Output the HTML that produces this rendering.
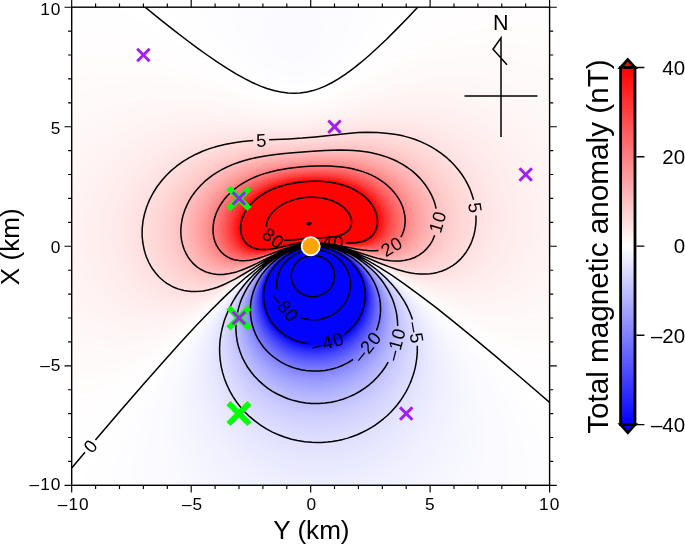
<!DOCTYPE html>
<html><head><meta charset="utf-8"><title>Total magnetic anomaly</title>
<style>html,body{margin:0;padding:0;background:#fff}svg{display:block}text{font-family:'Liberation Sans', sans-serif;fill:#000}</style></head><body>
<svg width="685" height="545" viewBox="0 0 685 545">
<rect width="685" height="545" fill="#fff"/>
<defs><clipPath id="mc"><rect x="71.7" y="7.2" width="477.9" height="478.1"/></clipPath>
<linearGradient id="cb" x1="0" y1="0" x2="0" y2="1"><stop offset="0" stop-color="#f00"/><stop offset="0.5" stop-color="#fff"/><stop offset="1" stop-color="#00f"/></linearGradient></defs>
<g clip-path="url(#mc)">
<rect x="71.7" y="7.2" width="477.9" height="478.1" fill="#fff"/>
<g shape-rendering="geometricPrecision">
<path fill="#fffefe" d="M71.7 447.1L71.7 447.6L89.6 432L102.8 419.9L117.1 406.2L143.4 379.8L190.2 331.1L208.9 312L227.2 294.1L243.1 279.7L251.7 272.5L261.1 265.4L270 259.4L278.1 254.6L285.4 251L293.9 247.8L301.1 245.8L308.3 244.6L315.4 244.2L323.8 244.7L332.2 246.1L340.5 248.4L348.9 251.4L358.8 255.8L368 260.6L378.3 266.6L395.1 277.3L415.5 291.7L438 308.4L483.9 343.6L507.8 361.6L529.3 377.3L549.6 391.4L549.6 7.2L432.9 7.2L390.6 43.1L374.7 56.2L359.3 68.2L345.4 77.7L337.5 82.5L331 86L325.6 88.5L319 91L311.8 93.2L306.1 94.5L299.9 95.2L293.9 95.5L287.9 95.3L282 94.6L276 93.5L270 92L262.7 89.7L256.4 87.3L248.1 83.7L240.6 80.1L229.3 74.1L214.6 65.8L149.4 25.9L132.6 16.1L116.8 7.2L71.7 7.2Z"/>
<path fill="#fefeff" d="M79.3 485.3L549.6 485.3L549.6 416L534.5 399.2L517.2 381.3L498.9 363.4L479.5 345.5L459.1 327.5L439.1 310.8L417.8 294.1L399.8 280.9L383.9 270.2L370 261.8L358.7 255.8L346.5 250.5L335.7 247L329.8 245.6L325 244.9L320.2 244.4L315.4 244.2L310.7 244.4L305.9 245L301.1 245.8L295.1 247.4L290.3 249L284.4 251.5L273.9 257L268.2 260.6L261.2 265.4L248.9 274.9L235.3 286.9L220.3 301.2L205.2 316.8L186.7 337.1L168.1 358.6L149.5 381.3L133 402.8L117.4 424.3L103.7 444.7L90.2 466.2ZM291.3 90.9L297.5 90.8L303.5 90.2L310.7 88.7L316.6 86.8L323.8 83.8L329.8 80.7L336.7 76.5L343.5 71.7L351 65.8L357.9 59.8L365.5 52.6L373.6 44.3L381.2 35.9L389.3 26.3L397 16.8L404.2 7.2L166.1 7.2L173.8 15.6L181.9 23.9L190.5 32.3L199.5 40.7L209.2 49L218 56.2L225.9 62.2L234.4 68.2L241.8 72.9L250 77.7L256.9 81.3L265.1 84.9L271.8 87.3L278.4 89.1L284.4 90.2Z"/>
<path fill="#fffdfd" d="M71.7 418.4L71.7 419L83.6 413.1L93.2 407.9L102.8 402.1L111.1 396.6L119.5 390.8L127.9 384.5L137.4 377L152.9 363.8L168.5 349.8L184 335.1L216.6 303.6L232 289.3L245.7 277.3L259.4 266.6L266.2 261.8L271.8 258.2L278.1 254.6L285.4 251L291.3 248.6L297.5 246.7L303.5 245.3L309.5 244.5L315.4 244.2L322.6 244.6L328.6 245.4L335.7 247L342.9 249.2L350.9 252.2L358.9 255.8L365.9 259.4L380.5 267.8L397.3 278.5L413.1 289.3L463.6 324.9L479.1 335.3L492.3 343.6L507.8 352.8L522.1 360.5L536.5 367.4L549.6 373L549.6 7.2L476.1 7.2L463.6 12.6L452.8 17.7L442.1 23.3L428.9 30.6L406.2 44.5L361 74.1L349.2 81.3L340.5 86.1L333.2 89.7L327.7 92.1L317.6 95.6L313 96.9L307.1 98.1L302.3 98.8L297 99.2L287.9 99.1L278.4 98L267.5 95.6L255.7 92L246.2 88.5L234.8 83.7L191.2 63.8L172.1 55.4L151.7 47.4L133.8 41.3L118.3 36.8L102.8 33.1L87.2 30.3L71.7 28.3Z"/>
<path fill="#fdfdff" d="M108.9 485.3L549.6 485.3L549.6 460.9L546.6 453L542.6 443.5L538.2 433.9L533.9 425.5L529.2 417.2L524.2 408.8L518 399.2L512.2 390.9L506 382.5L498.5 372.9L484.1 356.2L476.3 347.8L466.9 338.3L449.3 321.6L439.9 313.2L428.7 303.6L409.1 288.1L399.3 280.9L389 273.7L377.9 266.6L369.8 261.8L361 257L353.4 253.4L345.3 250.1L338.1 247.7L331 245.9L325 244.9L317.8 244.3L311.8 244.4L305.9 245L299.3 246.2L292.7 248.2L286.8 250.5L280.5 253.4L274 257L268.2 260.6L259.7 266.6L250.6 273.7L243.5 279.7L235.6 286.9L226.9 295.3L209.6 313.2L199.9 323.9L191.7 333.5L176.3 352.6L169.1 362.2L161.5 372.9L148.9 392.1L143.1 401.6L137.8 411.2L128.7 429.1L124.4 438.7L120.4 448.2L116.9 457.8L114.1 466.2L111.3 475.7ZM289.9 84.9L296.3 85L302.3 84.5L308.3 83.2L314.2 81.3L320.2 78.6L326.2 75.2L333 70.5L338.8 65.8L345.1 59.8L350.6 53.8L356.5 46.6L361.8 39.5L366.4 32.3L371.2 23.9L375.4 15.6L379.1 7.2L200 7.2L203.6 14.4L207.6 21.5L212.2 28.7L217.3 35.9L223 43.1L228.3 49L234.2 55L240.7 61L246.6 65.8L253.2 70.5L258.8 74.1L265.5 77.7L271.2 80.3L277.5 82.5L283.2 83.9Z"/>
<path fill="#fffcfc" d="M71.7 396.9L71.7 397.9L81.3 395.6L90.8 392.7L100.4 389.1L108.7 385.5L118.3 380.7L126.7 376L135 370.9L143.4 365.3L151.7 359.3L161.3 352L170.9 344.2L188.8 328.6L223.7 296.5L235.7 285.7L249.9 273.7L261 265.4L268 260.6L273.8 257L280.3 253.4L286.8 250.4L292.7 248.1L298.7 246.4L304.7 245.1L310.7 244.4L315.4 244.2L321.4 244.4L327.4 245.2L333.4 246.4L339.3 248L344.9 249.8L351 252.2L359 255.8L372.6 263L386.6 271.4L403.3 282.1L450.4 313.7L467.2 324L482.7 332.9L492.3 337.8L500.6 341.8L509 345.4L517.3 348.7L525.7 351.6L534.1 354.1L541.2 355.9L549.6 357.6L549.6 23.8L538.8 22.9L528.1 22.5L517.3 22.6L505.4 23.5L494.6 24.8L482.7 26.9L470.7 29.7L458.8 33.1L448 36.7L436.1 41.3L425.3 45.9L414.6 50.9L394.3 61.3L353.9 83.7L344.6 88.5L334.2 93.3L325 96.8L316.6 99.4L307.1 101.4L298.7 102.4L290.3 102.5L280.8 101.8L272.4 100.4L261.7 97.9L253.9 95.6L243.1 92.1L203.1 77.2L182.8 70.3L164.9 64.9L155.3 62.5L145.8 60.4L136.2 58.6L126.7 57.2L117.1 56.2L107.5 55.5L98 55.2L89.6 55.3L80.1 55.8L71.7 56.6Z"/>
<path fill="#fcfcff" d="M129.9 485.3L528.7 485.3L528.3 476.9L527.4 467.4L525.9 457.8L524 448.2L521.6 438.7L519 430.3L515.6 420.8L512.2 412.4L508.4 404L503.5 394.5L498.8 386.1L492.8 376.5L487.1 368.2L480.9 359.8L473.3 350.2L466.2 341.9L457.4 332.3L446.8 321.6L436.7 312L425.9 302.4L414.4 292.9L403.7 284.5L392.2 276.1L381.5 269L371.7 263L363.1 258.2L353.4 253.4L345.3 250.1L337.2 247.4L329.8 245.7L322.6 244.6L315.4 244.3L309.5 244.6L302.3 245.6L295.1 247.4L288.4 249.8L280.5 253.4L274 257L266.5 261.8L259.8 266.6L250.7 273.7L242.4 280.9L233.4 289.3L224.9 297.6L215.9 307.2L207.3 316.8L199.2 326.3L190.6 337.1L183.4 346.7L177.5 355L171.2 364.6L165.3 374.1L159.8 383.7L154.8 393.3L150.2 402.8L146.6 411.2L142.9 420.8L139.6 430.3L136.8 439.9L134.7 448.2L132.8 457.8L131.4 467.4L130.5 475.7ZM289.2 76.5L295.1 76.9L300.1 76.5L305.9 75.3L311.8 73.2L316.9 70.5L322.3 67L326.6 63.4L331.4 58.6L335.4 53.8L339.6 47.8L343.1 41.9L346.6 34.7L348.9 28.7L350.9 21.5L352.4 14.4L353.1 7.2L231.2 7.2L231.9 13.2L233.2 19.2L234.9 25.1L237.2 31.1L240 37.1L242.7 41.9L246.7 47.8L250.4 52.6L254.7 57.4L259.7 62.2L264.2 65.8L269.6 69.4L273.9 71.7L279.5 74.1L284.4 75.6Z"/>
<path fill="#fffbfb" d="M71.7 380.1L71.7 380.6L76.5 380.4L87.2 379.4L96.8 377.8L106.3 375.4L115.9 372.3L124.3 369L133.8 364.5L143.4 359.4L151.7 354.3L160.1 348.8L169.7 342L179.2 334.6L197.1 319.6L229.9 290.5L241 280.9L252.8 271.4L264.3 263L275.8 255.8L282.7 252.2L288.1 249.8L293.9 247.7L299.9 246L305.9 244.9L310.7 244.4L315.4 244.2L321.4 244.4L327.4 245.2L333.4 246.4L339.3 248L345 249.8L351.1 252.2L359.1 255.8L370.6 261.8L385 270.2L398.3 278.5L432.5 300.7L451.6 312.4L469.6 322.2L479.1 326.8L487.5 330.5L495.8 333.8L504.2 336.7L512.6 339.1L519.7 340.8L528.1 342.4L535.3 343.4L542.4 343.9L549.6 344.1L549.6 49.9L538.8 47.1L526.9 44.8L515 43.4L503 42.7L491.1 42.8L479.1 43.6L467.2 45.2L454 47.7L443.3 50.3L432.5 53.5L421.8 57.2L409.8 61.8L399.1 66.4L388.3 71.3L347.9 90.9L339.8 94.5L330.8 98L322.6 100.8L314.2 103L307.1 104.3L298.7 105.2L291.5 105.4L283.2 105L274.8 103.9L265.2 102.1L249.4 98L209.1 85.6L191.2 80.5L181.6 78.2L170.9 75.9L160.1 74L150.6 72.7L141 71.8L130.2 71.3L119.5 71.2L109.9 71.7L100.4 72.6L90.8 74L81.3 75.9L71.7 78.3Z"/>
<path fill="#fbfbff" d="M146.7 485.3L507.5 485.3L508.5 475.7L509 465L508.7 454.2L507.9 444.7L506.8 436.3L505.2 427.9L503.2 419.6L500.7 411.2L497.8 402.8L495 395.7L491.3 387.3L487 378.9L482.4 370.6L477.2 362.2L471.5 353.8L466.2 346.7L460.5 339.5L453.4 331.1L439.9 316.8L431.3 308.4L422 300L413.6 292.9L403.1 284.5L393.5 277.3L383.1 270.2L373.6 264.2L365.3 259.4L355.9 254.6L348.9 251.5L341 248.6L334.5 246.8L327.4 245.3L321.4 244.5L314.2 244.3L308.3 244.7L302.3 245.6L295.1 247.4L288.4 249.8L280.6 253.4L274.1 257L266.6 261.8L258.3 267.8L250.9 273.7L242.6 280.9L233.7 289.3L224.3 298.8L215.5 308.4L207.3 318L200.5 326.3L193.3 335.9L185.7 346.7L180.3 355L175.3 363.4L170 372.9L165.8 381.3L162 389.7L158.1 399.2L155.1 407.6L152.6 416L150.4 424.3L148.6 432.7L147.2 441.1L146.2 450.6L145.6 460.2L145.5 468.6L145.9 476.9ZM295 62.2L297.5 62L301.1 61.3L304.7 60L307.4 58.6L310.7 56.3L313.3 53.8L315.4 51.3L317.8 47.8L319.6 44.3L321 40.7L322 37.1L322.8 32.3L322.9 27.5L322.5 23.9L321.8 20.3L320.6 16.8L317.8 11.3L314.7 7.2L273.2 7.2L270.4 10.8L268.3 14.4L266.9 18L265.7 22.7L265.3 27.5L265.5 32.3L266.4 37.1L268 41.9L270.4 46.6L272.8 50.2L276 53.8L279.6 56.9L283.2 59.1L286.8 60.7L290.3 61.7Z"/>
<path fill="#fffafa" d="M74 365.8L82.5 366.7L92 366.8L101.6 366.2L111.1 364.7L120.7 362.5L130.2 359.4L139.8 355.6L149.4 351L157.7 346.4L166.1 341.3L175.6 334.8L185.2 327.8L203.1 313.3L233.7 286.9L245.1 277.3L255.8 269L266 261.8L271.6 258.2L277.9 254.6L282.6 252.2L289.1 249.4L294.7 247.4L299.9 246L305.9 244.9L310.7 244.4L315.4 244.2L321.4 244.4L326.8 245.1L332.2 246.1L337.6 247.4L344.1 249.5L350.1 251.8L356.6 254.6L368.6 260.6L381.3 267.8L395 276.1L426.5 295.9L444.5 306.5L454 311.6L463.6 316.3L473.1 320.6L481.5 323.9L491.1 327.1L499.4 329.4L507.8 331.1L516.1 332.4L524.5 333.1L532.9 333.3L541.2 332.8L549.6 331.7L549.6 71.1L538.8 66.7L526.9 62.8L515 59.9L503 57.9L491.1 56.7L477.9 56.4L466 56.9L452.8 58.3L440.9 60.4L430.1 62.8L418.2 66.1L406.2 70L396.7 73.6L384.7 78.4L344.9 95.6L335.7 99.2L328.6 101.7L320.8 104L313 105.8L304.7 107.2L297.5 107.8L290.3 107.9L283.6 107.6L276 106.8L268.8 105.7L253.3 102.4L212.7 91.7L194.8 87.6L184 85.5L174.4 84.1L163.7 82.9L154.1 82.2L143.4 82L132.6 82.3L121.9 83.2L111.1 84.8L100.4 87L90.8 89.5L81.3 92.7L71.7 96.5L71.7 365.4Z"/>
<path fill="#fafaff" d="M160.9 485.3L490.3 485.3L492.5 475.7L494 467.4L495 457.8L495.5 448.2L495.3 438.7L494.7 430.3L493.5 420.8L491.6 411.2L489.9 404L487.7 396.9L484.8 388.5L481.9 381.3L478.6 374.1L475 367L470.2 358.6L465.7 351.4L460.9 344.3L455.5 337.1L449.8 329.9L443.6 322.7L437 315.6L429.9 308.4L415.6 295.3L407.1 288.1L399.5 282.1L391.4 276.1L382.8 270.2L373.4 264.2L365.1 259.4L358.2 255.8L350.4 252.2L344.4 249.8L337 247.4L331 245.9L325 244.9L319 244.4L313 244.3L307.1 244.8L301.1 245.9L295.1 247.5L288.4 249.8L280.6 253.4L274.1 257L266.7 261.8L258.4 267.8L251 273.7L242.8 280.9L234 289.3L225.9 297.6L218.2 306L210.1 315.6L203.5 323.9L196.5 333.5L189.3 344.3L184.2 352.6L179.5 361L175.3 369.4L171.4 377.7L168.1 386.1L165.1 394.5L162.6 402.8L160.5 411.2L158.8 419.6L157.5 427.9L156.7 436.3L156.3 444.7L156.4 453L156.9 461.4L157.8 469.8L159.3 478.1Z"/>
<path fill="#fff9f9" d="M92.9 356.2L100.4 356.7L108.7 356.6L117.1 355.8L125.5 354.3L133.8 352.2L142.2 349.5L150.6 346.1L158.9 342.1L167.3 337.5L174.4 333.1L184 326.7L192.4 320.6L209.1 307.4L246.4 276.1L257.3 267.8L267.7 260.6L273.6 257L280.1 253.4L285.2 251L290.3 248.9L296.3 247L301.1 245.8L305.9 244.9L310.7 244.4L315.4 244.2L320.2 244.3L325 244.8L331 245.8L335.7 246.9L341.6 248.6L348.3 251L354.1 253.4L364.2 258.2L377.4 265.4L391.6 273.7L421.8 292.2L440.9 303L450.4 307.8L460 312.2L469.6 316.1L477.9 318.9L487.5 321.6L497 323.6L506.6 324.8L515 325.2L524.5 325L532.9 324L541.2 322.3L549.6 319.9L549.6 89.6L538.8 83.6L528.1 78.6L517.3 74.6L505.4 71.2L493.4 68.8L481.5 67.3L469.6 66.6L457.6 66.7L446.9 67.5L434.9 69.1L423 71.4L409.8 74.8L397.9 78.4L384.7 83L346.5 98L333.2 102.8L325.4 105.2L317.8 107.2L310.7 108.6L304.7 109.4L297.5 110L289.1 110.2L282 109.8L273.6 108.9L258.1 106.3L218.7 97.3L198.3 93.4L187.6 91.8L176.8 90.7L166.1 90.1L156.5 90L144.6 90.5L133.8 91.6L123.1 93.3L112.3 95.8L101.6 99L92 102.6L82.5 106.9L72.2 112.4L71.7 112.7L71.7 351.6L76.5 353.1L82.5 354.6Z"/>
<path fill="#f9f9ff" d="M173 484.1L173.4 485.3L475.5 485.3L479.5 473.3L482.5 461.4L484.4 449.4L485.4 436.3L485.2 424.3L484 412.4L481.9 400.4L478.3 387.3L475.9 380.1L473.1 372.9L469.8 365.8L466.2 358.6L462.9 352.6L458.5 345.5L453.7 338.3L448.4 331.1L442.7 323.9L437.5 318L432 312L425 304.8L417.4 297.6L410.7 291.7L395.9 279.7L387.8 273.7L380.8 269L373.2 264.2L365 259.4L358.1 255.8L351.3 252.6L345.3 250.2L339.3 248.1L333.4 246.5L327.4 245.3L321.4 244.5L316.6 244.3L310.7 244.5L304.7 245.2L299.5 246.2L293.9 247.8L287.9 250.1L280.7 253.4L274.2 257L266.7 261.8L258.5 267.8L251.1 273.7L243 280.9L235.5 288.1L228.5 295.3L220.9 303.6L212.9 313.2L206.4 321.6L200.4 329.9L194.1 339.5L189.1 347.8L184.5 356.2L181 363.4L177.3 371.8L174.1 380.1L171.4 388.5L169.1 396.9L167.5 404L166 412.4L165 420.8L164.5 429.1L164.4 437.5L164.7 444.7L165.5 453L166.8 461.4L168.4 468.6L170.6 476.9Z"/>
<path fill="#fff8f8" d="M100.7 347.8L108.7 348.7L115.9 348.8L124.3 348.2L132.6 347L141 345.1L148.2 342.9L156.5 339.7L164.9 335.9L172.1 332.1L180.4 327.2L187.6 322.5L196 316.6L211.5 304.6L249.3 273.7L258.9 266.6L269.6 259.4L280.1 253.4L285.1 251L290.3 248.9L295.1 247.3L299.9 246L304.7 245.1L309.5 244.5L314.2 244.2L319 244.2L323.8 244.6L329.8 245.5L334.5 246.6L340.5 248.3L346.5 250.3L352.5 252.7L364.3 258.2L375.5 264.2L419.4 290L437.3 299.8L448 305L457.6 309L467.2 312.4L475.5 314.9L486.3 317.2L495.8 318.5L505.4 319L515 318.5L524.5 317.2L532.9 315.1L541.2 312.2L549.6 308.3L549.6 106.4L544.8 102.8L538.8 98.7L528.1 92.3L516.1 86.6L504.2 82.2L498.2 80.4L491.1 78.5L477.9 76.1L464.8 74.8L451.6 74.5L440.9 75.1L430.1 76.2L418.2 78.2L406.2 80.8L394.3 84.1L382.3 87.8L344 101.6L332.2 105.5L325 107.6L317.8 109.3L310.7 110.7L304.7 111.5L297.5 112.1L290.3 112.2L283.2 112L274.8 111.3L258.3 108.8L223.4 101.9L204.3 98.7L194.8 97.5L185.2 96.7L175.6 96.3L167.3 96.2L156.5 96.7L147 97.6L136.2 99.3L126.7 101.4L117.1 104.2L108.7 107.1L99.2 111.1L90.8 115.3L81.3 120.9L71.7 127.6L71.7 338.5L78.9 341.8L86 344.5L93.2 346.4Z"/>
<path fill="#f8f8ff" d="M184.9 485.3L462.3 485.3L465.7 478.1L468.6 471L471.1 463.8L473.1 456.6L474.8 449.4L476.2 441.1L477.1 432.7L477.4 425.5L477.4 417.2L476.9 410L476.1 402.8L474.7 394.5L473 387.3L471 380.1L468.6 372.9L465.3 364.6L462 357.4L458.9 351.4L454.9 344.3L451.1 338.3L446.2 331.1L441.7 325.1L436.9 319.2L430.7 312L419.1 300L405.9 288.1L392.4 277.3L384.1 271.4L376.9 266.6L369.1 261.8L362.7 258.2L351.3 252.7L345.3 250.2L339.3 248.2L333.4 246.5L328.6 245.5L322.6 244.7L317.8 244.3L311.8 244.4L307.1 244.9L302.3 245.6L297.5 246.8L291.6 248.6L286.8 250.6L280.7 253.4L274.3 257L266.8 261.8L258.6 267.8L251.3 273.7L243.2 280.9L235.8 288.1L228.9 295.3L221.5 303.6L214.6 312L208.2 320.4L202.4 328.7L197.8 335.9L192.9 344.3L188.5 352.6L184.6 361L181.2 369.4L178.6 376.5L176.1 384.9L174.1 393.3L172.7 400.4L171.6 408.8L171 416L170.8 424.3L171 432.7L171.6 439.9L172.8 448.2L174.3 455.4L176.5 463.8L178.8 471L181.6 478.1Z"/>
<path fill="#fff7f7" d="M113.7 341.9L120.7 342.3L127.9 342.2L135 341.5L142.2 340.3L149.4 338.6L156.5 336.3L164.9 333L172.1 329.7L179.2 325.9L185.2 322.4L192.4 317.8L200.7 312L215.1 301.1L249.1 273.7L258.8 266.6L269.5 259.4L280.1 253.4L285.1 251L290.3 248.9L295.1 247.3L299.9 246L304.7 245.1L309.5 244.4L314.2 244.2L319 244.2L323.8 244.6L329.8 245.5L334.5 246.6L340.5 248.2L351.4 252.2L362 257L373.6 263L414.6 286.7L432.5 296.2L442.1 300.7L450.4 304.2L458.8 307.3L467.2 309.8L476.7 312L486.3 313.3L495.8 313.9L504.2 313.6L512.6 312.5L520.9 310.7L529.3 307.9L536.5 304.7L542.8 301.2L549.6 296.6L549.6 122.3L544.1 117.2L538.8 112.7L533.8 108.8L528.1 104.9L522.1 101.1L516.1 97.8L510.2 94.9L503 91.8L495.8 89.1L489.9 87.2L482.7 85.3L475.5 83.8L468.4 82.6L461.2 81.7L454 81.2L446.9 81L436.1 81.3L425.3 82.2L413.4 83.9L401.5 86.3L390.7 89L378.8 92.5L344.1 104L329.8 108.4L317.8 111.3L311.8 112.4L304.7 113.4L297.5 114L290.3 114.1L283.2 113.9L276 113.4L259.3 111.2L227 105.6L210.3 103.2L200.7 102.2L192.4 101.6L184 101.3L175.6 101.3L166.1 101.8L156.5 102.7L147 104.2L138.6 106L130.2 108.3L121.4 111.2L113.5 114.3L105.2 118.3L95.6 123.6L87.2 129.1L79.3 135.1L71.7 141.8L71.7 325.7L76.5 328.9L81.3 331.8L86 334.2L92 336.7L96.8 338.4L102.8 340L108.7 341.2Z"/>
<path fill="#f7f7ff" d="M194.8 484.1L195.5 485.3L450.2 485.3L455 476.9L459.2 468.6L462.6 460.2L465.4 451.8L467.6 443.5L469.2 435.1L470.3 426.7L470.9 417.2L470.8 408.8L470.1 399.2L468.9 390.9L466.9 381.3L464.6 372.9L461.7 364.6L458.2 356.2L453.5 346.7L446.5 334.7L441.7 327.5L437.2 321.6L427.3 309.6L415.7 297.6L403.9 286.9L390.4 276.1L376.7 266.6L368.9 261.8L362.6 258.2L355.5 254.6L350.2 252.2L339.3 248.2L333.4 246.5L328.6 245.5L323.8 244.8L319 244.4L314.2 244.3L309.5 244.6L304.7 245.2L299.6 246.2L293.9 247.9L289.1 249.6L279.6 254L274.3 257L266.9 261.8L258.7 267.8L251.4 273.7L244.7 279.7L237.3 286.9L230.4 294.1L223 302.4L217.1 309.6L210.8 318L205.9 325.1L201.3 332.3L196.5 340.7L192.7 347.8L188.9 356.2L185.5 364.6L183 371.8L180.6 380.1L178.7 388.5L177.5 395.7L176.5 404L176.1 411.2L176.1 419.6L176.5 426.7L177.4 435.1L178.6 442.3L180.3 449.4L182.4 456.6L184.9 463.8L187.9 471L191.2 477.7Z"/>
<path fill="#fff6f6" d="M117.1 335.9L124.3 336.7L131.4 336.9L138.6 336.5L145.8 335.6L152.9 334L160.1 332L167.3 329.4L175.6 325.7L182.8 322L188.8 318.6L196 314.1L203.1 309.3L216.3 299.6L244.3 277.3L253.7 270.2L262.1 264.2L271.4 258.2L277.7 254.6L282.4 252.2L291 248.6L299.9 246L304.7 245L309.5 244.4L314.2 244.2L319 244.2L323.8 244.6L329.8 245.5L334.5 246.6L340.5 248.2L351.5 252.2L362.1 257L371.5 261.8L411 284.1L426.5 292.3L436.1 296.8L444.5 300.3L452.8 303.3L460 305.5L468.4 307.5L476.7 308.8L485.1 309.5L493.4 309.5L501.8 308.7L509.7 307.2L517.3 305L524.5 302.1L530.9 298.8L537.7 294.6L543.6 290L549.6 284.4L549.6 138.1L544.8 132.4L539.5 126.7L534.4 121.9L528.8 117.2L523.3 113L517.2 108.8L510.2 104.6L504.2 101.4L498.2 98.7L491.1 95.7L483.9 93.3L476.7 91.2L468.4 89.3L461.2 88.1L452.8 87.1L445.7 86.6L434.9 86.5L423 87.1L411 88.5L399.1 90.6L388.3 93L376.4 96.2L343.5 106.4L329.8 110.4L316.6 113.4L304.7 115.1L297.5 115.7L291.5 115.9L284.4 115.8L277.2 115.4L261.7 113.6L231.8 109.1L215.1 107L199.5 105.7L184 105.5L175.6 105.9L167.3 106.7L158.9 107.8L150.6 109.4L142.2 111.5L135 113.6L127.9 116.2L119.9 119.6L113.5 122.6L106.3 126.6L100.4 130.4L93.7 135.1L87.8 139.9L82.4 144.7L76.5 150.6L71.7 156L71.7 312.8L76.5 317.1L82.2 321.6L87.7 325.1L93.2 328.2L99.2 330.9L105.2 333.1L111.1 334.7Z"/>
<path fill="#f6f6ff" d="M204.7 484.1L205.5 485.3L438.9 485.3L444.7 476.9L449.7 468.6L454.4 459L458.2 449.4L461.1 439.9L463.5 429.1L464.9 418.4L465.4 408.8L465.2 399.2L464.1 388.5L462.1 377.7L459.6 368.2L456.3 358.6L452.2 349L447.2 339.5L441.5 329.9L433 318L424 307.2L418.5 301.2L412.5 295.3L400.6 284.5L394.7 279.7L386.9 273.7L374.6 265.4L362.4 258.2L355.4 254.6L348.9 251.7L338.1 247.8L328.6 245.5L323.8 244.8L319 244.4L314.2 244.3L309.5 244.6L304.7 245.2L299.9 246.2L295.1 247.5L290.3 249.2L280.8 253.4L270.5 259.4L263.6 264.2L257.3 269L250.2 274.9L242.4 282.1L235.2 289.3L228.6 296.5L222.5 303.6L216.9 310.8L210.8 319.2L206.1 326.3L201.8 333.5L197.9 340.7L194.4 347.8L190.8 356.2L188.2 363.4L185.9 370.6L183.8 378.9L182.4 386.1L181.4 393.3L180.7 400.4L180.4 408.8L180.6 416L181.2 423.1L182.2 430.3L183.7 437.5L185.5 444.7L187.8 451.8L190.6 459L193.6 465.5L197.1 472.2L200.7 478.3Z"/>
<path fill="#fff5f5" d="M122.8 331.1L129 332L136.2 332.3L143.4 332L150.6 331.2L157.7 329.7L164.9 327.7L172.1 325.1L179.2 322L186.4 318.5L192.4 315.1L199.5 310.7L206.7 305.9L219.8 296.3L253.6 270.2L262 264.2L271.3 258.2L277.6 254.6L282.4 252.2L291.5 248.4L296.3 246.9L301.1 245.7L305.9 244.8L310.7 244.3L315.4 244.1L320.2 244.3L329.8 245.5L339.3 247.8L350.1 251.6L359.7 255.8L369.4 260.6L380.5 266.6L407.4 281.7L423 289.7L431.3 293.6L439.7 297.1L446.9 299.7L454 301.9L462.4 303.9L469.6 305.1L477.9 305.8L485.1 305.9L492.3 305.4L499.4 304.3L506.6 302.5L513.8 300L519 297.6L524.5 294.6L529 291.7L533.8 288.1L537.9 284.5L542.6 279.7L546.6 274.9L549.6 270.9L549.6 154.7L545.5 148.2L541.1 142.3L536.2 136.3L530.6 130.3L524.5 124.6L518.5 119.7L511.8 114.8L505.4 110.7L498.2 106.7L491.1 103.3L483.9 100.3L476.7 97.9L469.6 95.8L461.2 93.9L452.8 92.5L444.5 91.6L433.7 91.1L421.8 91.3L409.8 92.4L397.9 94.2L387.1 96.4L374 99.6L342.2 108.8L328.6 112.5L315.4 115.3L303.5 116.9L290.3 117.5L277.2 117.1L264.1 115.8L234.2 111.9L219.8 110.3L205.5 109.3L191.2 109.1L182.8 109.5L175.6 110.1L168.5 111L160.1 112.5L152.9 114.1L145.8 116.1L139 118.4L132.6 120.8L123.1 125.2L114.7 129.8L106.4 135.1L98.5 141.1L90.3 148.2L83.6 155.2L77.5 162.6L71.7 170.7L71.7 299.1L76.5 304.9L82.2 310.8L88.4 316L94.7 320.4L101.6 324.2L108.7 327.3L115.9 329.6Z"/>
<path fill="#f5f5ff" d="M214.2 484.1L215.3 485.3L428.2 485.3L435.9 475.7L442.1 466.5L447.5 456.6L452.3 445.9L455.9 435.1L457.4 429.1L458.7 423.1L460.3 411.2L460.7 400.4L460.2 389.7L458.6 377.7L455.7 365.8L452.2 355L447.6 344.3L441.9 333.5L435 322.7L427 312L417.6 301.2L406.8 290.5L394.3 279.7L381.6 270.2L368.6 261.8L357.7 255.8L351.3 252.8L345.3 250.3L339.3 248.2L334.5 246.9L325 245L320.2 244.5L315.4 244.3L310.7 244.5L305.9 245.1L301.1 245.9L296.3 247.2L291.5 248.7L285.8 251L276.5 255.8L267 261.8L257.4 269L251.7 273.7L245.1 279.7L239 285.7L232.2 292.9L225.9 300L220.2 307.2L215.7 313.2L210.8 320.4L206.4 327.5L202.3 334.7L198.7 341.9L195.5 349L193.1 355L190.7 362.2L188.6 369.4L186.9 376.5L185.7 383.7L184.8 390.9L184.3 398L184.3 405.2L184.6 412.4L185.4 419.6L186.6 426.7L188.2 433.9L190.2 441.1L192.4 447.1L195.3 454.2L198.2 460.2L201.5 466.2L205.5 472.5L209.5 478.1Z"/>
<path fill="#fff4f4" d="M131.3 327.5L137.4 328.1L143.4 328.3L149.4 328L156.5 327L162.5 325.8L169.7 323.8L176.8 321.2L182.8 318.7L190 315.1L196 311.8L209.1 303.4L221 294.9L255.1 269L263.7 263L273.3 257L282.3 252.2L287.8 249.8L292.7 248L297.5 246.6L302.3 245.4L310.7 244.3L319 244.2L323.8 244.6L328.6 245.3L338 247.4L348.7 251L358.4 255.2L369.6 260.6L406.2 280.6L420.6 287.8L427.7 291.1L436.1 294.5L443.3 297L449.2 298.8L456.4 300.6L463.6 301.8L470.7 302.6L477.9 302.8L485 302.4L491.1 301.6L498.2 300L504.2 298.1L511.4 295.1L518.5 291.1L525.7 286L531.5 280.9L537 274.9L541.5 269L546 261.8L549.6 254.4L549.6 173.8L546.2 166.2L542.5 159L538 151.8L532.8 144.7L527.8 138.7L522.1 132.7L515.6 126.7L509 121.4L501.8 116.5L494.6 112.2L487.5 108.5L479.1 104.9L470.7 101.9L462.4 99.5L454 97.7L445.7 96.4L433.7 95.3L421.8 95.2L409.8 95.8L396.7 97.5L384.7 99.6L374 102.1L335.7 112.4L325.8 114.8L313.3 117.2L302.3 118.5L290.3 119L277.2 118.7L264.1 117.5L236.6 114.3L224.6 113.2L210.3 112.3L198.3 112.2L184 113L176.8 113.9L169.7 115L156.5 118L144.6 121.8L138.6 124.1L132.6 126.8L121.6 132.7L111.1 139.6L101.6 147.3L96.8 151.8L92.2 156.6L88 161.4L84.3 166.2L80.9 170.9L77.1 176.9L71.7 187.2L71.7 283.5L76.5 291.7L79.8 296.5L82.7 300L89.5 307.2L96.6 313.2L100.4 315.8L105.2 318.7L113.5 322.7L121.9 325.6L126.7 326.7Z"/>
<path fill="#f4f4ff" d="M223.6 484.1L224.8 485.3L417.7 485.3L423 480L427.7 474.5L431.3 470L434.9 465L438.8 459L442.2 453L445.1 447.1L447.7 441.1L450 435.1L451.8 429.1L453.4 423.1L454.6 417.2L455.7 410L456.3 404L456.6 396.9L456.5 390.9L456 383.7L454.2 371.8L452.6 364.6L450.9 358.6L448.8 352.6L446 345.5L443.2 339.5L440.1 333.5L436.7 327.5L432.8 321.6L424.9 310.8L420 304.8L414.6 298.8L403.7 288.1L392.5 278.5L379.6 269L372.4 264.2L366.5 260.6L355.2 254.6L344 249.8L338.1 247.9L333.4 246.6L323.8 244.8L319 244.4L314.2 244.4L309.5 244.6L304.7 245.3L299.9 246.2L295.4 247.4L290.3 249.2L285.9 251L276.5 255.8L267.1 261.8L256.1 270.2L245.3 279.7L234.7 290.5L224.4 302.4L215.6 314.4L210.9 321.6L207.3 327.5L201.1 339.5L198 346.7L195.7 352.6L191.9 364.6L190.5 370.6L189.2 377.7L188.2 384.9L187.8 390.9L187.6 398L187.8 404L189 416L190.3 423.1L191.7 429.1L193.5 435.1L195.6 441.1L198.1 447.1L201 453L204.3 459L207.2 463.8L211.3 469.8L215 474.5L219.1 479.3Z"/>
<path fill="#fff3f3" d="M136.1 323.9L142.2 324.6L148.2 324.7L154.1 324.4L161.3 323.5L167.3 322.2L173.3 320.6L179.2 318.5L186.4 315.5L192.4 312.6L198.3 309.3L211.5 301.1L224.6 291.8L255 269L263.6 263L273.2 257L283.2 251.8L292.7 248L297.5 246.6L302.3 245.4L310.7 244.3L319 244.2L323.8 244.6L328.6 245.3L338.1 247.4L348.8 251L357.4 254.6L367.4 259.4L403.8 278.9L417 285.5L431.3 291.6L438.5 294.2L444.5 296L451.6 297.8L458.8 299.1L466 299.8L473.1 300L480.3 299.6L486.3 298.7L492.3 297.4L498.2 295.5L505.4 292.5L512.6 288.5L518.5 284.2L525 278.5L530.4 272.5L535.6 265.4L539.8 258.2L543.5 249.8L546.7 240.3L547.8 235.5L548.8 229.5L549.6 222.4L549.6 208.1L548.8 200.8L547.6 193.7L545.8 186.5L543.5 179.3L540.7 172.1L537.3 165L533.2 157.8L528.4 150.6L522.8 143.5L517.4 137.5L511.4 131.7L505.4 126.7L498.2 121.4L491.1 116.9L483.9 113L475.5 109.2L467.2 106.1L458.8 103.5L450.4 101.6L442.1 100.2L431.3 99L419.4 98.7L407.4 99.2L394.3 100.6L383.5 102.4L372.8 104.6L337.5 113.6L325 116.5L314.2 118.5L302.3 119.9L290.3 120.5L278.4 120.2L266.4 119.4L227 115.6L213.9 115L201.9 115L188.8 115.9L175.6 117.7L163.7 120.3L151.7 124L144.6 126.8L137.4 130L130.2 133.8L124.1 137.5L117.2 142.3L111.1 147L105.7 151.8L100.4 157.2L95.6 162.6L90.9 168.6L86.8 174.5L82.5 181.7L79.5 187.7L76.3 194.9L73.8 202L71.7 209.2L71.7 262.3L73.3 267.8L75.5 273.7L78.2 279.7L80.7 284.5L85.2 291.7L90.8 298.8L96.8 305L104 310.8L111.4 315.6L119.5 319.4L127.9 322.2Z"/>
<path fill="#f3f3ff" d="M232.9 484.1L234.4 485.3L407.4 485.3L414.6 478.9L421.8 471.5L428.1 463.8L434 455.4L437.5 449.4L440.7 443.5L443.4 437.5L445.8 431.5L447.8 425.5L449.4 419.6L451 412.4L451.9 406.4L452.5 400.4L452.9 393.3L452.9 387.3L452.4 380.1L451.5 372.9L450.4 367L448.7 359.8L447 353.8L444.9 347.8L442.4 341.9L439.7 335.9L436.5 329.9L433 323.9L429.1 318L424.8 312L420.1 306L414.9 300L409.3 294.1L403.2 288.1L397.8 283.3L392.2 278.5L384.4 272.5L372.2 264.2L359.9 257L349.9 252.2L339.3 248.3L329.8 245.8L325 245L320.2 244.5L315.4 244.4L310.7 244.5L302.3 245.7L297.5 246.8L292.7 248.3L283.4 252.2L278.7 254.6L272.6 258.2L262.2 265.4L256.2 270.2L250.6 274.9L239.4 285.7L229.7 296.5L220.4 308.4L213.2 319.2L206.4 331.1L201.3 341.9L197.2 352.6L194.2 363.4L191.8 375.3L190.8 386.1L190.6 396.9L191.5 407.6L193.3 418.4L196.2 429.1L200.2 439.9L204.9 449.4L210.7 459L217.5 468.2L224.6 476.3Z"/>
<path fill="#fff2f2" d="M148.9 321.6L154.1 321.6L158.9 321.2L163.7 320.6L169.7 319.5L174.4 318.3L180.4 316.4L186.4 314L192.4 311.4L203.1 305.6L215.1 298.1L227 289.6L256.5 267.8L265.4 261.8L273.2 257L282.3 252.2L291.5 248.4L296.3 246.9L301.1 245.7L309.5 244.4L317.8 244.1L322.6 244.4L327.5 245.1L336.9 247.1L347.7 250.6L357.5 254.6L367.5 259.4L400.3 276.7L414.6 283.8L428.9 289.8L436.1 292.3L442.1 294L449.2 295.7L456.4 296.9L463.6 297.5L469.6 297.5L475.5 297.1L481.5 296.3L487.5 294.9L493.4 293L500.6 289.9L507.8 285.8L513.8 281.4L519.5 276.1L524.8 270.2L529.8 263L533.8 255.8L536.9 248.6L539.7 240.3L541.5 231.9L542.6 223.5L542.9 215.2L542.5 206.8L541.2 197.2L539.3 188.9L536.3 179.3L533.3 172.1L529.7 165L525.5 157.8L521.4 151.8L515.6 144.7L510.2 138.8L504.2 133.2L498.2 128.3L491.1 123.2L483.9 118.8L476.7 115.1L469.6 111.9L462.4 109.2L454 106.7L445.7 104.7L437.3 103.3L426.5 102.2L415.8 101.8L403.8 102.3L391.9 103.5L382.3 104.9L370.4 107.2L334 116L322.8 118.4L311.8 120.2L302.3 121.2L291.5 121.8L279.6 121.7L266.4 120.9L229.4 117.8L217.5 117.4L205.5 117.5L192.4 118.5L179.2 120.4L167.3 123.1L155.3 127L147 130.4L138.6 134.5L130.2 139.4L123.1 144.3L116.6 149.4L110 155.4L104.3 161.4L98.4 168.6L93.4 175.7L89.1 182.9L85.5 190.1L82 198.4L79.3 206.8L77.3 215.2L76 223.5L75.3 231.9L75.4 240.3L76.1 248.6L77.5 257L79.7 265.4L82.8 273.7L86.2 280.9L90.5 288.1L94.9 294.1L100.3 300L106.3 305.5L112.3 309.9L119.5 314.1L126.7 317.2L133.8 319.4L141 320.8Z"/>
<path fill="#f2f2ff" d="M242.4 484.1L244.1 485.3L397 485.3L402.6 481.1L408.6 476.1L414.6 470.5L419.7 465L424.7 459L429 453L432.9 447.1L436.8 439.9L439.7 433.9L442.1 427.9L444.2 422L446.2 414.8L447.6 408.8L448.5 402.8L449.3 395.7L449.6 389.7L449.6 383.7L449.2 376.5L448.5 370.6L447.5 364.6L446.1 358.6L444.1 351.4L442 345.5L439.6 339.5L436.9 333.5L433.8 327.5L430.3 321.6L426.4 315.6L422 309.6L417.3 303.6L407.5 292.9L401.4 286.9L396.1 282.1L384.2 272.5L377.5 267.8L370.2 263L364.1 259.4L357.5 255.8L346.9 251L336.5 247.4L327.4 245.4L322.6 244.7L317.8 244.4L313 244.4L308.3 244.8L299.9 246.2L291.5 248.8L286.8 250.7L282 252.9L276.6 255.8L270.8 259.4L260.8 266.6L254.9 271.4L249.4 276.1L239.7 285.7L230.1 296.5L221.8 307.2L214.6 318L211.1 323.9L207.3 331.1L202.5 341.9L199.1 351.4L196.2 362.2L194.3 372.9L193.3 383.7L193.3 394.5L194.4 405.2L196.1 414.8L199.2 425.5L202.8 435.1L207.6 444.7L212.7 453.1L218.7 461.4L225.8 469.5L234.2 477.5Z"/>
<path fill="#fff1f1" d="M144.8 318L150.6 318.6L156.5 318.8L162.5 318.4L168.5 317.7L174.4 316.4L180.4 314.7L186.4 312.6L192.4 310.2L198.3 307.3L204.3 304.1L216.3 296.7L228.2 288.4L256.4 267.8L267.1 260.6L275.2 255.8L284.8 251L293.9 247.6L302.3 245.4L310.7 244.3L319 244.2L323.8 244.5L328.6 245.2L338.3 247.4L347.7 250.6L356.1 253.9L365.3 258.2L399.1 275.7L413.4 282.7L426.5 288.1L438.5 291.9L445.7 293.5L451.6 294.5L457.6 295.1L463.6 295.3L469.6 295.1L475.5 294.4L481.5 293.1L487.5 291.4L494.6 288.4L500.6 285.2L506.8 280.9L512.6 275.9L517.9 270.2L522.4 264.2L526.7 257L530.1 249.8L532.7 242.7L534.8 234.3L536.1 225.9L536.6 217.6L536.4 209.2L535.5 200.8L533.5 191.3L531 182.9L528.3 175.7L524.9 168.6L520.8 161.4L516.9 155.4L511.4 148.3L505.9 142.3L499.7 136.3L494 131.5L487.5 126.7L480.3 122.2L473.1 118.4L466 115.1L457.6 111.9L450.4 109.7L442.1 107.7L433.7 106.3L423 105.1L412.2 104.7L401.5 105L389.5 106.1L379.9 107.5L368 109.7L335 117.2L323.5 119.6L313 121.3L302.3 122.5L291.5 123.1L280.8 123L268.8 122.4L231.8 119.8L219.8 119.5L209.1 119.7L197.1 120.6L185.2 122.3L173.3 124.9L162.5 128.2L155.3 131L147 134.8L139.7 138.7L132.1 143.5L125.5 148.3L118.5 154.2L112.4 160.2L107.1 166.2L101.6 173.3L97 180.5L93.1 187.7L89.8 194.9L86.7 203.2L84.6 210.4L83.1 217.6L82 225.9L81.5 234.3L81.8 242.7L82.8 251L84.2 258.2L86.6 266.6L89.4 273.7L93 280.9L96.8 286.9L101.2 292.9L106.8 298.8L112.2 303.6L118.3 308L124.3 311.4L131.1 314.4L137.4 316.4Z"/>
<path fill="#f1f1ff" d="M252.3 484.1L254.3 485.3L386.2 485.3L395.5 479.3L403.3 473.3L411 466.4L418 459L424.2 451.3L429.4 443.5L434.1 435.1L438.5 425.5L440.7 419.6L442.5 413.6L444 407.6L445.2 401.6L446 395.7L446.5 389.7L446.7 383.7L446.5 376.5L446 370.6L445.1 364.6L444 358.6L442.5 352.6L440.6 346.7L438.5 340.7L435.9 334.7L433 328.7L429.8 322.7L426.1 316.8L422 310.8L417.5 304.8L408.1 294.1L402.2 288.1L397 283.3L385.5 273.7L379 269L371.9 264.2L366.1 260.6L359.7 257L352.4 253.4L346.9 251L336.4 247.4L327.4 245.4L322.6 244.7L317.8 244.4L309.5 244.7L301.1 246L296.3 247.2L291.5 248.8L286.8 250.7L282 253L272.7 258.2L262.4 265.4L252.2 273.7L242.2 283.3L232.4 294.1L224 304.8L216.8 315.6L210.6 326.3L205.1 338.3L201.2 349L198.7 358.6L196.7 369.4L195.8 378.9L195.7 389.7L196.5 399.2L198.1 408.8L201 419.6L204.5 429.1L209.1 438.8L214.8 448.2L220.9 456.6L228.2 464.8L235.4 471.7L243.7 478.4Z"/>
<path fill="#fff0f0" d="M149.8 315.6L155.3 316.1L161.3 316.2L166.1 315.9L172.1 315.1L178 313.8L182.8 312.5L188.8 310.4L194.8 308L205.5 302.6L217.5 295.4L229.4 287.2L259.7 265.4L267.1 260.6L275.2 255.8L284.8 251L293.9 247.6L302.3 245.4L310.7 244.3L319 244.2L327.6 245.1L336.9 247.1L346.5 250.1L354.9 253.4L365.4 258.2L397.9 274.8L411 281.1L424.2 286.4L436.1 290.1L443.3 291.7L449.2 292.7L455.2 293.2L461.2 293.3L467.2 292.9L473.1 292.1L477.9 291.1L483.7 289.3L491.1 286.1L497 282.8L503 278.5L508.3 273.7L513.7 267.8L518 261.8L522.1 254.6L525.3 247.4L527.7 240.3L529.6 231.9L530.6 224.7L531 216.4L530.6 208L529.5 199.6L527.7 191.3L525.1 182.9L522.3 175.7L518.8 168.6L514.5 161.4L510.4 155.4L505.7 149.4L500.2 143.5L494.6 138.2L488.7 133.2L482.7 128.9L475.5 124.4L468.4 120.6L461.2 117.4L452.8 114.2L445.7 112.1L438.5 110.4L430.1 108.9L420.6 107.8L409.8 107.3L399.1 107.5L387.1 108.5L377.6 109.8L366.8 111.7L332.2 119.1L321.4 121.2L308.3 123.1L297.5 124L287.9 124.3L277.2 124.2L242.5 122.1L229.4 121.6L217.5 121.6L205.5 122.2L194.8 123.4L185.2 125.1L175.6 127.4L166.1 130.4L157.7 133.7L150.6 137.1L143.3 141.1L136.2 145.6L129.4 150.6L123.8 155.4L117.7 161.4L112.4 167.4L107.7 173.3L103 180.5L98.9 187.7L95.6 194.9L92.8 202L90.3 210.4L88.8 217.6L87.6 225.9L87.2 234.3L87.5 242.7L88.5 251L90 258.2L92.1 265.4L94.9 272.5L98.6 279.7L102.3 285.7L106.9 291.7L112.3 297.4L118.2 302.4L123.4 306L129.9 309.6L136.2 312.3L143.3 314.4Z"/>
<path fill="#f0f0ff" d="M262.9 484.1L265.4 485.3L374.5 485.3L384.7 479.9L390.7 476.2L395.5 472.9L400.3 469.3L405 465.2L409.8 460.7L413.7 456.6L417.9 451.8L421.8 446.8L425.3 441.7L428.7 436.3L431.9 430.3L434.2 425.5L438.4 414.8L440.2 408.8L441.6 402.8L442.7 396.9L443.5 390.9L443.9 384.9L444 378.9L443.8 372.9L443.2 367L442.3 361L441.1 355L439.6 349L437.7 343.1L435.5 337.1L432.9 331.1L427.2 320.4L420.2 309.6L415.7 303.6L410.8 297.6L405.3 291.7L400.5 286.9L389.7 277.3L383.7 272.5L377.1 267.8L369.9 263L363.9 259.4L352.3 253.4L346.8 251L340.3 248.6L331 246.1L326.2 245.2L321.4 244.6L316.6 244.4L311.8 244.5L303.5 245.5L295.1 247.6L286.1 251L276.7 255.8L267.4 261.8L256.5 270.2L246 279.7L236.9 289.3L228 300L220.4 310.8L216.7 316.8L213.3 322.7L208.1 333.5L204 344.3L201.3 353.8L199.1 364.6L198 375.3L197.8 384.9L198.7 395.7L200.3 405.2L202.8 414.8L206.3 424.3L210.8 433.9L215.7 442.3L221.7 450.6L228.9 459L236.6 466.4L244.9 473.2L253.3 478.8Z"/>
<path fill="#ffefef" d="M152.8 313.2L157.7 313.7L163.7 313.8L168.5 313.6L174.4 312.8L180.4 311.6L185.2 310.3L191.2 308.3L197.1 305.9L207.9 300.5L219.8 293.4L230.6 286.1L259.6 265.4L267 260.6L275.1 255.8L284.7 251L292.7 247.9L301.1 245.6L305.9 244.8L310.7 244.3L319 244.1L327.4 245L335.7 246.7L345.9 249.8L355 253.4L363 257L396.7 273.9L409.8 280.1L421.8 284.8L433.7 288.5L439.7 289.8L445.7 290.8L451.6 291.3L457.6 291.5L463.6 291.1L468.4 290.5L474.1 289.3L479.1 287.8L486.3 284.8L492.3 281.5L498.2 277.3L503.6 272.5L509 266.6L513.3 260.6L516.8 254.6L520 247.4L522.5 240.3L524.4 231.9L525.4 224.7L525.8 216.4L525.4 208L524.3 199.6L522.7 192.5L520.2 184.1L517.8 178.1L514.4 170.9L510.3 163.8L506.3 157.8L501.6 151.8L496.2 145.8L491.1 140.9L485.1 135.8L479.1 131.4L471.9 126.9L464.8 123L457.6 119.8L449.2 116.6L442.1 114.4L434.9 112.7L426.5 111.2L417 110.1L406.2 109.7L395.5 109.9L384.7 110.7L375.2 112L364.4 113.8L330.4 120.7L320.2 122.6L308.3 124.2L297.5 125.1L287.9 125.5L277.2 125.4L243.7 123.7L231.8 123.3L221 123.4L210.3 123.9L199.5 125.1L190 126.7L180.4 128.9L170.9 131.9L162.6 135.1L155.3 138.4L148.2 142.3L141 146.8L134.2 151.8L128.5 156.6L122.4 162.6L117.1 168.6L112.4 174.5L107.7 181.7L103.7 188.9L100.4 196L97.6 203.2L95.5 210.4L94 217.6L92.8 225.9L92.4 234.3L92.6 241.5L93.6 249.8L95 257L97.1 264.2L99.9 271.4L103.5 278.5L107.3 284.5L112 290.5L116.5 295.3L121.9 299.9L127.1 303.6L133.5 307.2L139.8 309.9L145.8 311.8Z"/>
<path fill="#efefff" d="M275.1 484.1L278.4 485.3L361 485.3L369.2 482.2L376.4 478.9L381.1 476.4L387.1 472.8L393.1 468.8L397.9 465.2L402.6 461.2L407.4 456.7L412.1 451.8L416.2 447.1L420.6 441.4L424 436.3L426.9 431.5L430.1 425.5L432.5 420.3L434.7 414.8L436.7 408.8L438.4 402.8L440.5 392.1L441.1 386.1L441.5 380.1L441.5 374.1L441.2 368.2L440.5 362.2L439.5 356.2L438.2 350.2L436.5 344.3L432.6 333.5L427.5 322.7L421 312L417.7 307.2L413.1 301.2L408 295.3L403.6 290.5L393.6 280.9L388 276.1L381.9 271.4L369.7 263L363.8 259.4L357.2 255.8L351.3 253L345.3 250.5L339.3 248.4L333.4 246.7L328.6 245.6L323.8 244.9L315.4 244.4L307.1 245L302.3 245.7L297.5 246.9L288.9 249.8L283.5 252.2L278.9 254.6L269.2 260.6L259.5 267.8L249.9 276.1L239.3 286.9L231.1 296.5L223.3 307.2L216.6 318L211.1 328.7L208.6 334.7L206.3 340.7L203.2 351.4L201.2 361L200 371.8L199.9 382.5L200.6 392.1L202.2 401.6L204.7 411.2L208.2 420.8L212.8 430.3L218.6 439.9L224.6 448.1L231.8 456.1L239 462.8L247.3 469.3L255.7 474.8L265.2 479.9Z"/>
<path fill="#ffeeee" d="M154.5 310.8L160.1 311.5L164.9 311.7L169.7 311.6L175.6 311L180.4 310.1L186.4 308.7L192.4 306.7L198.3 304.4L209.1 299.2L221 292.1L231.8 284.9L261.3 264.2L270.9 258.2L277.3 254.6L285.6 250.7L294.2 247.4L302.3 245.4L310.7 244.2L319 244.1L327.4 245L336.9 247L346 249.8L355.1 253.4L363.2 257L395.5 273.1L406.2 278.1L418.2 282.9L430.1 286.6L436.1 288L442.1 289L448 289.6L454 289.8L460 289.5L464.8 288.9L470.7 287.6L475.5 286.2L482.5 283.3L488.7 279.9L494 276.1L499.4 271.4L503.8 266.6L508.3 260.6L511.8 254.6L515.2 247.4L517.7 240.3L519.4 233.1L520.5 225.9L521 217.6L520.7 209.2L519.7 200.8L517.8 192.5L515.6 185.3L512.8 178.1L509.9 172.1L505.8 165L501.7 159L497 153L492.3 147.7L486.6 142.3L480.9 137.5L474.3 132.7L468.4 129L461.2 125.1L454.3 121.9L446.9 119.1L439.7 116.9L432.5 115.1L424.2 113.5L414.6 112.4L403.8 111.8L393.1 112L382.3 112.8L372.8 114L363.2 115.5L330.3 121.9L320.2 123.7L308.3 125.3L297.5 126.2L287.9 126.6L278.4 126.5L246.1 125.2L234.2 124.9L223.4 125L213.9 125.6L203.1 126.7L193.6 128.3L184 130.6L174.4 133.5L166.1 136.8L158.9 140.1L151.7 144L145 148.2L138.5 153L132.8 157.8L126.7 163.7L121.9 169L116.7 175.7L112.7 181.7L109.2 187.7L105.7 194.9L102.9 202L100.6 209.2L98.7 217.6L97.7 224.7L97.2 233.1L97.3 240.3L98 247.4L99.3 254.6L101.3 261.8L103.4 267.8L106.7 274.9L110.2 280.9L114.6 286.9L118.7 291.7L123.8 296.5L129 300.4L135 304.1L141 306.9L148.2 309.4Z"/>
<path fill="#eeeeff" d="M290.7 484.1L296.3 485.3L342.6 485.3L348.9 484L354.9 482.4L365.6 478.6L376.4 473.8L385.9 468.3L395.7 461.4L400.3 457.6L405.3 453L409.8 448.4L413.4 444.3L417.8 438.7L421.1 433.9L424.2 429L427.4 423.1L429.7 418.4L432.2 412.4L435.6 401.6L437.1 395.7L438.1 389.7L439.1 378.9L439.2 372.9L439 367L437.7 356.2L435.3 345.5L431.8 334.7L427 323.9L420.9 313.2L417.8 308.4L413.4 302.4L409.5 297.6L404.2 291.7L394.6 282.1L389.1 277.3L383.2 272.5L371.4 264.2L365.7 260.6L359.4 257L353.7 254.1L347.7 251.5L341.7 249.2L336.2 247.4L331 246.1L326.2 245.2L321.4 244.7L316.6 244.4L311.8 244.5L307.1 245L302.3 245.8L297.5 246.9L288.9 249.8L283.6 252.2L278.9 254.6L271 259.4L261.1 266.6L251.3 274.9L241.7 284.5L233.4 294.1L225.3 304.8L218.6 315.6L213 326.3L208.6 337.1L206.6 343.1L205 349L202.9 359.8L201.8 370.6L201.7 380.1L202.7 390.9L204.5 400.4L207.2 410L210.9 419.6L215.8 429.1L221.1 437.5L227 445.2L234.2 453L242.5 460.5L250.9 466.7L260.5 472.5L270 477.2L280.8 481.3Z"/>
<path fill="#ffeded" d="M164.2 309.6L168.5 309.7L173.3 309.5L178 309L182.8 308.2L192.4 305.6L201.9 302L211.5 297.3L222.2 291L233 283.8L261.2 264.2L270.8 258.2L277.2 254.6L285.6 250.6L294.2 247.4L302.3 245.4L310.7 244.2L319 244.1L327.4 245L336.9 247L346 249.8L355.2 253.4L363.3 257L394.3 272.2L406.2 277.7L418.2 282.3L428.9 285.5L434.9 286.8L440.9 287.7L446.9 288.2L451.6 288.2L457.6 287.9L462.4 287.2L468.4 285.9L473.1 284.4L480.3 281.2L486.3 277.7L491.6 273.7L496.8 269L500.9 264.2L505.1 258.2L508.5 252.2L511.6 245.1L513.9 237.9L515.5 230.7L516.4 223.5L516.6 216.4L516.3 209.2L515.2 200.8L513.3 192.5L511 185.3L508.1 178.1L505.1 172.1L501.7 166.2L497.6 160.2L492.9 154.2L487.5 148.3L482.3 143.5L476.6 138.7L470.7 134.5L464 130.3L457.6 126.9L450.4 123.6L443.3 120.9L436.1 118.7L427.7 116.7L420.6 115.4L411 114.3L401.5 113.9L391.9 113.9L381.1 114.7L371.6 115.7L360.8 117.4L330 123.1L319 125L308.3 126.4L297.5 127.2L287.9 127.6L278.4 127.6L236.6 126.4L225.8 126.6L216.3 127.2L205.5 128.4L196 130.1L186.4 132.4L176.8 135.4L169.7 138.2L161.3 142.1L154.1 146.1L147.1 150.6L140.8 155.4L135 160.4L129.3 166.2L124.1 172.1L119.7 178.1L115.1 185.3L111.3 192.5L108.2 199.6L105.7 206.8L103.9 214L102.5 221.1L101.8 228.3L101.6 236.7L102 243.9L103 251L104.7 258.2L107.1 265.4L110.2 272.5L113.6 278.5L117.7 284.5L122.9 290.5L127.9 295.1L132.8 298.8L138.6 302.4L144.6 305.2L150.6 307.2L157.7 308.9Z"/>
<path fill="#ededff" d="M312.9 482.9L319 483.1L325 482.9L336.9 481.8L347.7 479.8L353.7 478.2L359.6 476.3L370.4 472L376.4 469L381.1 466.4L390.7 460.1L399.6 453L403.8 449.1L408.1 444.7L412.2 440L415.8 435.4L419.3 430.3L422.3 425.5L427.3 416L429.4 411.2L431.6 405.2L434.6 394.5L436.4 383.7L437.1 372.9L436.7 362.2L435.2 351.4L432.5 340.7L428.6 329.9L423.5 319.2L417.8 309.6L410.9 300L402.6 290.5L392.9 280.9L383 272.5L371.3 264.2L359.3 257L353.7 254.2L347.7 251.5L341.7 249.2L336.9 247.7L331.5 246.2L326.2 245.3L321.4 244.7L316.6 244.4L311.8 244.5L307.1 245L302.3 245.8L297.5 246.9L292.7 248.4L287.9 250.3L279 254.6L269.3 260.6L259.7 267.8L254.1 272.5L248.9 277.3L239.7 286.9L230.9 297.6L224.2 307.2L217.9 318L213.2 327.5L209.1 338.3L206.1 349L204.9 355L204.1 361L203.4 371.8L203.8 382.5L205 392.1L207.6 402.8L210.9 412.4L215.2 422L220.9 431.5L227 439.9L234.2 448L242.5 455.7L250.9 462.1L260.5 468L270 472.7L280.8 476.9L291.5 479.9L302.3 481.9Z"/>
<path fill="#ffecec" d="M161.6 307.2L166.1 307.7L170.9 307.9L175.6 307.7L181.6 307L186.4 306.1L192.4 304.6L197.1 303L203.1 300.6L212.7 296L223.4 289.8L234.2 282.8L261.1 264.2L270.7 258.2L277.2 254.6L285.6 250.6L294.1 247.4L302.3 245.4L310.7 244.2L319 244.1L327.4 245L335.7 246.7L345.3 249.6L353.7 252.7L363.5 257L391.9 270.8L403.8 276.3L415.8 280.9L426.5 284.1L432.5 285.4L438.5 286.3L444.5 286.7L449.2 286.8L455.2 286.4L460 285.7L464.8 284.7L469.2 283.3L475.5 280.7L481.7 277.3L486.7 273.7L492.1 269L496.5 264.2L500.8 258.2L504.3 252.2L507 246.2L509.5 239.1L511.2 231.9L512.2 224.7L512.5 217.6L512.2 209.2L511.3 202L509.8 194.9L507.6 187.7L504.8 180.5L502 174.5L498.6 168.6L494.7 162.6L490.1 156.6L485.1 151L479.8 145.8L474.3 141.2L468.4 136.8L462.4 132.9L456.4 129.6L449.2 126.2L442.1 123.4L434.9 121L427.7 119.2L419.4 117.5L409.8 116.3L400.3 115.8L389.5 115.8L378.8 116.5L369.2 117.5L359.6 118.9L319 126L308.3 127.3L297.5 128.2L279.6 128.6L239 127.8L229.4 128L221 128.4L210.3 129.6L200.7 131.1L191.2 133.3L181.6 136.2L174.4 138.9L166.8 142.3L160 145.8L152.9 150.2L147.3 154.2L141.4 159L136.2 163.8L130.6 169.8L125.8 175.7L121.6 181.7L118 187.7L114.4 194.9L111.5 202L109.1 209.2L107.4 216.4L106.3 223.5L105.7 230.7L105.7 237.9L106.3 245.1L107.4 252.2L109.3 259.4L111.9 266.6L114.6 272.5L118.1 278.5L122.5 284.5L126.7 289.3L131.4 293.6L136.8 297.6L142.2 300.9L148.2 303.6L155.3 305.9Z"/>
<path fill="#ececff" d="M304.6 478.1L310.7 478.7L316.6 479L328.6 478.6L339.3 477.3L345.3 476.2L351.3 474.7L362 471.2L372.8 466.5L378.8 463.3L383.5 460.4L393.1 453.7L397.9 449.7L402 445.9L409.8 437.5L416.3 429.1L422.2 419.6L426.8 410L428.9 404.6L430.7 399.2L433.4 388.5L434.3 382.5L434.9 376.5L435.1 365.8L434.2 355L432.1 344.3L428.9 333.5L424.9 323.9L422.6 319.2L419.2 313.2L412.9 303.6L405.4 294.1L396.4 284.5L391.3 279.7L385.7 274.9L374.7 266.6L363.4 259.4L352 253.4L346.5 251L340.5 248.8L334.5 247L329.8 245.9L325 245.1L320.2 244.6L315.4 244.4L310.7 244.6L302.3 245.8L297.5 246.9L292.7 248.4L283.7 252.2L279 254.6L273 258.2L264.4 264.2L254.2 272.5L244.3 282.1L235.9 291.7L228.6 301.2L221.7 312L216.7 321.6L212.1 332.3L208.7 343.1L206.4 353.8L205.2 364.6L205.1 375.3L205.9 384.9L207.9 395.5L210.8 405.2L214.7 414.8L219.1 423.1L224.6 431.8L231.1 439.9L237.9 447.1L246.1 454.1L254.5 460.1L264.1 465.7L273.6 470.1L284.4 473.9L293.9 476.4Z"/>
<path fill="#ffebeb" d="M168.8 306L173.3 306.2L178 306L186.4 304.9L196 302.4L205.5 298.8L215.1 294.2L224.6 288.7L235.4 281.7L261 264.2L270.6 258.2L277.1 254.6L285.6 250.6L294.1 247.4L302.3 245.3L310.7 244.2L317.8 244.1L326.2 244.8L334.5 246.4L344.1 249.1L352.5 252.2L361 255.8L391.9 270.6L402.6 275.4L414.6 279.9L425.3 283L431.3 284.2L436.1 284.9L442.1 285.4L446.9 285.5L452.8 285.1L457.6 284.3L462.4 283.2L467.2 281.7L473.1 279.2L478.6 276.1L483.9 272.4L489 267.8L493.3 263L497.6 257L501 251L503.6 245.1L505.6 239.1L507.4 231.9L508.4 224.7L508.8 217.6L508.5 210.4L507.4 202L505.9 194.9L503.7 187.7L500.8 180.5L497.9 174.5L494.4 168.6L490.4 162.6L485.7 156.6L481.3 151.8L476.3 147L470.7 142.3L464.8 138L458.8 134.2L452.8 130.9L445.7 127.5L438.5 124.8L431.3 122.5L423 120.4L415.8 119.1L407.4 118.1L397.9 117.5L388.3 117.5L377.6 118.1L369.2 118.9L359.6 120.2L317.8 127.1L308.3 128.3L297.5 129.2L279.6 129.6L241.4 129.1L231.8 129.3L223.4 129.8L212.7 130.9L201.9 132.8L192.4 135.1L182.8 138.1L175.2 141.1L167.6 144.7L161.1 148.2L154.1 152.7L147.4 157.8L141.9 162.6L137 167.4L131.8 173.3L127.3 179.3L123.4 185.3L120.1 191.3L116.7 198.4L114.1 205.6L112 212.8L110.6 220L109.7 227.1L109.4 234.3L109.7 241.5L110.6 248.6L112.2 255.8L114.4 263L116.9 269L120.1 274.9L124.1 280.9L129 286.9L133.8 291.5L138.6 295.3L144.4 298.8L150.6 301.8L156.5 303.9L162.5 305.2Z"/>
<path fill="#ebebff" d="M306.4 474.5L317.8 475.2L323.8 475.1L329.8 474.7L335.7 474L341.7 473L352.5 470.4L363.2 466.7L374 461.8L383.5 456.2L388.3 452.9L393.1 449.3L401.5 441.8L408.7 433.9L412.5 429.1L415.8 424.4L421.5 414.8L425.9 405.2L428.1 399.2L429.6 394.5L432 383.7L433.2 372.9L433.2 362.2L432.1 351.4L429.9 340.7L426.9 331.1L422.3 320.4L417 310.8L410.6 301.2L402.8 291.7L393.6 282.1L384 273.7L372.8 265.4L361.2 258.2L350.1 252.6L339.9 248.6L334.5 247L329.8 245.9L323.8 245L319 244.5L314.2 244.5L309.5 244.7L301.1 246L296.3 247.3L291.5 248.9L286.3 251L282 253.1L273 258.2L262.9 265.4L253 273.7L244.5 282.1L236.2 291.7L229 301.2L222.9 310.8L217.3 321.6L213.3 331.1L210 341.9L207.7 352.6L206.6 363.4L206.6 372.9L207.6 383.7L209.4 393.3L212.3 402.8L216.3 412.4L221 421.3L227 430.2L233 437.5L240.2 444.8L248.5 451.8L256.9 457.6L266.4 463L276 467.2L285.6 470.4L296.3 473Z"/>
<path fill="#ffeaea" d="M164.8 303.6L169.7 304.3L174.4 304.6L179.2 304.5L184 304L188.8 303.3L194.8 301.8L199.5 300.4L205.5 298.1L215.1 293.7L225.8 287.6L235.4 281.5L260.9 264.2L270.6 258.2L277.1 254.6L285.6 250.6L294 247.4L302.3 245.3L310.7 244.2L317.8 244L326.2 244.8L334.5 246.3L344.1 249.1L352.6 252.2L361.1 255.8L389.5 269.3L401.5 274.6L413.4 279L423 281.7L428.9 283L433.7 283.7L439.7 284.2L444.5 284.2L449.2 283.9L454 283.3L458.8 282.3L463.6 280.9L469.6 278.4L475.5 275.1L480.9 271.4L485.1 267.6L489.4 263L493.8 257L497.3 251L500 245.1L502.1 239.1L503.8 231.9L504.8 224.7L505.2 217.6L504.9 210.4L504 203.2L502.5 196L500.4 188.9L498.1 182.9L495.3 176.9L492 170.9L488.1 165L483.5 159L479.3 154.2L474.3 149.3L468.4 144.2L462.6 139.9L456.4 135.9L450.4 132.6L443.3 129.2L436.1 126.4L428.9 124.1L421.8 122.3L414.6 120.9L406.2 119.8L397.9 119.2L389.5 119L381.1 119.3L371.6 120L362 121.1L319 127.9L309.5 129.1L301.1 129.8L284.4 130.5L246.1 130.2L236.6 130.4L227 131L216.3 132L206.7 133.6L197.1 135.7L187.3 138.7L180.4 141.2L173.3 144.4L166.1 148.1L160 151.8L154.1 155.9L148.2 160.7L142.2 166.2L137.7 170.9L132.8 176.9L128.6 182.9L125 188.9L122 194.9L118.9 202L116.9 208L115 215.2L113.8 222.3L113.1 229.5L113 236.7L113.5 243.9L114.7 251L116.5 258.2L118.6 264.2L121.3 270.2L124.8 276.1L128.1 280.9L132.6 286.1L137.2 290.5L142.2 294.3L147.7 297.6L152.9 300.1L158.9 302.2Z"/>
<path fill="#eaeaff" d="M306 471L311.8 471.5L317.8 471.7L328.6 471.3L334.5 470.6L340.5 469.6L351.3 467.1L362 463.5L372.8 458.6L382.3 453L387.1 449.7L391.9 446.1L400.3 438.6L407.4 430.8L414.1 422L419.8 412.4L424.2 402.8L426 398L427.9 392.1L430.3 381.3L431.5 370.6L431.5 359.8L430.3 349L428.3 339.5L424.9 328.7L422.5 322.7L420.2 318L414.8 308.4L408.2 298.8L401.3 290.5L392 280.9L382.3 272.5L376 267.8L370.9 264.2L361.1 258.2L350.1 252.6L339.9 248.6L334.5 247.1L329.8 245.9L323.8 245L319 244.6L314.2 244.5L309.5 244.7L301.1 246.1L292.2 248.6L283.7 252.2L275 257L269.5 260.6L264.5 264.2L254.4 272.5L245.8 280.9L237.4 290.5L230.2 300L224.1 309.6L219 319.2L214.5 329.9L211.2 340.7L209.2 350.2L208 361L208 371.8L208.9 381.3L210.8 390.9L213.7 400.4L217.7 410L222.2 418.5L227.7 426.7L234.2 434.7L241.4 441.9L249.7 448.9L258.1 454.6L266.4 459.3L276 463.6L285.6 466.9L295.1 469.3Z"/>
<path fill="#ffe9e9" d="M168.9 302.4L173.3 302.9L178 303.1L182.8 302.9L187.6 302.3L192.4 301.4L197.1 300.2L206.7 296.9L216.3 292.5L225.8 287.2L236.6 280.5L264.6 261.8L272.6 257L279.4 253.4L287.3 249.8L295.1 247.1L302.3 245.3L310.7 244.2L317.8 244L326.2 244.7L334.5 246.3L344.1 249.1L352.7 252.2L361.2 255.8L388.3 268.5L399.1 273.2L411 277.7L420.6 280.5L426.5 281.8L431.3 282.5L437.3 283L442.1 283L446.9 282.8L451.6 282.1L456.4 281.1L461.2 279.7L467 277.3L471.9 274.7L476.8 271.4L482.4 266.6L486.7 261.8L490.3 257L493.8 251L496.6 245.1L498.7 239.1L500.5 231.9L501.4 225.9L501.8 218.8L501.7 211.6L500.9 204.4L499.4 197.2L497.3 190.1L495.1 184.1L492.3 178.1L489 172.1L485.2 166.2L480.6 160.2L476.4 155.4L471.6 150.6L466 145.8L460 141.3L454 137.5L447.6 133.9L440.9 130.7L434.9 128.4L427.7 126L420.6 124.1L412.2 122.4L403.8 121.3L395.5 120.7L387.1 120.6L378.8 120.8L369.2 121.5L359.6 122.6L320.2 128.6L302.3 130.6L285.6 131.4L247.3 131.4L229.4 132.1L218.7 133.2L209.1 134.8L199.5 136.9L190 139.8L182.8 142.4L175.6 145.6L168.5 149.4L162.5 153L156.5 157.2L150.6 162L144.9 167.4L140.4 172.1L136.5 176.9L132.2 182.9L128.5 188.9L124.8 196L122.3 202L119.9 209.2L118.1 216.4L116.9 223.5L116.4 230.7L116.4 237.9L116.9 243.9L118.1 251L120 258.2L122.1 264.2L124.9 270.2L128.5 276.1L132 280.9L136.2 285.7L141.5 290.5L146.5 294.1L151.7 297L157.7 299.6L163.7 301.4Z"/>
<path fill="#e9e9ff" d="M303.8 467.4L315.4 468.3L326.2 468.1L332.2 467.5L338.1 466.7L348.9 464.3L359.6 460.9L369.2 456.8L378.8 451.6L388.3 445L393.1 441.2L397.2 437.5L405 429.3L411.7 420.8L414.8 416L417.6 411.2L422.2 401.6L424.5 395.7L426 390.9L428.3 381.3L429.7 370.6L429.9 359.8L429 349L427.2 339.5L425.9 334.7L423.9 328.7L420 319.2L417.6 314.4L414.1 308.4L407.7 298.8L400.9 290.5L391.7 280.9L382.1 272.5L372.5 265.4L361 258.2L350.1 252.7L339.8 248.6L334.5 247.1L329.8 245.9L325 245.1L320.2 244.6L315.4 244.5L310.7 244.7L302.3 245.8L293.9 248.1L289.2 249.8L284.4 252L275.1 257L266.2 263L257.2 270.2L248.3 278.5L239.6 288.1L232.2 297.6L225.9 307.2L220.7 316.8L216.5 326.3L213 337.1L210.8 346.7L209.5 357.4L209.2 367L209.9 376.5L211.5 386.1L214.1 395.7L217.8 405.2L222.2 413.9L227.3 422L233.8 430.3L240.6 437.5L248.5 444.3L256.9 450.3L265.2 455.2L274.8 459.7L284.4 463.1L293.9 465.7Z"/>
<path fill="#ffe8e8" d="M172.5 301.2L176.8 301.6L181.6 301.6L190 300.8L194.8 299.9L199.5 298.7L209.1 295.3L218.7 290.8L228.2 285.5L237.8 279.5L264.5 261.8L272.5 257L279.3 253.4L287.3 249.8L295.1 247.1L302.3 245.3L310.7 244.2L317.8 244L326.2 244.7L334.5 246.3L344.1 249L352.8 252.2L361.3 255.8L388.3 268.3L399.1 272.9L409.8 276.9L419.4 279.6L425.3 280.8L430.1 281.5L434.9 281.9L439.7 281.9L444.5 281.7L449.2 281.1L454 280.1L458.8 278.7L464.8 276.2L469.6 273.6L474.6 270.2L480 265.4L484.3 260.6L487.8 255.8L491.2 249.8L493.9 243.9L495.9 237.9L497.6 230.7L498.4 224.7L498.7 217.6L498.4 210.4L497.5 203.2L496.2 197.2L494.1 190.1L491.8 184.1L489 178.1L485.6 172.1L481.6 166.2L476.9 160.2L472.6 155.4L467.6 150.6L462.4 146.2L456.4 141.9L450.4 138.1L444.5 134.9L438.5 132.1L431.3 129.3L424.2 127L417 125.2L409.8 123.8L402.6 122.9L394.3 122.2L385.9 122L376.4 122.2L368 122.8L358.4 123.9L320.2 129.5L301.7 131.5L285.6 132.3L249.7 132.4L231.8 133.2L221 134.3L210.3 136.1L200.7 138.3L191.2 141.2L184 144L177.3 147L170.9 150.5L164.7 154.2L158.9 158.3L152.9 163.2L147.2 168.6L142.8 173.3L138 179.3L133.9 185.3L130.4 191.3L127.5 197.2L125 203.2L122.7 210.4L121.3 216.4L120.1 223.5L119.5 230.7L119.5 237.9L120.2 245.1L121.3 251L123.2 258.2L125.5 264.2L128.3 270.2L132 276.1L135.6 280.9L140.1 285.7L144.6 289.6L149.4 293L154.1 295.7L160.1 298.3L166.1 300.1Z"/>
<path fill="#e8e8ff" d="M311.6 465L322.6 465.1L333.4 464.2L344.1 462.3L354.9 459.3L365.6 455.1L375.2 450.2L384.7 444.1L393.1 437.5L400.5 430.3L407.6 422L413.4 413.6L418.7 404L422.7 394.5L424.6 388.5L425.9 383.7L427.6 374.1L428.5 363.4L428.2 353.8L426.8 343.1L424.5 333.5L422.5 327.5L420.7 322.7L416.2 313.2L410.5 303.6L403.5 294.1L396.1 285.7L387.5 277.3L377.3 269L366.9 261.8L356.5 255.8L346.2 251L335.9 247.4L331 246.2L326.2 245.3L321.4 244.7L316.6 244.5L308.3 244.9L303.5 245.6L298.7 246.7L290.3 249.4L281.5 253.4L273.2 258.2L263.1 265.4L253.4 273.7L244 283.3L236.9 291.7L230 301.2L224.3 310.8L219.1 321.6L215.5 331.1L212.9 340.7L211.1 351.4L210.5 361L210.7 370.6L212 380.1L214.2 389.7L217.4 399.2L221.9 408.8L226.8 417.2L233 425.5L239 432.2L246.1 438.9L254.5 445.4L262.9 450.6L271.2 454.9L280.8 458.8L291.5 462L301.1 463.9Z"/>
<path fill="#ffe7e7" d="M175.7 300L184 300.3L192.4 299.4L200.7 297.5L210.3 294.2L218.7 290.4L228.2 285.2L237.8 279.3L264.4 261.8L272.5 257L279.2 253.4L287.2 249.8L295.1 247.1L302.3 245.3L310.7 244.2L317.8 244L326.2 244.7L334.3 246.2L342.9 248.6L349.8 251L358.7 254.6L387.1 267.6L397.9 272.2L408.6 276.1L418.2 278.7L424.2 279.9L428.9 280.5L433.7 280.9L438.5 280.9L443.3 280.6L448 279.9L452.8 278.8L456.4 277.7L462.4 275.3L467.4 272.5L472.5 269L476.7 265.3L481.1 260.6L484.6 255.8L488.2 249.8L490.9 243.9L492.9 237.9L494.6 230.7L495.4 224.7L495.8 217.6L495.4 210.4L494.5 203.2L492.9 196L491 190.1L488.6 184.1L485.8 178.1L482.3 172.1L478.2 166.2L474.3 161.2L469.6 156L464.8 151.4L459.5 147L454 143.1L448 139.3L442.1 136.1L436.1 133.3L428.9 130.5L421.8 128.3L414.6 126.5L407.4 125.1L399.1 124.1L391.9 123.5L383.5 123.3L374 123.6L357.2 125.1L320.2 130.4L301.1 132.4L284.4 133.1L248.5 133.5L233 134.3L222.2 135.5L212.7 137.1L203.1 139.3L193.6 142.2L186.4 144.9L179.2 148.2L173.3 151.4L166.8 155.4L161.3 159.3L155.3 164.2L149.4 169.8L145.1 174.5L140.3 180.5L136.3 186.5L132.9 192.5L130 198.4L127.2 205.6L125.4 211.6L123.8 218.8L122.9 224.7L122.4 231.9L122.6 239.1L123.4 246.2L124.6 252.2L126.3 258.2L128.6 264.2L131.6 270.2L135.4 276.1L139.1 280.9L143.4 285.3L148.1 289.3L152.9 292.5L158.1 295.3L163.7 297.5L169.7 299.1Z"/>
<path fill="#e7e7ff" d="M304.7 461.4L315.4 462.2L326.2 462L336.9 460.7L347.7 458.4L358.4 454.9L368 450.8L377.6 445.5L382.3 442.4L387.1 438.9L395.5 431.7L402.6 424.2L409 416L412.2 411.2L415 406.4L419.5 396.9L421.4 392.1L423.3 386.1L424.5 381.3L425.7 375.3L426.8 365.8L427 356.2L426 345.5L424.1 335.9L421.2 326.3L417.2 316.8L412.1 307.2L405.8 297.6L399 289.3L391.1 280.9L381.7 272.5L372.2 265.4L360.8 258.2L350.1 252.7L339.7 248.6L334.5 247.1L329.8 246L325 245.2L320.2 244.7L315.4 244.5L310.7 244.7L302.3 245.8L293.9 248.1L285.6 251.4L277.2 255.8L268 261.8L258.8 269L249.8 277.3L242 285.7L234.5 295.3L228.9 303.6L222.9 314.4L218.7 323.9L215.5 333.5L213.3 343.1L211.9 353.8L211.6 363.4L212.3 372.9L214 382.5L216.7 392.1L219.9 400.4L224.1 408.8L229.4 417.1L235.4 424.8L242.5 432.4L249.7 438.6L258.1 444.6L266.4 449.5L276 453.9L285.6 457.3L295.1 459.8Z"/>
<path fill="#ffe6e6" d="M178.1 298.8L186.4 299L194.8 298.1L203.1 296.1L212.7 292.6L221 288.7L230.6 283.4L240.2 277.5L264.3 261.8L272.4 257L279.2 253.4L287.2 249.8L295.1 247.1L302.3 245.3L310.7 244.2L317.8 244L326.2 244.7L334.4 246.2L343 248.6L349.9 251L358.8 254.6L385.9 266.9L396.7 271.4L407.4 275.3L417 277.9L426.5 279.5L431.3 279.9L436.1 279.9L440.9 279.7L445.7 279L450.4 278L454 276.9L460 274.5L464.8 271.9L469.6 268.6L474.6 264.2L479 259.4L482.4 254.6L485.3 249.8L488 243.9L490.1 237.9L491.6 231.9L492.5 225.9L493 218.8L492.7 211.6L491.8 204.4L490.3 197.2L488.5 191.3L486.2 185.3L483.4 179.3L480 173.3L475.9 167.4L472.2 162.6L467.9 157.8L463 153L457.6 148.5L451.6 144.1L445.7 140.4L439.7 137.2L433.7 134.4L427.7 132.1L420.6 129.8L413.4 127.9L406.2 126.5L397.9 125.4L390.7 124.8L382.3 124.6L372.8 124.8L356.1 126.2L317.8 131.5L302.3 133L286.8 133.9L252.1 134.4L236.6 135.1L225.8 136.2L215.1 138L205.5 140.2L196 143.1L188.8 145.8L181.6 149L175.6 152.2L169.7 155.9L163.6 160.2L157.7 165L152.6 169.8L148.2 174.6L143.4 180.5L139.3 186.5L135.8 192.5L132.9 198.4L130.4 204.4L128.2 211.6L126.8 217.6L125.7 224.7L125.2 231.9L125.3 237.9L126 245.1L127.2 251L129.2 258.2L131.6 264.2L134.6 270.2L137.7 274.9L141.4 279.7L146 284.5L150.6 288.3L155.7 291.7L161.3 294.5L166.4 296.5L172.1 297.9Z"/>
<path fill="#e6e6ff" d="M308.6 459L319 459.4L329.8 458.8L340.5 457.2L351.3 454.5L360.8 451.1L370.4 446.6L379.9 440.9L388.3 434.7L396.7 427.1L403.4 419.6L409.8 410.8L415.1 401.6L419.3 392.1L422.4 382.5L424.5 372.9L425.1 368.2L425.6 362.2L425.5 352.6L425 346.7L424.3 341.9L422.2 332.3L419 322.7L414.8 313.2L409.3 303.6L403.5 295.3L396.5 286.9L388.3 278.5L378.5 270.2L368.5 263L358.6 257L348.9 252.2L343 249.8L338.1 248.2L328.6 245.8L323.8 245L319 244.6L314.2 244.5L309.5 244.8L301.1 246.1L292.4 248.6L283.9 252.2L275.2 257L266.4 263L257.6 270.2L248.8 278.5L241.2 286.9L233.9 296.5L227.8 306L222.8 315.6L218.9 325.1L215.9 334.7L213.8 345.5L212.9 355L212.9 364.6L213.9 374.1L215.8 383.7L218.7 392.6L222.5 401.6L227.1 410L232.9 418.4L239 425.5L246.1 432.5L253.3 438.3L261.7 443.9L270 448.4L279.6 452.5L289.1 455.6L298.7 457.7Z"/>
<path fill="#ffe5e5" d="M179.8 297.6L187.6 297.8L196 297L204.3 295L212.7 292.1L221 288.3L230.6 283.2L241.4 276.6L264.2 261.8L272.4 257L279.1 253.4L287.1 249.8L295.1 247L302.3 245.3L310.7 244.2L317.8 244L326.2 244.7L334.5 246.2L343.1 248.6L350 251L359 254.6L384.7 266.2L395.5 270.7L406.2 274.5L415.8 277L425.3 278.6L430.1 279L434.9 279L439.7 278.7L444.5 278L449.2 276.9L452.8 275.7L458.8 273.2L463.6 270.5L468.4 267L472.8 263L477 258.2L480.4 253.4L483.1 248.6L485.8 242.7L487.8 236.7L489.1 230.7L490 224.7L490.3 217.6L490.1 211.6L489.2 204.4L487.9 198.4L485.7 191.3L483.4 185.3L480.5 179.3L477 173.3L473.8 168.6L469.1 162.6L464.8 157.9L460 153.4L455.2 149.4L449.2 145.1L443.3 141.3L437.3 138.1L431.3 135.4L425.3 133.1L418.2 130.8L411 129L403.8 127.6L395.5 126.6L388.3 126L379.9 125.8L370.4 126.1L353.7 127.5L317.8 132.2L301.1 133.9L284.4 134.7L252.1 135.3L239 136L228.2 137.1L217.5 138.8L207.9 141L198.3 143.9L191.2 146.6L184.7 149.4L178 152.9L172.1 156.6L166.1 160.8L160.9 165L155.7 169.8L151.1 174.5L147.2 179.3L142.8 185.3L139.2 191.3L136.1 197.2L133.6 203.2L131.2 210.4L129.7 216.4L128.5 223.5L127.9 230.7L127.9 236.7L128.5 243.9L129.6 249.8L131.2 255.8L133.3 261.8L136.2 267.8L139.8 273.7L143.5 278.5L148.1 283.3L152.3 286.9L157.6 290.5L162.5 293L168.5 295.3L174.4 296.9Z"/>
<path fill="#e5e5ff" d="M312.5 456.6L322.6 456.7L333.4 455.7L344.1 453.7L354.9 450.5L364.4 446.7L374 441.7L382.3 436.2L390.7 429.5L398.4 422L405 413.9L410.8 405.2L415.3 396.9L419.2 387.3L421.9 377.7L423.6 368.2L424.3 358.6L424.1 349L422.8 339.5L420.6 329.9L417.3 320.4L412.9 310.8L408 302.4L401.2 292.9L394 284.5L385.4 276.1L376.8 269L366.5 261.8L356.3 255.8L346 251L340.5 249L335.7 247.4L326.2 245.4L321.4 244.8L316.6 244.5L308.3 244.9L303.5 245.6L298.7 246.7L290.3 249.4L281.6 253.4L277.3 255.8L271.6 259.4L263.4 265.4L255 272.5L246.7 280.9L239.5 289.3L232.6 298.8L227.5 307.2L222.8 316.8L219.1 326.3L216.4 335.9L214.5 346.7L213.8 356.2L214.1 365.8L215.4 375.3L217.7 384.9L220.6 393.3L224.6 401.9L229.4 410.1L235.4 418.2L241.4 424.9L248.5 431.6L256.9 438L265.2 443.2L273.6 447.3L283.2 451.1L292.7 453.8L302.3 455.6Z"/>
<path fill="#ffe4e4" d="M180.8 296.5L188.8 296.7L197.1 295.9L205.5 294L213.9 291.1L222.2 287.3L231.8 282.2L241.4 276.4L266.1 260.6L272.3 257L279.1 253.4L287.1 249.8L295.1 247L302.3 245.3L310.7 244.1L317.8 244L325 244.5L333.4 246L341.7 248.2L348.9 250.6L356.2 253.4L384.7 266L395.5 270.4L405 273.7L414.6 276.3L424.2 277.8L428.9 278.1L433.7 278.1L442.1 277.2L446.9 276.2L450.4 275L455.2 273.1L460.8 270.2L465.9 266.6L469.9 263L474.3 258.2L477.7 253.4L480.5 248.6L483.2 242.7L485.2 236.7L486.6 230.7L487.5 224.7L487.8 218.8L487.6 212.8L486.8 205.6L485.6 199.6L483.5 192.5L481.2 186.5L478.4 180.5L475 174.5L471.8 169.8L468.1 165L463.6 159.9L458.8 155.2L453.4 150.6L448 146.7L442.1 142.9L436.1 139.6L430.1 136.8L424.2 134.5L417 132.1L409.8 130.3L402.6 128.9L394.3 127.8L387.1 127.2L378.8 127L369.2 127.2L352.5 128.6L320.2 132.7L302.3 134.5L287.9 135.3L255.7 136.1L240.2 136.9L229.4 138.1L218.7 139.8L209.1 142L199.5 145L192.4 147.7L186 150.6L179.2 154.2L173.5 157.8L167.3 162.2L162.5 166.2L157.3 170.9L152.9 175.7L149 180.5L144.7 186.5L141.2 192.5L138.2 198.4L135.7 204.4L133.7 210.4L132.2 216.4L131 223.5L130.4 230.7L130.5 236.7L131.1 243.9L132.2 249.8L133.8 255.8L136 261.8L138.9 267.8L141.9 272.5L145.5 277.3L149.9 282.1L154.1 285.7L158.9 289L163.8 291.7L169.7 294L175.6 295.6Z"/>
<path fill="#e4e4ff" d="M316.4 454.2L326.2 453.9L336.9 452.6L347.7 450.2L357.2 447L366.8 442.8L375.2 438.2L383.5 432.5L391.9 425.4L399.1 418L405 410.5L410.7 401.6L414.9 393.3L418.6 383.7L421.1 374.1L422.6 364.6L423.1 355L422.6 345.5L421.2 335.9L418.7 326.3L415.1 316.8L410.3 307.2L405.2 298.8L398.9 290.5L391.4 282.1L382.4 273.7L373.4 266.6L362.6 259.4L353.8 254.6L344.1 250.3L334.5 247.2L329.8 246L325 245.2L320.2 244.7L315.4 244.5L307.1 245.1L298.7 246.7L293.9 248.1L289.4 249.8L280.8 253.9L271.6 259.4L263.5 265.4L253.8 273.7L245.7 282.1L238.8 290.5L232.1 300L226.6 309.6L222.8 318L219.3 327.5L216.8 337.1L215.3 346.7L214.8 357.4L215.4 367L217 376.5L219.6 386.1L222.9 394.5L227.1 402.8L232.4 411.2L238.1 418.4L244.9 425.6L252.1 431.7L260.5 437.7L268.8 442.4L277.2 446.3L286.8 449.6L296.3 452L305.9 453.6Z"/>
<path fill="#ffe3e3" d="M181.4 295.3L188.8 295.7L197.1 295.1L205.5 293.3L215.1 290.1L223.4 286.4L233 281.3L242.5 275.5L266 260.6L279 253.4L287 249.8L295.1 247L302.3 245.3L310.7 244.1L317.8 244L325 244.5L333.4 246L341.7 248.2L348.9 250.6L356.3 253.4L383.5 265.3L393.1 269.2L402.6 272.6L412.2 275.2L421.8 276.9L426.5 277.2L431.3 277.3L439.7 276.5L444.5 275.5L448 274.4L454 272L458.8 269.4L463 266.6L467.2 263L471.7 258.2L475.2 253.4L478 248.6L480.8 242.7L482.8 236.7L484.2 230.7L485.1 224.7L485.4 218.8L485.2 212.8L484.4 205.6L483.1 199.6L481 192.5L478.7 186.5L475.8 180.5L472.3 174.5L469 169.8L465.3 165L461 160.2L456.4 155.8L451.6 151.7L446.9 148.2L440.9 144.3L434.9 141L428.9 138.1L423 135.7L415.8 133.4L408.6 131.5L401.5 130.1L393.1 128.9L384.7 128.3L376.4 128.1L366.8 128.3L351.3 129.6L316.6 133.9L302.3 135.2L287.9 136.1L256.9 136.9L242.5 137.7L230.6 139L221 140.5L211.5 142.7L201.9 145.6L196 147.8L188.8 151L182.5 154.2L176.6 157.8L170.9 161.7L165.3 166.2L160.1 170.9L155.6 175.7L151.6 180.5L147.3 186.5L144.3 191.3L141.2 197.2L138.6 203.2L136.5 209.2L134.6 216.4L133.6 222.3L132.9 228.3L132.8 235.5L133.4 242.7L134.4 248.6L135.9 254.6L138 260.6L140.9 266.6L143.7 271.4L147.3 276.1L151.7 280.9L155.8 284.5L160.1 287.6L165.3 290.5L170.9 292.8L175.6 294.2Z"/>
<path fill="#e3e3ff" d="M302 450.6L311.8 451.7L322.6 451.7L333.4 450.7L344.1 448.7L354.9 445.4L364.4 441.4L374 436.2L382.3 430.6L389.9 424.3L397.1 417.2L403.8 408.8L409.2 400.4L414.1 390.9L417.7 381.3L420.1 371.8L421.5 362.2L421.9 352.6L421.4 343.1L419.8 333.5L417.1 323.9L413.9 315.6L409.1 306L403 296.5L396.5 288.1L388.7 279.7L379.4 271.4L369.9 264.2L360.4 258.2L350.1 252.9L340.5 249L331 246.3L326.2 245.4L321.4 244.8L313 244.6L304.7 245.4L296.3 247.4L287.9 250.4L279.5 254.6L271.7 259.4L262.1 266.6L254 273.7L245.9 282.1L239 290.5L232.4 300L227.7 308.4L223.2 318L219.9 327.5L217.5 337.1L216.2 346.7L215.8 356.2L216.3 364.6L217.8 374.1L219.9 382.5L223 390.9L227 399.3L231.8 407.2L237.5 414.8L243.7 421.7L250.9 428.1L258.1 433.5L266.4 438.7L274.8 442.8L283.2 446.1L292.7 448.8Z"/>
<path fill="#ffe2e2" d="M181.7 294.1L185.2 294.5L190 294.7L198.3 294.1L206.7 292.3L215.1 289.6L223.4 286L231.8 281.7L242.5 275.3L265.9 260.6L274.3 255.8L281.5 252.2L289.1 249L296.3 246.7L303.5 245L310.7 244.1L317.8 244L325 244.5L333.4 245.9L341.7 248.1L348.9 250.5L356.4 253.4L382.3 264.7L391.9 268.6L401.5 271.9L411 274.5L420.6 276.1L425.3 276.5L430.1 276.5L438.5 275.7L446.1 273.7L451.6 271.6L456.5 269L461.7 265.4L465.8 261.8L469.1 258.2L472.8 253.4L475.6 248.6L478.4 242.7L480.5 236.7L481.9 230.7L482.8 224.7L483.1 218.8L482.9 212.8L482 205.6L480.8 199.6L479 193.7L476.8 187.7L473.9 181.7L470.5 175.7L467.3 170.9L463.6 166.2L459.3 161.4L454.4 156.6L449.2 152.2L443.8 148.2L438.5 144.9L432.5 141.6L426.5 138.9L420.6 136.5L413.4 134.2L406.2 132.3L400.3 131.2L391.9 130L383.5 129.3L375.2 129.1L365.6 129.3L350.1 130.5L316.6 134.6L301.1 136L287.9 136.7L259.3 137.6L246.1 138.3L234.2 139.5L223.4 141.2L213.9 143.3L204.3 146.2L197.1 148.8L191.2 151.5L185.2 154.5L179.2 158L173.3 162.1L168 166.2L162.7 170.9L158.1 175.7L154.1 180.5L149.7 186.5L146.7 191.3L143.6 197.2L140.9 203.2L138.8 209.2L137.2 215.2L136 221.1L135.3 227.1L135.1 234.3L135.4 240.3L136.2 246.2L137.6 252.2L139.5 258.2L142.1 264.2L144.8 269L148 273.7L152.1 278.5L155.9 282.1L160.5 285.7L166.1 289L170.9 291.2L176 292.9Z"/>
<path fill="#e2e2ff" d="M313.5 449.4L323.8 449.4L333.4 448.4L344.1 446.3L353.7 443.4L363.2 439.5L372.8 434.4L381.1 428.9L388.3 423L395.5 416L401.5 408.8L407.2 400.4L411.7 392.1L415.7 382.5L418.4 372.9L420.1 363.4L420.8 353.8L420.5 344.3L419.1 334.7L416.7 325.1L413.7 316.8L409.2 307.2L404.2 298.8L398.1 290.5L390.8 282.1L382 273.7L373.1 266.6L364.3 260.6L353.7 254.6L344.1 250.3L334.5 247.2L329.8 246.1L325 245.2L316.6 244.6L308.3 245L303.5 245.7L298.7 246.7L290.3 249.5L281.7 253.4L277.4 255.8L271.7 259.4L263.6 265.4L255.3 272.5L248.2 279.7L241.1 288.1L235 296.5L229.9 304.8L225.2 314.4L221.6 323.9L219 333.5L217.4 343.1L216.7 352.6L217.1 362.2L218.3 370.6L220.6 380.1L223.5 388.5L227.5 396.9L232.5 405.2L237.8 412.4L244.3 419.6L250.9 425.6L259.3 431.9L267.6 436.9L276 441L284.4 444.1L293.9 446.8L303.5 448.6Z"/>
<path fill="#ffe1e1" d="M181.9 292.9L186.4 293.5L190 293.7L198.3 293.3L206.7 291.7L216.3 288.7L224.6 285.1L234.2 280.1L243.7 274.4L265.9 260.6L274.3 255.8L281.4 252.2L289.1 249L296.3 246.6L303.5 245L310.7 244.1L317.8 243.9L325 244.5L333.4 245.9L341.7 248.1L348.9 250.5L356.5 253.4L382.3 264.5L391.9 268.3L401.5 271.6L409.8 273.8L419.4 275.4L427.7 275.8L436.1 275L440.9 274.1L444.5 273L449.2 271.2L454 268.7L459.1 265.4L463.3 261.8L466.7 258.2L470.4 253.4L473.4 248.6L476.2 242.7L478.3 236.7L479.5 231.9L480.5 225.9L480.9 220L480.8 214L480 206.8L478.8 200.8L477.2 194.9L475 188.9L472.2 182.9L468.8 176.9L465.7 172.1L462 167.4L457.8 162.6L453 157.8L448 153.6L442.4 149.4L437.3 146.1L431.3 142.8L425.3 140L419.4 137.6L412.2 135.3L405 133.4L399.1 132.2L389.5 130.9L378.8 130.2L368 130.2L357.2 130.7L345.3 131.9L318 135.1L303.5 136.5L287.9 137.4L255.7 138.6L240.2 139.8L231.8 140.8L222.2 142.5L215.1 144.2L206.7 146.7L200.7 148.8L193.6 151.9L187.6 154.9L181.6 158.3L175.6 162.3L170.7 166.2L166.1 170.2L161.3 174.9L156.5 180.4L152.9 185.3L149.7 190.1L146.4 196L143.6 202L141.4 208L139.7 214L138.4 220L137.6 225.9L137.3 233.1L137.5 239.1L138.2 245.1L139.5 251L141.4 257L143.9 263L146.5 267.8L149.6 272.5L153.6 277.3L157.3 280.9L161.8 284.5L166.1 287.2L170.9 289.6L176.7 291.7Z"/>
<path fill="#e1e1ff" d="M310.1 447.1L320.2 447.3L331 446.5L340.5 444.9L351.3 442L360.8 438.3L369.2 434.1L377.6 428.9L385.9 422.5L393.1 415.8L400.1 407.6L405.9 399.2L410.5 390.9L414.1 382.5L417 372.9L418.9 363.4L419.7 353.8L419.5 344.3L418.3 334.7L416.3 326.3L413.1 316.8L409.3 308.4L404.5 300L398.7 291.7L391.6 283.3L383.2 274.9L374.5 267.8L366.1 261.8L355.9 255.8L345.8 251L336.9 247.9L327.4 245.6L322.6 244.9L317.8 244.6L309.5 244.8L301.1 246.2L292.6 248.6L284.1 252.2L275.5 257L266.8 263L258.1 270.2L250.6 277.3L243.2 285.7L236.9 294.1L230.9 303.6L226.7 312L222.9 321.6L220.4 329.9L218.5 339.5L217.7 349L217.8 358.6L218.8 367L220.5 375.3L223.4 384.5L227 392.7L231.3 400.4L236.6 408.1L242.5 415.2L249.7 422.1L256.9 427.8L264.1 432.6L272.4 437.1L280.8 440.6L290.3 443.7L299.9 445.8Z"/>
<path fill="#ffe0e0" d="M181.9 291.7L186.4 292.4L190 292.7L193.6 292.8L198.3 292.5L206.7 291.1L211.5 289.8L216.3 288.2L224.6 284.7L234.2 279.8L243.7 274.2L267.8 259.4L274.2 255.8L281.4 252.2L289.1 249L296.3 246.6L303.5 245L310.7 244.1L317.8 243.9L325 244.5L332.2 245.6L340.5 247.7L347.1 249.8L356.6 253.4L381.1 263.9L391.9 268.1L401.5 271.3L409.8 273.4L419.4 274.8L427.7 275L432.5 274.6L436.1 274.1L443.3 272.2L448.4 270.2L452.9 267.8L458.1 264.2L462.1 260.6L465.4 257L469 252.2L471.8 247.4L474.1 242.7L475.8 237.9L477.4 231.9L478.4 225.9L478.8 220L478.7 214L478.1 208L477 202L475 194.9L472.8 188.9L470.6 184.1L467.3 178.1L464.2 173.3L460.6 168.6L456.4 163.8L451.6 159L446.1 154.2L440.9 150.4L435.7 147L430.1 143.9L424.1 141.1L418.2 138.7L412.2 136.7L405 134.7L397.9 133.2L388.3 131.9L377.6 131.2L366.8 131.1L354.9 131.8L341.7 133L314.2 136.2L302.3 137.2L287.9 138.1L256.9 139.3L241.4 140.5L231.8 141.8L223.4 143.3L215.1 145.4L207.9 147.5L200.7 150.2L194.8 152.8L188.8 155.8L183.3 159L177.9 162.6L172.1 167.1L167.7 170.9L162.9 175.7L158.8 180.5L155.1 185.3L151.9 190.1L148.6 196L145.8 202L143.5 208L141.8 214L140.5 220L139.6 227.1L139.4 233.1L139.6 239.1L140.4 245.1L141.7 251L143.1 255.8L145.5 261.8L148 266.6L151.2 271.4L155 276.1L158.6 279.7L162.5 282.9L167.3 286.1L172.1 288.5L176.8 290.3Z"/>
<path fill="#e0e0ff" d="M306.8 444.7L316.6 445.2L326.2 444.9L335.7 443.7L346.5 441.2L356.1 438L365.6 433.7L374 428.9L382.3 423L389.5 416.7L396.7 409.1L402.4 401.6L407.5 393.3L411.5 384.9L415 375.3L417.3 365.8L418.5 356.2L418.6 346.7L417.8 337.1L415.9 327.5L412.9 318L409.4 309.6L404.1 300L398.3 291.7L392.4 284.5L384.3 276.1L375.9 269L367.7 263L358 257L348.5 252.2L342.6 249.8L338.1 248.3L328.6 245.8L320.2 244.7L311.8 244.7L303.5 245.7L295.1 247.8L286.7 251L277.5 255.8L270.1 260.6L260.9 267.8L253.1 274.9L246.4 282.1L239.7 290.5L233.3 300L228.8 308.4L225.1 316.8L221.9 326.3L219.8 335.9L218.7 345.5L218.5 353.8L219.3 363.4L220.8 371.8L223.2 380.1L226.5 388.5L230.6 396.4L235.5 404L241.4 411.4L247.3 417.6L254.5 423.8L262.9 429.6L271.2 434.3L279.6 438L287.9 440.9L297.5 443.3Z"/>
<path fill="#ffdfdf" d="M189.4 291.7L197.1 291.8L204.3 290.9L211.5 289.3L219.8 286.4L227 283.3L235.4 279L243.7 274.1L267.7 259.4L274.2 255.8L281.3 252.2L289.1 249L296.3 246.6L303.5 245L310.7 244.1L317.8 243.9L325 244.5L332.2 245.6L340.5 247.7L347.2 249.8L356.8 253.4L381.1 263.7L390.7 267.4L400.3 270.6L408.6 272.7L418.2 274.1L426.5 274.3L431.3 273.9L434.9 273.3L442.1 271.4L446.9 269.5L451.6 266.9L455.6 264.2L460 260.4L463.2 257L466.9 252.2L469.8 247.4L472.5 241.5L474.2 236.7L475.6 230.7L476.5 224.7L476.8 218.8L476.6 212.8L475.9 206.8L474.6 200.8L472.5 193.7L470.1 187.7L467.8 182.9L464.3 176.9L461 172.1L457.2 167.4L452.8 162.6L448 158L443.4 154.2L438.4 150.6L432.7 147L427.7 144.4L421.8 141.6L415.8 139.2L408.6 136.9L402.6 135.4L395.5 134L387.1 132.8L378.8 132.2L370.4 132L360.8 132.2L346.5 133.3L317.8 136.4L302.3 137.8L289.1 138.7L264.1 139.7L250.9 140.5L239 141.7L228.2 143.4L218.7 145.5L207.9 148.8L200.7 151.5L194.8 154.2L188.8 157.4L182.8 161L177.2 165L172.1 169.1L167.5 173.3L163 178.1L159 182.9L154.8 188.9L151.9 193.7L148.9 199.6L146.4 205.6L144.4 211.6L143 217.6L142 223.5L141.4 230.7L141.5 236.7L142 242.7L143.1 248.6L144.8 254.6L146.6 259.4L149.6 265.4L152.6 270.2L156.4 274.9L159.8 278.5L164.1 282.1L168.5 285L173.3 287.5L178 289.4L184 290.9Z"/>
<path fill="#dfdfff" d="M303.6 442.3L313 443.1L323.8 443L334.5 441.9L344.1 439.8L353.7 436.8L363.2 432.8L371.6 428.2L379.9 422.5L387.1 416.5L394.3 409.3L400.4 401.6L405.8 393.3L410 384.9L413.6 375.3L416 365.8L417.4 356.2L417.7 346.7L416.9 337.1L415.2 327.5L412.7 319.2L409.4 310.8L404.4 301.2L399.7 294.1L393.2 285.7L385.3 277.3L377.2 270.2L367.6 263L357.9 257L348.4 252.2L339.2 248.6L329.8 246.1L321.4 244.8L313 244.6L304.7 245.5L297.5 247.1L289.1 250L280.8 254L271.9 259.4L263.8 265.4L255.7 272.5L248.7 279.7L241.7 288.1L235.8 296.5L230.9 304.8L226.5 314.4L223.1 323.9L220.8 333.5L219.7 341.9L219.3 351.4L219.8 359.8L221.1 368.2L223.3 376.5L226.3 384.9L230.4 393.3L234.8 400.4L240.2 407.6L246.1 414.1L253.3 420.6L260.5 425.9L268.8 431L277.2 435L285.6 438.1L293.9 440.5Z"/>
<path fill="#ffdede" d="M187.8 290.5L194.8 291L198.3 290.9L203.1 290.5L211.5 288.8L219.8 286L228.2 282.4L236.6 278.1L244.9 273.2L267.7 259.4L274.1 255.8L281.3 252.2L289.1 248.9L296.3 246.6L303.5 245L310.7 244.1L317.8 243.9L325 244.4L332.2 245.6L340.5 247.7L347.3 249.8L354.9 252.6L381.1 263.6L389.5 266.8L399.1 270L407.4 272L415.8 273.3L424.2 273.7L428.9 273.4L432.5 272.9L439.7 271.1L445.1 269L449.6 266.6L454.8 263L458.8 259.4L462.1 255.8L465.6 251L468.4 246.2L470.6 241.5L472.2 236.7L473.7 230.7L474.6 224.7L474.9 218.8L474.6 212.8L473.9 206.8L472.7 200.8L470.9 194.9L469.1 190.1L466.3 184.1L462.9 178.1L459.7 173.3L456 168.6L451.7 163.8L446.9 159.2L442.4 155.4L437.3 151.7L431.8 148.2L426.5 145.4L420.6 142.6L414.6 140.2L407.4 137.9L400.3 136L394.3 134.9L385.9 133.7L377.6 133.1L369.2 132.9L359.6 133.1L344.1 134.2L314.2 137.4L301.1 138.6L253.3 141.1L241.4 142.2L230.6 143.9L219.8 146.2L210.3 149.1L204.3 151.3L198.3 153.9L192.4 156.9L186.4 160.3L181.2 163.8L175.6 168.1L171 172.1L166.2 176.9L162.1 181.7L158.5 186.5L154.6 192.5L152 197.2L149.3 203.2L147.1 209.2L145.4 215.2L144.2 221.1L143.5 227.1L143.3 233.1L143.6 239.1L144.4 245.1L145.4 249.8L147.2 255.8L149.8 261.8L152.4 266.6L155.6 271.4L158.9 275.2L162.5 278.7L167.3 282.5L172.1 285.4L176.8 287.6L182 289.3Z"/>
<path fill="#dedeff" d="M311 441.1L321.4 441.2L331 440.4L340.5 438.7L350.1 436.1L359.6 432.4L368 428.2L376.4 422.9L383.8 417.2L390.7 410.7L397.5 402.8L402.6 395.5L407.4 387L411.4 377.7L414 369.4L415.9 359.8L416.7 350.2L416.5 340.7L415.4 332.3L413.2 322.7L410.3 314.4L405.9 304.8L401 296.5L394.9 288.1L388.6 280.9L381.2 273.7L372.5 266.6L363.9 260.6L353.4 254.6L344.1 250.5L335.2 247.4L326.2 245.5L317.8 244.6L309.5 244.9L301.1 246.2L292.7 248.6L284.3 252.2L275.6 257L267 263L259.7 269L252.2 276.1L244.7 284.5L238.4 292.9L233.2 301.2L228.9 309.6L225.1 319.2L222.7 327.5L220.9 337.1L220.1 345.5L220.3 355L221.2 363.4L223 371.8L225.7 380.1L229.4 388.5L233.4 395.7L239 403.7L244.9 410.6L252.1 417.5L259.3 423L266.4 427.6L274.8 432L283.2 435.4L292.7 438.3L302.3 440.2Z"/>
<path fill="#ffdddd" d="M186.8 289.3L191.2 289.9L194.8 290.2L198.3 290.2L203.1 289.8L211.5 288.2L219.8 285.6L227 282.7L236.6 277.9L244.9 273.1L267.6 259.4L274 255.8L281.2 252.2L289.1 248.9L296.3 246.6L303.5 245L310.7 244.1L317.8 243.9L325 244.4L332.2 245.6L339.7 247.4L347.3 249.8L353.9 252.2L378.8 262.5L388.3 266.2L397.9 269.3L406.2 271.4L414.6 272.7L423 273L427.7 272.7L431.3 272.2L438.5 270.4L443.3 268.6L448 266.1L452.6 263L456.7 259.4L460.1 255.8L463.7 251L466.5 246.2L468.7 241.5L470.4 236.7L471.8 230.7L472.6 225.9L473 220L472.9 214L472.2 208L471.1 202L469.4 196L467.6 191.3L464.9 185.3L461.6 179.3L458.5 174.5L454.8 169.8L450.6 165L445.7 160.2L441.4 156.6L436.6 153L431 149.4L425.3 146.3L419.4 143.5L413.4 141.1L407.4 139.1L400.3 137.2L394.3 135.9L384.7 134.6L374 133.8L363.2 133.8L350.1 134.4L303.5 139L289.5 139.9L260.5 141.3L246.1 142.5L236.6 143.7L228.2 145.3L219.8 147.3L212.7 149.4L206.7 151.6L200.4 154.2L194.8 157L188.8 160.4L183.6 163.8L178 167.9L173.1 172.1L168.5 176.8L164.1 181.7L160.5 186.5L157.3 191.3L154.6 196L152.2 200.8L149.8 206.8L147.9 212.8L146.5 218.8L145.6 224.7L145.2 230.7L145.3 236.7L145.8 242.7L146.7 247.4L148.3 253.4L150.6 259.4L153 264.2L156 269L159.8 273.7L163.3 277.3L167.6 280.9L172.1 283.8L176.8 286.2L181.6 288Z"/>
<path fill="#ddddff" d="M305.2 438.7L315.4 439.4L325 439.2L335.7 437.8L345.3 435.6L354.9 432.4L363.2 428.7L371.6 424L379.9 418.1L387.1 411.9L394.3 404.3L400 396.9L405 388.6L409.1 380.1L412.4 370.6L414.4 362.2L415.6 352.6L415.8 343.1L415 334.7L413.2 325.1L410.7 316.8L406.7 307.2L402.1 298.8L396.4 290.5L390.5 283.3L382.3 274.9L373.9 267.8L363.8 260.6L355.6 255.8L345.5 251L336.9 248L328.6 245.9L320.2 244.8L311.8 244.7L303.5 245.7L295.1 247.8L287.9 250.5L279.7 254.6L272 259.4L264 265.4L255.9 272.5L249 279.7L242.1 288.1L236.3 296.5L231.6 304.8L227.8 313.2L224.5 322.7L222.5 331.1L221.1 340.7L220.8 349L221.5 358.6L222.9 367L225.2 375.3L228.2 383.1L232.1 390.9L236.6 398.1L242.5 405.8L248.5 412.1L255.7 418.3L262.9 423.5L270 427.7L278.4 431.6L286.8 434.7L296.3 437.2Z"/>
<path fill="#ffdcdc" d="M194.2 289.3L200.7 289.3L207.9 288.5L215.1 286.8L222.2 284.3L229.4 281.3L237.8 277L246.1 272.2L267.5 259.4L274 255.8L281.2 252.2L289.1 248.9L296.3 246.6L303.5 245L310.7 244.1L317.8 243.9L325 244.4L332.2 245.6L339.8 247.4L346.5 249.5L354 252.2L378.8 262.3L388.3 266L396.7 268.7L405 270.8L413.4 272.1L421.8 272.4L426.5 272.1L430.1 271.6L437.3 269.8L442.3 267.8L446.8 265.4L450.4 262.9L454.7 259.4L458.1 255.8L461.8 251L464.6 246.2L466.8 241.5L468.6 236.7L470.1 230.7L470.9 224.7L471.2 220L471.1 214L470.4 208L469.2 202L467.5 196L465.3 190.1L463 185.3L459.7 179.3L456.4 174.5L452.7 169.8L448.4 165L444.5 161.2L439.7 157.1L434.1 153L428.9 149.8L424 147L418.2 144.3L412.2 141.9L406.2 139.9L400.3 138.3L393.1 136.8L382.3 135.3L371.6 134.6L360.8 134.6L347.7 135.3L302.3 139.6L262.9 141.8L247.3 143.1L237.8 144.4L228.2 146.2L221 147.9L212.7 150.5L205.5 153.2L199.5 155.9L193.6 159L187.6 162.6L182.5 166.2L176.8 170.7L172.7 174.5L168.1 179.3L164.2 184.1L160.7 188.9L157.1 194.9L154.6 199.6L152 205.6L150 211.6L148.5 217.6L147.5 223.5L147 229.5L147 235.5L147.5 241.5L148.5 247.4L150.2 253.4L152.5 259.4L155 264.2L158 269L161.9 273.7L165.5 277.3L169.7 280.6L173.9 283.3L178.8 285.7L184 287.5L188.8 288.6Z"/>
<path fill="#dcdcff" d="M311.9 437.5L321.4 437.6L331 436.7L340.5 435L350.1 432.3L359.6 428.5L368 424.2L376.4 418.8L383.5 413.1L390.4 406.4L396.5 399.2L401.5 392L406.1 383.7L409.6 375.3L412.5 365.8L414.1 357.4L414.9 347.8L414.7 339.5L413.5 329.9L411.6 321.6L408.3 312L404.4 303.6L399.4 295.3L394.2 288.1L388.1 280.9L380.8 273.7L372.2 266.6L363.6 260.6L353.2 254.6L344.1 250.5L335.1 247.4L326.2 245.5L317.8 244.7L309.5 244.9L301.1 246.2L292.8 248.6L284.3 252.2L275.7 257L267.1 263L259.8 269L252.4 276.1L246 283.3L239.7 291.7L234.5 300L230.2 308.4L226.4 318L224 326.3L222.4 334.7L221.6 344.3L221.7 352.6L222.7 361L224.5 369.4L227.2 377.7L230.6 385.5L235 393.3L240.2 400.7L246.1 407.6L253.3 414.4L260.5 419.9L267.6 424.5L276 428.8L284.4 432.1L293.9 434.9L303.5 436.7Z"/>
<path fill="#ffdbdb" d="M191.3 288.1L198.3 288.6L201.9 288.5L206.7 288.1L213.9 286.6L222.2 284L229.4 281L237.8 276.8L246.1 272.1L269.5 258.2L281.1 252.2L289.1 248.9L296.3 246.6L303.5 244.9L310.7 244L317.8 243.9L325 244.4L332.2 245.6L339.9 247.4L346.5 249.5L354.1 252.2L378.8 262.2L388.3 265.8L396.7 268.4L405 270.4L413.4 271.6L421.8 271.8L428.9 271L436.1 269.2L440.9 267.3L445.7 264.7L449.9 261.8L454 258.2L457.2 254.6L459.9 251L462.8 246.2L465.1 241.5L466.8 236.7L468.3 230.7L469.1 225.9L469.5 220L469.4 214L468.7 208L467.5 202L465.8 196L464 191.3L461.2 185.3L458.5 180.5L455.4 175.7L451.7 170.9L447.5 166.2L443.3 162.1L438.3 157.8L433.4 154.2L427.8 150.6L423 147.9L417 145.1L411 142.7L405 140.7L399.1 139.1L391.9 137.6L382.3 136.2L371.6 135.4L359.6 135.4L347.7 136L304.7 140L262.9 142.5L248.5 143.7L239 145L230.6 146.5L222.2 148.5L215.1 150.7L207.9 153.3L201.9 156L197.1 158.3L191.2 161.8L185.2 165.8L180.4 169.4L175.9 173.3L171.1 178.1L167 182.9L163.4 187.7L160.3 192.5L156.9 198.4L154.7 203.2L152.5 209.2L151.1 214L149.8 220L149 225.9L148.6 231.9L148.8 237.9L149.6 243.9L150.9 249.8L152.4 254.6L154.9 260.6L157.5 265.4L160.9 270.2L164 273.7L167.7 277.3L172.1 280.6L176.5 283.3L181.6 285.6L186.4 287.1Z"/>
<path fill="#dbdbff" d="M304.5 435.1L314.2 435.9L323.8 435.7L333.4 434.7L342.9 432.6L352.5 429.6L360.8 426.1L369.2 421.6L377.6 415.9L384.7 409.9L391.9 402.6L397.9 395L402.7 387.3L406.9 378.9L410.4 369.4L412.5 361L413.8 351.4L414 341.9L413.4 333.5L411.6 323.9L409.1 315.6L405.7 307.2L401.3 298.8L395.7 290.5L390 283.3L383.2 276.1L375.1 269L367.1 263L357.6 257L348.1 252.2L338.9 248.6L329.8 246.2L321.4 244.9L313 244.7L305.9 245.3L297.5 247.1L289.7 249.8L282 253.4L273.9 258.2L265.6 264.2L257.3 271.4L250.3 278.5L244.3 285.7L238.3 294.1L233.4 302.4L229 312L226.1 320.4L224 328.7L222.6 338.3L222.3 346.7L222.7 355L224.1 363.4L226.2 371.8L229.4 380.1L232.9 387.3L237.2 394.5L242.6 401.6L248.5 408.1L255.7 414.5L262.9 419.7L270 424L278.4 428L286.8 431.1L295.1 433.4Z"/>
<path fill="#ffdada" d="M189.8 286.9L197.1 287.8L200.7 287.9L205.5 287.6L213.9 286.2L222.2 283.6L229.4 280.7L237.8 276.6L246.1 272L269.4 258.2L282 251.8L289.8 248.6L296.3 246.6L303.5 244.9L310.7 244L317.8 243.9L325 244.4L332.2 245.6L339.9 247.4L346.5 249.5L354.2 252.2L377.6 261.6L387.1 265.2L395.5 267.8L403.8 269.8L412.2 271L420.6 271.2L427.7 270.4L434.9 268.6L440 266.6L444.4 264.2L448 261.6L452.1 258.2L455.4 254.6L458.2 251L461.1 246.2L463.4 241.5L465.2 236.7L466.7 230.7L467.4 225.9L467.9 220L467.7 214L467 208L465.8 202L464.4 197.2L462.2 191.3L460 186.5L456.7 180.5L453.5 175.7L449.8 170.9L445.7 166.4L441.8 162.6L437.3 158.8L432.5 155.2L427.3 151.8L421.8 148.7L415.8 145.8L409.8 143.4L403.8 141.5L396.7 139.5L390.7 138.3L379.9 136.8L369.2 136.1L358.4 136.1L345.3 136.8L303.5 140.7L265.2 142.9L250.9 144.1L241.4 145.4L233 146.9L224.6 148.8L217.5 150.9L210.3 153.5L204.3 156L199.5 158.3L193.6 161.7L188.4 165L183.5 168.6L179.2 172.1L174.1 176.9L169.8 181.7L166 186.5L162.7 191.3L159.9 196L157.5 200.8L155 206.8L153.1 212.8L151.6 218.8L150.7 224.7L150.3 230.7L150.4 236.7L150.9 241.5L152 247.4L153.3 252.2L155.6 258.2L158 263L161 267.8L163.8 271.4L167.2 274.9L171.4 278.5L175.6 281.4L180.4 283.9L185.2 285.7Z"/>
<path fill="#dadaff" d="M308.9 433.9L317.8 434.3L327.4 433.8L336.9 432.3L346.5 429.9L356.1 426.5L364.4 422.5L372.8 417.4L379.9 412.1L387.1 405.6L393.1 399L398.2 392.1L403.2 383.7L407.1 375.3L410.3 365.8L412.1 357.4L413.1 347.8L413.1 338.3L412.2 329.9L410.4 321.6L407.7 313.2L404.1 304.8L399.4 296.5L393.6 288.1L387.6 280.9L380.5 273.7L371.9 266.6L363.4 260.6L355.3 255.8L346.5 251.5L336.9 248L332.2 246.7L327.4 245.7L319 244.7L310.7 244.8L303.5 245.8L295.1 247.9L287 251L277.8 255.8L270.5 260.6L262.8 266.6L255 273.7L248.3 280.9L241.8 289.3L237.1 296.5L232.5 304.8L228.9 313.2L225.9 322.7L224.1 331.1L223.1 340.7L223.1 349L223.9 357.4L225.5 365.8L228.1 374.1L231.6 382.5L235.6 389.7L240.5 396.9L246.1 403.7L252.1 409.6L259.3 415.4L266.4 420.2L274.8 424.7L283.2 428.2L291.5 430.9L299.9 432.7Z"/>
<path fill="#ffd9d9" d="M195.4 286.9L201.9 287.2L209.1 286.6L216.3 285.1L223.4 282.8L230.6 279.9L239 275.8L247.3 271.1L269.4 258.2L282 251.8L289.7 248.6L296.3 246.5L303.5 244.9L310.7 244L317.8 243.9L325 244.4L332.2 245.5L339.3 247.3L346.5 249.4L354.4 252.2L376.4 261L385.9 264.6L394.3 267.2L402.6 269.3L411 270.5L419.4 270.7L426.5 269.9L433.7 268.1L438.5 266.2L442.2 264.2L445.9 261.8L450.2 258.2L453.7 254.6L456.5 251L459.5 246.2L461.8 241.5L463.5 236.7L465.1 230.7L465.8 225.9L466.3 220L466.1 214L465.4 208L464.2 202L462.8 197.2L460.5 191.3L458.3 186.5L455.6 181.7L452.5 176.9L448.9 172.1L444.7 167.4L440.9 163.6L436.1 159.5L430.6 155.4L425.3 152.1L419.4 148.8L414.6 146.5L408.6 144.2L402.6 142.2L396.7 140.5L390.7 139.2L379.9 137.7L369.2 136.9L357.2 136.9L344.1 137.5L305.1 141.1L265.2 143.5L250.9 144.8L241.4 146.1L233 147.7L224.6 149.7L217.5 151.9L210.3 154.5L204.3 157.1L199.5 159.5L193.6 163L187.6 167L182.8 170.7L178.4 174.5L173.7 179.3L169.6 184.1L166 188.9L162.9 193.7L159.7 199.6L157.1 205.6L155.4 210.4L153.7 216.4L152.8 221.1L152.1 227.1L151.9 233.1L152.2 239.1L153.1 245.1L154.6 251L156.2 255.8L158.4 260.6L161.2 265.4L164.7 270.2L167.9 273.7L172 277.3L175.6 280L180.4 282.6L185.2 284.6L190 286Z"/>
<path fill="#d9d9ff" d="M302.2 431.5L311.8 432.5L321.4 432.6L331 431.7L340.5 429.9L350.1 427.1L358.4 423.7L366.8 419.4L375.2 413.9L382.3 408.2L389.5 401.1L395.5 393.7L400.5 386.1L404.8 377.7L408.1 369.4L410.4 361L412 351.4L412.4 343.1L412 333.5L410.6 325.1L408.4 316.8L405.3 308.4L401.2 300L396 291.7L390.5 284.5L384 277.3L376.2 270.2L368.6 264.2L359.5 258.2L350.6 253.4L340.5 249.2L331 246.4L322.6 245L314.2 244.7L305.9 245.4L298.7 246.8L290.3 249.6L282.1 253.4L274 258.2L265.8 264.2L258.8 270.2L251.7 277.3L245.6 284.5L239.6 292.9L234.6 301.2L230.7 309.6L227.6 318L225.5 326.3L224.1 334.7L223.6 343.1L223.9 351.4L225.1 359.8L227.1 368.2L230.1 376.5L233.5 383.7L237.7 390.9L242.5 397.5L248.5 404.3L254.5 409.9L261.7 415.4L268.8 419.9L277.2 424.2L285.6 427.4L293.9 429.9Z"/>
<path fill="#ffd8d8" d="M193 285.7L197.1 286.3L200.7 286.5L207.9 286.2L215.1 285L223.4 282.5L230.6 279.6L239 275.6L247.3 271L269.3 258.2L276 254.6L283.7 251L290.3 248.4L297.5 246.2L304.7 244.7L310.7 244L317.8 243.8L325 244.4L332.2 245.5L339.3 247.2L346.5 249.4L354.5 252.2L384.7 264L393.1 266.7L401.5 268.7L409.8 269.9L418.2 270.2L425.3 269.4L432 267.8L436.1 266.2L440.9 263.8L445.6 260.6L449.2 257.4L453 253.4L455.7 249.8L458.5 245.1L460.7 240.3L462.4 235.5L463.5 230.7L464.3 225.9L464.7 220L464.6 214L464 209.2L462.9 203.2L461.2 197.2L459.4 192.5L456.6 186.5L453.9 181.7L450.8 176.9L447.1 172.1L442.8 167.4L438.5 163.2L433.7 159.2L428.4 155.4L423 152L417 148.9L412.2 146.7L406.2 144.4L400.3 142.5L394.3 140.9L388.3 139.7L377.6 138.2L366.8 137.6L354.9 137.6L341.7 138.3L304.7 141.6L266.4 144.1L252.1 145.4L242.5 146.7L234.2 148.2L225.8 150.2L218.7 152.4L212.7 154.6L206.7 157.1L200.7 160L196 162.8L190.7 166.2L185.8 169.8L181.5 173.3L176.5 178.1L172.2 182.9L168.5 187.7L165.3 192.5L162.5 197.2L159.6 203.2L157.8 208L156.2 212.8L154.8 218.8L153.9 224.7L153.5 230.7L153.6 236.7L154.1 241.5L155.2 247.4L156.5 252.2L158.4 257L160.7 261.8L163.7 266.6L166.5 270.2L169.8 273.7L174.4 277.6L178 280L182.8 282.5L187.6 284.4Z"/>
<path fill="#d8d8ff" d="M304.8 430.3L314.2 431.1L323.8 430.9L333.4 429.8L342.9 427.7L352.5 424.6L360.8 420.9L369.2 416.2L376.4 411.3L383.5 405.2L389.5 399.1L395.5 391.6L400.5 383.7L404.7 375.3L407.8 367L410.2 357.4L411.4 349L411.6 339.5L411 331.1L409.5 322.7L407.1 314.4L403.8 306L399.4 297.6L393.9 289.3L388.2 282.1L381.4 274.9L373.2 267.8L365 261.8L356.1 256.3L347.9 252.2L338.8 248.6L329.8 246.2L321.4 244.9L313 244.7L305.9 245.4L297.5 247.2L289.8 249.8L282.2 253.4L274.1 258.2L265.8 264.2L258.9 270.2L251.8 277.3L245.7 284.5L239.8 292.9L234.9 301.2L231 309.6L227.7 319.2L225.7 327.5L224.6 335.9L224.3 344.3L224.8 352.6L226.2 361L228.4 369.4L231.7 377.7L235.3 384.9L239.9 392.1L244.9 398.5L250.9 404.9L256.9 410.1L264.1 415.4L271.2 419.6L279.6 423.6L286.8 426.3L295.1 428.6Z"/>
<path fill="#ffd7d7" d="M199 285.7L205.5 285.8L211.5 285.2L218.7 283.6L225.8 281.3L233 278.3L240.2 274.8L247.3 270.9L269.2 258.2L277.2 254L283.6 251L290.3 248.4L297.5 246.2L304.7 244.7L310.7 244L317.8 243.8L325 244.4L332.2 245.5L339.3 247.2L352.5 251.5L384.7 263.8L393.1 266.4L401.5 268.4L409.8 269.5L417 269.7L424.2 268.9L431.3 267.1L435.7 265.4L440.2 263L444.5 260.1L448 257L451.3 253.4L454.1 249.8L457 245.1L459.2 240.3L460.9 235.5L462 230.7L462.8 225.9L463.2 220L463.1 214L462.5 209.2L461.4 203.2L459.6 197.2L457.3 191.3L455 186.5L452.3 181.7L449.1 176.9L445.7 172.5L442.1 168.5L437.3 163.8L433 160.2L428.1 156.6L423 153.3L418.1 150.6L412.2 147.8L406.2 145.5L400.3 143.5L394.3 141.9L387.1 140.4L378.8 139.2L370.4 138.5L362 138.2L352.5 138.3L338.1 139.2L302.3 142.3L265.2 144.7L250.9 146.1L240.2 147.8L229.4 150.1L218.7 153.3L212.7 155.5L206.7 158.1L200.7 161.2L194.8 164.7L189.2 168.6L184.7 172.1L180.4 176L176 180.5L171.9 185.3L168.4 190.1L165.4 194.9L162.3 200.8L159.7 206.8L158.1 211.6L156.8 216.4L155.7 222.3L155 228.3L155 234.3L155.4 240.3L156.2 245.1L157.3 249.8L159.4 255.8L161.7 260.6L164.5 265.4L168.2 270.2L171.7 273.7L175.6 277L179.7 279.7L184 281.9L188.8 283.7L193.6 285Z"/>
<path fill="#d7d7ff" d="M307.4 429.1L316.6 429.6L326.2 429.2L335.7 427.8L344.1 425.8L353.7 422.5L362 418.7L370.4 413.8L377.6 408.6L384.7 402.2L390.7 395.7L396.2 388.5L400.5 381.3L404.5 372.9L407.5 364.6L409.5 356.2L410.7 346.7L410.8 337.1L410 328.7L408.4 320.4L405.8 312L402.2 303.6L398.4 296.5L392.8 288.1L386.9 280.9L379.9 273.7L373 267.8L364.9 261.8L355.1 255.8L345.1 251L336.9 248.1L328.6 246L320.2 244.8L311.8 244.8L304.7 245.6L296.7 247.4L289.1 250.1L282.2 253.4L274.1 258.2L265.9 264.2L257.7 271.4L250.8 278.5L244.1 286.9L238.5 295.3L234.6 302.4L230.9 310.8L227.8 320.4L226 328.7L225 337.1L224.9 345.5L225.7 353.8L227.3 362.2L229.8 370.6L233.3 378.9L237.3 386.1L242.2 393.3L247.1 399.2L253.3 405.4L259.3 410.3L266.4 415.3L274.8 419.9L282 423L290.3 425.9L298.7 427.9Z"/>
<path fill="#ffd6d6" d="M195.5 284.5L201.9 285.2L209.1 285L216.3 283.8L224.6 281.4L231.8 278.6L240.2 274.6L248.5 270.1L269.1 258.2L275.9 254.6L283.6 251L290.3 248.4L297.5 246.2L304.7 244.7L310.7 244L316.6 243.8L323.8 244.2L331 245.3L338.1 246.9L344.3 248.6L351.4 251L376.4 260.7L384.7 263.7L393.1 266.2L400.3 267.9L408.6 269L415.8 269.2L423 268.5L430.1 266.7L434.9 264.8L438.5 262.9L442.1 260.5L446.3 257L449.8 253.4L452.5 249.8L455.5 245.1L457.7 240.3L459.4 235.5L460.6 230.7L461.4 225.9L461.8 220L461.7 215.2L461.1 209.2L460.2 204.4L458.5 198.4L456.8 193.7L454.1 187.7L451.4 182.9L448.3 178.1L444.7 173.3L440.9 169.1L436.7 165L432.5 161.4L427.8 157.8L423 154.6L418 151.8L412.2 149L406.2 146.5L400.3 144.4L394.3 142.8L387.1 141.2L376.4 139.7L365.6 138.9L353.7 138.9L339.3 139.7L305.9 142.5L268.8 145L254.5 146.3L244.9 147.7L236.6 149.2L228.2 151.2L221 153.4L213.9 156L207.9 158.6L202.4 161.4L197.1 164.4L192.4 167.6L187.6 171.2L182.8 175.3L178.7 179.3L175.5 182.9L171.7 187.7L168.4 192.5L165.6 197.2L163.2 202L160.7 208L159.2 212.8L157.7 218.8L156.8 224.7L156.4 230.7L156.4 235.5L157 241.5L158.2 247.4L159.6 252.2L161.5 257L163.9 261.8L167 266.6L169.9 270.2L173.5 273.7L178 277.3L181.9 279.7L186.4 281.9L191.2 283.5Z"/>
<path fill="#d6d6ff" d="M310.4 427.9L319 428.1L328.6 427.5L338.1 425.9L346.5 423.6L354.9 420.5L363.2 416.5L371.6 411.4L378.8 405.9L384.7 400.4L391.1 393.3L396.7 385.6L401.2 377.7L404.8 369.4L407.5 361L409.2 352.6L410.1 343.1L410 334.7L409.1 326.3L407.2 318L404.4 309.6L400.7 301.2L395.8 292.9L390.7 285.7L384.5 278.5L377.1 271.4L369.8 265.4L361.2 259.4L352.7 254.6L344.1 250.7L334.7 247.4L326.2 245.6L317.8 244.7L310.7 244.9L302.3 246L295.1 247.9L286.8 251.2L278 255.8L270.7 260.6L263.1 266.6L255.4 273.7L248.9 280.9L243.4 288.1L238 296.5L233.7 304.8L230.3 313.2L227.9 321.6L226.3 329.9L225.5 338.3L225.6 346.7L226.6 355L228.4 363.4L230.7 370.6L234.2 378.5L238.5 386.1L243.6 393.3L248.5 399L254.5 404.8L261.7 410.5L268.8 415.2L276 419L284.4 422.5L292.7 425.1L301.1 426.8Z"/>
<path fill="#ffd5d5" d="M201.7 284.5L207.9 284.5L213.9 283.8L219.8 282.5L227 280.3L234.2 277.3L241.4 273.8L271.3 257L283.5 251L290.3 248.4L297.5 246.2L304.7 244.7L310.7 244L316.6 243.8L323.8 244.2L331 245.2L338.1 246.9L344.4 248.6L351.5 251L383.5 263.1L391.9 265.7L399.1 267.3L407.4 268.5L414.6 268.7L421.8 268L428.9 266.3L434.1 264.2L438.4 261.8L441.9 259.4L445.7 256.1L449.2 252.2L451.8 248.6L454 245.1L456.3 240.3L458 235.5L459.2 230.7L460 225.9L460.4 220L460.2 214L459.5 208L458.1 202L456.7 197.2L454.3 191.3L451.9 186.5L449.1 181.7L445.8 176.9L442.1 172.2L438.7 168.6L434.9 164.9L430.1 160.9L425.3 157.5L420.6 154.5L414.6 151.2L409.8 149L403.8 146.6L399.1 145L391.9 143.1L385.9 141.8L375.2 140.3L363.2 139.5L351.3 139.6L336.9 140.4L301.1 143.4L268.8 145.6L255.7 146.8L246.1 148.1L236.6 149.9L228.2 152L221 154.2L215.1 156.4L209.1 159L203.1 162.1L198.1 165L192.8 168.6L188.1 172.1L184 175.7L179.2 180.5L175 185.3L171.5 190.1L167.7 196L165.2 200.8L163.1 205.6L160.9 211.6L159.6 216.4L158.5 222.3L157.9 228.3L157.8 234.3L158.3 240.3L159.1 245.1L160.6 251L162.4 255.8L164.8 260.6L167.8 265.4L170.9 269.3L174.4 273L178.3 276.1L182.8 279L187.6 281.3L192.4 282.9L197.1 284Z"/>
<path fill="#d5d5ff" d="M315.2 426.7L323.8 426.5L333.4 425.4L341.7 423.5L351.3 420.5L359.6 416.8L366.8 412.9L374 408.1L381.1 402.1L387.6 395.7L393.3 388.5L398 381.3L402.3 372.9L405.5 364.6L407.7 356.2L409 347.8L409.5 339.5L409.1 331.1L407.8 322.7L405.6 314.4L402.5 306L398.4 297.6L393.9 290.5L388.5 283.3L382 276.1L374.2 269L366.4 263L359.1 258.2L350.3 253.4L341.9 249.8L336.9 248.1L332.2 246.8L323.8 245.2L315.4 244.7L307.1 245.2L299.9 246.6L292.7 248.8L284.6 252.2L276.1 257L269.1 261.8L260.5 269L253.2 276.1L247.1 283.3L241.9 290.5L236.9 298.8L233.5 306L229.9 315.6L227.8 323.9L226.5 332.3L226.1 340.7L226.5 349L227.8 357.4L230 365.8L232.7 372.9L236.1 380.1L240.5 387.3L246.1 394.7L252.1 401L258.1 406.3L265.2 411.5L272.4 415.7L280.8 419.6L289.1 422.6L297.5 424.8L305.9 426.1Z"/>
<path fill="#ffd4d4" d="M197.6 283.3L204.3 284L211.5 283.7L218.7 282.4L227 280L234.2 277.1L242.5 273.1L271.2 257L283.5 251L290.3 248.3L297.5 246.2L304.7 244.7L310.7 244L316.6 243.8L323.8 244.2L331 245.2L338.1 246.8L344.5 248.6L351.6 251L375.2 260L383.5 262.9L391.9 265.4L399.1 267L407.4 268.1L414.6 268.2L421.8 267.4L427.7 265.9L432.1 264.2L436.7 261.8L440.9 258.9L444.4 255.8L447.7 252.2L450.4 248.6L452.6 245.1L454.9 240.3L456.6 235.5L457.8 230.7L458.6 225.9L459 220L458.9 215.2L458.3 209.2L457.1 203.2L455.7 198.4L453.9 193.7L451.7 188.9L449.1 184.1L446 179.3L442.4 174.5L438.5 170.1L434.5 166.2L430.1 162.4L425.6 159L420.6 155.7L415.8 152.9L409.8 150L403.8 147.6L397.9 145.6L391.9 143.9L385.9 142.6L375.2 141L363.2 140.2L351.3 140.2L336.9 140.9L304.7 143.6L268.8 146.1L255.7 147.4L247.3 148.6L239 150.1L230.6 152.1L223.4 154.2L217.5 156.4L211.5 158.9L205.5 161.8L200.7 164.5L196 167.6L191.2 171L186.4 175L181.9 179.3L177.5 184.1L173.8 188.9L170.5 193.7L167.8 198.4L165.5 203.2L163.5 208L161.9 212.8L160.5 218.8L159.5 224.7L159.2 229.5L159.2 235.5L159.6 240.3L160.7 246.2L162.1 251L163.9 255.8L166.2 260.6L169.3 265.4L172.1 269L175.7 272.5L179.2 275.5L182.8 277.9L187.6 280.3L192.4 282.1Z"/>
<path fill="#d4d4ff" d="M302.9 424.3L311.8 425.3L321.4 425.3L329.8 424.5L339.3 422.7L348.9 419.9L357.2 416.5L365.6 412.1L372.8 407.4L379.9 401.6L386 395.7L391.9 388.6L396.8 381.3L401.2 372.9L404.5 364.6L406.9 356.2L408.3 347.8L408.8 338.3L408.4 329.9L407 321.6L404.8 313.2L401.6 304.8L397.4 296.5L392.8 289.3L387.3 282.1L380.6 274.9L372.6 267.8L364.6 261.8L357 257L347.7 252.2L339.3 248.9L331 246.5L322.6 245.1L314.2 244.7L307.1 245.2L298.7 246.9L291.5 249.2L284.7 252.2L276.1 257L269.2 261.8L261.9 267.8L254.5 274.9L248.2 282.1L242.9 289.3L237.8 297.6L233.8 306L231 313.2L228.7 321.6L227.1 331.1L226.6 339.5L227 347.8L228 355L230.1 363.4L232.6 370.6L235.9 377.7L240.2 385L245.4 392.1L250.9 398.3L256.9 403.8L264.1 409.2L271.2 413.6L279.6 417.7L286.8 420.5L295.1 422.9Z"/>
<path fill="#ffd3d3" d="M203.3 283.3L209.1 283.4L215.1 282.7L221 281.5L228.2 279.3L235.4 276.4L242.5 272.9L271.1 257L283.4 251L290.3 248.3L297.5 246.1L304.7 244.6L310.7 244L316.6 243.8L323.8 244.2L331 245.2L338.1 246.8L344.5 248.6L351.7 251L382.3 262.4L390.7 264.9L397.9 266.5L406.2 267.7L413.4 267.8L420.6 267L426.9 265.4L431.3 263.6L434.9 261.8L438.6 259.4L442.9 255.8L446.3 252.2L449 248.6L451.2 245.1L453.6 240.3L455.3 235.5L456.5 230.7L457.3 225.9L457.7 220L457.5 214L456.9 209.2L455.7 203.2L454.3 198.4L452.5 193.7L450.3 188.9L447.7 184.1L444.5 179.3L440.9 174.5L437.3 170.5L432.9 166.2L428.7 162.6L424.2 159.2L419.4 156.1L414.6 153.4L408.6 150.5L402.6 148.1L396.7 146.1L390.7 144.5L384.7 143.2L374 141.6L362 140.8L350.1 140.8L334.5 141.6L302.3 144.3L271.2 146.4L256.9 147.8L247.3 149.2L239 150.8L231.8 152.5L223.4 155L217.5 157.2L211.5 159.8L205.5 162.8L199.8 166.2L194.5 169.8L189.9 173.3L185.2 177.5L181.1 181.7L177 186.5L173.5 191.3L170.5 196L167.9 200.8L165.8 205.6L163.6 211.6L162 217.6L161.2 222.3L160.5 228.3L160.5 234.3L161 240.3L161.8 245.1L163.4 251L165.3 255.8L167.7 260.6L169.9 264.2L172.7 267.8L176 271.4L180.3 274.9L184 277.4L188.8 279.8L193.6 281.6L198.3 282.7Z"/>
<path fill="#d3d3ff" d="M303.7 423.1L313 424L322.6 423.9L332.2 422.8L340.5 421.1L348.9 418.5L357.2 415.1L365.6 410.6L372.8 405.9L379.9 400L385.9 394L391.9 386.7L396.7 379.5L400.7 371.8L404 363.4L406.3 355L407.6 346.7L408.1 338.3L407.8 329.9L406.5 321.6L404.3 313.2L401.2 304.8L397 296.5L392.5 289.3L387 282.1L380.4 274.9L372.5 267.8L364.5 261.8L356.9 257L347.6 252.2L339.3 248.9L331 246.5L322.6 245.1L314.2 244.7L307.1 245.3L298.7 246.9L291.5 249.2L284.7 252.2L276.2 257L269.3 261.8L262 267.8L254.6 274.9L248.4 282.1L243.1 289.3L238.1 297.6L234 306L231 314.4L228.8 322.7L227.6 331.1L227.2 339.5L227.6 347.8L229 356.2L230.9 363.4L233.5 370.6L236.9 377.7L241.3 384.9L246.1 391.4L252.1 397.9L258.1 403.3L265.2 408.6L272.4 412.9L279.6 416.4L287.9 419.5L295.1 421.5Z"/>
<path fill="#ffd2d2" d="M199 282.1L205.5 282.8L212.7 282.6L219.8 281.4L228.2 279L235.4 276.1L242.5 272.7L271.1 257L283.4 251L290.3 248.3L297.5 246.1L304.7 244.6L310.7 244L316.6 243.8L323.8 244.2L331 245.2L338.1 246.8L344.6 248.6L351.8 251L374 259.3L382.3 262.3L389.5 264.4L396.7 266L405 267.2L412.2 267.4L419.4 266.6L425.3 265.2L430.1 263.3L433.7 261.5L437.3 259.2L441.4 255.8L444.9 252.2L447.6 248.6L449.9 245.1L452.2 240.3L454 235.5L455.2 230.7L456 225.9L456.4 221.1L456.4 216.4L455.8 210.4L454.7 204.4L453.4 199.6L451.7 194.9L449.5 190.1L447 185.3L443.9 180.5L440.4 175.7L437.3 172.1L432.6 167.4L428.4 163.8L424.2 160.5L419.4 157.3L414.1 154.2L408.6 151.5L402.6 149L396.7 147L390.7 145.3L384.7 143.9L374 142.3L362 141.4L350.1 141.3L335.7 142L273.6 146.7L259.3 148.1L250.9 149.2L241.4 150.9L234.2 152.6L225.8 155L219.8 157.1L213.9 159.6L207.9 162.5L203.1 165.2L198.3 168.2L193.6 171.6L188.8 175.6L184.8 179.3L181.4 182.9L177.5 187.7L174.1 192.5L171.1 197.2L168.7 202L166.1 208L164.5 212.8L163.1 218.8L162.1 224.7L161.8 229.5L161.8 235.5L162.3 240.3L163.4 246.2L164.8 251L166.6 255.8L169.1 260.6L172.2 265.4L175.2 269L179 272.5L182 274.9L185.8 277.3L190 279.4L194.8 281.1Z"/>
<path fill="#d2d2ff" d="M304.4 422L313 422.7L322.6 422.6L332.2 421.5L340.5 419.8L348.9 417.2L357.2 413.7L365.6 409.2L372.8 404.4L379.9 398.4L385.9 392.4L391.9 384.9L396.5 377.7L400.3 370.4L403.5 362.2L405.7 353.8L407.2 344.3L407.5 335.9L406.9 327.5L405.5 319.2L403.1 310.8L399.8 302.4L396 295.3L391.4 288.1L385.8 280.9L379 273.7L370.9 266.6L362.6 260.6L354.7 255.8L346.5 251.8L338.4 248.6L329.8 246.3L321.4 245L313 244.8L305.9 245.4L298.7 246.9L290.3 249.7L282.4 253.4L274.4 258.2L267.8 263L260.7 269L253.6 276.1L247.6 283.3L242.5 290.5L238.3 297.6L234.3 306L231.3 314.4L229.3 322.7L228.1 331.1L227.7 339.5L228.1 346.7L229.2 353.8L231.3 362.2L234.2 370.1L237.8 377.4L242.4 384.9L247 390.9L252.1 396.4L258.1 401.9L265.2 407.2L272.4 411.6L279.6 415.1L287.9 418.2L296.3 420.5Z"/>
<path fill="#ffd1d1" d="M203.9 282.1L210.3 282.3L216.3 281.7L222.2 280.5L229.4 278.3L236.6 275.4L243.7 272L271 257L283.3 251L290.3 248.3L297.5 246.1L304.7 244.6L310.7 243.9L316.6 243.7L323.8 244.1L331 245.2L338.1 246.8L344.7 248.6L351.9 251L381.1 261.7L389.5 264.2L396.7 265.8L405 266.8L412.2 266.9L419.4 266L425.3 264.4L430.1 262.5L433.7 260.5L437.3 258.1L441.3 254.6L444.5 251L447.1 247.4L449.3 243.9L451.5 239.1L453.1 234.3L454.2 229.5L454.9 224.7L455.2 220L455 214L454.4 209.2L453.4 204.4L451.7 198.4L449.9 193.7L447.6 188.9L444.9 184.1L441.7 179.3L437.9 174.5L434.7 170.9L431 167.4L426.5 163.6L422 160.2L417 156.9L412.1 154.2L406.2 151.4L400.3 149L395.5 147.4L388.3 145.5L382.3 144.2L371.6 142.7L359.6 141.9L346.5 142L331 142.9L272.4 147.3L258.1 148.8L249.7 150L241.4 151.5L233 153.6L225.8 155.7L218.7 158.4L212.7 161L207.2 163.8L201.9 166.9L197.1 170.1L192.4 173.8L187.6 178L183.9 181.7L179.8 186.5L176.2 191.3L173.1 196L170.5 200.8L168.3 205.6L166.6 210.4L165.1 215.2L163.9 221.1L163.1 227.1L163 233.1L163.4 239.1L164.1 243.9L165.3 248.6L166.9 253.4L169.1 258.2L171.9 263L174.6 266.6L177.9 270.2L181.6 273.4L185.6 276.1L190 278.5L194.8 280.3L199.5 281.5Z"/>
<path fill="#d1d1ff" d="M304.8 420.8L313 421.5L322.6 421.4L332.2 420.3L340.5 418.5L348.9 415.9L357.2 412.4L365.6 407.8L372.8 402.9L379.9 396.9L385.9 390.8L391.5 383.7L396.1 376.5L399.7 369.4L403 361L405.2 352.6L406.5 344.3L406.9 335.9L406.4 327.5L405.3 320.4L403.1 312L399.9 303.6L396.4 296.5L391.1 288.1L385.6 280.9L378.9 273.7L370.7 266.6L362.5 260.6L354.6 255.8L346.5 251.8L338.3 248.6L329.8 246.3L321.4 245L313 244.8L305.9 245.4L298.7 246.9L290.3 249.7L282.5 253.4L274.4 258.2L267.8 263L260.8 269L253.7 276.1L247.7 283.3L242.7 290.5L238.5 297.6L234.6 306L232 313.2L229.9 321.6L228.6 329.9L228.2 338.3L228.7 346.7L230.1 355L232.1 362.2L234.8 369.4L238.3 376.5L242.5 383.5L247.3 389.7L253.3 396.2L259.3 401.5L265.2 405.9L272.4 410.3L279.6 413.8L287.9 417L296.3 419.3Z"/>
<path fill="#ffd0d0" d="M200.1 280.9L206.7 281.7L213.9 281.5L221 280.4L228.2 278.4L235.4 275.7L243.7 271.8L270.9 257L278 253.4L284.4 250.6L291.5 247.9L297.5 246.1L304.7 244.6L310.7 243.9L316.6 243.7L323.8 244.1L331 245.2L338.1 246.8L344.8 248.6L352 251L381.1 261.6L389.5 264L396.7 265.5L403.8 266.4L411 266.5L418.2 265.7L424 264.2L428.9 262.2L432.5 260.3L436.1 257.9L439.9 254.6L443.2 251L445.9 247.4L448 243.9L450.2 239.1L451.9 234.3L453 229.5L453.7 224.7L454 220L453.9 215.2L453.4 210.4L452.2 204.4L450.8 199.6L449.1 194.9L446.9 190.1L444.3 185.3L441.2 180.5L437.5 175.7L434.4 172.1L430.8 168.6L426.5 164.8L422 161.4L417 158L412.2 155.3L406.2 152.3L401.5 150.4L395.5 148.2L389.5 146.5L383.5 145.2L372.8 143.5L360.8 142.5L347.7 142.5L333.4 143.2L276 147.5L260.5 149L252.1 150.2L243.7 151.7L235.4 153.6L228.2 155.7L222.2 157.8L216.3 160.2L210.3 163.1L205.5 165.7L200.7 168.7L195.9 172.1L191.5 175.7L187.6 179.3L184 183.1L180.1 187.7L176.7 192.5L173.7 197.2L171.2 202L169.1 206.8L167 212.8L165.8 217.6L164.7 223.5L164.3 228.3L164.2 234.3L164.6 239.1L165.3 243.9L166.5 248.6L168.2 253.4L170.4 258.2L173.3 263L176 266.6L179.4 270.2L182.8 273.1L187.4 276.1L191.2 278.1L195.5 279.7Z"/>
<path fill="#d0d0ff" d="M304.9 419.6L314.2 420.3L322.6 420.1L332.2 419L340.5 417.3L348.9 414.6L357.2 411.1L365.6 406.5L372.8 401.5L379.9 395.4L385.9 389.2L391.2 382.5L395.7 375.3L399.3 368.2L402.5 359.8L404.7 351.4L405.9 343.1L406.2 334.7L405.7 326.3L404.3 318L401.9 309.6L398.5 301.2L394.7 294.1L390 286.9L384.3 279.7L377.5 272.5L370.6 266.6L362.4 260.6L354.5 255.8L346.5 251.8L338.3 248.6L329.8 246.3L321.4 245L313 244.8L305.9 245.5L298.7 247L290.3 249.8L282.5 253.4L274.5 258.2L267.9 263L260.9 269L253.8 276.1L247.9 283.3L242.9 290.5L238.7 297.6L234.9 306L232.4 313.2L230.3 321.6L229.1 329.9L228.8 338.3L229.2 345.5L230.3 352.6L232.4 361L235.1 368.2L238.6 375.3L242.5 381.9L247.5 388.5L253.3 394.8L259.3 400.1L266.4 405.4L273.6 409.6L280.8 413.1L289.1 416.1L296.3 418Z"/>
<path fill="#ffcfcf" d="M204.1 280.9L210.3 281.3L216.3 280.9L223.4 279.5L230.6 277.3L236.6 275L243.7 271.7L273.1 255.8L284.4 250.6L291.5 247.9L297.5 246.1L304.7 244.6L310.7 243.9L316.6 243.7L323.8 244.1L331 245.2L338.1 246.7L344.9 248.6L352.1 251L379.9 261.1L388.3 263.5L395.5 265.1L402.6 266L409.8 266.1L417 265.4L423 263.9L427.7 262L431.3 260.1L434.9 257.7L438.5 254.6L441.9 251L444.6 247.4L446.8 243.9L449 239.1L450.7 234.3L451.9 229.5L452.6 224.7L452.8 220L452.7 215.2L452.2 210.4L451 204.4L449.6 199.6L447.9 194.9L445.7 190.1L443 185.3L439.9 180.5L436.1 175.7L432.9 172.1L429.3 168.6L425.2 165L420.6 161.5L415.8 158.4L410.6 155.4L405 152.7L399.1 150.3L394.3 148.7L388.3 147L382.3 145.6L370.4 143.8L358.4 143L345.3 143.1L329.8 143.9L277.2 147.9L260.5 149.5L250.9 150.9L243.7 152.3L236.6 153.9L228.2 156.4L222.2 158.5L216.3 161L210.6 163.8L205.5 166.7L200.7 169.8L195.8 173.3L191.2 177.3L186.6 181.7L183.4 185.3L179.6 190.1L176.4 194.9L173.6 199.6L171.3 204.4L169.4 209.2L167.8 214L166.4 220L165.6 225.9L165.3 230.7L165.5 236.7L166.1 241.5L167.4 247.4L169 252.2L171.1 257L173.1 260.6L176.4 265.4L179.2 268.6L182.8 271.8L186.4 274.5L190 276.6L194.8 278.7L199.5 280.1Z"/>
<path fill="#cfcfff" d="M304.8 418.4L313 419.1L322.6 419L332.2 417.9L340.5 416L348.9 413.4L357.2 409.8L364.4 405.9L372.4 400.4L378.8 395.1L385.2 388.5L390.7 381.5L395.3 374.1L399.1 366.6L402 358.6L404.2 350.2L405.4 341.9L405.6 333.5L405 325.1L403.5 316.8L401.1 308.4L397.6 300L393.7 292.9L388.9 285.7L384.1 279.7L377.3 272.5L370.5 266.6L362.3 260.6L354.5 255.8L346.5 251.9L338.2 248.6L329.8 246.3L321.4 245L313 244.8L305.9 245.5L298.7 247L291.5 249.3L284.9 252.2L276.4 257L269.5 261.8L262.3 267.8L255 274.9L248.9 282.1L243.8 289.3L239.6 296.5L235.6 304.8L232.7 313.2L230.9 320.4L229.6 328.7L229.3 337.1L229.6 344.3L230.9 352.6L232.8 359.8L235.4 367L239 374.4L243.2 381.3L248.5 388.2L254.5 394.6L260.5 399.8L266.4 404.1L273.6 408.4L280.8 411.8L289.1 414.9L296.3 416.9Z"/>
<path fill="#ffcece" d="M200.9 279.7L207.9 280.7L215.1 280.6L222.2 279.5L229.4 277.5L236.6 274.8L243.7 271.6L273.1 255.8L284.4 250.5L291.5 247.8L297.5 246.1L304.7 244.6L310.7 243.9L316.6 243.7L323.8 244.1L329.8 244.9L336.9 246.4L350.1 250.3L379.9 260.9L387.1 263L394.3 264.6L401.5 265.6L408.6 265.8L415.8 265.1L421.8 263.6L426.4 261.8L430.1 259.9L433.7 257.5L437.2 254.6L439.7 252.1L442.5 248.6L444.9 245.1L447.4 240.3L449.2 235.5L450.5 230.7L451.3 225.9L451.6 221.1L451.6 216.4L451.2 211.6L450.1 205.6L448.8 200.8L447.1 196L445 191.3L442.5 186.5L439.4 181.7L436.1 177.3L432.7 173.3L428.9 169.6L424.2 165.4L419.4 161.8L415.1 159L409.8 156L405 153.6L399.1 151.1L394.3 149.5L388.3 147.7L382.3 146.3L371.6 144.6L359.6 143.6L346.5 143.5L332.2 144.2L279.6 148.2L262.9 149.7L253.3 151.1L246.1 152.3L239 153.9L230.6 156.3L224.6 158.3L218.7 160.7L209.1 165.5L204 168.6L198.8 172.1L194.3 175.7L190.3 179.3L186.4 183.3L182.6 187.7L179.1 192.5L176.1 197.2L173.6 202L171.4 206.8L169.7 211.6L168.4 216.4L167.4 221.1L166.6 227.1L166.5 233.1L166.8 237.9L167.5 242.7L168.6 247.4L170.2 252.2L172.3 257L175.1 261.8L177.7 265.4L181 269L184 271.6L187.6 274.2L192.4 276.8L196.6 278.5Z"/>
<path fill="#ceceff" d="M304.4 417.2L313 417.9L321.4 417.9L331 416.9L339.3 415.2L347.7 412.6L356.1 409.2L363.2 405.4L370.7 400.4L377.6 394.8L383.5 388.9L388.8 382.5L393.6 375.3L397.4 368.2L400.8 359.8L403.2 351.4L404.6 343.1L405.1 334.7L404.7 326.3L403.3 318L401.5 310.8L398.3 302.4L394.8 295.3L390.4 288.1L385 280.9L378.4 273.7L371.8 267.8L364 261.8L356.5 257L347.3 252.2L339.3 249L331 246.6L322.6 245.2L314.2 244.8L307.1 245.3L299.9 246.7L292.7 248.9L284.9 252.2L276.4 257L269.6 261.8L262.3 267.8L256.2 273.7L250 280.9L244.8 288.1L239.8 296.5L235.9 304.8L233.3 312L231.2 320.4L230.2 327.5L229.7 335.9L230.1 343.1L231.3 351.4L233.1 358.6L235.7 365.8L239.1 372.9L243.4 380.1L248.5 386.8L254.5 393.3L260.5 398.5L266.4 402.9L273.6 407.2L280.8 410.7L287.9 413.4L296.3 415.7Z"/>
<path fill="#ffcccc" d="M209.4 279.7L215.1 279.7L221 279L227 277.7L233 275.8L239 273.4L244.9 270.7L272.9 255.8L284.4 250.5L291.5 247.8L297.5 246.1L304.7 244.6L310.7 243.9L316.6 243.7L323.8 244.1L329.8 244.9L336.9 246.4L350.1 250.2L378.8 260.3L387.1 262.6L394.3 264.1L401.5 265L408.6 265L414.6 264.3L420.6 262.7L425.3 260.8L428.9 258.9L432.5 256.4L436 253.4L439.2 249.8L441.9 246.2L444 242.7L445.6 239.1L447.3 234.3L448.5 229.5L449.2 224.7L449.5 220L449.3 215.2L448.6 209.2L447.6 204.4L446.2 199.6L444.3 194.9L442.1 190.1L439.3 185.3L436.9 181.7L433.2 176.9L430 173.3L426.4 169.8L421.8 165.8L417 162.3L412.2 159.2L407.4 156.6L401.5 153.7L395.5 151.4L390.7 149.8L384.7 148.2L378.8 146.9L366.8 145.2L354.9 144.5L340.5 144.7L323.8 145.6L279.6 149L261.7 150.9L253.3 152.1L244.9 153.7L236.6 155.8L229.4 158L223.4 160.2L217.5 162.8L211.5 165.8L206.9 168.6L201.9 171.9L197.1 175.5L192.8 179.3L189.2 182.9L186 186.5L182.3 191.3L179.1 196L176.4 200.8L174.2 205.6L172.3 210.4L170.6 216.4L169.6 221.1L168.9 225.9L168.7 231.9L169 237.9L169.7 242.7L170.8 247.4L172.5 252.2L174.7 257L177.6 261.8L180.3 265.4L183.8 269L187.6 272.1L191.2 274.4L194.8 276.2L199.5 278L204.3 279.1Z"/>
<path fill="#ccccff" d="M303.1 414.8L311.8 415.7L320.2 415.7L328.6 415L338.1 413.2L346.5 410.7L354.9 407.4L362 403.6L369.2 399L376.4 393.2L382.3 387.4L387.4 381.3L392.3 374.1L396.2 367L399.6 358.6L402 350.2L403.5 341.9L403.9 333.5L403.7 326.3L402.5 318L400.7 310.8L397.7 302.4L394.2 295.3L389.9 288.1L384.5 280.9L378 273.7L371.5 267.8L363.8 261.8L356.3 257L347.1 252.2L339.3 249.1L331 246.6L322.6 245.2L314.2 244.8L307.1 245.3L299.9 246.7L292.7 248.9L285 252.2L278.5 255.8L271.3 260.6L263.8 266.6L257.6 272.5L251.2 279.7L245.9 286.9L241.5 294.1L237.4 302.4L234.7 309.6L232.4 318L231.2 325.1L230.7 332.3L230.9 340.7L232 349L233.8 356.2L236.2 363.4L239.6 370.6L243.7 377.6L248.2 383.7L253.3 389.5L259.3 395.1L265.2 399.7L272.4 404.2L279.6 407.9L286.8 410.7L295.1 413.2Z"/>
<path fill="#ffcaca" d="M207.7 278.5L213.9 278.9L219.8 278.5L225.8 277.4L233 275.3L239 273.1L246.1 269.8L272.8 255.8L280.2 252.2L285.9 249.8L292.6 247.4L298.7 245.7L304.7 244.5L310.7 243.9L316.6 243.7L323.8 244.1L329.8 244.9L336.6 246.2L349.1 249.8L378.8 260L385.9 262L393.1 263.5L400.3 264.3L407.4 264.3L413.4 263.5L419.4 261.9L423 260.5L427.3 258.2L430.7 255.8L433.7 253.3L437 249.8L439.6 246.2L441.8 242.7L444 237.9L445.2 234.3L446.4 229.5L447.1 224.7L447.4 220L447.2 215.2L446.7 210.4L445.7 205.6L444.4 200.8L442.6 196L440.4 191.3L437.8 186.5L435.4 182.9L431.8 178.1L428.6 174.5L425.1 170.9L420.6 167L415.8 163.5L411 160.4L406.2 157.7L401.5 155.4L396.7 153.3L390.7 151.2L384.7 149.5L378.8 148.2L366.8 146.3L353.7 145.5L340.5 145.6L322.6 146.6L280.8 149.8L264.1 151.5L255.7 152.7L246.1 154.5L239 156.3L231.8 158.4L225.8 160.6L219.8 163.2L215.1 165.5L209.7 168.6L204.3 172.1L199.5 175.7L195.3 179.3L191.6 182.9L188.3 186.5L184.6 191.3L181.3 196L178.6 200.8L176.3 205.6L174.4 210.4L173 215.2L171.9 220L171.1 224.7L170.8 230.7L171 236.7L171.6 241.5L172.6 246.2L174.2 251L176.3 255.8L178.3 259.4L180.8 263L183.9 266.6L187.6 270L191.2 272.5L195.5 274.9L199.5 276.6L203.1 277.7Z"/>
<path fill="#cacaff" d="M312.4 413.6L321.4 413.6L329.8 412.7L338.1 411.1L346.5 408.6L354.9 405.1L362 401.3L369.2 396.6L375.2 391.8L381.1 386L386.1 380.1L391.1 372.9L395.1 365.8L398.1 358.6L400.7 350.2L402.2 341.9L402.9 333.5L402.6 325.1L401.6 318L399.6 309.6L397 302.4L393.6 295.3L388.6 286.9L383.2 279.7L377.7 273.7L371.3 267.8L363.6 261.8L356.2 257L347.7 252.5L339.3 249.1L332.2 247L323.8 245.4L316.6 244.8L309.5 245.1L302.3 246.2L295.1 248.1L287.6 251L280.6 254.6L273.1 259.4L265.4 265.4L258.9 271.4L253.4 277.3L247.8 284.5L243.2 291.7L239.4 298.8L236 307.2L233.9 314.4L232.3 322.7L231.6 331.1L231.7 338.3L232.7 346.7L234.7 355L237.2 362.2L240.6 369.4L244.9 376.5L249.3 382.5L254.5 388.3L260.5 393.7L266.4 398.3L273.6 402.7L280.8 406.2L287.9 409L296.3 411.4L304.7 412.9Z"/>
<path fill="#ffc8c8" d="M207 277.3L212.7 278L219.8 277.8L225.8 276.8L233 274.9L239 272.7L246.1 269.6L272.7 255.8L280.1 252.2L285.8 249.8L292.5 247.4L298.7 245.7L304.7 244.5L310.7 243.8L316.6 243.6L323.8 244L329.8 244.8L336.7 246.2L349.3 249.8L377.6 259.4L384.7 261.4L391.9 262.8L399.1 263.6L405 263.7L411 263L417 261.6L420.6 260.2L424.6 258.2L428.3 255.8L431.2 253.4L433.7 251L436.7 247.4L439 243.9L441.5 239.1L442.9 235.5L444.2 230.7L445 225.9L445.4 221.1L445.3 216.4L444.9 211.6L443.7 205.6L442.3 200.8L440.5 196L438.3 191.3L435.6 186.5L433.2 182.9L429.5 178.1L426.2 174.5L422.5 170.9L418.3 167.4L413.5 163.8L408.6 160.7L403.8 158.1L399.1 155.8L389.5 152.2L383.5 150.5L377.6 149.1L366.8 147.4L353.7 146.5L339.3 146.5L321.4 147.4L284.4 150.3L265.2 152.2L256.9 153.5L248.5 155L241.4 156.8L234.2 158.9L223.4 162.9L217.5 165.8L212.7 168.4L207.9 171.3L203.4 174.5L199 178.1L195.1 181.7L191.2 185.8L187.6 190.1L185 193.7L182 198.4L179.4 203.2L177.3 208L175.7 212.8L174.4 217.6L173.4 222.3L172.8 228.3L172.8 233.1L173.1 237.9L173.8 242.7L175 247.4L176.8 252.2L179.1 257L181.3 260.6L184.1 264.2L187.6 267.8L191.2 270.7L194.8 272.9L198.9 274.9L203.1 276.4Z"/>
<path fill="#c8c8ff" d="M307.1 411.2L315.4 411.7L323.8 411.4L332.2 410.3L340.5 408.4L348.9 405.6L356.1 402.4L363.2 398.4L370.4 393.4L376.4 388.3L382.3 382.1L387.6 375.3L392.1 368.2L395.6 361L398.7 352.6L400.7 344.3L401.6 337.1L401.9 329.9L401.3 321.6L399.8 313.2L397.7 306L394.8 298.8L391.1 291.7L386.5 284.5L380.8 277.3L373.7 270.2L366.6 264.2L359.9 259.4L351.7 254.6L344.1 251L335.7 248L327.4 245.9L320.2 245L311.8 244.9L304.7 245.7L297.5 247.4L290.5 249.8L282.8 253.4L276.7 257L269.9 261.8L262.8 267.8L256.8 273.7L250.8 280.9L245.7 288.1L241.6 295.3L238.3 302.4L235.4 310.8L233.7 318L232.6 326.3L232.4 334.7L233 341.9L234.3 349L236.3 356.2L239.1 363.4L242.8 370.6L247.3 377.4L252.1 383.4L258.1 389.4L264.1 394.4L270 398.5L277.2 402.5L284.4 405.7L291.5 408.1L299.9 410.1Z"/>
<path fill="#ffc6c6" d="M206.5 276.1L212.7 277.1L218.7 277.1L225.8 276.2L233 274.4L240.2 271.9L247.3 268.8L274.9 254.6L285.7 249.8L292.4 247.4L298.7 245.7L304.7 244.5L310.7 243.8L316.6 243.6L322.6 243.9L328.6 244.6L335.7 246L341.5 247.4L349.5 249.8L376.4 258.8L383.5 260.8L390.7 262.2L397.9 263L403.8 263L409.8 262.4L415.8 260.9L419.6 259.4L424.1 257L427.6 254.6L430.4 252.2L432.7 249.8L435.5 246.2L437.8 242.7L440 237.9L441.3 234.3L442.5 229.5L443.3 224.7L443.5 220L443.3 215.2L442.8 210.4L441.8 205.6L440.8 202L439 197.2L436.9 192.5L434.2 187.7L431.9 184.1L428.2 179.3L425.1 175.7L421.5 172.1L417.3 168.6L413.4 165.6L408.6 162.4L403.8 159.7L399.1 157.3L393.1 154.8L388.3 153.1L377.6 150.3L366.8 148.5L353.7 147.4L340.5 147.3L323.8 148.1L285.6 150.9L267.6 152.8L259.3 154L250.9 155.5L243.7 157.2L236.6 159.2L225.8 163.2L219.8 165.9L215 168.6L210.3 171.4L205.8 174.5L201.2 178.1L197.3 181.7L190.6 188.9L187.9 192.5L184.7 197.2L182 202L179.8 206.8L178 211.6L176.5 216.4L175.3 222.3L174.8 227.1L174.6 231.9L174.9 236.7L175.5 241.5L176.6 246.2L178.3 251L179.9 254.6L182.6 259.4L185.2 262.8L187.6 265.5L191.2 268.7L194.8 271.3L198.3 273.3L202.4 274.9Z"/>
<path fill="#c6c6ff" d="M303.4 408.8L311.8 409.7L320.2 409.7L328.6 408.9L336.9 407.3L345.3 404.9L352.5 402L359.6 398.4L366.8 393.8L374 388.2L379.8 382.5L384.8 376.5L389.5 369.7L393.6 362.2L396.5 355L398.7 347.8L400.2 339.5L400.8 332.3L400.7 323.9L399.5 315.6L397.8 308.4L394.8 300L391.3 292.9L386.9 285.7L382.4 279.7L377.1 273.7L370.8 267.8L363.2 261.8L355.9 257L347.7 252.7L339.3 249.2L331 246.7L323.8 245.4L316.6 244.9L309.5 245.1L302.3 246.2L295.1 248.2L287.8 251L280.8 254.6L273.3 259.4L267 264.2L260.5 270.2L254.9 276.1L249.2 283.3L244.6 290.5L240.8 297.6L237.5 306L235.1 314.4L233.8 321.6L233.3 328.7L233.5 337.1L234.4 344.3L236 351.4L238.4 358.6L241.7 365.8L245.2 371.8L249.7 378.2L254.5 383.7L260.5 389.4L266.4 394L273.6 398.6L280.8 402.2L287.9 405L295.1 407.2Z"/>
<path fill="#ffc4c4" d="M212.5 276.1L217.5 276.4L223.4 276L229.4 274.9L235.4 273.3L241.4 271.1L248.5 268L274.8 254.6L285.6 249.8L292.3 247.4L298.7 245.7L304.7 244.5L310.7 243.8L316.6 243.6L322.6 243.9L328.6 244.6L335.7 246L347.7 249.2L376.4 258.6L383.5 260.5L389.5 261.6L396.7 262.4L402.6 262.4L408.6 261.7L414.6 260.2L418.2 258.8L421.7 257L425.4 254.6L428.3 252.2L431.3 249.1L433.7 246L435.9 242.7L438.2 237.9L439.5 234.3L440.7 229.5L441.3 225.9L441.7 221.1L441.6 216.4L441.1 211.6L440.2 206.8L438.9 202L437.1 197.2L434.9 192.5L432.2 187.7L429.8 184.1L426.5 179.8L423 175.8L419.4 172.3L415.8 169.3L411.7 166.2L407.4 163.3L402.6 160.6L397.9 158.2L393.1 156.2L387.1 154L381.1 152.3L375.2 150.9L363.2 149L350.1 148.2L335.7 148.2L317.8 149.2L286.8 151.6L266.4 153.7L258.1 155L250.9 156.4L243.7 158.2L236.6 160.3L225.8 164.4L221 166.7L215.4 169.8L210.3 173L206.4 175.7L202 179.3L198.1 182.9L194.7 186.5L190.7 191.3L188.1 194.9L185.2 199.6L182.7 204.4L180.6 209.2L179 214L177.8 218.8L177 223.5L176.5 229.5L176.5 234.3L177 239.1L177.9 243.9L179.3 248.6L181.2 253.4L183.1 257L185.5 260.6L188.5 264.2L192.3 267.8L195.6 270.2L199.5 272.4L203.1 273.9L207.9 275.4Z"/>
<path fill="#c4c4ff" d="M308.6 407.6L316.6 408L325 407.5L333.4 406.3L341.7 404.2L350.1 401.1L357.2 397.7L364.4 393.4L370.4 389L376.4 383.7L382.3 377.2L387.2 370.6L391.4 363.4L394.7 356.2L397.1 349L398.8 341.9L399.8 333.5L399.9 325.1L399.2 318L397.4 309.6L395.1 302.4L392 295.3L388 288.1L383 280.9L377.9 274.9L371.9 269L364.6 263L357.7 258.2L349.1 253.4L340.9 249.8L333.6 247.4L326.2 245.8L319 245L311.8 245L304.7 245.8L297.5 247.4L290.6 249.8L283 253.4L276.9 257L270.1 261.8L263.1 267.8L257.2 273.7L251.2 280.9L247.1 286.9L243 294.1L239.7 301.2L236.8 309.6L235 318L234.2 325.1L234 332.3L234.8 340.7L236.2 347.8L238.3 355L241.3 362.2L244.5 368.2L248.5 374.3L253.3 380.2L259.3 386.2L265.2 391.2L271.2 395.2L278.4 399.2L285.6 402.3L292.7 404.7L301.1 406.6Z"/>
<path fill="#ffc2c2" d="M210.7 274.9L216.3 275.6L222.2 275.5L228.2 274.7L235.4 272.9L241.4 270.8L248.5 267.7L274.7 254.6L286.8 249.3L292.7 247.3L298.7 245.6L304.7 244.5L310.7 243.8L316.6 243.6L322.6 243.9L328.6 244.6L335.7 245.9L347.7 249.1L375.2 258.1L382.3 259.9L388.3 261.1L395.5 261.8L401.5 261.8L407.4 261.1L413.4 259.6L417 258.2L421.4 255.8L424.8 253.4L427.5 251L429.8 248.6L432.5 245.1L434.7 241.5L436.4 237.9L437.7 234.3L439 229.5L439.6 225.9L439.9 221.1L439.9 216.4L439.4 211.6L438.4 206.8L437.1 202L435.3 197.2L433 192.5L430.3 187.7L427.9 184.1L425.1 180.5L421.8 176.8L418.3 173.3L414.1 169.8L409.8 166.5L405 163.4L400.3 160.8L395.5 158.5L389.5 156.1L384.7 154.4L374 151.7L362 149.8L350.1 149L335.7 149L317.8 149.9L286.8 152.3L267.6 154.4L259.3 155.7L252.1 157.1L246.1 158.5L239 160.6L228.2 164.6L223.4 166.8L217.5 169.9L212.7 172.9L208.6 175.7L204.1 179.3L200.1 182.9L196.6 186.5L192.6 191.3L189.2 196L187 199.6L184.5 204.4L182.9 208L181.1 212.8L179.8 217.6L178.9 222.3L178.3 227.1L178.2 231.9L178.4 236.7L179.1 241.5L180.3 246.2L182 251L183.7 254.6L185.8 258.2L188.5 261.8L191.8 265.4L194.8 267.9L198.1 270.2L201.9 272.2L206 273.7Z"/>
<path fill="#c2c2ff" d="M303.3 405.2L310.7 406L319 406.2L327.4 405.5L335.7 404L342.9 402L351.3 398.8L358.4 395.2L365.6 390.6L371.6 386L377.8 380.1L382.9 374.1L387.9 367L391.8 359.8L394.7 352.6L396.9 345.5L398.5 337.1L399 329.9L398.8 321.6L397.6 313.2L395.8 306L393.1 298.8L389.7 291.7L385.3 284.5L380.7 278.5L375.4 272.5L368.9 266.6L362.8 261.8L355.6 257L347.7 252.8L339.3 249.3L331 246.8L323.8 245.5L316.6 244.9L309.5 245.2L302.3 246.3L295.1 248.2L287.9 251L280.9 254.6L273.5 259.4L267.3 264.2L260.8 270.2L255.3 276.1L250.6 282.1L245.9 289.3L242.2 296.5L239.2 303.6L237 310.8L235.4 319.2L234.8 326.3L235 334.7L235.9 341.9L237.5 349L239.9 356.2L243.2 363.4L246.7 369.4L250.9 375.2L255.7 380.7L261.7 386.4L267.6 391L273.6 394.8L280.8 398.5L287.9 401.4L295.1 403.6Z"/>
<path fill="#ffc0c0" d="M209.7 273.7L216.3 274.8L222.2 274.8L228.2 274.1L235.4 272.5L241.4 270.5L248.5 267.5L274.5 254.6L286.8 249.3L292.7 247.2L298.7 245.6L304.7 244.4L310.7 243.8L316.6 243.6L322.6 243.8L328.6 244.5L335.7 245.9L347.7 249.1L374 257.5L381.1 259.3L387.1 260.5L394.3 261.3L400.3 261.3L406.2 260.6L411.1 259.4L415.8 257.6L419.2 255.8L422.8 253.4L425.6 251L427.9 248.6L430.8 245.1L433 241.5L434.7 237.9L436.4 233.1L437.3 229.5L437.9 225.9L438.3 221.1L438.3 217.6L437.9 212.8L437 208L435.7 203.2L434 198.4L431.9 193.7L429.2 188.9L426.8 185.3L421 178.1L417.5 174.5L413.4 170.9L409.8 168.2L405 165L400.3 162.2L395.5 159.8L389.5 157.3L384.7 155.6L374 152.7L363.2 150.9L350.1 149.8L336.9 149.7L320.2 150.4L291.5 152.5L271.2 154.7L255.7 157.2L248.5 158.8L241.4 160.8L230.6 164.7L221 169.2L216.3 172L211.5 175.2L207.5 178.1L203.3 181.7L199.6 185.3L196.4 188.9L193.5 192.5L190.2 197.2L188 200.8L185.6 205.6L183.6 210.4L182.1 215.2L181 220L180.2 224.7L179.9 229.5L179.9 234.3L180.4 239.1L181.4 243.9L182.4 247.4L184.3 252.2L186.2 255.8L188.5 259.4L191.5 263L194.8 266.1L198.3 268.8L201.9 270.9L205.5 272.4Z"/>
<path fill="#c0c0ff" d="M306.9 404L314.2 404.5L322.6 404.3L331 403.2L339.3 401.3L347.7 398.5L354.9 395.3L362 391.1L368 386.9L374 381.8L379.1 376.5L383.8 370.6L388.5 363.4L392 356.2L394.7 349L396.9 340.7L397.9 333.5L398.2 326.3L397.6 318L396.4 310.8L394.4 303.6L391.6 296.5L387.9 289.3L383.2 282.1L378.4 276.1L372.7 270.2L365.8 264.2L359.2 259.4L351.2 254.6L343.7 251L335.7 248.1L328.6 246.3L321.4 245.2L314.2 244.9L307.1 245.5L299.9 246.8L292.7 249.1L285.5 252.2L279 255.8L271.9 260.6L264.7 266.6L258.6 272.5L252.6 279.7L247.7 286.9L244.3 292.9L241 300L238.5 307.2L236.8 314.4L235.8 321.6L235.5 328.7L235.9 335.9L237 343.1L239 350.4L241.6 357.4L244.9 364.1L249 370.6L253.7 376.5L258.2 381.3L264.1 386.5L270 390.8L277.2 395L284.4 398.4L291.5 400.9L298.7 402.7Z"/>
<path fill="#ffbebe" d="M214.3 273.7L219.8 274.2L225.8 273.9L231.8 273L237.8 271.4L243.7 269.3L249.7 266.8L274.4 254.6L286.8 249.3L292.7 247.2L298.7 245.6L304.7 244.4L310.7 243.7L316.6 243.5L322.6 243.8L328.6 244.5L334.5 245.6L346.4 248.6L374 257.3L379.9 258.8L385.9 260L393.1 260.7L399.1 260.8L405 260.1L409.8 258.9L413.4 257.6L417.1 255.8L420.8 253.4L423.8 251L426.2 248.6L429.1 245.1L431.3 241.5L433.1 237.9L434.4 234.3L435.7 229.5L436.3 225.9L436.7 221.1L436.7 217.6L436.2 212.8L435.4 208L434.1 203.2L432.8 199.6L430.7 194.9L428.2 190.1L425.9 186.5L423 182.6L419.4 178.4L415.8 174.8L412.2 171.7L408.1 168.6L403.8 165.7L399.1 162.9L394.3 160.5L389.5 158.4L383.5 156.3L372.8 153.4L360.8 151.5L348.9 150.6L334.5 150.5L316.6 151.3L289.1 153.4L270 155.6L261.7 156.9L254.5 158.3L248.5 159.7L241.4 161.8L230.6 165.8L225.8 168L220.2 170.9L215.1 174.1L211.1 176.9L206.7 180.4L203.1 183.6L199.2 187.7L196.2 191.3L193.5 194.9L190.4 199.6L188.4 203.2L186.2 208L184.4 212.8L183.1 217.6L182.1 222.3L181.6 227.1L181.4 231.9L181.7 236.7L182.4 241.5L183.7 246.2L185.5 251L187.2 254.6L189.5 258.2L192.3 261.8L196 265.4L199.1 267.8L203.1 270.2L206.7 271.8L210.3 272.9Z"/>
<path fill="#bebeff" d="M312.3 402.8L320.2 402.8L328.6 402L336.9 400.3L344.1 398.2L351.3 395.3L358.4 391.6L364.4 387.7L371.1 382.5L377.2 376.5L382.2 370.6L386.3 364.6L390.2 357.4L393.2 350.2L395.3 343.1L396.7 335.9L397.3 328.7L397.1 320.4L396.2 313.2L394.5 306L392.1 298.8L388.8 291.7L385.3 285.7L380.1 278.5L374.8 272.5L368.5 266.6L362.5 261.8L355.3 257L347.7 252.9L340.6 249.8L332.2 247.1L325 245.7L317.8 245L310.7 245.1L303.5 246.1L296.3 247.9L289.1 250.6L282 254.1L275.4 258.2L269 263L262.3 269L256.7 274.9L251.1 282.1L246.5 289.3L243.4 295.3L240.5 302.4L238.3 309.6L236.9 316.8L236.2 325.1L236.3 332.3L237.2 339.5L238.8 346.7L241.2 353.8L244.5 361L248 367L252.4 372.9L257.7 378.9L264.1 384.7L270 389.1L276 392.7L283.2 396.2L290.3 398.9L297.5 400.8L304.7 402.1Z"/>
<path fill="#ffbcbc" d="M212.6 272.5L218.7 273.4L224.6 273.5L230.6 272.7L237.8 271L243.7 269L250.9 266L274.3 254.6L286.8 249.2L292.7 247.2L298.7 245.6L304.7 244.4L310.7 243.7L316.6 243.5L322.6 243.8L328.6 244.5L334.5 245.5L346.6 248.6L372.8 256.8L379.9 258.5L385.9 259.6L391.9 260.2L397.9 260.3L403.8 259.6L408.6 258.4L412.5 257L415.8 255.4L418.9 253.4L422 251L424.5 248.6L427.4 245.1L429.7 241.5L431.5 237.9L432.9 234.3L433.9 230.7L434.6 227.1L435.1 222.3L435.1 217.6L434.7 212.8L434.1 209.2L432.9 204.4L431.7 200.8L429.7 196L427.2 191.3L424.9 187.7L421.8 183.3L418.3 179.3L414.8 175.7L411 172.4L407.4 169.6L402.6 166.3L397.9 163.6L393.6 161.4L388.3 159.1L383.5 157.4L372.8 154.4L360.8 152.3L348.9 151.3L334.5 151.2L317.8 151.9L292.7 153.8L272.4 155.9L256.9 158.6L250.9 159.9L243.7 161.9L233 165.8L223.4 170.3L218.7 173.1L213.9 176.3L209.9 179.3L205.7 182.9L202 186.5L198.8 190.1L195.1 194.9L192.7 198.4L190.6 202L188.3 206.8L186.8 210.4L185.2 215.2L184.1 220L183.3 224.7L183 229.5L183.1 234.3L183.6 239.1L184.6 243.9L186.1 248.6L187.7 252.2L189.6 255.8L192.1 259.4L195.3 263L197.9 265.4L201.2 267.8L204.3 269.5L208.5 271.4Z"/>
<path fill="#bcbcff" d="M303.6 400.4L311.8 401.3L320.2 401.3L327.4 400.6L335.7 399L344.1 396.5L351.3 393.6L358.4 389.8L364.4 386L370.4 381.2L376.4 375.5L381.1 369.8L385.6 363.4L389.5 356.2L392.4 349L394.6 341.9L395.9 334.7L396.5 327.5L396.3 319.2L395.3 312L393.6 304.8L391.1 297.6L387.7 290.5L384.1 284.5L379.8 278.5L374.5 272.5L368.3 266.6L362.3 261.8L355.1 257L347.7 253L339.3 249.4L331 246.9L323.8 245.5L316.6 245L309.5 245.2L302.7 246.2L296.3 247.9L289.1 250.6L282 254.2L275.5 258.2L269.1 263L262.4 269L256.9 274.9L251.3 282.1L247.5 288.1L243.8 295.3L240.9 302.4L238.8 309.6L237.5 316.8L236.9 323.9L237 331.1L237.8 338.3L239.4 345.5L241.8 352.6L244.9 359.5L248.6 365.8L252.9 371.8L258.1 377.5L262.9 382L268.8 386.6L274.8 390.4L280.8 393.5L287.9 396.5L295.1 398.7Z"/>
<path fill="#ffbaba" d="M217.2 272.5L222.2 272.9L227 272.7L233 271.8L239 270.3L244.9 268.3L250.9 265.8L276.7 253.4L286.8 249.2L292.7 247.2L298.7 245.5L304.7 244.4L310.7 243.7L316.6 243.5L322.6 243.8L328.6 244.4L334.5 245.5L346.8 248.6L371.6 256.3L378.8 258L384.7 259.1L390.7 259.7L396.7 259.8L402.6 259.1L407.4 258L411 256.7L414.6 254.9L418.2 252.6L420.6 250.7L423 248.5L425.8 245.1L428.2 241.5L430 237.9L431.4 234.3L432.7 229.5L433.3 225.9L433.7 221.1L433.6 217.6L433.2 212.8L432.3 208L431 203.2L429.7 199.6L427.5 194.9L424.8 190.1L422.5 186.5L419.7 182.9L416.6 179.3L413 175.7L408.8 172.1L405 169.3L400.3 166.2L391.9 161.8L387.1 159.7L381.1 157.6L370.4 154.8L358.4 152.9L345.3 151.9L331 151.9L313 152.8L287.9 154.8L270 157L255.7 159.6L249.7 161.1L242.5 163.2L236.6 165.3L230.6 167.9L221 172.9L212.7 178.5L208.8 181.7L204.9 185.3L201.5 188.9L198.5 192.5L195.9 196L192.9 200.8L190.4 205.6L188.3 210.4L187.1 214L185.8 218.8L185 223.5L184.5 228.3L184.5 233.1L184.9 237.9L185.8 242.7L186.8 246.2L188.7 251L190.5 254.6L192.9 258.2L195.9 261.8L198.4 264.2L201.9 266.8L205.5 268.9L209.1 270.5L212.7 271.7Z"/>
<path fill="#babaff" d="M305.7 399.2L313 399.8L321.4 399.7L329.8 398.7L336.9 397.2L344.1 395L352.5 391.5L359.6 387.5L365.6 383.4L371.6 378.4L376.9 372.9L381.7 367L385.9 360.5L389.4 353.8L392.2 346.7L394.1 339.5L395.3 332.3L395.8 323.9L395.4 316.8L394.2 309.6L392.3 302.4L390.1 296.5L386.6 289.3L382.1 282.1L377.5 276.1L371.9 270.2L366.6 265.4L360.4 260.6L352.9 255.8L346 252.2L338.1 249L329.8 246.6L322.6 245.4L315.4 245L308.3 245.4L301.1 246.6L294.2 248.6L288.2 251L281.3 254.6L273.9 259.4L267.8 264.2L261.4 270.2L256.1 276.1L251.6 282.1L247.1 289.3L243.6 296.5L240.9 303.6L239 310.8L237.9 318L237.5 325.1L237.8 332.3L238.9 339.5L240.7 346.7L243.4 353.8L246.3 359.8L249.9 365.8L254.5 371.8L259.3 377L265.2 382.3L271.2 386.6L277.2 390.2L284.4 393.6L291.5 396.2L298.7 398.1Z"/>
<path fill="#ffb8b8" d="M214.9 271.4L219.8 272.1L225.8 272.3L231.8 271.6L239 270L244.9 268L252.1 265.1L276.6 253.4L286.8 249.2L292.7 247.1L298.7 245.5L304.7 244.3L310.7 243.7L316.6 243.5L322.6 243.7L328.6 244.4L334.5 245.5L345.3 248.1L371.6 256.1L377.6 257.5L383.5 258.6L389.5 259.3L395.5 259.3L401.5 258.7L406.2 257.6L409.8 256.3L413.4 254.5L417 252.2L419.9 249.8L422.3 247.4L425.2 243.9L426.7 241.5L428.5 237.9L430 234.3L431 230.7L431.7 227.1L432.2 222.3L432.3 218.8L431.9 214L431.1 209.2L429.9 204.4L428.2 199.6L426.6 196L424.7 192.5L421.7 187.7L419 184.1L415.8 180.3L412.4 176.9L408.4 173.3L403.8 169.9L400 167.4L395.5 164.7L390.7 162.4L381.1 158.6L370.4 155.7L358.4 153.7L346.5 152.7L332.2 152.6L314.2 153.3L291.5 155.1L272.4 157.3L258.1 159.8L250.9 161.5L244.9 163.3L234.2 167.3L224.6 171.9L216.3 177.2L211.9 180.5L207.8 184.1L204.2 187.7L201 191.3L198.2 194.9L195.1 199.6L193 203.2L190.7 208L189.3 211.6L187.8 216.4L186.8 221.1L186.1 225.9L185.9 230.7L186.1 235.5L186.7 240.3L187.6 243.9L189.2 248.6L190.8 252.2L192.9 255.8L195.5 259.4L197.7 261.8L200.7 264.5L204.3 267.1L207.9 269L211.5 270.4Z"/>
<path fill="#b8b8ff" d="M307.8 398L315.4 398.5L323.8 398.1L331 397.1L339.3 395.1L346.5 392.6L353.7 389.3L360.8 385.1L366.8 380.8L372.8 375.5L377.6 370.3L382.3 364.1L386.4 357.4L389.8 350.2L392.3 343.1L393.9 335.9L394.9 328.7L395 321.6L394.4 314.4L393.1 307.2L391 300L388 292.9L384.1 285.7L380 279.7L375.1 273.7L369.2 267.8L363.5 263L356.7 258.2L348.4 253.4L341.7 250.4L334.5 247.9L327.4 246.2L320.2 245.2L313 245L305.9 245.7L299.9 246.9L292.7 249.2L285.8 252.2L279.3 255.8L272.4 260.6L266.5 265.4L260.4 271.4L255.3 277.3L250.2 284.5L246.8 290.5L243.5 297.6L241 304.8L239.3 312L238.3 319.2L238.1 326.3L238.6 333.5L239.7 339.5L241.6 346.7L244.4 353.8L247.4 359.8L251.2 365.8L256 371.8L260.5 376.5L266.4 381.6L272.4 385.9L279.6 389.9L285.6 392.6L292.7 395.1L299.9 396.9Z"/>
<path fill="#ffb6b6" d="M219.2 271.4L224.6 271.7L229.4 271.5L235.4 270.5L241.4 268.9L246.1 267.3L252.1 264.9L276.4 253.4L288.1 248.6L293.9 246.7L299.9 245.2L304.7 244.3L310.7 243.6L316.6 243.4L322.6 243.7L328.6 244.4L334.5 245.4L345.3 248.1L370.4 255.6L377.6 257.3L383.5 258.3L389.5 258.9L395.5 258.8L400.7 258.2L405.5 257L408.8 255.8L412.2 254.2L415.3 252.2L418.3 249.8L420.8 247.4L423.7 243.9L425.9 240.3L427.6 236.7L428.9 233.1L429.9 229.5L430.5 225.9L430.9 221.1L430.8 217.6L430.4 212.8L429.5 208L428.5 204.4L427.2 200.8L425.1 196L422.5 191.3L420.1 187.7L417.4 184.1L414.3 180.5L410.7 176.9L406.6 173.3L399.1 168L394.3 165.3L389.5 162.9L379.9 159.2L369.2 156.2L358.4 154.4L345.3 153.3L331 153.2L313 154L289.1 155.9L271.2 158.1L256.9 160.8L244.9 164.1L234.2 168.2L224.6 173L216.3 178.5L212.1 181.7L208.1 185.3L204.6 188.9L201.6 192.5L198.9 196L195.8 200.8L193.8 204.4L191.6 209.2L190.3 212.8L188.9 217.6L187.9 222.3L187.4 227.1L187.3 231.9L187.6 236.7L188.4 241.5L189.3 245.1L191.1 249.8L192.9 253.4L195.2 257L198.2 260.6L200.6 263L203.7 265.4L207.7 267.8L211.5 269.4L215.1 270.6Z"/>
<path fill="#b6b6ff" d="M310 396.9L317.8 397L325 396.6L333.4 395.2L340.5 393.3L347.7 390.6L353.7 387.8L360.8 383.6L366.8 379.2L372.8 373.8L377.6 368.5L382.3 362.2L385.9 356.1L389.2 349L391.7 341.9L393.3 334.7L394.2 327.5L394.3 320.4L393.7 313.2L392.3 306L390.1 298.8L387.6 292.9L383.8 285.7L379.7 279.7L374.9 273.7L369 267.8L361.7 261.8L354.7 257L348.2 253.4L340.1 249.8L333.4 247.6L326.2 246L319 245.1L311.8 245.1L304.7 245.9L298.1 247.4L291.2 249.8L283.6 253.4L277.5 257L270.9 261.8L265.4 266.6L259.5 272.5L254.6 278.5L250.5 284.5L246.5 291.7L243.3 298.8L241.1 306L239.6 313.2L238.8 320.4L238.8 327.5L239.5 334.7L241 341.9L242.9 347.8L246 355L249.3 361L253.3 366.8L258.1 372.4L262.9 377.1L268.8 381.9L274.8 385.9L280.8 389.1L287.9 392.1L295.1 394.4L302.3 395.9Z"/>
<path fill="#ffb4b4" d="M216.7 270.2L222.2 271L228.2 271.1L234.2 270.3L240.2 269L246.1 267.1L252.1 264.7L276.3 253.4L288 248.6L293.9 246.7L299.9 245.2L304.7 244.3L310.7 243.6L316.6 243.4L322.6 243.7L328.6 244.4L334.5 245.4L345.3 248L370.4 255.4L376.4 256.8L382.3 257.9L388.3 258.4L394.3 258.4L399.1 257.9L403.8 256.8L407.4 255.5L411 253.8L413.6 252.2L417 249.7L419.4 247.4L422.3 243.9L424.5 240.3L426.3 236.7L427.6 233.1L428.6 229.5L429.2 225.9L429.6 221.1L429.5 217.6L429 212.8L428.4 209.2L427.1 204.4L425.8 200.8L423.7 196L421 191.3L418.6 187.7L415.9 184.1L412.7 180.5L406.2 174.5L402.6 171.7L397.9 168.6L389.5 164L379.9 160.1L369.2 157.1L357.2 155L345.3 154L331 153.8L314.2 154.5L292.7 156.2L274.8 158.2L260.5 160.7L254.5 162.1L247.3 164.1L236.6 168.1L227 172.7L218.4 178.1L211 184.1L207.3 187.7L204 191.3L198.7 198.4L196.5 202L194 206.8L192.1 211.6L190.9 215.2L189.7 220L189.1 223.5L188.6 228.3L188.6 233.1L189.1 237.9L189.7 241.5L191.1 246.2L192.5 249.8L194.4 253.4L196.7 257L199.5 260.3L202.3 263L205.5 265.4L209.1 267.4L212.7 269Z"/>
<path fill="#b4b4ff" d="M312.4 395.7L320.2 395.6L327.4 394.9L334.5 393.5L342.9 391.1L350.1 388.1L357.2 384.3L363.2 380.4L369.2 375.5L374.2 370.6L379.2 364.6L383.3 358.6L386.5 352.6L389.5 345.5L391.7 338.3L393 331.1L393.6 323.9L393.4 316.8L392.5 309.6L391.1 303.6L388.7 296.5L385.4 289.3L381.9 283.3L377.6 277.3L372.4 271.4L366.1 265.4L359.9 260.6L352.5 255.8L345.7 252.2L338.1 249.1L331 247L323.8 245.6L316.6 245.1L309.5 245.3L302.3 246.4L295.1 248.4L289.1 250.7L281.5 254.6L275.9 258.2L269.5 263L264.2 267.8L258.6 273.7L253.9 279.7L249.3 286.9L246.2 292.9L243.3 300L241.2 307.2L239.9 314.4L239.3 321.6L239.5 328.7L240.4 335.9L242.2 343.1L244.3 349L247.3 355.6L250.9 361.7L254.8 367L260.1 372.9L265.2 377.7L271.2 382.2L277.2 385.8L284.4 389.3L291.5 392L298.7 393.9L305.9 395.1Z"/>
<path fill="#ffb2b2" d="M220.6 270.2L225.8 270.6L230.6 270.4L236.6 269.5L242.5 268L247.3 266.4L253.3 264L276.2 253.4L287.9 248.6L293.9 246.7L299.9 245.2L304.7 244.3L310.7 243.6L315.4 243.4L321.4 243.6L327.4 244.2L333.4 245.1L344.1 247.7L370.4 255.2L376.4 256.6L382.3 257.6L388.3 258.1L394.3 257.9L399.1 257.3L403.8 256.1L407.6 254.6L411 252.8L413.7 251L416.6 248.6L419 246.2L421.7 242.7L423.2 240.3L425 236.7L426.3 233.1L427.3 229.5L427.9 225.9L428.3 221.1L428.2 217.6L427.7 212.8L427.1 209.2L425.8 204.4L424.5 200.8L422.3 196L418 188.9L415.4 185.3L412.2 181.6L408.7 178.1L404.6 174.5L400.3 171.3L396.7 168.9L388.3 164.4L378.8 160.6L368 157.6L357.2 155.7L344.1 154.6L331 154.4L314.2 155.1L291.5 156.8L274.8 158.8L267.6 160L259.3 161.7L247.3 164.9L236.6 168.9L227 173.7L218.7 179.1L211.2 185.3L207.6 188.9L204.4 192.5L201.7 196L198.5 200.8L196.5 204.4L194.3 209.2L192.9 212.8L191.5 217.6L190.5 222.3L190 227.1L189.9 231.9L190.1 235.5L190.8 240.3L191.7 243.9L193.4 248.6L195.1 252.2L197.3 255.8L199.5 258.6L202.6 261.8L205.6 264.2L209.1 266.4L212.7 268L216.3 269.2Z"/>
<path fill="#b2b2ff" d="M302.1 393.3L309.5 394.2L317.8 394.4L326.2 393.8L333.4 392.5L340.5 390.5L347.7 387.8L354.9 384.3L360.8 380.6L366.8 376.1L371.6 371.7L376.9 365.8L381.3 359.8L384.8 353.8L388.1 346.7L390.5 339.5L392.1 332.3L392.9 325.1L392.9 318L392.1 310.8L390.6 303.6L388.7 297.6L385.6 290.5L381.6 283.3L377.3 277.3L372.2 271.4L367.2 266.6L361.4 261.8L354.4 257L348 253.4L339.9 249.8L332.6 247.4L325 245.8L317.8 245.1L310.7 245.2L304.7 246L297.5 247.7L290.3 250.2L283.7 253.4L277.7 257L271.1 261.8L265.6 266.6L259.8 272.5L255 278.5L250.2 285.7L247 291.7L244 298.8L241.9 306L240.7 312L239.9 319.2L240 326.3L240.7 333.5L242 339.5L244.2 346.7L246.8 352.6L250.1 358.6L254.2 364.6L259.3 370.6L264.1 375.2L268.8 379.1L274.8 383.1L280.8 386.3L287.9 389.4L295.1 391.7Z"/>
<path fill="#ffb0b0" d="M218.1 269L223.4 269.9L229.4 270L235.4 269.3L241.4 268L247.3 266.1L253.3 263.8L278.8 252.2L287.8 248.6L293.9 246.7L299.9 245.1L304.7 244.3L310.7 243.6L315.4 243.4L321.4 243.5L327.4 244.1L333.4 245.1L343.5 247.4L369.2 254.8L375.2 256.1L381.1 257.1L387.1 257.6L393.1 257.6L397.9 257L402.5 255.8L406.2 254.4L409.8 252.6L412.2 251L415.2 248.6L417.6 246.2L420.4 242.7L421.9 240.3L423.7 236.7L425.1 233.1L426 229.5L427 222.3L427 218.8L426.7 214L426.1 210.4L424.9 205.6L423.6 202L421.6 197.2L417.4 190.1L414.9 186.5L411.9 182.9L408.4 179.3L404.4 175.7L400.3 172.5L396.7 170.1L388.3 165.4L378.8 161.5L374 160L368 158.4L362 157.2L356.1 156.3L344.1 155.2L331 155L315.4 155.6L293.9 157.2L276 159.2L261.7 161.8L249.7 164.9L240.2 168.3L230.6 172.7L225.8 175.4L221.7 178.1L213.9 184.2L210.2 187.7L206.8 191.3L201.3 198.4L199.1 202L196.6 206.8L195.1 210.4L193.4 215.2L192.2 220L191.6 223.5L191.1 228.3L191.1 233.1L191.6 237.9L192.3 241.5L193.7 246.2L195.2 249.8L197.1 253.4L199.5 256.9L201.7 259.4L204.3 261.9L207.3 264.2L210.3 266L213.9 267.6Z"/>
<path fill="#b0b0ff" d="M302.5 392.1L309.5 392.9L317.8 393.2L326.2 392.5L333.4 391.2L340.5 389.2L347.7 386.5L354.9 382.9L360.8 379.2L366.8 374.6L372.3 369.4L376.5 364.6L381.1 358.2L384.7 352L387.6 345.5L390 338.3L391.5 331.1L392.2 323.9L392.2 316.8L391.4 309.6L390.1 303.6L387.8 296.5L385.3 290.5L382 284.5L377 277.3L371.9 271.4L367 266.6L361.2 261.8L354.2 257L347.9 253.4L339.8 249.8L332.5 247.4L325 245.9L317.8 245.1L310.7 245.3L304.7 246L297.5 247.7L290.3 250.3L283.8 253.4L277.8 257L271.2 261.8L265.7 266.6L260 272.5L255.2 278.5L251.2 284.5L247.9 290.5L244.8 297.6L242.6 304.8L241.1 312L240.5 319.2L240.6 326.3L241.2 332.3L242.7 339.5L244.6 345.5L247.3 351.8L250.4 357.4L254.5 363.4L259.3 369.1L264.1 373.8L268.8 377.7L274.8 381.7L280.8 385L287.9 388.2L295.1 390.5Z"/>
<path fill="#ffaeae" d="M221.4 269L227 269.5L231.8 269.4L236.6 268.8L242.5 267.4L248.5 265.5L254.5 263.2L278.6 252.2L287.7 248.6L292.7 247L298.7 245.4L304.7 244.2L310.7 243.6L315.4 243.4L321.4 243.5L327.4 244.1L333.3 245.1L343.7 247.4L368 254.3L374 255.7L379.9 256.7L385.9 257.2L391.9 257.2L396.7 256.6L401.5 255.5L405 254.1L408.6 252.3L411 250.8L413.8 248.6L416.2 246.2L419.1 242.7L420.6 240.3L422.5 236.7L423.8 233.1L424.8 229.5L425.5 225.9L425.8 222.3L425.8 218.8L425.4 214L424.8 210.4L423.6 205.6L422.4 202L420.3 197.2L418.4 193.7L415.8 189.6L412.5 185.3L409.8 182.2L406.2 178.7L402.8 175.7L395.5 170.4L390.7 167.7L385.9 165.3L376.4 161.5L366.8 158.9L356.1 157L344.1 155.9L331 155.6L314.2 156.2L293.9 157.7L276 159.8L262.9 162.2L255.7 163.9L249.7 165.6L240.2 169.1L230.6 173.6L225.8 176.4L221.5 179.3L214 185.3L210.4 188.9L207.1 192.5L201.8 199.6L199.1 204.4L197.3 208L195.4 212.8L194.3 216.4L193.2 221.1L192.5 225.9L192.3 230.7L192.4 234.3L193 239.1L193.8 242.7L195.4 247.4L197.1 251L199.3 254.6L201.9 258.1L204.4 260.6L207.3 263L210.3 265L213.9 266.7L217.5 268Z"/>
<path fill="#aeaeff" d="M302.6 390.9L310.7 391.8L317.8 392L325 391.4L332.2 390.3L339.3 388.4L346.5 385.7L353.7 382.3L359.6 378.6L365.6 374.1L371.6 368.6L376.4 363.2L380.5 357.4L384 351.4L387.2 344.3L389.5 337.1L390.9 329.9L391.6 322.7L391.5 315.6L390.7 308.4L389 301.2L386.5 294.1L383.7 288.1L380.2 282.1L375.8 276.1L370.5 270.2L365.5 265.4L359.4 260.6L352.1 255.8L345.3 252.2L338.1 249.3L331 247.1L325 245.9L317.8 245.2L311.8 245.2L304.7 246L298.5 247.4L292.7 249.3L286.2 252.2L279.8 255.8L272.9 260.6L267.1 265.4L261.2 271.4L256.2 277.3L252.2 283.3L248.8 289.3L245.6 296.5L243.3 303.6L241.8 310.8L241 318L241.1 325.1L241.9 332.3L243.1 338.3L245 344.3L247.5 350.2L250.7 356.2L254.7 362.2L259.3 367.6L264.1 372.4L270 377.2L276 381.2L282 384.4L289.1 387.4L295.1 389.3Z"/>
<path fill="#ffacac" d="M226.6 269L230.6 269L235.4 268.6L240.2 267.7L244.9 266.4L255.7 262.5L278.5 252.2L287.6 248.6L292.7 246.9L298.7 245.4L304.7 244.2L310.7 243.5L315.4 243.3L321.4 243.5L327.4 244.1L333.4 245L343.9 247.4L368 254.1L374 255.5L379.9 256.4L385.9 256.9L391.9 256.8L396.7 256.1L401.5 254.8L404.9 253.4L407.4 252.1L410.9 249.8L413.7 247.4L416 245.1L418.7 241.5L420.1 239.1L421.8 235.5L423 231.9L423.9 228.3L424.4 224.7L424.7 220L424.5 216.4L423.9 211.6L422 204.4L420.2 199.6L418.4 196L413.9 188.9L411.1 185.3L407.9 181.7L401.3 175.7L397.9 173.1L393.1 170L384.7 165.6L375.2 161.9L365.6 159.3L353.7 157.3L341.7 156.3L327.4 156.2L310.7 156.9L291.5 158.5L274.8 160.6L260.5 163.3L248.5 166.7L237.8 170.9L228.5 175.7L223.4 179L219.8 181.6L212.9 187.7L209.5 191.3L206.5 194.9L203.9 198.4L200.9 203.2L199.1 206.8L197 211.6L195.5 216.4L194.6 220L193.8 224.7L193.5 229.5L193.6 234.3L194 237.9L195 242.7L196.2 246.2L197.7 249.8L199.8 253.4L202.4 257L204.6 259.4L207.9 262.3L211.5 264.6L215.1 266.4L218.7 267.6L222.2 268.5Z"/>
<path fill="#acacff" d="M302.4 389.7L309.5 390.6L317.8 390.8L325 390.3L332.2 389.1L339.3 387.2L346.5 384.5L353.7 381L359.6 377.3L365.6 372.7L370.6 368.2L375.9 362.2L379.9 356.5L383.5 350.3L386.3 344.3L388.7 337.1L390.2 329.9L391 322.7L390.9 315.6L390.1 308.4L388.9 302.4L386.6 295.3L383.9 289.3L380.6 283.3L375.6 276.1L370.3 270.2L365.3 265.4L359.3 260.6L352 255.8L345.2 252.2L338.1 249.3L331 247.1L325 245.9L317.8 245.2L311.8 245.2L304.7 246L298.5 247.4L292.7 249.4L286.2 252.2L279.8 255.8L273 260.6L267.3 265.4L261.3 271.4L256.4 277.3L252.4 283.3L249 289.3L245.9 296.5L243.6 303.6L242.2 310.8L241.6 316.8L241.5 323.9L242.1 329.9L243.5 337.1L245.8 344.3L248.4 350.2L251.7 356.2L255.7 361.9L260.5 367.5L265.2 372.1L270 376L276 379.9L282 383.2L289.1 386.2L295.1 388.1Z"/>
<path fill="#ffaaaa" d="M221.9 267.8L227 268.5L231.8 268.5L237.8 267.8L243.7 266.5L249.7 264.6L255.7 262.3L278.4 252.2L289.1 248.1L295.1 246.2L299.9 245.1L304.7 244.2L310.7 243.5L315.4 243.3L321.4 243.5L332.2 244.8L342.9 247.1L368 254L378.8 256L384.7 256.5L390.7 256.4L395.5 255.8L400.1 254.6L403.3 253.4L406.2 252L409.5 249.8L412.2 247.7L414.8 245.1L416.7 242.7L418.2 240.3L420.1 236.7L421.5 233.1L422.5 229.5L423.2 225.9L423.5 222.3L423.5 218.8L423.1 214L422.5 210.4L421.2 205.6L420 202L417.8 197.2L413.5 190.1L410.8 186.5L407.7 182.9L401.3 176.9L397.9 174.3L393.1 171.1L384.7 166.5L375.2 162.7L365.6 160.1L354.9 158.1L342.9 157L328.6 156.7L313 157.3L293.9 158.7L277.2 160.8L262.9 163.4L250.9 166.6L241.4 170.2L231.8 174.8L223.4 180L219.6 182.9L215.4 186.5L211.8 190.1L208.7 193.7L203.5 200.8L199.7 208L197.7 212.8L196.6 216.4L195.5 221.1L194.8 225.9L194.6 230.7L194.7 234.3L195.4 239.1L196.2 242.7L197.4 246.2L199 249.8L201 253.4L203.1 256.3L206 259.4L208.8 261.8L211.5 263.7L215.1 265.5L218.7 266.9Z"/>
<path fill="#aaaaff" d="M302.1 388.5L309.5 389.4L316.6 389.7L325 389.1L332.2 387.9L339.3 386L346.5 383.3L353.7 379.7L359.6 376L365.6 371.4L370.4 366.9L375.6 361L379.8 355L383.2 349L386.3 341.9L388.2 335.9L389.7 328.7L390.4 321.6L390.3 314.4L389.6 308.4L388.1 301.2L385.7 294.1L383 288.1L379.6 282.1L375.3 276.1L370.1 270.2L365.1 265.4L359.1 260.6L351.9 255.8L345.1 252.2L338.1 249.3L331 247.1L325 245.9L317.8 245.2L311.8 245.2L304.7 246.1L298.6 247.4L292.7 249.4L286.3 252.2L279.9 255.8L273.1 260.6L267.4 265.4L261.5 271.4L256.6 277.3L252.6 283.3L249.3 289.3L246.7 295.3L244.3 302.4L242.8 309.6L242.1 315.6L242 322.7L242.7 329.9L243.9 335.9L245.7 341.9L248.5 348.7L251.9 355L255.7 360.5L260.5 366.2L265.2 370.8L270 374.7L276 378.7L282 382L287.9 384.6L295.1 386.9Z"/>
<path fill="#ffa8a8" d="M225.5 267.8L229.4 268.1L234.2 267.9L239 267.3L244.9 265.9L249.7 264.4L255.7 262.2L278.3 252.2L289.1 248L295 246.2L299.9 245L304.7 244.2L310.7 243.5L315.4 243.3L321.4 243.4L332.2 244.8L342.9 247.1L366.8 253.5L372.8 254.8L378.8 255.8L384.7 256.2L389.5 256.1L394.3 255.5L399.1 254.3L401.6 253.4L405 251.8L408.2 249.8L411.2 247.4L413.5 245.1L416.3 241.5L417.8 239.1L419.5 235.5L420.8 231.9L421.7 228.3L422.2 224.7L422.4 221.1L422 214L421.1 209.2L420.1 205.6L418.8 202L416.6 197.2L412.3 190.1L409.5 186.5L406.3 182.9L399.8 176.9L395.5 173.7L391.9 171.3L383.5 166.9L374 163.1L364.4 160.5L353.7 158.6L341.7 157.5L328.6 157.2L313 157.8L293.9 159.2L278.4 161.1L265.2 163.5L258.1 165.2L252.1 166.9L242.5 170.4L233 175L228.2 177.8L224.1 180.5L216.7 186.5L213.1 190.1L209.9 193.7L204.7 200.8L202.6 204.4L200.3 209.2L198.8 212.8L197.4 217.6L196.4 222.3L195.8 227.1L195.7 231.9L195.9 235.5L196.7 240.3L197.7 243.9L199 247.4L200.8 251L203.1 254.6L205.5 257.6L208.7 260.6L211.5 262.7L215.1 264.7L218.7 266.2L222.2 267.2Z"/>
<path fill="#a8a8ff" d="M312.1 388.5L319 388.5L326.2 387.8L333.4 386.5L340.5 384.4L347.7 381.6L353.7 378.5L359.6 374.7L365.6 370.1L370.4 365.5L375.4 359.8L379.5 353.8L382.9 347.8L385.5 341.9L387.8 334.7L389.2 327.5L389.8 320.4L389.8 314.4L389 307.2L387.7 301.2L385.3 294.1L382.6 288.1L379.3 282.1L375.1 276.1L369.9 270.2L364.9 265.4L359 260.6L351.7 255.8L345 252.2L338.1 249.4L331 247.2L323.8 245.8L317.8 245.2L310.7 245.3L304.7 246.1L297.5 247.8L291.5 249.9L284.1 253.4L278.2 257L271.6 261.8L266.2 266.6L260.6 272.5L255.9 278.5L252.1 284.5L249 290.5L246.5 296.5L244.4 303.6L243.2 309.6L242.5 316.8L242.6 323.9L243.3 329.9L244.6 335.9L246.9 343.1L249.5 349L252.9 355L256.9 360.6L261.7 366.1L266.4 370.6L272.4 375.2L278.4 378.9L284.4 382L290.3 384.3L297.5 386.4L304.7 387.8Z"/>
<path fill="#ffa6a6" d="M222.3 266.6L227 267.4L233 267.6L239 267L244.9 265.7L249.7 264.2L255.7 262L278.2 252.2L289.1 248L294.9 246.2L299.9 245L304.7 244.1L310.7 243.5L315.4 243.3L321.4 243.4L332.2 244.7L342.9 247L366.8 253.4L377.6 255.4L383.5 255.9L388.3 255.8L393.1 255.2L397.9 254.1L403.8 251.6L406.9 249.8L409.9 247.4L412.4 245.1L414.3 242.7L416 240.3L417.9 236.7L419.3 233.1L420.4 229.5L421 225.9L421.3 222.3L421.1 215.2L420.3 210.4L419.4 206.8L417.7 202L416.1 198.4L411.9 191.3L409.3 187.7L406.2 184.1L399.9 178.1L393.1 173.1L384.7 168.3L379.9 166.1L375.2 164.3L365.6 161.4L354.9 159.3L342.9 158.1L329.8 157.7L315.4 158.1L297.5 159.4L280.8 161.3L267.6 163.5L260.5 165.2L254.5 166.8L244.9 170.1L235.3 174.5L227 179.5L219.3 185.3L215.5 188.9L212.1 192.5L206.6 199.6L202.4 206.8L200.4 211.6L199.1 215.2L197.9 220L197.2 223.5L196.8 228.3L196.8 231.9L197.2 236.7L197.8 240.3L198.8 243.9L200.2 247.4L202 251L204.3 254.6L206.3 257L209.1 259.8L211.7 261.8L215.1 263.8L218.7 265.4Z"/>
<path fill="#a6a6ff" d="M310 387.3L317.8 387.5L325 386.9L332.2 385.7L339.3 383.7L346.5 381L352.5 378L358.4 374.3L364.4 369.8L369.2 365.4L374.2 359.8L378.5 353.8L382 347.8L384.7 341.7L387 334.7L388.5 327.5L389.2 321.6L389.2 314.4L388.7 308.4L387.5 302.4L385.4 295.3L382.9 289.3L379.7 283.3L375.7 277.3L370.8 271.4L366.1 266.6L360.4 261.8L353.6 257L347.3 253.4L340.5 250.3L333.4 247.9L326.2 246.2L319 245.3L311.8 245.3L305.9 245.9L298.8 247.4L292.7 249.5L286.5 252.2L280.1 255.8L274.8 259.4L268.9 264.2L264 269L258.8 274.9L253.7 282.1L250.4 288.1L247.7 294.1L245.3 301.2L244 307.2L243.1 314.4L243 321.6L243.5 327.5L244.6 333.5L246.7 340.7L249.2 346.7L252.3 352.6L256.4 358.6L260.5 363.6L265.2 368.3L271.2 373.2L277.2 377.1L283.2 380.3L289.1 382.8L296.3 385L303.5 386.5Z"/>
<path fill="#ffa4a4" d="M225.1 266.6L230.6 267.2L235.4 267L240.2 266.4L246.1 265.1L250.9 263.6L256.9 261.4L278 252.2L289.1 248L294.8 246.2L299.9 245L304.7 244.1L310.7 243.4L315.4 243.2L321.4 243.4L332.2 244.7L342.9 247L365.6 253L376.4 255L382.3 255.5L387.1 255.5L391.9 255L396.7 253.9L400.3 252.6L403.6 251L406.2 249.4L408.7 247.4L411.2 245.1L413.2 242.7L414.9 240.3L416.8 236.7L418.3 233.1L419.3 229.5L420 225.9L420.3 222.3L420.1 215.2L419.2 210.4L418.3 206.8L416.6 202L415 198.4L413 194.9L410.7 191.3L408.1 187.7L405 184.2L399.1 178.6L391.9 173.3L383.5 168.6L378.8 166.4L374 164.6L364.4 161.8L353.7 159.8L341.7 158.6L328.6 158.2L314.2 158.7L296.3 160L279.6 162L266.4 164.3L254.5 167.4L244.9 170.8L235.4 175.3L226.8 180.5L219.2 186.5L215.5 190.1L212.2 193.7L206.9 200.8L202.9 208L201.4 211.6L199.8 216.4L198.9 220L198.1 224.7L197.8 229.5L197.9 233.1L198.4 237.9L199.2 241.5L200.3 245.1L201.8 248.6L203.8 252.2L206.5 255.8L208.7 258.2L211.5 260.6L213.9 262.3L217.5 264.2L221 265.6Z"/>
<path fill="#a4a4ff" d="M308.1 386.1L315.4 386.5L322.6 386.1L329.8 385.1L336.9 383.4L344.1 380.9L350.1 378.2L356.1 374.7L362 370.5L367.5 365.8L372.1 361L376.7 355L380.4 349L383.5 342.6L386 335.9L387.5 329.9L388.5 322.7L388.7 315.6L388.2 308.4L386.8 301.2L385 295.3L382.5 289.3L379.4 283.3L375.5 277.3L370.6 271.4L365.9 266.6L360.3 261.8L353.4 257L347.2 253.4L340.5 250.4L333.4 247.9L326.4 246.2L320.2 245.4L313 245.3L307.1 245.8L299.9 247.2L293.9 249L286.5 252.2L280.2 255.8L274.9 259.4L269 264.2L264.1 269L258.9 274.9L254.7 280.9L251.2 286.9L248 294.1L246 300L244.3 307.2L243.6 313.2L243.4 319.2L243.9 326.3L245.2 333.5L247 339.5L249.4 345.5L252.5 351.4L256.5 357.4L260.4 362.2L265.2 367.1L270 371.2L276 375.3L282 378.6L287.9 381.3L293.9 383.3L301.1 385.1Z"/>
<path fill="#ffa2a2" d="M228.9 266.6L233 266.8L237.8 266.5L242.5 265.7L247.3 264.5L256.9 261.3L277.9 252.2L289.1 247.9L294.6 246.2L299.9 245L304.7 244.1L310.7 243.4L315.4 243.2L321.4 243.4L332.2 244.7L342.9 246.9L365.6 252.8L376.4 254.8L382.3 255.2L387.1 255.1L391.9 254.5L396.7 253.4L399.7 252.2L402.6 250.8L406 248.6L408.6 246.5L411.2 243.9L413 241.5L414.5 239.1L416.3 235.5L417.7 231.9L418.6 228.3L419.1 224.7L419.3 221.1L418.9 214L417.9 209.2L416.9 205.6L413.9 198.4L411.9 194.9L409.6 191.3L406.9 187.7L403.7 184.1L397.2 178.1L393.1 175L389.5 172.7L381.1 168.2L371.6 164.5L362 161.9L351.3 160L339.3 159L326.2 158.7L310.7 159.3L292.7 160.8L277.2 162.8L264.1 165.4L253.3 168.4L243.7 172L234.2 176.7L225.8 182.1L218.7 188.1L215.5 191.3L212.3 194.9L207.2 202L205.2 205.6L202.9 210.4L201.6 214L200.2 218.8L199.3 223.5L198.9 227.1L198.8 231.9L199.1 235.5L199.9 240.3L200.9 243.9L202.3 247.4L204.2 251L206.7 254.6L208.7 257L211.3 259.4L214.6 261.8L217.5 263.4L221 264.9L224.6 265.9Z"/>
<path fill="#a2a2ff" d="M306.5 384.9L313 385.4L320.2 385.3L327.4 384.5L334.5 383L341.7 380.7L347.7 378.2L354.9 374.4L360.8 370.3L366.8 365.2L371.6 360.2L375.7 355L379.5 349L382.5 343.1L384.8 337.1L386.5 331.1L387.8 323.9L388.2 316.8L387.9 309.6L386.7 302.4L385 296.5L382.8 290.5L379.1 283.3L376.1 278.5L371.4 272.5L366.9 267.8L361.6 263L355.1 258.2L349.3 254.6L342 251L335.7 248.6L328.6 246.7L321.4 245.6L314.2 245.2L308.3 245.6L301.1 246.9L295.1 248.6L289.1 251L282.2 254.6L276.7 258.2L270.5 263L265.4 267.8L261 272.5L256.5 278.5L252.7 284.5L249.2 291.7L247 297.6L245.4 303.6L244.2 310.8L243.9 318L244.2 323.9L245.3 331.1L246.8 337.1L249.1 343.1L252 349L255.7 355L259.3 359.7L264.1 364.8L268.8 369.1L274.8 373.5L280.8 377L286.8 379.8L292.7 381.9L299.9 383.8Z"/>
<path fill="#ffa0a0" d="M224.9 265.4L229.4 266.1L235.4 266.3L240.2 265.8L246.1 264.6L250.9 263.2L256.9 261.1L279.6 251.5L289.1 247.9L294.5 246.2L299.9 244.9L304.7 244.1L310.7 243.4L315.4 243.2L321.4 243.3L332.2 244.6L342.9 246.9L365.6 252.7L376.4 254.5L382.3 254.9L387.1 254.8L391.9 254.1L395.5 253.2L399.1 251.9L402.6 250L405 248.5L407.7 246.2L410.1 243.9L412 241.5L413.5 239.1L415.3 235.5L416.7 231.9L417.6 228.3L418.1 224.7L418.4 221.1L417.9 214L416.3 206.8L413.4 199.6L411.6 196L409.3 192.5L406.7 188.9L403.6 185.3L397.4 179.3L390.7 174.4L382.3 169.6L377.6 167.4L372.8 165.6L363.2 162.8L352.5 160.7L341.7 159.6L328.6 159.2L314.2 159.6L296.3 160.9L280.8 162.8L267.6 165.1L255.7 168.3L246.1 171.7L236.6 176.2L228.2 181.3L221.6 186.5L215.5 192.5L212.4 196L209.8 199.6L205.6 206.8L203.9 210.4L202.2 215.2L201.2 218.8L200.2 223.5L199.8 228.3L199.8 231.9L200.2 236.7L200.9 240.3L201.9 243.9L203.4 247.4L205.3 251L207.8 254.6L209.9 257L212.6 259.4L215.1 261.2L218.2 263L221 264.2Z"/>
<path fill="#a0a0ff" d="M304.9 383.7L311.8 384.4L319 384.4L326.2 383.7L333.4 382.3L339.3 380.6L346.5 377.7L352.5 374.7L358.4 370.9L364.4 366.2L369.2 361.6L373.8 356.2L377.6 350.8L381.1 344.3L383.7 338.3L385.6 332.3L387 325.1L387.6 319.2L387.6 312L386.7 304.8L385.4 298.8L383.4 292.9L380.8 286.9L377.4 280.9L373.2 274.9L367.9 269L362.9 264.2L356.7 259.4L351.2 255.8L344.5 252.2L338.1 249.5L331 247.3L323.8 245.9L316.6 245.3L310.7 245.4L303.5 246.4L297.5 247.9L291.5 250L285.6 252.8L280.3 255.8L273.5 260.6L268 265.4L263.3 270.2L258.4 276.1L254.4 282.1L250.5 289.3L248.1 295.3L246.3 301.2L244.9 308.4L244.4 314.4L244.4 321.6L245.3 328.7L246.7 334.7L248.8 340.7L251.5 346.7L254.5 351.9L258.4 357.4L262.9 362.5L267.6 367L272.4 370.8L278.4 374.6L285.6 378.2L291.5 380.5L297.5 382.3Z"/>
<path fill="#ff9e9e" d="M227.5 265.4L231.8 265.9L236.6 265.9L241.4 265.3L247.3 264.1L252.1 262.6L258.1 260.5L280.6 251L289.1 247.9L294.4 246.2L299.9 244.9L304.7 244.1L310.7 243.4L315.4 243.2L321.4 243.3L332.2 244.6L341.7 246.6L364.4 252.3L375.2 254.2L381.1 254.6L385.9 254.5L390.7 253.9L395.5 252.7L399.1 251.2L401.7 249.8L406.6 246.2L409 243.9L410.9 241.5L412.5 239.1L414.4 235.5L415.7 231.9L416.6 228.3L417.2 224.7L417.4 221.1L417.3 217.6L416.9 214L415.3 206.8L412.4 199.6L410.5 196L408.3 192.5L405.6 188.9L402.5 185.3L396.1 179.3L391.9 176.1L388.3 173.7L379.9 169.2L371.6 165.9L362 163.1L351.3 161.1L340.5 160.1L327.4 159.7L313 160.1L297.5 161.2L280.8 163.2L267.6 165.7L255.7 168.9L246.1 172.3L236.6 176.9L228.2 182.2L221.4 187.7L215.5 193.7L212.5 197.2L210 200.8L206 208L203.9 212.8L202.8 216.4L201.6 221.1L201 224.7L200.7 229.5L200.8 233.1L201.4 237.9L202.2 241.5L203.4 245.1L205 248.6L207.1 252.2L208.9 254.6L211.1 257L213.9 259.4L216.3 261.1L219.8 263L223.4 264.4Z"/>
<path fill="#9e9eff" d="M303.3 382.5L309.5 383.3L316.6 383.5L323.8 383L331 381.9L338.1 380L345.3 377.2L351.3 374.3L357.2 370.6L363.2 366.1L368 361.6L372.8 356.2L377 350.2L380.3 344.3L383 338.3L385.2 331.1L386.4 325.1L387.1 319.2L387.1 312L386.5 306L385 298.8L383.1 292.9L380.5 286.9L377.1 280.9L372.9 274.9L367.7 269L362.7 264.2L356.6 259.4L351.1 255.8L344.4 252.2L338.1 249.6L331.4 247.4L325 246.1L317.8 245.3L311.8 245.4L305.9 246L299.9 247.2L292.7 249.6L286.8 252.2L280.4 255.8L275.2 259.4L269.4 264.2L264.5 269L259.4 274.9L255.3 280.9L251.9 286.9L249.3 292.9L246.9 300L245.6 306L244.8 313.2L244.8 319.2L245.5 326.3L246.7 332.3L248.5 338.3L251 344.3L254.3 350.2L258.1 355.7L262.9 361.3L267.6 365.9L272.4 369.7L278.4 373.6L284.4 376.7L290.3 379.2L296.3 381Z"/>
<path fill="#ff9c9c" d="M231.1 265.4L235.4 265.5L239 265.3L243.7 264.6L248.5 263.5L253.3 262.1L259.3 259.9L280.4 251L289.1 247.8L294.3 246.2L299.9 244.9L304.7 244L310.7 243.4L315.4 243.2L321.4 243.3L332.2 244.6L341.7 246.5L364.4 252.2L375.2 254L381.1 254.3L385.9 254.1L390.7 253.5L394.3 252.5L397.9 251.2L400.5 249.8L402.6 248.5L405.6 246.2L408 243.9L409.9 241.5L411.5 239.1L413.4 235.5L414.8 231.9L415.7 228.3L416.2 224.7L416.5 221.1L416.4 217.6L416 214L414.3 206.8L411.4 199.6L409.5 196L407.2 192.5L404.5 188.9L401.4 185.3L394.9 179.3L390.7 176.2L387.1 173.8L379.5 169.8L370.4 166.1L360.8 163.4L350.1 161.5L338.1 160.4L325 160.1L310.7 160.6L293.9 162L279.6 163.9L266.4 166.4L255.7 169.4L246.1 173L236.6 177.7L228.4 182.9L221.2 188.9L215.5 194.9L212.7 198.4L210.2 202L206.4 209.2L204.9 212.8L203.4 217.6L202.5 221.1L201.8 225.9L201.7 230.7L201.8 234.3L202.6 239.1L203.5 242.7L204.8 246.2L206.6 249.8L209 253.4L211.1 255.8L213.6 258.2L216.8 260.6L219.8 262.3L223.4 263.8L227 264.8Z"/>
<path fill="#9c9cff" d="M312.7 382.5L319 382.5L326.2 381.8L333.4 380.3L340.5 378.2L347.7 375.1L353.7 371.9L359.6 367.8L364.4 363.9L369.2 359.1L373.6 353.8L377.6 347.9L380.7 341.9L383.1 335.9L384.9 329.9L386.2 322.7L386.7 316.8L386.5 309.6L385.7 303.6L383.9 296.5L381.8 290.5L379.6 285.7L376.1 279.7L371.7 273.7L367.5 269L362.5 264.2L356.5 259.4L351 255.8L344.3 252.2L338.1 249.6L331 247.4L323.8 245.9L316.6 245.3L309.5 245.6L303.5 246.4L296.3 248.3L290.3 250.6L284.6 253.4L278.7 257L272.2 261.8L267 266.6L262.5 271.4L257.8 277.3L254 283.3L251 289.3L248.6 295.3L246.9 301.2L245.6 308.4L245.2 314.4L245.4 321.6L246.2 327.5L247.6 333.5L249.6 339.5L252.4 345.5L255.7 351.1L259.4 356.2L264.1 361.5L268.8 365.9L274.8 370.4L280.8 373.9L286.8 376.8L293.9 379.4L299.9 380.9L305.9 382Z"/>
<path fill="#ff9a9a" d="M226.9 264.2L231.8 265L236.6 265.1L241.4 264.7L247.3 263.6L252.1 262.3L258.1 260.2L280.3 251L290.2 247.4L296.3 245.7L301.1 244.6L310.7 243.3L320.2 243.2L331 244.3L341.7 246.5L363.2 251.8L374 253.6L379.9 254L384.7 253.9L388.7 253.4L393.1 252.4L396.7 251.1L399.3 249.8L401.5 248.5L404.5 246.2L407 243.9L409 241.5L410.6 239.1L412.5 235.5L414.5 229.5L415.2 225.9L415.5 222.3L415.5 218.8L415.2 215.2L413.7 208L411 200.8L409.2 197.2L407 193.7L404.4 190.1L401.4 186.5L395.2 180.5L388.3 175.4L379.9 170.7L371.6 167.2L362 164.3L351.3 162.2L340.5 161L328.6 160.6L314.2 160.9L297.5 162.1L282 164L268.8 166.4L258.1 169.2L248.5 172.6L239 177.1L230.6 182.2L223.5 187.7L217.5 193.7L214.5 197.2L212 200.8L207.9 208L205 215.2L203.7 220L203 223.5L202.6 228.3L202.6 231.9L202.9 235.5L203.5 239.1L204.4 242.7L205.8 246.2L207.6 249.8L210.1 253.4L212.2 255.8L214.8 258.2L217.5 260.2L220.3 261.8L223.4 263.1Z"/>
<path fill="#9a9aff" d="M308.4 381.3L315.4 381.6L322.6 381.3L328.6 380.5L335.7 378.8L342.9 376.3L348.9 373.6L354.9 370.1L360.8 365.8L365.6 361.7L370.4 356.6L374.4 351.4L378.1 345.5L381 339.5L383.3 333.5L385.1 326.3L385.9 320.4L386.2 314.4L385.8 307.2L384.5 300L382.8 294.1L380.4 288.1L377.3 282.1L373.4 276.1L369.5 271.4L365 266.6L359.5 261.8L352.8 257L346.6 253.4L340.5 250.6L333.4 248.1L327.4 246.6L320.2 245.5L313 245.4L307.1 245.9L301.1 247L295.1 248.8L289.4 251L282.5 254.6L277 258.2L270.9 263L265.9 267.8L260.7 273.7L256.4 279.7L253 285.7L250.2 291.7L248.2 297.6L246.7 303.6L245.7 310.8L245.6 318L246.1 323.9L247.2 329.9L248.9 335.9L251.3 341.9L254.4 347.8L258.1 353.4L261.7 357.8L266.4 362.7L271.2 366.8L276 370.2L282 373.6L287.9 376.3L295.1 378.8L302.3 380.5Z"/>
<path fill="#ff9898" d="M229.2 264.2L233 264.7L237.8 264.7L242.5 264.3L248.5 263.1L253.3 261.7L259.3 259.6L280.2 251L290.1 247.4L296.3 245.7L301.1 244.6L310.7 243.3L320.2 243.2L331 244.3L341 246.2L363.2 251.7L374 253.4L378.8 253.7L383.5 253.7L388.3 253.1L392 252.2L395.5 251L398.1 249.8L400.3 248.6L403.4 246.2L406 243.9L408 241.5L409.6 239.1L411.6 235.5L413.6 229.5L414.3 225.9L414.6 222.3L414.6 218.8L414.3 215.2L412.8 208L410.1 200.8L408.2 197.2L406 193.7L403.4 190.1L400.3 186.5L394.3 180.7L387.5 175.7L379.9 171.4L371.6 167.8L362 164.9L352.5 162.9L341.7 161.6L329.8 161L315.4 161.3L299.9 162.3L283.2 164.2L270 166.6L259.3 169.4L249.7 172.7L240.2 177.1L231.8 182.1L224.6 187.7L218.5 193.7L215.5 197.2L212.9 200.8L208.8 208L205.9 215.2L204.8 218.8L203.9 223.5L203.5 228.3L203.5 231.9L203.9 236.7L204.7 240.3L205.8 243.9L207.3 247.4L209.4 251L211.1 253.4L213.2 255.8L216.3 258.5L219.4 260.6L222.2 262L225.8 263.3Z"/>
<path fill="#9898ff" d="M305.7 380.1L311.8 380.7L319 380.7L326.2 379.9L333.4 378.5L340.5 376.3L346.5 373.8L352.5 370.6L358.4 366.6L363.9 362.2L368.7 357.4L372.8 352.4L376.6 346.7L379.8 340.7L382.2 334.7L384 328.7L385.3 321.6L385.7 315.6L385.5 308.4L384.4 301.2L382.9 295.3L380.6 289.3L377.7 283.3L374.8 278.5L370.3 272.5L366 267.8L360.8 263L354.5 258.2L348.7 254.6L341.7 251.2L335.7 248.8L328.6 246.8L322.6 245.8L315.4 245.3L309.5 245.6L303.5 246.5L297.5 248L291.5 250.1L284.7 253.4L278.8 257L273.9 260.6L268.4 265.4L263.8 270.2L259 276.1L255.1 282.1L252 288.1L249.6 294.1L247.8 300L246.5 307.2L246 314.4L246.2 320.4L247 326.3L248.4 332.3L250.4 338.3L253.2 344.3L256.7 350.2L260.5 355.3L265.2 360.5L270 364.8L274.8 368.4L280.8 372L286.8 374.9L292.7 377.2L298.7 378.8Z"/>
<path fill="#ff9696" d="M232.3 264.2L236.6 264.4L240.2 264.3L244.9 263.6L249.7 262.6L259.3 259.5L280.1 251L290 247.4L295.1 246L301.1 244.6L310.7 243.3L320.2 243.2L331 244.3L341.2 246.2L363.2 251.5L372.8 253.1L378.8 253.5L383.5 253.3L388.3 252.7L391.9 251.8L395.5 250.5L397.9 249.3L402.6 246.1L405 243.9L407.1 241.5L408.7 239.1L410.7 235.5L412.8 229.5L413.4 225.9L413.8 222.3L413.8 218.8L413.5 215.2L412.9 211.6L411.6 206.8L410.2 203.2L408.6 199.6L406.6 196L404.2 192.5L399.3 186.5L392.9 180.5L385.9 175.5L377.6 171L369.2 167.6L359.6 164.9L350.1 163L338.1 161.8L326.2 161.5L311.8 161.8L296.3 163L282 164.9L270 167.1L258.1 170.3L248.5 173.8L239.5 178.1L231.8 182.9L228.2 185.6L224.3 188.9L218.4 194.9L215.5 198.4L213 202L210.9 205.6L208.6 210.4L206 217.6L205 222.3L204.5 225.9L204.3 230.7L204.5 234.3L205 237.9L205.9 241.5L207.1 245.1L208.9 248.6L211.2 252.2L213.2 254.6L215.6 257L218.8 259.4L221 260.8L224.6 262.4L228.2 263.5Z"/>
<path fill="#9696ff" d="M303.5 378.9L310.7 379.7L317.8 379.8L323.8 379.4L331 378.2L338.1 376.2L344.1 373.9L350.1 371L356.1 367.4L362 362.8L366.8 358.3L371.6 352.8L375.1 347.8L378.5 341.9L381.1 335.9L383.1 329.9L384.4 323.9L385.2 316.8L385.2 310.8L384.5 303.6L383.2 297.6L381.3 291.7L378.7 285.7L375.3 279.7L372 274.9L367 269L362 264.2L356 259.4L350.6 255.8L344 252.2L338.4 249.8L332.2 247.8L325 246.2L317.8 245.4L311.8 245.5L305.9 246.1L299.9 247.3L293.9 249.2L287.1 252.2L280.7 255.8L275.5 259.4L269.8 264.2L265 269L261 273.7L256.8 279.7L253.4 285.7L250.7 291.7L248.7 297.6L247.1 304.8L246.5 310.8L246.4 318L247.1 323.9L248.3 329.9L250.1 335.9L252.6 341.9L255.7 347.4L259.3 352.7L263.2 357.4L267.6 361.8L272.4 365.7L278.4 369.8L284.4 373L290.3 375.5L296.3 377.4Z"/>
<path fill="#ff9494" d="M228.3 263L233 263.8L237.8 264.1L242.5 263.7L248.5 262.6L253.3 261.4L259.3 259.4L279.9 251L290.3 247.3L296.3 245.6L301.1 244.6L310.7 243.3L320.2 243.1L331 244.2L341.4 246.2L362 251.2L372.8 252.9L377.6 253.2L382.3 253.1L387.1 252.5L390.7 251.7L394.3 250.4L396.7 249.3L399.8 247.4L402.6 245.2L405.2 242.7L407 240.3L409.8 235.5L411.9 229.5L412.6 225.9L412.9 222.3L412.9 218.8L412.6 215.2L411.1 208L408.3 200.8L406.4 197.2L404.1 193.7L399.4 187.7L393.2 181.7L385.9 176.3L378.8 172.3L370.4 168.7L360.8 165.7L350.1 163.5L339.3 162.3L327.4 161.9L314.2 162.1L299.9 163.1L285.6 164.7L272.4 167L260.5 170.1L250.9 173.4L242.5 177.2L234.2 182L227 187.4L220.4 193.7L215.6 199.6L211.1 206.8L208 214L206 221.1L205.3 225.9L205.1 229.5L205.4 234.3L205.9 237.9L206.8 241.5L208 245.1L209.8 248.6L211.3 251L213.9 254.3L216.3 256.6L218.7 258.5L222.1 260.6L224.7 261.8Z"/>
<path fill="#9494ff" d="M311.2 378.9L317.8 379L325 378.4L332.2 377L338.1 375.3L344.1 373L350.1 370.1L356.1 366.4L362 361.8L366.8 357.2L371.6 351.6L375.2 346.4L378.3 340.7L380.9 334.7L382.8 328.7L384 322.7L384.8 315.6L384.6 308.4L383.9 302.4L382.5 296.5L380.5 290.5L377.8 284.5L374.3 278.5L370.9 273.7L366.8 269L361.9 264.2L355.9 259.4L350.5 255.8L343.9 252.2L336.9 249.3L330.8 247.4L323.8 246L317.8 245.4L310.7 245.6L304.7 246.3L298.7 247.7L292.7 249.7L287.1 252.2L280.8 255.8L275.6 259.4L269.9 264.2L265.1 269L261.1 273.7L256.9 279.7L253.6 285.7L251 291.7L249 297.6L247.7 303.6L246.8 310.8L246.9 318L247.5 323.9L248.8 329.9L250.7 335.9L253.3 341.9L255.9 346.7L260.1 352.6L264.1 357.3L268.8 361.9L273.6 365.7L279.6 369.6L285.6 372.6L291.5 375L298.7 377.1L304.7 378.3Z"/>
<path fill="#ff9292" d="M230.4 263L234.2 263.5L239 263.7L243.7 263.3L249.7 262.2L254.5 260.8L260.5 258.8L280.8 250.7L290.3 247.3L296.3 245.6L301.1 244.5L310.7 243.2L320.2 243.1L331 244.2L340.5 246L362 251L372.8 252.7L377.6 253L382.3 252.8L386.8 252.2L390.7 251.3L394.3 249.9L396.8 248.6L399.1 247.2L401.9 245.1L404.3 242.7L406.2 240.3L409 235.5L411.1 229.5L411.8 225.9L412.1 222.3L412.1 218.8L411.8 215.2L410.2 208L409 204.4L407.4 200.8L405.5 197.2L403.2 193.7L398.4 187.7L392.1 181.7L388.3 178.8L384.7 176.3L377.6 172.4L369.2 168.8L359.6 165.9L350.1 164L339.3 162.8L327.4 162.3L313 162.6L298.7 163.6L283.2 165.5L271.2 167.7L260.5 170.6L250.9 173.9L242.5 177.8L234.2 182.8L227 188.2L221 194L215.6 200.8L211.4 208L208.4 215.2L207.4 218.8L206.4 223.5L206 228.3L206 231.9L206.3 235.5L207 239.1L208 242.7L209.4 246.2L211.4 249.8L213.1 252.2L215.2 254.6L217.8 257L221 259.3L223.4 260.6L227 262.1Z"/>
<path fill="#9292ff" d="M306.9 377.7L313 378.2L320.2 378L327.4 377.2L334.5 375.6L340.5 373.6L346.5 371L352.5 367.8L358.4 363.7L363.2 359.7L368 354.8L371.7 350.2L375.7 344.3L378.8 338.3L381.1 332.3L382.8 326.3L384 319.2L384.4 312L384 306L383.1 300L381.5 294.1L379.2 288.1L376.3 282.1L372.5 276.1L368.7 271.4L364.3 266.6L358.9 261.8L352.3 257L346.1 253.4L339.3 250.3L333.4 248.2L327.4 246.7L321.4 245.7L314.2 245.4L308.3 245.8L302.3 246.8L296.3 248.5L290.3 250.8L284.9 253.4L279.1 257L272.7 261.8L267.5 266.6L263.2 271.4L258.6 277.3L255 283.3L252.1 289.3L250 295.3L248.4 301.2L247.5 307.2L247.1 314.4L247.5 320.4L248.4 326.3L250 332.3L252.1 338L254.6 343.1L258.1 348.8L261.9 353.8L266.4 358.7L271.2 363L276 366.5L282 370L287.9 372.8L293.9 375L301.1 376.8Z"/>
<path fill="#ff9090" d="M232.9 263L236.6 263.3L241.4 263.3L246.1 262.7L250.9 261.7L260.5 258.7L280.8 250.6L290.3 247.2L296.3 245.6L301.1 244.5L310.7 243.2L320.2 243.1L331 244.2L340.5 246L362 250.9L371.6 252.4L376.4 252.7L381.1 252.6L385.9 252L390 251L393.1 249.9L395.7 248.6L397.9 247.4L400.9 245.1L403.4 242.7L405.3 240.3L408.1 235.5L409.1 233.1L410.3 229.5L411 225.9L411.3 222.3L411.3 218.8L411 215.2L410.3 211.6L409.4 208L408.1 204.4L406.5 200.8L404.6 197.2L402.3 193.7L397.4 187.7L391.1 181.7L384.5 176.9L376.4 172.4L368 169L359.6 166.5L348.9 164.3L338.1 163.1L326.2 162.7L313 163L297.5 164.1L284.4 165.7L272.4 167.9L260.5 171.1L250.9 174.5L242.5 178.4L234.2 183.5L227.2 188.9L221.2 194.9L218.2 198.4L215.7 202L211.6 209.2L208.9 216.4L207.7 221.1L207.1 224.7L206.8 229.5L206.9 233.1L207.3 236.7L208.1 240.3L209.3 243.9L210.9 247.4L213.1 251L215 253.4L217.4 255.8L219.8 257.8L222.4 259.4L225.8 261.1L229.4 262.3Z"/>
<path fill="#9090ff" d="M304.1 376.5L310.7 377.3L317.8 377.4L323.8 376.9L331 375.6L338.1 373.6L344.1 371.3L350.1 368.3L356.1 364.5L360.8 360.8L365.8 356.2L370.4 350.9L374.2 345.5L377.5 339.5L380.1 333.5L382 327.5L383.2 321.6L383.9 314.4L383.8 308.4L383.1 302.4L381.9 296.5L379.9 290.5L377.3 284.5L373.9 278.5L369.5 272.5L365.3 267.8L360.2 263L354 258.2L348.2 254.6L341.7 251.3L335.7 249L329.8 247.2L323.8 246.1L316.6 245.4L310.7 245.6L304.7 246.4L298.7 247.7L292.7 249.8L287.3 252.2L281 255.8L275.8 259.4L270.1 264.2L265.4 269L261.4 273.7L257.3 279.7L254 285.7L251.4 291.7L249.2 298.8L248.1 304.8L247.5 310.8L247.6 316.8L248.2 322.7L249.5 328.7L251.4 334.7L254 340.7L256.9 345.9L260.8 351.4L264.9 356.2L268.8 360L273.6 363.9L279.6 367.8L285.6 370.9L291.5 373.4L297.5 375.2Z"/>
<path fill="#ff8e8e" d="M236.8 263L243.7 262.8L247.3 262.2L252.1 261.2L261.7 258.1L280.8 250.6L290.3 247.2L296.3 245.5L301.1 244.5L310.7 243.2L320.2 243.1L331 244.1L340.5 245.9L360.8 250.6L371.6 252.2L376.4 252.5L381.1 252.3L385.9 251.7L389.5 250.8L392.1 249.8L395.5 248.2L400.3 244.8L402.5 242.7L404.4 240.3L406 237.9L407.9 234.3L409.8 228.3L410.3 224.7L410.6 221.1L410.2 215.2L409.5 211.6L408.6 208L407.3 204.4L405.7 200.8L402.2 194.9L399.6 191.3L396.7 187.9L390.7 182.3L383.5 177.1L376.4 173.1L368 169.6L358.4 166.7L347.7 164.6L336.9 163.5L325 163.1L311.8 163.4L297.5 164.5L283.2 166.3L271.2 168.6L260.5 171.5L250.9 175L242 179.3L234.2 184.2L226.8 190.1L221 196L218.2 199.6L215.7 203.2L211.9 210.4L210 215.2L209 218.8L208.2 222.3L207.7 227.1L207.6 231.9L207.9 235.5L208.6 239.1L209.7 242.7L211.2 246.2L213.2 249.8L214.9 252.2L217.5 255L219.9 257L223.4 259.3L226.1 260.6L229.5 261.8L233 262.6Z"/>
<path fill="#8e8eff" d="M311.8 376.5L317.8 376.6L325 375.9L332.2 374.6L338.1 372.8L344.1 370.4L350.1 367.4L356.1 363.6L360.8 359.9L365.6 355.4L370.1 350.2L373.5 345.5L376.9 339.5L379.5 333.5L381.4 327.5L382.9 320.4L383.4 314.4L383.3 307.2L382.6 301.2L381.2 295.3L379.2 289.3L377 284.5L373.6 278.5L369.3 272.5L365.1 267.8L360.1 263L355.5 259.4L350.1 255.8L343.5 252.2L336.9 249.4L331 247.6L323.8 246.1L317.8 245.5L310.7 245.6L304.7 246.4L298.7 247.8L292.7 249.8L287.4 252.2L281 255.8L275.9 259.4L270.2 264.2L265.5 269L260.6 274.9L257.4 279.7L254.2 285.7L251.6 291.7L249.8 297.6L248.6 303.6L247.9 309.6L248 316.8L248.7 322.7L250 328.7L251.9 334.7L254.5 340.5L257.3 345.5L260.6 350.2L265.2 355.6L270 360.2L274.8 363.9L280.8 367.7L286.8 370.7L292.7 373L298.7 374.7L304.7 375.8Z"/>
<path fill="#ff8c8c" d="M231.3 261.8L235.4 262.5L240.2 262.7L244.9 262.4L250.9 261.3L260.5 258.4L282.6 249.8L291.5 246.8L301.1 244.5L310.7 243.2L320.2 243L331 244.1L340.5 245.9L360.8 250.4L370.4 251.9L375.2 252.2L379.9 252.1L384.7 251.5L388.3 250.7L390.9 249.8L394.3 248.3L399.1 245.1L401.6 242.7L403.6 240.3L406.5 235.5L408 231.9L408.7 229.5L409.7 223.5L409.8 220L409.5 216.4L409 212.8L408.1 209.2L406.9 205.6L405.4 202L403.6 198.4L401.3 194.9L396.6 188.9L390.7 183.1L384 178.1L376.4 173.7L368 170.1L359.6 167.5L350.1 165.4L339.3 164.1L327.4 163.5L315.4 163.6L299.9 164.6L285.6 166.4L273.6 168.5L262.9 171.3L253.3 174.6L244.9 178.4L236.6 183.2L229.4 188.6L222.9 194.9L218.1 200.8L215.8 204.4L213.8 208L210.8 215.2L209.8 218.8L208.8 223.5L208.3 230.7L208.6 234.3L209.1 237.9L210.1 241.5L211.4 245.1L213.3 248.6L214.9 251L216.9 253.4L219.4 255.8L222.2 257.9L224.8 259.4L228.2 260.9Z"/>
<path fill="#8c8cff" d="M306.7 375.3L313 375.8L320.2 375.7L327.4 374.8L333.4 373.5L340.5 371.1L346.5 368.5L352.5 365.1L357.2 361.8L362 357.9L366.8 353.1L371 347.8L374.2 343.1L377.4 337.1L379.8 331.1L381.5 325.1L382.6 319.2L383.1 313.2L382.9 306L382 300L380.5 294.1L378.4 288.1L375.5 282.1L371.8 276.1L368.2 271.4L363.8 266.6L358.5 261.8L353.7 258.2L348 254.6L341.7 251.4L335.7 249.1L328.6 247L322.6 246L315.4 245.5L309.5 245.7L303.5 246.6L297.5 248.1L291.5 250.3L285.2 253.4L279.3 257L274.5 260.6L269.1 265.4L264.6 270.2L260.8 274.9L256.9 280.9L253.8 286.9L251.5 292.9L249.8 298.8L248.7 304.8L248.2 310.8L248.4 316.8L249.1 322.7L250.4 328.7L252.4 334.7L255.2 340.7L258.8 346.7L262.3 351.4L266.4 356L271.2 360.3L276 363.9L282 367.5L287.9 370.4L293.9 372.6L299.9 374.2Z"/>
<path fill="#ff8a8a" d="M233.3 261.8L237.8 262.3L242.5 262.3L247.3 261.8L252.1 260.8L261.7 257.9L282.5 249.8L291.5 246.8L301.1 244.4L310.7 243.2L320.2 243L331 244.1L340.5 245.8L360.8 250.3L370.4 251.7L375.2 252L379.9 251.9L384.7 251.2L388.3 250.3L391.9 248.9L394.7 247.4L399.6 243.9L401.8 241.5L403.7 239.1L406.3 234.3L408.2 228.3L408.8 224.7L409 221.1L408.9 217.6L408.5 214L407 208L405.7 204.4L404 200.8L400.5 194.9L395.7 188.9L389.5 182.9L382.9 178.1L375.2 173.7L366.8 170.2L358.4 167.7L348.9 165.7L338.1 164.4L326.2 163.9L313 164.1L298.7 165.1L285.6 166.7L273.6 168.9L262.9 171.7L253.3 175.1L244.9 178.9L236.6 183.9L230 188.9L223.8 194.9L219 200.8L216.6 204.4L214.6 208L211.6 215.2L210.5 218.8L209.6 223.5L209.1 230.7L209.3 234.3L209.9 237.9L210.8 241.5L212.2 245.1L214.1 248.6L215.8 251L217.8 253.4L220.4 255.8L223.4 258L226 259.4L229.4 260.8Z"/>
<path fill="#8a8aff" d="M303.7 374.1L310.7 374.9L316.6 375.1L322.6 374.7L329.8 373.5L336.9 371.6L342.9 369.3L348.9 366.4L354.9 362.7L359.6 359.1L364.4 354.7L369.2 349.2L372.8 344.2L376.2 338.3L378.8 332.4L380.7 326.3L381.9 320.4L382.6 314.4L382.6 308.4L382.1 302.4L380.9 296.5L379.1 290.5L376.5 284.5L373.2 278.5L369.9 273.7L365.9 269L361.1 264.2L355.3 259.4L349.9 255.8L343.3 252.2L337.8 249.8L331 247.6L325 246.3L319 245.6L313 245.5L307.1 246L301.1 247.2L295.1 249L289.1 251.4L283.1 254.6L277.7 258.2L271.7 263L266.8 267.8L262.7 272.5L258.5 278.5L255.1 284.5L252.5 290.5L250.6 296.5L249.3 302.4L248.7 308.4L248.6 314.4L249.1 320.4L250.3 326.3L252.1 332.3L254.6 338.3L257.9 344.3L261.2 349L265.2 353.8L270 358.4L274.8 362.2L279.6 365.4L285.6 368.5L291.5 371L297.5 372.8Z"/>
<path fill="#ff8888" d="M235.8 261.8L240.2 262.1L243.7 262L248.5 261.4L253.3 260.3L262.9 257.3L282.3 249.8L291.5 246.8L301.1 244.4L310.7 243.1L320.2 243L329.8 243.9L339.3 245.5L360.8 250.2L370.4 251.6L375.2 251.8L379.9 251.6L383.9 251L388.3 249.9L393.8 247.4L396.7 245.5L398.7 243.9L401 241.5L402.9 239.1L405.5 234.3L406.5 231.9L407.5 228.3L408.1 224.7L408.3 221.1L407.9 215.2L407.2 211.6L406.2 208L404.9 204.4L403.2 200.8L399.6 194.9L394.8 188.9L391.9 185.9L388.5 182.9L381.9 178.1L374 173.8L365.6 170.3L357.2 167.9L347.7 165.9L336.9 164.7L325 164.2L311.8 164.5L297.5 165.6L284.4 167.3L272.4 169.6L261.7 172.6L252.1 176.1L243.7 180.1L236.6 184.5L229.4 190.2L223.6 196L220.6 199.6L218.1 203.2L214.2 210.4L211.6 217.6L210.7 221.1L210 225.9L209.8 229.5L210 233.1L210.4 236.7L211.2 240.3L212.5 243.9L214.2 247.4L217.6 252.2L219.9 254.6L222.9 257L225.8 258.7L229.4 260.3L233 261.3Z"/>
<path fill="#8888ff" d="M309.8 374.1L316.6 374.3L322.6 373.9L329.8 372.8L335.7 371.2L341.7 369.1L347.7 366.3L353.7 362.7L359.1 358.6L364.3 353.8L368.5 349L372 344.3L375.5 338.3L378.2 332.3L380.2 326.3L381.5 320.4L382.2 314.4L382.2 308.4L381.7 302.4L380.6 296.5L378.8 290.5L376.8 285.7L373.7 279.7L369.7 273.7L365.7 269L361 264.2L355.1 259.4L349.8 255.8L344.1 252.7L337.7 249.8L332.2 248L326.2 246.6L319 245.6L311.8 245.6L305.9 246.2L299.9 247.5L293.9 249.4L287.6 252.2L282 255.4L276.2 259.4L271.8 263L266.9 267.8L262.9 272.5L258.7 278.5L255.9 283.3L253.2 289.3L251.2 295.3L249.8 301.2L249.1 307.2L248.9 313.2L249.4 319.2L250.4 325.1L252.1 331.1L254.6 337.1L257.8 343.1L261 347.8L265 352.6L270 357.6L274.8 361.4L279.6 364.6L285.6 367.8L291.5 370.2L297.5 372.1L303.5 373.4Z"/>
<path fill="#ff8686" d="M231.9 260.6L236.6 261.5L241.4 261.8L246.1 261.5L252.1 260.4L261.7 257.6L282.2 249.8L291.5 246.7L301.1 244.4L310.7 243.1L320.2 243L329.8 243.9L339.3 245.5L359.6 249.9L369.2 251.3L374 251.6L378.8 251.4L383.5 250.8L387.1 249.9L390.4 248.6L392.8 247.4L395.5 245.8L397.9 243.9L400.2 241.5L402.1 239.1L404.8 234.3L405.7 231.9L406.8 228.3L407.5 222.3L407.5 218.8L407.2 215.2L405.9 209.2L404.6 205.6L403.1 202L399.6 196L395.1 190.1L389 184.1L382.3 179.1L375.2 175L366.8 171.3L358.4 168.7L348.9 166.6L339.3 165.3L327.4 164.7L315.4 164.7L301.1 165.6L287.9 167.1L276 169.2L265.2 171.9L255.7 175.1L247.3 178.8L240 182.9L233 187.9L226.6 193.7L221.4 199.6L218.9 203.2L216.7 206.8L213.5 214L212 218.8L211.2 222.3L210.7 225.9L210.5 229.5L210.7 233.1L211.2 236.7L212 240.3L213.3 243.9L215 247.4L216.6 249.8L218.5 252.2L220.8 254.6L223.4 256.6L226 258.2L228.4 259.4Z"/>
<path fill="#8686ff" d="M305.4 372.9L311.8 373.5L317.8 373.6L325 372.9L331 371.8L336.9 370.1L342.9 367.8L348.9 364.8L354.9 361L359.6 357.3L364.4 352.8L368.7 347.8L372.1 343.1L375.5 337.1L378.1 331.1L380 325.1L381.2 319.2L381.8 313.2L381.7 306L381 300L379.6 294.1L378.1 289.3L375.4 283.3L372 277.3L368.6 272.5L364.5 267.8L359.5 263L355 259.4L348.9 255.3L343.1 252.2L336.9 249.6L330 247.4L323.8 246.2L317.8 245.6L311.8 245.6L305.9 246.3L299.9 247.5L293.9 249.5L287.6 252.2L281.3 255.8L276.2 259.4L271.9 263L267.1 267.8L262.1 273.7L258.8 278.5L255.5 284.5L253 290.5L251.1 296.5L249.9 302.4L249.3 308.4L249.4 315.6L250.1 321.6L251.5 327.5L253.5 333.5L255.7 338.3L259.2 344.3L262.7 349L266.4 353.3L271.2 357.8L276 361.5L282 365.2L286.8 367.6L292.7 369.9L298.7 371.7Z"/>
<path fill="#ff8484" d="M233.6 260.6L237.8 261.3L242.5 261.5L247.3 261.1L252.1 260.2L256.9 259L262.9 257.1L282.1 249.8L291.5 246.7L301.1 244.4L310.7 243.1L320.2 243L329.8 243.8L339.3 245.5L359.6 249.8L369.2 251.1L374 251.3L378.8 251.2L382.3 250.7L385.9 249.8L389.3 248.6L391.8 247.4L394.3 246L397 243.9L399.4 241.5L401.3 239.1L404.1 234.3L405.4 230.7L406 228.3L406.8 222.3L406.6 216.4L406 212.8L405.1 209.2L403.9 205.6L402.3 202L398.9 196L394.2 190.1L388.1 184.1L381.1 179L374 174.9L365.6 171.4L357.2 168.8L347.7 166.8L336.9 165.5L325 165L313 165.2L298.7 166.2L285.6 167.9L273.6 170.1L264.1 172.7L254.5 176.1L246.1 180L239 184.2L231.8 189.6L225.8 195.3L223.1 198.4L220.4 202L216.8 208L213.8 215.2L211.9 222.3L211.3 229.5L211.4 233.1L211.9 236.7L212.7 240.3L214 243.9L215.8 247.4L217.4 249.8L219.3 252.2L221.7 254.6L224.6 256.8L227.1 258.2L230.6 259.7Z"/>
<path fill="#8484ff" d="M302.5 371.8L308.3 372.6L315.4 372.9L322.6 372.5L328.6 371.6L335.7 369.7L341.7 367.5L347.7 364.7L352.5 361.9L357.2 358.4L362.5 353.8L366.8 349.2L370.6 344.3L374.3 338.3L377.1 332.3L379.2 326.3L380.6 320.4L381.4 313.2L381.4 307.2L380.9 301.2L379.7 295.3L378.2 290.5L375.8 284.5L372.6 278.5L369.3 273.7L365.4 269L360.7 264.2L354.9 259.4L349.6 255.8L344.1 252.8L338.1 250.1L332.2 248.1L326.2 246.6L319 245.7L313 245.6L307.1 246.1L301.1 247.2L295.1 249L289.1 251.5L283.4 254.6L277.9 258.2L273.4 261.8L268.3 266.6L263.1 272.5L259.7 277.3L256.3 283.3L254.1 288.1L252 294.1L250.6 300L249.8 306L249.6 312L250 318L251 323.9L252.7 329.9L254.6 334.7L257.6 340.7L260.7 345.5L264.4 350.2L268.8 354.8L273.6 358.9L278.4 362.3L284.4 365.7L290.3 368.3L296.3 370.3Z"/>
<path fill="#ff8282" d="M235.4 260.6L239 261.1L243.7 261.2L248.5 260.7L253.3 259.8L262.9 257L283.2 249.4L291.5 246.7L301.1 244.3L310.7 243.1L320.2 242.9L329.8 243.8L339.3 245.4L359.6 249.7L369.2 251L374 251.1L377.6 251L382.3 250.4L385.9 249.5L390.9 247.4L393.1 246.2L396.2 243.9L398.7 241.5L400.6 239.1L403.4 234.3L404.3 231.9L405.3 228.3L406.1 222.3L405.9 216.4L405.3 212.8L404.4 209.2L403.2 205.6L401.6 202L398.1 196L393.4 190.1L390.7 187.3L387.1 184.1L381.1 179.7L374 175.5L365.6 171.9L357.2 169.3L347.7 167.2L336.9 165.9L326.2 165.4L314.2 165.5L301.1 166.3L287.9 167.9L276 170L265.2 172.7L255.7 176.1L247.3 179.9L240 184.1L233 189.3L227 194.9L222 200.8L219.6 204.4L217.6 208L214.5 215.2L213.4 218.8L212.4 223.5L212 227.1L212 230.7L212.2 234.3L212.8 237.9L213.8 241.5L215.3 245.1L217.3 248.6L219.1 251L221.3 253.4L223.4 255.3L226 257L229.4 258.8L231.8 259.7Z"/>
<path fill="#8282ff" d="M307.1 371.8L313 372.2L320.2 372L327.4 371.1L333.4 369.7L339.3 367.8L345.3 365.2L351.3 361.8L356.1 358.5L360.8 354.6L365.6 349.7L369.9 344.3L373 339.5L376 333.5L378.3 327.5L379.9 321.6L380.8 315.6L381.1 309.6L380.8 303.6L379.9 297.6L378.3 291.7L376.1 285.7L373.7 280.9L370 274.9L366.3 270.2L361.8 265.4L356.3 260.6L351.3 257L345.3 253.4L339.3 250.6L333.4 248.4L327.4 246.9L321.4 245.9L315.4 245.6L309.5 245.8L303.5 246.7L297.5 248.3L291.5 250.5L285.5 253.4L279.7 257L274.9 260.6L270.8 264.2L266.2 269L262.3 273.7L258.4 279.7L255.3 285.7L253 291.7L251.3 297.6L250.3 303.6L249.9 309.6L250.1 315.6L250.9 321.6L252.4 327.5L254.5 333.4L256.9 338.4L260.5 344.3L264.1 349L267.6 352.9L272.4 357.2L277.2 360.8L283.2 364.3L289.1 367.1L295.1 369.3L301.1 370.8Z"/>
<path fill="#ff8080" d="M237.6 260.6L241.4 260.9L246.1 260.8L249.7 260.3L254.5 259.4L264.1 256.5L283.2 249.4L291.5 246.6L301.1 244.3L310.7 243.1L320.2 242.9L329.8 243.8L339.3 245.4L358.4 249.4L368 250.7L372.8 250.9L377.6 250.8L382.3 250.1L385.9 249.1L390.7 247.1L393.1 245.6L395.5 243.8L397.9 241.5L399.9 239.1L402.7 234.3L403.6 231.9L404.7 228.3L405.4 222.3L405.2 216.4L404.6 212.8L403.7 209.2L402.4 205.6L400.8 202L397.3 196L392.6 190.1L389.5 187L386.3 184.1L379.9 179.5L372.8 175.5L364.4 172L356.1 169.4L347.7 167.6L336.9 166.3L325 165.7L313 165.9L299.9 166.8L286.8 168.4L274.8 170.7L264.1 173.5L254.5 177L246.1 181L239 185.4L231.8 191L225.6 197.2L221.1 203.2L218.9 206.8L217.1 210.4L214.4 217.6L213.3 222.3L212.8 225.9L212.6 229.5L212.8 233.1L213.3 236.7L214.2 240.3L215.5 243.9L216.6 246.2L219.9 251L222.2 253.4L225.1 255.8L228.2 257.7L230.6 258.8L234.2 259.9Z"/>
<path fill="#8080ff" d="M303.5 370.6L309.5 371.3L316.6 371.5L322.6 371.1L328.6 370.2L334.5 368.7L340.5 366.6L346.5 363.8L352.5 360.3L357.2 356.8L362 352.6L366.4 347.8L370.4 342.6L373.7 337.1L376.5 331.1L378.5 325.1L379.9 319.2L380.6 313.2L380.7 307.2L380.2 301.2L379.1 295.3L377.3 289.3L375.3 284.5L372.1 278.5L368.9 273.7L365.1 269L360.4 264.2L354.6 259.4L349.4 255.8L342.8 252.2L337.3 249.8L331 247.8L325 246.5L319 245.7L313 245.6L307.1 246.1L301.1 247.3L295.1 249.1L289.1 251.6L283.5 254.6L278.1 258.2L273.6 261.8L268.5 266.6L264.3 271.4L260 277.3L256.6 283.3L254 289.3L252.5 294.1L251.1 300L250.3 306L250.2 312L250.7 318L251.8 323.9L253.6 329.9L255.7 334.9L258.8 340.7L262 345.5L265.9 350.2L270 354.4L274.8 358.3L279.6 361.6L285.6 364.8L291.5 367.4L297.5 369.3Z"/>
<path fill="#ff7e7e" d="M241.1 260.6L244.9 260.6L248.5 260.3L255.7 258.9L264.1 256.4L283.2 249.3L291.5 246.6L301.1 244.3L309.5 243.1L319 242.8L328.6 243.6L337.9 245.1L358.4 249.2L368 250.5L372.8 250.7L376.4 250.6L381.1 250L384.7 249.1L389.5 247.2L391.9 245.8L394.6 243.9L397.2 241.5L399.2 239.1L402 234.3L402.9 231.9L404 228.3L404.8 222.3L404.5 216.4L403.9 212.8L403 209.2L401.7 205.6L400.1 202L396.6 196L391.8 190.1L385.9 184.5L378.8 179.4L371.6 175.5L363.2 172L354.9 169.6L345.3 167.7L334.5 166.5L322.6 166L310.7 166.3L298.7 167.2L285.6 168.9L273.6 171.3L264.1 174L254.5 177.5L246.1 181.6L238.3 186.5L231.8 191.7L225.8 197.9L221 204.4L219 208L217.2 211.6L214.7 218.8L213.8 223.5L213.4 227.1L213.3 230.7L213.6 234.3L214.2 237.9L215.2 241.5L216.7 245.1L218.1 247.4L219.7 249.8L222.2 252.7L224.6 254.8L228 257L230.6 258.3L234.2 259.5L237.8 260.3Z"/>
<path fill="#7e7eff" d="M308.6 370.6L315.4 370.9L321.4 370.5L327.4 369.7L333.4 368.3L339.3 366.3L345.3 363.7L351.3 360.3L356.1 357L360.8 352.9L365.6 347.9L369.2 343.3L372.4 338.3L375.4 332.3L377.7 326.3L379.2 320.4L380.1 314.4L380.4 308.4L380 302.4L379.1 296.5L377.4 290.5L375.1 284.5L371.9 278.5L368.8 273.7L364.9 269L360.2 264.2L356.1 260.6L351.1 257L345.1 253.4L339.3 250.7L333.4 248.5L327.4 246.9L320.2 245.9L314.2 245.6L308.3 246L302.3 247L296.3 248.7L290.4 251L284.4 254.2L278.2 258.2L273.7 261.8L268.6 266.6L264.4 271.4L261 276.1L257.4 282.1L255.2 286.9L253 292.9L251.6 298.8L250.7 304.8L250.5 310.8L250.9 316.8L252 322.7L253.7 328.7L256.1 334.7L258.6 339.5L261.7 344.2L265.2 348.7L269 352.6L273.6 356.6L278.4 360.1L284.4 363.5L290.3 366.2L296.3 368.3L302.3 369.7Z"/>
<path fill="#ff7c7c" d="M235.3 259.4L239 260.1L243.7 260.4L248.5 260.1L254.5 259L264.1 256.3L283.2 249.3L291.5 246.6L301.1 244.3L310.7 243L320.2 242.9L329.8 243.7L339.3 245.3L357.2 248.9L366.8 250.3L371.6 250.5L376.4 250.4L379.9 249.9L383.5 249.1L387.1 247.9L389.5 246.7L393.9 243.9L396.4 241.5L398.4 239.1L401.3 234.3L402.3 231.9L403.3 228.3L404.1 222.3L403.9 216.4L403.3 212.8L402.3 209.2L401.1 205.6L399.4 202L395.8 196L391 190.1L385.9 185.3L379.5 180.5L372.8 176.6L364.4 172.9L356.1 170.3L346.5 168.2L336.9 167L326.2 166.4L314.2 166.5L299.9 167.5L287.9 168.9L276 171.1L266.4 173.6L258.1 176.5L249.7 180.2L242.5 184.2L235.4 189.3L229.3 194.9L224.2 200.8L220.3 206.8L218.4 210.4L216.9 214L214.8 221.1L214.2 224.7L214 228.3L214 231.9L214.4 235.5L215.2 239.1L216.4 242.7L218.1 246.2L219.6 248.6L221.4 251L223.8 253.4L225.8 255L229 257L231.8 258.3Z"/>
<path fill="#7c7cff" d="M304.3 369.4L310.7 370.1L316.6 370.2L322.6 369.8L329.8 368.6L335.7 366.9L341.7 364.7L347.7 361.7L352.5 358.8L357.2 355.2L362 350.9L366.8 345.6L370.3 340.7L373.2 335.9L375.9 329.9L377.9 323.9L379.2 318L379.9 312L380 306L379.4 300L378.2 294.1L376.8 289.3L374.3 283.3L371 277.3L367.7 272.5L363.7 267.8L358.8 263L354.4 259.4L349.1 255.8L342.6 252.2L337.1 249.8L331 247.8L325 246.5L319 245.8L313 245.7L307.1 246.2L301.1 247.3L295.1 249.2L289.1 251.7L283.6 254.6L278.3 258.2L273.7 261.8L268.7 266.6L264.6 271.4L260.3 277.3L257.6 282.1L254.9 288.1L252.9 294.1L251.6 300L250.9 306L250.9 312L251.4 318L252.6 323.9L254.5 329.8L256.6 334.7L259.3 339.6L262.9 344.9L266.4 349.2L271.2 353.9L276 357.7L280.8 360.9L286.8 364L292.7 366.4L298.7 368.2Z"/>
<path fill="#ff7a7a" d="M236.9 259.4L241.4 260L244.9 260.1L249.7 259.7L254.5 258.9L264.1 256.2L283.2 249.2L292.6 246.2L301.1 244.2L310.7 243L319 242.8L328.6 243.5L338.3 245.1L357.2 248.8L366.8 250.1L371.6 250.3L376.4 250.1L379.9 249.6L383.5 248.8L387.1 247.4L389.5 246.2L391.9 244.7L394.3 242.8L397.8 239.1L400.6 234.3L401.6 231.9L402.7 228.3L403.5 222.3L403.2 216.4L402.6 212.8L401.7 209.2L400.4 205.6L398.7 202L395.1 196L390.2 190.1L385.1 185.3L378.8 180.6L371.6 176.5L363.2 173L354.9 170.4L345.3 168.4L335.7 167.3L325 166.7L313 166.9L299.9 167.8L287.9 169.3L276 171.5L266.4 174L256.9 177.4L249.7 180.7L242.5 184.8L235.3 190.1L228.9 196L224 202L220.3 208L217.1 215.2L215.2 222.3L214.7 227.1L214.6 230.7L214.9 234.3L215.5 237.9L216.6 241.5L217.6 243.9L219.5 247.4L221.2 249.8L223.4 252.2L225.8 254.4L227.9 255.8L230.6 257.3L234.2 258.7Z"/>
<path fill="#7a7aff" d="M309.8 369.4L316.6 369.5L322.6 369.1L328.6 368.2L334.5 366.6L340.5 364.5L346.5 361.7L352.5 358.1L357.2 354.5L362 350.1L366.2 345.5L369.7 340.7L372.8 335.5L375.4 329.9L377.5 323.9L378.8 318L379.5 312L379.6 306L379.1 300L377.9 294.1L376.1 288.1L373.5 282.1L370.8 277.3L367.5 272.5L363.5 267.8L358.7 263L354.3 259.4L349 255.8L342.5 252.2L337 249.8L331 247.9L325 246.5L319 245.8L313 245.7L307.1 246.2L301.1 247.4L295.1 249.2L289.1 251.7L283.7 254.6L278.3 258.2L273.8 261.8L268.8 266.6L264.7 271.4L261.2 276.1L257.8 282.1L255.1 288.1L253.5 292.9L252 298.8L251.3 304.8L251.1 310.8L251.6 316.8L252.7 322.7L254.1 327.5L256.5 333.5L259.3 338.7L262.9 344.1L266.4 348.4L270 352.1L274.8 356.1L279.6 359.5L285.6 362.8L291.5 365.4L297.5 367.3L303.5 368.6Z"/>
<path fill="#ff7878" d="M238.8 259.4L242.5 259.8L246.1 259.8L250.9 259.3L255.7 258.4L264.1 256.1L283.2 249.2L292.4 246.2L301.1 244.2L310.7 243L319 242.8L328.6 243.5L336.9 244.8L357.2 248.7L366.8 250L371.6 250.1L376.4 249.9L379.9 249.3L383.5 248.4L388.7 246.2L390.7 245L393.8 242.7L396.1 240.3L397.9 237.9L400.5 233.1L401.4 230.7L402.3 227.1L402.9 221.1L402.4 215.2L401 209.2L399.7 205.6L398 202L394.4 196L389.5 190.2L384.3 185.3L377.7 180.5L370.4 176.5L363.2 173.4L354.9 170.8L345.3 168.8L335.7 167.6L325 167.1L313 167.2L299.9 168.1L287.9 169.6L277.2 171.6L266.4 174.4L256.9 177.8L248.7 181.7L241.4 186.1L234.6 191.3L228.5 197.2L223.9 203.2L220.3 209.2L217.4 216.4L216.1 221.1L215.5 224.7L215.2 228.3L215.3 231.9L215.7 235.5L216.5 239.1L217.7 242.7L218.8 245.1L220.2 247.4L222.2 250.2L224.1 252.2L227 254.6L229.4 256.2L233 257.9L235.4 258.6Z"/>
<path fill="#7878ff" d="M304.8 368.2L311.8 368.9L317.8 368.9L323.8 368.3L329.8 367.3L335.7 365.6L341.7 363.3L347.7 360.3L352.5 357.3L357.2 353.7L362 349.3L366.5 344.3L369.9 339.5L372.8 334.5L375.4 328.7L377.3 322.7L378.6 316.8L379.3 310.8L379.3 304.8L378.6 298.8L377.4 292.9L375.8 288.1L373.3 282.1L369.9 276.1L366.4 271.4L362.2 266.6L357.1 261.8L352.5 258.2L346.9 254.6L341.7 251.9L335.7 249.4L329.8 247.6L323.8 246.4L317.8 245.8L311.8 245.8L305.9 246.4L299.9 247.7L293.9 249.7L289.1 251.7L283.8 254.6L278.4 258.2L273.9 261.8L268.9 266.6L264.8 271.4L260.6 277.3L257.3 283.3L255.3 288.1L253.3 294.1L252.1 300L251.5 306L251.5 312L252 316.8L253.1 322.7L255 328.7L257 333.5L260.3 339.5L263.6 344.3L267.6 349L272.4 353.5L277.2 357.2L282 360.2L286.8 362.7L292.7 365.1L298.7 366.9Z"/>
<path fill="#ff7676" d="M241.2 259.4L244.9 259.6L248.5 259.4L252.1 259L256.9 258L265.2 255.6L283.2 249.2L292.3 246.2L301.1 244.2L310.7 242.9L319 242.7L328.6 243.5L336.9 244.7L357.2 248.6L365.6 249.7L370.4 250L374.4 249.8L378.8 249.3L382.3 248.5L387.8 246.2L390.7 244.5L393 242.7L396.4 239.1L399.3 234.3L400.8 230.7L401.4 228.3L402.2 222.3L402 216.4L401.3 212.8L400.4 209.2L399.1 205.6L397.4 202L393.7 196L388.7 190.1L383.5 185.3L377.6 181L370.4 177L363.2 173.9L354.9 171.2L345.3 169.2L335.7 168L325 167.4L313 167.5L301.1 168.3L287.9 169.9L277.2 171.9L266.4 174.8L258.1 177.8L249.6 181.7L242.5 185.8L235.4 191.3L229.2 197.2L224.5 203.2L222.3 206.8L220.4 210.4L218.8 214L217.6 217.6L216.7 221.1L216 225.9L215.8 229.5L216 233.1L216.6 236.7L217.5 240.3L218.9 243.9L220.2 246.2L222.2 249.3L224.6 252L227 254L229.4 255.6L232 257L235.2 258.2Z"/>
<path fill="#7676ff" d="M310.6 368.2L316.6 368.3L323.8 367.7L329.8 366.6L335.7 365L341.7 362.7L346.5 360.3L352.5 356.6L357.2 353L362 348.5L365.8 344.3L369.3 339.5L372.7 333.5L374.9 328.7L376.9 322.7L378.2 316.8L378.9 310.8L378.9 304.8L378.3 298.8L377.1 292.9L375.6 288.1L373 282.1L370.4 277.3L367.2 272.5L363.2 267.8L358.4 263L354 259.4L348.8 255.8L342.3 252.2L336.8 249.8L331 247.9L325 246.6L319 245.8L313 245.7L307.1 246.3L301.1 247.4L295.1 249.2L289.1 251.8L283.9 254.6L278.5 258.2L274 261.8L270.2 265.4L265.9 270.2L262.3 274.9L258.7 280.9L255.9 286.9L253.9 292.9L252.5 298.8L251.8 304.8L251.7 310.8L252.3 316.8L253.5 322.7L255 327.5L257.5 333.5L260.1 338.3L263.3 343.1L267.6 348.2L271.2 351.7L276 355.6L280.8 358.8L286.8 362.1L292.7 364.5L298.7 366.3L304.7 367.5Z"/>
<path fill="#ff7474" d="M236.5 258.2L240.2 259L244.9 259.3L249.7 259.1L255.7 258.1L265.2 255.5L284.5 248.6L292.2 246.2L301.1 244.2L310.7 242.9L319 242.7L328.6 243.4L336.9 244.7L357.2 248.6L365.6 249.6L370.4 249.8L375.2 249.5L378.8 249L382.3 248.1L387.1 246.2L389.5 244.8L392.3 242.7L395.7 239.1L397.4 236.7L398.7 234.3L399.7 231.9L400.8 228.3L401.6 222.3L401.4 216.4L400.1 210.4L398.9 206.8L397.3 203.2L393.8 197.2L389.1 191.3L384.1 186.5L377.6 181.6L370.4 177.5L363.2 174.4L354.9 171.7L345.3 169.6L335.7 168.3L325 167.7L314.2 167.8L301.1 168.6L289.1 170.1L278.4 172L268.8 174.4L260.5 177.2L252.1 180.9L244.2 185.3L237.5 190.1L232.2 194.9L226.9 200.8L222.9 206.8L221 210.4L219.5 214L218.2 217.6L217.3 221.1L216.7 224.7L216.5 228.3L216.5 231.9L216.9 235.5L218.5 241.5L220.2 245.1L221.6 247.4L223.4 249.8L225.7 252.2L228.2 254.3L230.6 255.8L233.1 257Z"/>
<path fill="#7474ff" d="M305.1 367L311.8 367.6L317.8 367.6L323.8 367.1L329.8 366L335.7 364.3L341.7 362L347.7 359L352.5 355.9L357.2 352.3L362 347.8L366.1 343.1L369.5 338.3L372.2 333.5L374.9 327.5L376.8 321.6L378 315.6L378.6 309.6L378.6 303.6L378.1 298.8L376.8 292.9L374.9 286.9L372.2 280.9L369.5 276.1L366.1 271.4L361.9 266.6L356.9 261.8L352.3 258.2L346.7 254.6L341.7 252L335.7 249.5L329.8 247.6L323.8 246.4L317.8 245.8L311.8 245.8L305.9 246.5L301.1 247.4L295.1 249.3L289.1 251.8L283.9 254.6L278.6 258.2L274.1 261.8L269.1 266.6L265 271.4L260.9 277.3L257.7 283.3L255.6 288.1L253.8 294.1L252.6 300L252 306L252.1 312L252.8 318L253.9 322.7L255.7 328.3L258 333.5L260.6 338.3L264.1 343.2L268 347.8L272.4 352.1L277.2 355.8L282 358.9L286.8 361.4L292.7 363.9L298.7 365.7Z"/>
<path fill="#ff7272" d="M237.9 258.2L241.4 258.8L246.1 259.1L250.9 258.8L255.7 258L265.2 255.4L284.4 248.6L292.7 246.1L302.3 243.9L310.7 242.9L319 242.7L328.6 243.4L336.9 244.6L357.2 248.5L365.6 249.4L370.4 249.6L374 249.4L377.6 249L381.1 248.2L384.7 246.9L387.1 245.7L391.6 242.7L395.1 239.1L396.8 236.7L398.1 234.3L399.5 230.7L400.2 228.3L401 222.3L400.8 216.4L399.5 210.4L398.3 206.8L396.7 203.2L393.2 197.2L388.3 191.3L383.5 186.7L377.6 182.2L370.4 178L363.2 174.8L354.9 172.1L346.5 170.2L336.9 168.8L326.2 168.1L314.2 168.1L302.3 168.8L290.3 170.2L278.4 172.4L268.8 174.8L260.5 177.6L252.1 181.3L244.9 185.3L237.8 190.5L231.7 196L226.7 202L222.9 208L221.1 211.6L219.6 215.2L218.5 218.8L217.7 222.3L217.2 225.9L217.1 229.5L217.2 233.1L217.8 236.7L219.7 242.7L221.5 246.2L223.1 248.6L225.2 251L227 252.7L229.4 254.5L231.8 255.9L234.2 257Z"/>
<path fill="#7272ff" d="M310.8 367L316.6 367.1L322.6 366.6L328.6 365.6L334.5 364.1L340.5 361.9L346.5 359L351.3 356.1L356.1 352.5L360.8 348.2L364.5 344.3L368.1 339.5L371.7 333.5L374 328.6L376 322.7L377.4 316.8L378.2 310.8L378.3 304.8L377.8 298.8L376.9 294.1L375.1 288.1L373.2 283.3L370 277.3L366.8 272.5L362.9 267.8L358.1 263L353.8 259.4L348.6 255.8L342.1 252.2L336.6 249.8L331 248L325 246.6L319 245.9L313 245.8L307.1 246.3L301.1 247.5L295.1 249.3L289.1 251.8L284 254.6L278.6 258.2L274.2 261.8L270.4 265.4L266.1 270.2L262.6 274.9L259 280.9L256.3 286.9L254.6 291.7L253.2 297.6L252.4 303.6L252.3 309.6L252.8 315.6L254 321.6L255.4 326.3L257.8 332.3L260.4 337.1L263.6 341.9L267.6 346.7L271.2 350.3L276 354.3L280.8 357.6L286.8 360.8L292.7 363.3L298.7 365.1L304.7 366.3Z"/>
<path fill="#ff7070" d="M239.5 258.2L243.7 258.8L247.3 258.8L252.1 258.4L256.9 257.6L265.2 255.3L284.3 248.6L292.7 246.1L301.1 244.1L310.7 242.9L319 242.7L328.6 243.4L336.9 244.6L356.1 248.2L365.6 249.3L370.4 249.4L374 249.2L377.6 248.7L381.1 247.8L385.9 245.9L388.3 244.6L390.9 242.7L394.4 239.1L396.2 236.7L397.5 234.3L398.5 231.9L399.6 228.3L400.4 222.3L400.2 216.4L398.9 210.4L396.6 204.4L393.3 198.4L388.7 192.5L383.5 187.3L377.6 182.7L370.4 178.5L363.2 175.2L354.9 172.5L345.3 170.3L335.7 169L325 168.4L314.2 168.4L302.3 169.1L290.3 170.5L278.4 172.7L268.8 175.2L259.3 178.5L252.1 181.8L244.9 185.9L237.8 191.1L232.4 196L227.3 202L223.5 208L221.7 211.6L220.2 215.2L219.1 218.8L218.3 222.3L217.8 225.9L217.6 229.5L217.8 233.1L218.4 236.7L219.4 240.3L220.3 242.7L222.1 246.2L223.8 248.6L225.9 251L228.2 253.1L230.4 254.6L233 256.1L236.6 257.5Z"/>
<path fill="#7070ff" d="M305 365.8L311.8 366.4L317.8 366.4L323.8 365.9L329.8 364.8L335.7 363.1L341.7 360.7L347.7 357.7L352.5 354.6L357.2 350.8L361.6 346.7L365.6 342L369.1 337.1L371.8 332.3L374.4 326.3L376 321.6L377.3 315.6L377.9 309.6L377.9 303.6L377.3 297.6L376 291.7L374.5 286.9L371.8 280.9L369.1 276.1L365.8 271.4L361.7 266.6L356.6 261.8L352.1 258.2L346.5 254.6L341.7 252.1L335.7 249.6L329.8 247.7L323.8 246.5L317.8 245.8L311.8 245.8L305.9 246.5L301.1 247.5L295.1 249.3L289.1 251.9L284.1 254.6L278.7 258.2L274.3 261.8L269.3 266.6L265.3 271.4L261.9 276.1L258.5 282.1L256.4 286.9L254.5 292.9L253.2 298.8L252.6 304.8L252.6 310.8L253.1 315.6L254.3 321.6L256.2 327.5L258.3 332.3L260.9 337.1L264.2 341.9L268.2 346.7L272.4 350.7L277.2 354.5L282 357.6L286.8 360.2L292.7 362.7L298.7 364.5Z"/>
<path fill="#ff6e6e" d="M241.2 258.2L244.9 258.6L248.5 258.6L252.1 258.2L256.9 257.4L266.4 254.8L284.2 248.6L292.7 246L301.1 244.1L310.7 242.9L319 242.7L328.6 243.3L336.9 244.6L356.1 248.1L364.4 249.1L369.2 249.3L374 249L377.6 248.5L381.1 247.5L384.5 246.2L386.8 245.1L390.7 242.3L392.8 240.3L394.7 237.9L397.4 233.1L399 228.3L399.9 222.3L399.6 216.4L398.3 210.4L396 204.4L392.7 198.4L388 192.5L382.3 186.9L376.4 182.5L369.2 178.4L362 175.2L353.7 172.5L344.1 170.5L334.5 169.2L323.8 168.7L313 168.8L301.1 169.5L289.1 171L278.4 173L268.8 175.5L260.5 178.4L252.1 182.2L244.7 186.5L237.8 191.7L231.9 197.2L227.1 203.2L223.4 209.2L221.7 212.8L220.4 216.4L219.4 220L218.7 223.5L218.3 227.1L218.2 230.7L218.6 234.3L219.2 237.9L220.4 241.5L221.4 243.9L222.8 246.2L224.6 248.8L226.6 251L229.4 253.4L231.8 255L235.4 256.7L237.8 257.5Z"/>
<path fill="#6e6eff" d="M310.3 365.8L316.6 365.9L322.6 365.5L328.6 364.5L334.5 362.9L340.5 360.6L346.5 357.7L351.3 354.8L356.1 351.2L360.8 346.8L364.4 342.8L367.7 338.3L370.7 333.5L373 328.7L375.2 322.7L376.7 316.8L377.5 310.8L377.7 304.8L377.2 298.8L376.1 292.9L374.7 288.1L372.2 282.1L369.7 277.3L366.5 272.5L362.6 267.8L357.9 263L353.6 259.4L348.4 255.8L341.9 252.2L336.4 249.8L331 248L325 246.7L319 245.9L313 245.8L307.1 246.3L301.1 247.5L295.1 249.3L289.1 251.9L284.2 254.6L278.8 258.2L274.4 261.8L269.4 266.6L265.4 271.4L262 276.1L259.3 280.9L257.1 285.7L255 291.7L253.6 297.6L252.9 303.6L252.9 309.6L253.4 315.6L254.7 321.6L256.2 326.3L258.2 331.1L260.7 335.9L264.1 340.9L267.8 345.5L271.3 349L276 353L280.8 356.3L286.8 359.6L292.7 362.1L298.7 363.9L304.7 365.1Z"/>
<path fill="#ff6c6c" d="M243.5 258.2L247.3 258.4L250.9 258.2L258.1 257L266.4 254.7L284 248.6L292.7 246L301.1 244.1L310.7 242.8L319 242.6L328.6 243.3L336.9 244.5L356.1 248L364.4 248.9L369.2 249.1L372.8 248.9L376.4 248.4L380.5 247.4L383.5 246.3L386 245.1L388.3 243.6L390.7 241.7L394.1 237.9L396.9 233.1L398.5 228.3L399.3 222.3L399 216.4L397.7 210.4L395.4 204.4L392 198.4L387.4 192.5L382.3 187.6L376.2 182.9L369.2 178.8L362 175.6L353.7 172.9L344.1 170.8L334.5 169.6L323.8 169L313 169.1L301.1 169.8L289.1 171.3L279.6 173.1L268.8 175.9L260.5 178.8L251.6 182.9L243.7 187.7L237.5 192.5L231.5 198.4L226.9 204.4L224.7 208L222.9 211.6L220.6 217.6L219.7 221.1L219.1 224.7L218.8 228.3L218.9 231.9L219.3 235.5L220.2 239.1L221.5 242.7L222.7 245.1L224.6 248L227 250.7L229.4 252.8L231.8 254.5L234.3 255.8L237.5 257L240.2 257.7Z"/>
<path fill="#6c6cff" d="M304.7 364.6L310.7 365.2L316.6 365.3L322.6 364.9L328.6 363.9L334.5 362.3L340.5 360L346.5 357.1L351.3 354.1L356.1 350.5L360.8 346L364.5 341.9L368 337.1L370.8 332.3L373.5 326.3L375.5 320.4L376.5 315.6L377.3 309.6L377.3 303.6L376.9 298.8L375.8 292.9L374.4 288.1L372 282.1L369.5 277.3L366.3 272.5L362.5 267.8L357.7 263L353.4 259.4L348.3 255.8L342.9 252.8L336.9 250.1L331 248.1L325 246.7L319 246L313 245.8L307.1 246.4L302.3 247.2L296.3 248.9L291.1 251L286.3 253.4L280.5 257L275.8 260.6L270.7 265.4L266.4 270.2L263 274.9L260.1 279.7L257.3 285.7L255.2 291.7L253.9 297.6L253.2 303.6L253.1 309.6L253.7 315.6L254.7 320.4L256.6 326.3L258.6 331.1L261.2 335.9L264.4 340.7L268.4 345.5L272.4 349.4L277.2 353.3L282 356.4L286.8 359L292.7 361.5L298.7 363.3Z"/>
<path fill="#ff6a6a" d="M238.7 257L242.5 257.8L247.3 258.1L252.1 257.9L256.9 257.1L266.4 254.6L283.9 248.6L292.7 246L302.3 243.8L310.7 242.8L319 242.6L328.6 243.3L336.9 244.5L354.9 247.7L363.2 248.7L371.6 248.8L375.2 248.4L379.5 247.4L384.7 245.4L388.9 242.7L392.6 239.1L394.3 236.7L395.7 234.3L397.6 229.5L398.7 223.5L398.6 217.6L398 214L397.1 210.4L394.8 204.4L391.4 198.4L386.7 192.5L381.7 187.7L375.4 182.9L369.2 179.3L362 176.1L353.7 173.3L345.3 171.4L335.7 170L326.2 169.3L315.4 169.3L303.5 169.9L291.5 171.3L280.8 173.2L271.2 175.5L262.9 178.3L254.5 181.9L247.3 185.8L240.2 190.8L234.3 196L229.2 202L225.3 208L222.4 214L221.2 217.6L220.2 221.1L219.6 224.7L219.4 228.3L219.4 231.9L219.9 235.5L220.7 239.1L221.6 241.5L224 246.2L225.8 248.6L228.2 251.2L230.6 253.2L233 254.7L235.4 255.8Z"/>
<path fill="#6a6aff" d="M309.4 364.6L315.4 364.8L321.4 364.5L327.4 363.6L333.4 362.1L338.1 360.4L344.1 357.8L350.1 354.3L354.9 350.8L359.5 346.7L363.2 342.7L366.8 338L370.3 332.3L372.8 327.1L374.7 321.6L375.9 316.8L376.8 310.8L377.1 304.8L376.6 298.8L375.6 292.9L374.2 288.1L371.8 282.1L369.3 277.3L366.2 272.5L362.3 267.8L357.6 263L353.3 259.4L348.2 255.8L342.9 252.8L338.1 250.6L332.2 248.5L326.2 247L320.2 246.1L314.2 245.8L308.3 246.2L302.3 247.3L297.3 248.6L291.5 250.9L286.4 253.4L280.6 257L275.9 260.6L272 264.2L267.5 269L263.9 273.7L260.9 278.5L258.5 283.3L256.1 289.3L254.5 295.3L253.6 301.2L253.3 307.2L253.7 313.2L254.8 319.2L256.1 323.9L258.5 329.9L261 334.7L264.1 339.5L267.6 343.9L271.4 347.8L276 351.8L280.8 355.1L286.8 358.4L291.5 360.5L297.5 362.5L303.5 363.8Z"/>
<path fill="#ff6868" d="M240 257L243.7 257.7L247.3 257.9L252.1 257.7L256.9 257L266.4 254.5L285.6 248.1L293.9 245.6L302.3 243.8L310.7 242.8L319 242.6L328.6 243.2L336.9 244.4L354.9 247.6L363.2 248.6L368 248.8L371.6 248.6L375.2 248.2L378.8 247.4L383.5 245.6L388.2 242.7L392 239.1L393.8 236.7L395.1 234.3L396.2 231.9L397.4 228.3L398.2 222.3L397.9 216.4L396.6 210.4L394.2 204.4L390.8 198.4L386 192.5L381 187.7L375.2 183.3L368 179.2L360.8 176L352.5 173.3L344.1 171.5L334.5 170.2L323.8 169.6L313 169.6L301.1 170.4L290.3 171.7L279.6 173.7L270 176.2L261.7 179.1L253.3 182.9L246.1 187L240.2 191.4L235 196L229.8 202L225.8 208L224 211.6L222.5 215.2L221.4 218.8L220.5 222.3L219.9 228.3L220 231.9L220.4 235.5L221.3 239.1L222.2 241.5L223.9 245.1L225.5 247.4L227.5 249.8L229.4 251.7L231.7 253.4L234.2 254.9L236.6 255.9Z"/>
<path fill="#6868ff" d="M304.2 363.4L310.7 364.1L316.6 364.2L322.6 363.8L328.6 362.7L333.4 361.5L339.3 359.4L345.3 356.5L350.1 353.7L354.9 350.2L359.6 345.9L363.3 341.9L366.9 337.1L369.8 332.3L372.6 326.3L374.3 321.6L375.8 315.6L376.6 309.6L376.7 303.6L376.2 297.6L375.3 292.9L373.6 286.9L371 280.9L368.4 276.1L365.1 271.4L361.1 266.6L357.5 263L353.2 259.4L348.1 255.8L342.9 252.9L336.9 250.2L331 248.1L325 246.8L319 246L313 245.9L307.1 246.4L302.3 247.3L296.3 249L291.2 251L286.4 253.4L280.7 257L276 260.6L270.9 265.4L266.7 270.2L263.2 274.9L259.7 280.9L257.6 285.7L255.9 290.5L254.5 296.5L253.7 302.4L253.6 308.4L254 313.2L255.1 319.2L256.5 323.9L258.9 329.9L261.4 334.7L264.6 339.5L268.5 344.3L272.4 348.1L277.2 352.1L282 355.2L286.8 357.8L292.7 360.4L298.7 362.2Z"/>
<path fill="#ff6666" d="M241.3 257L244.9 257.5L249.7 257.7L253.3 257.4L258.1 256.6L266.4 254.4L285.6 248L293.9 245.6L302.3 243.8L310.7 242.8L319 242.6L328.6 243.2L336.9 244.4L354.9 247.5L363.2 248.5L368 248.6L371.6 248.4L375.2 247.9L378.8 247.1L383.8 245.1L385.9 243.8L389 241.5L392.3 237.9L393.9 235.5L395.2 233.1L396.8 228.3L397.6 222.3L397.3 216.4L396 210.4L393.6 204.4L390.2 198.4L385.4 192.5L380.3 187.7L374 183L368 179.6L360.8 176.4L352.5 173.7L344.1 171.8L334.5 170.5L323.8 169.9L313 169.9L302.3 170.6L290.3 172L279.6 174L270 176.5L261.7 179.5L253.3 183.3L246.1 187.5L240.2 191.9L234.4 197.2L229.5 203.2L225.7 209.2L223.1 215.2L221.3 221.1L220.7 224.7L220.5 228.3L220.5 231.9L221 235.5L221.9 239.1L222.7 241.5L224.5 245.1L226.1 247.4L228.1 249.8L230.6 252.1L233 253.7L235.4 255L237.8 256Z"/>
<path fill="#6666ff" d="M308.2 363.4L314.2 363.7L320.2 363.5L326.2 362.7L332.2 361.3L338.1 359.3L342.9 357.2L348.9 353.8L353.7 350.5L358.1 346.7L362 342.6L365.6 338.1L369.2 332.5L371.7 327.5L373.9 321.6L375.5 315.6L376.2 310.8L376.5 304.8L376.2 300L375.6 295.3L374.1 289.3L372 283.3L369.6 278.5L366.7 273.7L363.1 269L358.6 264.2L354.6 260.6L349.8 257L343.9 253.4L338.1 250.7L332.6 248.6L327.4 247.3L321.4 246.3L315.4 245.9L309.5 246.1L303.5 247L298.7 248.3L292.7 250.4L287.9 252.6L282.5 255.8L277.5 259.4L273.4 263L268.8 267.8L265 272.5L261.2 278.5L258.8 283.3L256.5 289.3L255.2 294.1L254.2 300L253.9 306L254.2 312L255.2 318L256.5 322.7L258.8 328.7L261.2 333.5L264.3 338.3L267.6 342.6L271.5 346.7L276 350.5L280.8 353.9L285.6 356.7L290.3 358.9L296.3 361L302.3 362.5Z"/>
<path fill="#ff6464" d="M242.9 257L247.3 257.4L250.9 257.4L254.5 257.1L259.3 256.2L267.6 254L285.6 248L293.9 245.6L302.3 243.8L310.7 242.7L319 242.5L327.4 243.1L335.7 244.2L354.9 247.4L363.2 248.3L368 248.4L371.6 248.2L375.2 247.7L378.8 246.8L383.5 244.8L385.9 243.4L388.4 241.5L391.8 237.9L393.4 235.5L394.6 233.1L396.3 228.3L397.1 222.3L396.8 216.4L395.5 210.4L393.1 204.4L389.6 198.4L384.7 192.5L379.9 188L374 183.5L368 180.1L360.8 176.8L352.5 174.1L344.1 172.2L334.5 170.8L325 170.2L314.2 170.2L302.3 170.9L290.3 172.3L280.8 174.1L271.2 176.5L261.7 179.8L254.5 183.1L247.3 187.2L240.2 192.5L235 197.2L230.1 203.2L226.3 209.2L224.6 212.8L223.2 216.4L222.1 220L221.4 223.5L221 227.1L221 230.7L221.8 236.7L222.8 240.3L223.8 242.7L225.1 245.1L227 247.8L228.8 249.8L231.5 252.2L234.2 254L236.6 255.2L240.2 256.4Z"/>
<path fill="#6464ff" d="M303.5 362.2L309.5 363L315.4 363.2L321.4 362.8L327.4 361.9L333.4 360.4L338.1 358.7L344.1 356L348.9 353.2L353.7 349.8L358.4 345.7L362.1 341.9L365.8 337.1L369.2 331.7L371.8 326.3L373.5 321.6L375.1 315.6L376 309.6L376.2 303.6L375.7 297.6L374.8 292.9L373.1 286.9L371.2 282.1L368.8 277.3L365.7 272.5L361.9 267.8L357.2 263L353 259.4L347.9 255.8L342.9 253L336.9 250.2L332.2 248.5L326.2 247L320.2 246.1L314.2 245.9L308.3 246.3L303.5 247.1L297.5 248.6L292.7 250.4L286.6 253.4L282 256.2L277.6 259.4L272.2 264.2L267.8 269L264.2 273.7L261.3 278.5L258.4 284.5L256.3 290.5L255.1 295.3L254.3 301.2L254.1 307.2L254.6 313.2L255.5 318L257.2 323.9L259.2 328.7L261.7 333.5L264.8 338.3L268.6 343.1L272.4 346.9L277.2 350.9L282 354.1L286.8 356.7L292.7 359.3L297.5 360.8Z"/>
<path fill="#ff6262" d="M244.8 257L248.5 257.3L252.1 257.1L259.3 256.1L267.6 253.9L285.6 247.9L293.9 245.5L302.3 243.7L310.7 242.7L319 242.5L327.4 243L335.7 244.1L354.9 247.4L363.2 248.2L368 248.3L371.6 248L375.2 247.4L378.8 246.5L383.5 244.4L387.8 241.5L391.2 237.9L392.8 235.5L394.1 233.1L395.7 228.3L396.2 225.9L396.6 222.3L396.3 216.4L394.9 210.4L392.5 204.4L389 198.4L384.1 192.5L378.9 187.7L372.8 183.3L366.8 179.9L359.6 176.8L351.3 174.1L342.9 172.3L333.4 171L322.6 170.4L311.8 170.5L299.9 171.4L289.1 172.8L278.4 174.9L270 177.2L261.7 180.2L253.3 184.1L246.1 188.4L240.2 193L234.5 198.4L229.8 204.4L226.2 210.4L224.6 214L223.3 217.6L222.4 221.1L221.8 224.7L221.5 228.3L221.6 231.9L222.6 237.9L223.9 241.5L225 243.9L226.4 246.2L228.3 248.6L230.7 251L233 252.8L236.3 254.6L239 255.7Z"/>
<path fill="#6262ff" d="M307 362.2L313 362.6L319 362.5L325 361.8L331 360.5L335.7 359.1L341.7 356.6L347.7 353.4L352.3 350.2L356.7 346.7L360.8 342.6L364.4 338.2L367.6 333.5L370.4 328.4L372.8 322.7L374.5 316.8L375.4 312L375.9 306L375.7 300L374.9 294.1L373.7 289.3L372 284.5L369.9 279.7L367.1 274.9L363.8 270.2L359.6 265.4L355.8 261.8L351.3 258.2L345.8 254.6L340.5 251.8L334.5 249.4L328.6 247.6L322.6 246.4L316.6 245.9L310.7 246.1L304.7 246.9L299.9 248L294.3 249.8L288.9 252.2L284.6 254.6L279.3 258.2L274.9 261.8L270 266.6L266.1 271.4L262.8 276.1L260.2 280.9L257.6 286.9L256.2 291.7L254.9 297.6L254.4 303.6L254.5 309.6L255.1 314.4L256.4 320.4L258.1 325.3L260.5 330.6L263.6 335.9L266.4 339.8L270.3 344.3L274.8 348.4L279.6 352L284.4 354.9L289.1 357.3L295.1 359.6L301.1 361.2Z"/>
<path fill="#ff6060" d="M247.8 257L254.5 256.7L261.7 255.4L268.8 253.4L285.6 247.9L292.7 245.8L301.1 243.9L309.5 242.8L317.8 242.5L327.4 243L335.7 244.1L354.9 247.3L363.2 248.1L368 248.1L371.6 247.8L375.2 247.2L378.7 246.2L383.5 244L387.2 241.5L390.6 237.9L392.3 235.5L393.5 233.1L395.2 228.3L396.1 222.3L395.7 216.4L394.4 210.4L392 204.4L388.4 198.4L383.5 192.5L378.2 187.7L372.8 183.7L365.6 179.7L358.4 176.7L350.1 174.1L341.7 172.4L332.2 171.2L322.6 170.7L311.8 170.8L301.1 171.5L290.3 172.9L279.6 174.9L270 177.5L260.5 181.1L253.3 184.5L246.2 188.9L240 193.7L234 199.6L229.5 205.6L226.2 211.6L224.7 215.2L223.5 218.8L222.7 222.3L222.2 225.9L222 229.5L222.2 233.1L222.9 236.7L223.5 239.1L224.9 242.7L226.2 245.1L227.9 247.4L230.1 249.8L232.9 252.2L235.4 253.8L237.8 254.9L241.4 256.1L244.9 256.8Z"/>
<path fill="#6060ff" d="M302.7 361L308.3 361.8L314.2 362.1L320.2 361.9L326.2 361.1L332.2 359.7L338.1 357.6L344.1 354.9L348.9 352.1L353.7 348.6L358.4 344.4L362 340.5L365.6 335.9L368.6 331.1L370.9 326.3L373.2 320.4L374.4 315.6L375.3 309.6L375.6 303.6L375.3 298.8L374.4 292.9L373.1 288.1L370.8 282.1L368.4 277.3L365.4 272.5L361.6 267.8L357 263L352.8 259.4L347.7 255.8L342.9 253.1L336.9 250.3L332.2 248.6L326.2 247.1L320.2 246.2L314.2 245.9L308.3 246.3L303.5 247.1L297.7 248.6L292.7 250.5L287.9 252.8L282.7 255.8L277.8 259.4L273.6 263L269.1 267.8L265.3 272.5L262.2 277.3L259.8 282.1L257.4 288.1L255.8 294.1L254.9 300L254.6 306L255 312L255.8 316.8L257.5 322.7L259.4 327.5L261.8 332.3L264.9 337.1L268.7 341.9L272.4 345.7L276 348.8L280.8 352.2L286.8 355.6L291.5 357.8L296.3 359.4Z"/>
<path fill="#ff5e5e" d="M241.5 255.8L244.9 256.5L249.7 256.8L254.5 256.6L259.3 255.8L267.6 253.7L285.6 247.9L293.9 245.5L302.3 243.7L310.7 242.7L319 242.5L327.4 243L335.7 244.1L353.7 247L362 247.9L369.2 247.9L372.8 247.4L376.4 246.7L381.1 244.9L383.5 243.7L385.9 242L389.5 238.6L392.4 234.3L394.4 229.5L395 227.1L395.5 223.5L395.4 217.6L394.2 211.6L392 205.6L388.6 199.6L384 193.7L379 188.9L372.8 184.2L366.8 180.8L359.6 177.5L352.5 175.1L344.1 173.1L334.5 171.7L325 171L314.2 171L303.5 171.6L292.7 172.8L282 174.7L272.4 177.1L264.1 180L255.7 183.7L248.7 187.7L242.5 192.1L236.8 197.2L231.7 203.2L227.9 209.2L225.2 215.2L224 218.8L223.2 222.3L222.5 228.3L222.6 231.9L223.1 235.5L224 239.1L224.9 241.5L227.6 246.2L229.5 248.6L231.8 250.8L234.2 252.6L236.6 254Z"/>
<path fill="#5e5eff" d="M305.7 361L311.8 361.6L317.8 361.6L323.8 361L329.8 359.8L335.7 358L341.7 355.5L346.5 353L351.3 349.8L356.1 346L359.6 342.5L363.3 338.3L366.8 333.3L370 327.5L372 322.7L373.5 318L374.7 312L375.3 306L375.2 301.2L374.6 295.3L373.6 290.5L372.1 285.7L369.5 279.7L366.8 274.9L363.5 270.2L359.3 265.4L355.6 261.8L351.1 258.2L345.6 254.6L340.5 251.9L334.5 249.4L329.8 248L323.8 246.7L317.8 246L311.8 246L305.9 246.7L301.1 247.7L295.1 249.6L290.3 251.6L284.7 254.6L279.4 258.2L275 261.8L270.2 266.6L267.2 270.2L263.8 274.9L261.1 279.7L258.4 285.7L256.5 291.7L255.5 296.5L255 301.2L254.9 307.2L255.3 312L256.4 318L258.3 323.9L260.3 328.7L263 333.5L266.4 338.5L270 342.7L273.6 346.2L278.4 350L283.2 353.2L287.9 355.7L293.9 358.1L299.9 359.9Z"/>
<path fill="#ff5c5c" d="M242.7 255.8L246.1 256.4L250.9 256.6L254.5 256.4L259.3 255.7L267.6 253.6L285.6 247.8L293.9 245.4L302.3 243.7L310.7 242.7L319 242.4L327.4 242.9L335.7 244L353.7 246.9L362 247.8L369.2 247.7L372.8 247.2L376.4 246.4L381.1 244.6L383.5 243.3L386 241.5L389.5 237.9L391.2 235.5L392.5 233.1L394.2 228.3L394.7 225.9L395 222.3L394.9 217.6L393.7 211.6L391.5 205.6L388.1 199.6L383.5 193.9L378.8 189.2L372.8 184.7L366.8 181.2L359.6 177.9L351.3 175.1L342.9 173.2L333.4 171.9L323.8 171.3L313 171.3L302.3 172L291.5 173.3L282 175L272.4 177.4L264.1 180.3L255.7 184.1L248.5 188.2L242.7 192.5L237.4 197.2L232.3 203.2L228.4 209.2L225.7 215.2L223.9 221.1L223.3 224.7L223 228.3L223.1 231.9L223.6 235.5L224.2 237.9L225.5 241.5L228.2 246.3L230.1 248.6L232.7 251L235.4 252.9L237.8 254.1Z"/>
<path fill="#5c5cff" d="M310.5 361L316.6 361.1L322.6 360.6L328.6 359.6L334.5 357.9L340.5 355.5L345.3 353.1L350.1 350.1L354.6 346.7L358.5 343.1L362.8 338.3L366.2 333.5L368.9 328.7L371.1 323.9L373.1 318L374.4 312L374.9 307.2L375 301.2L374.5 296.5L373.4 290.5L371.9 285.7L369.9 280.9L367.4 276.1L364.2 271.4L360.3 266.6L355.4 261.8L351 258.2L345.5 254.6L341.1 252.2L335.5 249.8L329.8 248L325 246.9L319 246.1L313 246L307.1 246.5L301.1 247.7L296.3 249.2L290.3 251.6L285.6 254.2L281.1 257L276.5 260.6L272.6 264.2L268.2 269L264.7 273.7L261.2 279.7L258.6 285.7L257 290.5L255.9 295.3L255.2 301.2L255.1 307.2L255.6 312L256.5 316.8L258.2 322.7L260.2 327.5L262.9 332.6L266.4 337.9L270 342.1L273.6 345.6L278.4 349.5L283.2 352.6L287.9 355.2L292.7 357.2L298.7 359.1L304.7 360.3Z"/>
<path fill="#ff5a5a" d="M244 255.8L247.3 256.3L252.1 256.4L255.7 256.1L260.5 255.3L268.8 253.2L285.6 247.8L293.9 245.4L302.3 243.6L310.7 242.6L319 242.4L327.4 242.9L335.7 244L352.5 246.7L360.8 247.6L365.6 247.7L369.2 247.5L372.8 247L376.1 246.2L381.1 244.2L385.4 241.5L389 237.9L390.7 235.5L392 233.1L393.7 228.3L394.6 222.3L394.4 217.6L393.2 211.6L390.9 205.6L387.5 199.6L383.8 194.9L378.8 189.8L372.9 185.3L366.8 181.6L359.6 178.3L351.3 175.5L342.9 173.5L334.5 172.3L325 171.6L314.2 171.5L302.3 172.2L291.5 173.5L282 175.3L272.4 177.8L264.1 180.6L256.9 183.8L249.7 187.9L243.3 192.5L237.8 197.5L232.8 203.2L228.9 209.2L226.2 215.2L225 218.8L224.2 222.3L223.5 228.3L223.6 231.9L224.1 235.5L225.1 239.1L226 241.5L228.7 246.2L230.7 248.6L233.3 251L237.8 253.8L240.2 254.8Z"/>
<path fill="#5a5aff" d="M304.4 359.8L309.5 360.4L315.4 360.6L321.4 360.3L327.4 359.3L333.4 357.8L338.1 356L344.1 353.2L348.9 350.4L353.7 346.8L358.4 342.5L362.2 338.3L365.6 333.6L368.5 328.7L370.7 323.9L372.4 319.2L373.9 313.2L374.5 308.4L374.8 302.4L374.4 297.6L373.4 291.7L372.1 286.9L369.7 280.9L367.2 276.1L364.1 271.4L360.2 266.6L356.6 263L352.4 259.4L347.4 255.8L341.7 252.6L336.9 250.4L331 248.3L325 246.9L319 246.2L313 246L307.1 246.5L302.3 247.4L297.5 248.8L291.7 251L286.9 253.4L281.2 257L276.6 260.6L272.7 264.2L268.3 269L264.8 273.7L262 278.5L259.2 284.5L257.5 289.3L256.1 295.3L255.4 301.2L255.3 306L255.9 312L256.8 316.8L258.5 322.7L260.5 327.5L263.1 332.3L266.3 337.1L270 341.5L273.6 345L278.4 348.9L283.2 352.1L287.9 354.6L293.9 357.1L298.7 358.6Z"/>
<path fill="#ff5858" d="M245.4 255.8L248.5 256.2L252.1 256.2L255.7 255.9L260.5 255.2L268.8 253.1L286.6 247.4L293.9 245.4L302.3 243.6L310.7 242.6L319 242.4L327.4 242.9L335.1 243.9L352.5 246.6L360.8 247.5L365.6 247.5L369.2 247.3L372.8 246.8L376.4 245.9L381.1 243.9L384.8 241.5L388.5 237.9L390.2 235.5L391.5 233.1L393.2 228.3L393.7 225.9L394.1 222.3L393.9 217.6L392.7 211.6L390.4 205.6L387.1 199.9L383.3 194.9L378.5 190.1L372.8 185.7L366.2 181.7L359.6 178.7L351.3 175.8L342.9 173.8L334.5 172.6L325 171.9L314.2 171.8L303.5 172.4L292.7 173.6L283.2 175.3L273.6 177.7L264.1 181L257.1 184.1L249.7 188.3L243.7 192.6L238.5 197.2L233.3 203.2L229.5 209.2L227.7 212.8L226.2 216.4L225.2 220L224.4 223.5L224.1 227.1L224 230.7L224.9 236.7L226 240.3L227.1 242.7L228.5 245.1L230.2 247.4L232.5 249.8L234.2 251.2L236.6 252.7L239 253.9L242.5 255.2Z"/>
<path fill="#5858ff" d="M307.9 359.8L313 360.1L319 360L325 359.3L331 358L336.9 356L341.7 353.9L346.5 351.3L351.7 347.8L356.1 344.2L359.6 340.6L363.5 335.9L366.8 331L369.8 325.1L371.7 320.4L373.3 314.4L374.1 309.6L374.5 304.8L374.3 298.8L373.5 292.9L372.3 288.1L370.1 282.1L367.7 277.3L364.8 272.5L361.1 267.8L356.5 263L352.3 259.4L347.3 255.8L343.2 253.4L338.3 251L332.2 248.7L326.2 247.2L321.4 246.4L315.4 246L309.5 246.3L303.5 247.2L298.7 248.4L292.7 250.6L287.9 252.9L283 255.8L278.1 259.4L274 263L269.4 267.8L265.8 272.5L263.4 276.1L260.9 280.9L258.5 286.9L257.1 291.7L256 297.6L255.6 303.6L255.7 308.4L256.3 313.2L257.7 319.2L259.8 325.1L262.2 329.9L265.2 334.9L268.8 339.5L272.4 343.4L277.2 347.5L282 350.8L286.8 353.6L291.5 355.7L297.5 357.8L302.3 358.9Z"/>
<path fill="#ff5656" d="M247.2 255.8L250.9 256L254.5 255.9L261.7 254.8L268.8 253L286.4 247.4L293.9 245.4L302.3 243.6L310.7 242.6L319 242.4L327.4 242.9L335.4 243.9L352.5 246.5L360.8 247.3L368 247.3L371.6 246.8L375.2 246L379.9 244.2L384.3 241.5L387.9 237.9L389.7 235.5L391 233.1L392.7 228.3L393.2 225.9L393.6 222.3L393.4 217.6L392.2 211.6L389.9 205.6L386.4 199.6L382.7 194.9L377.6 189.8L371.6 185.3L365.4 181.7L358.4 178.6L350.1 175.8L341.7 173.9L333.4 172.7L323.8 172.1L313 172.1L302.3 172.7L291.5 174.1L280.8 176.1L272.4 178.4L264.1 181.3L256.9 184.6L249.4 188.9L243 193.7L237.8 198.6L233 204.4L229.3 210.4L227.6 214L226.3 217.6L225.4 221.1L224.8 224.7L224.5 230.7L225.4 236.7L226.5 240.3L227.6 242.7L229 245.1L230.8 247.4L233.2 249.8L235.4 251.6L238.6 253.4L241.4 254.5L243.7 255.2Z"/>
<path fill="#5656ff" d="M303.1 358.6L308.3 359.4L314.2 359.7L320.2 359.4L326.2 358.6L332.2 357.1L336.9 355.5L342.9 352.8L347.7 350.1L352.5 346.7L357.2 342.5L360.8 338.6L364.4 334L367.7 328.7L369.9 323.9L372.1 318L373.2 313.2L374.1 307.2L374.2 302.4L373.8 296.5L373 291.7L371.3 285.7L369.4 280.9L366.9 276.1L363.8 271.4L359.9 266.6L356.4 263L352.2 259.4L347.2 255.8L341.7 252.7L336.9 250.5L331.8 248.6L326.2 247.2L320.2 246.3L314.2 246L308.3 246.4L303.5 247.2L298.1 248.6L292.7 250.6L287.9 252.9L283.1 255.8L278.2 259.4L274.1 263L269.5 267.8L265.9 272.5L262.9 277.3L260.5 282.1L258.6 286.9L257 292.9L256.2 297.6L255.8 303.6L256.1 309.6L256.8 314.4L258.4 320.4L260.2 325.1L262.5 329.9L265.5 334.7L268.8 339L272.7 343.1L277.2 347L282 350.3L286.8 353.1L292.7 355.7L297.5 357.3Z"/>
<path fill="#ff5454" d="M250.1 255.8L255.7 255.6L262.9 254.5L270 252.6L286.3 247.4L293.9 245.3L302.3 243.6L310.7 242.6L319 242.3L327.4 242.8L334.5 243.7L352.5 246.5L360.8 247.2L368 247.1L371.6 246.6L375.2 245.8L379.9 243.8L382.3 242.4L384.7 240.6L386.4 239.1L388.3 236.7L390.5 233.1L392.3 228.3L392.8 225.9L393.1 222.3L392.8 216.4L391.3 210.4L388.8 204.4L385 198.4L381 193.7L375.8 188.9L370.4 185L363.2 181L356.1 178L348.9 175.8L340.5 174L331 172.8L321.4 172.3L310.7 172.4L299.9 173.2L289.1 174.7L279.6 176.7L271.2 179L262.9 182.1L255.7 185.6L248.5 189.9L242.2 194.9L237.4 199.6L232.7 205.6L229.2 211.6L227.6 215.2L226.4 218.8L225.6 222.3L225.1 225.9L225 229.5L225.2 233.1L225.9 236.7L226.6 239.1L228.1 242.7L229.5 245.1L231.4 247.4L233 249.1L235.3 251L237.8 252.6L240.2 253.7L243.7 254.9L247.3 255.6Z"/>
<path fill="#5454ff" d="M305.9 358.6L311.8 359.2L317.8 359.1L323.8 358.5L328.6 357.6L334.5 355.9L339.3 354L345.3 351L350.1 347.9L354.7 344.3L358.4 340.7L362 336.6L365.6 331.5L368.5 326.3L370.5 321.6L372.1 316.8L373.3 310.8L373.9 306L373.9 300L373.2 294.1L372.2 289.3L370.7 284.5L368.6 279.7L366 274.9L362.8 270.2L358.7 265.4L355 261.8L350.6 258.2L345.1 254.6L340.7 252.2L335.2 249.8L329.8 248.1L323.8 246.8L317.8 246.1L313 246.1L307.1 246.6L302.3 247.5L297.5 248.9L291.9 251L287.1 253.4L281.4 257L276.8 260.6L272.9 264.2L268.7 269L265.2 273.7L262.3 278.5L259.6 284.5L257.7 290.5L256.7 295.3L256.1 300L256.1 306L256.5 310.8L257.6 316.8L259.6 322.7L261.7 327.5L264.4 332.3L267.6 336.9L271.2 341L274.8 344.5L279.6 348.2L284.4 351.3L289.1 353.7L295.1 356.1L301.1 357.7Z"/>
<path fill="#ff5252" d="M243.6 254.6L247.3 255.4L250.9 255.6L255.7 255.5L260.5 254.8L268.8 252.8L286.2 247.4L294.9 245.1L303.5 243.4L311.8 242.5L319 242.3L327.4 242.8L334.5 243.7L351.3 246.2L359.6 247.1L366.8 247L370.4 246.6L374 245.9L379.3 243.9L383.5 241.2L386.9 237.9L388.7 235.5L390 233.1L391.8 228.3L392.3 225.9L392.6 222.3L392.5 217.6L391.2 211.6L388.9 205.6L385.4 199.6L381.6 194.9L376.6 190.1L370.4 185.4L364.4 182L357.2 178.8L350.1 176.5L340.5 174.3L332.2 173.2L322.6 172.6L313 172.6L303.5 173.2L292.7 174.4L283.2 176.1L273.6 178.6L265.2 181.5L258.1 184.7L250.9 188.7L244.9 193L239 198.4L234.9 203.2L230.9 209.2L228.1 215.2L226.3 221.1L225.7 224.7L225.4 228.3L225.9 234.3L226.7 237.9L227.5 240.3L230.1 245.1L231.9 247.4L234.2 249.7L236.6 251.5L239 252.8Z"/>
<path fill="#5252ff" d="M310.4 358.6L316.6 358.7L322.6 358.2L328.6 357.1L333.4 355.8L339.3 353.5L344.1 351.1L348.9 348.2L353.7 344.6L357.2 341.3L361.1 337.1L364.6 332.3L367.5 327.5L369.7 322.7L371.7 316.8L373 310.8L373.6 306L373.6 300L373.2 295.3L372.3 290.5L370.9 285.7L369 280.9L366.6 276.1L363.5 271.4L359.7 266.6L354.9 261.8L350.5 258.2L345.1 254.6L340.6 252.2L335.1 249.8L329.8 248.1L325 247L319 246.2L313 246.1L308.3 246.5L302.7 247.4L297.5 248.9L291.9 251L287.2 253.4L281.5 257L276.9 260.6L273 264.2L268.8 269L265.3 273.7L262.5 278.5L259.8 284.5L258.2 289.3L257.1 294.1L256.3 300L256.3 306L256.7 310.8L257.6 315.6L259.3 321.1L261.4 326.3L264 331.1L267.3 335.9L270.3 339.5L273.9 343.1L278.4 346.8L283.2 350.1L287.9 352.7L292.7 354.7L298.7 356.7L304.7 358Z"/>
<path fill="#ff5050" d="M244.7 254.6L248.5 255.3L252.1 255.5L255.7 255.3L260.5 254.7L268.8 252.8L286 247.4L293.9 245.3L302.3 243.5L310.7 242.5L319 242.3L327.4 242.8L334.5 243.6L351.3 246.1L359.6 246.9L366.8 246.9L370.4 246.4L374 245.6L378.8 243.8L381.1 242.5L383.5 240.7L385.3 239.1L387.1 237L389.5 233.1L391.3 228.3L391.8 225.9L392.2 222.3L392 217.6L390.7 211.6L388.4 205.6L384.9 199.6L381 194.9L376 190.1L370.4 185.9L364.4 182.4L357.2 179.2L350.1 176.8L341.7 174.8L333.4 173.6L323.8 172.9L314.2 172.8L303.5 173.4L292.7 174.7L283.2 176.4L274.8 178.5L266.4 181.3L259.3 184.4L252.1 188.4L246.1 192.5L240.7 197.2L235.4 203.2L231.4 209.2L228.6 215.2L227.4 218.8L226.5 222.3L225.9 228.3L226.3 234.3L227.2 237.9L228 240.3L230.6 245.1L232.5 247.4L235 249.8L239 252.5L241.4 253.6Z"/>
<path fill="#5050ff" d="M304.2 357.4L309.5 358.1L315.4 358.3L321.4 357.9L327.4 356.9L333.4 355.3L338.1 353.5L342.9 351.3L347.7 348.5L352.5 345L357.2 340.7L360.8 336.8L364.2 332.3L367 327.5L369.3 322.7L371.1 318L372.5 312L373.2 307.2L373.4 301.2L373.1 296.5L372.1 290.5L370.7 285.7L368.3 279.7L365.7 274.9L362.5 270.2L358.4 265.4L354.8 261.8L350.4 258.2L345 254.6L340.5 252.2L335 249.8L329.8 248.2L325 247.1L319 246.3L313 246.1L307.1 246.7L302.3 247.6L297.5 248.9L292 251L287.2 253.4L281.5 257L276.9 260.6L273.1 264.2L268.9 269L265.4 273.7L262.6 278.5L260.4 283.3L258.7 288.1L257.3 294.1L256.6 300L256.5 304.8L257 310.8L257.9 315.6L259.3 320.4L261.2 325.1L263.7 329.9L266.9 334.7L270 338.6L274.4 343.1L278.4 346.3L283.2 349.6L287.9 352.2L292.7 354.3L298.7 356.2Z"/>
<path fill="#ff4e4e" d="M245.9 254.6L249.7 255.2L253.3 255.3L256.9 255.1L261.7 254.4L270 252.3L286.8 247.2L294.7 245.1L302.3 243.5L310.7 242.5L319 242.3L327.4 242.7L334.5 243.6L351.3 246.1L359.6 246.8L366.8 246.7L370.4 246.2L374 245.4L378.8 243.5L381.1 242.1L383.5 240.3L386.9 236.7L389.1 233.1L390.9 228.3L391.4 225.9L391.7 222.3L391.5 217.6L390.3 211.6L387.9 205.6L385.2 200.8L381.5 196L376.4 190.9L370.7 186.5L364.4 182.8L357.2 179.5L350.1 177.1L341.7 175.1L333.4 173.8L323.8 173.1L314.2 173.1L303.5 173.6L292.7 174.9L283.2 176.7L274.8 178.8L266.4 181.6L259.3 184.8L252.1 188.8L246.1 193L240.2 198.3L235.9 203.2L231.9 209.2L229 215.2L227.2 221.1L226.6 224.7L226.3 228.3L226.8 234.3L227.6 237.9L228.5 240.3L231.1 245.1L233 247.4L235.6 249.8L237.8 251.4L240.2 252.7L242.5 253.7Z"/>
<path fill="#4e4eff" d="M307.3 357.4L313 357.8L319 357.7L325 356.9L329.8 355.9L334.5 354.4L340.5 352L345.3 349.5L350.1 346.3L354.9 342.4L358.4 338.9L362 334.7L365.3 329.9L367.9 325.1L369.9 320.4L371.4 315.6L372.6 309.6L373.2 303.6L373.1 298.8L372.4 292.9L371.3 288.1L369.7 283.3L367.6 278.5L364.8 273.7L361.4 269L357.2 264.2L353.3 260.6L348.6 257L344.9 254.6L340.4 252.2L334.5 249.7L328.6 247.9L322.6 246.7L316.6 246.2L311.8 246.2L305.9 246.9L301.1 247.9L295.1 249.8L289.6 252.2L285.3 254.6L280 258.2L275.7 261.8L272 265.4L268 270.2L264.8 274.9L262.1 279.7L259.6 285.7L258.2 290.5L257.1 296.5L256.7 302.4L256.8 307.2L257.7 313.2L258.9 318L260.5 322.7L262.9 327.7L265.6 332.3L268.8 336.6L272.4 340.6L276.4 344.3L280.8 347.5L285.6 350.5L290.3 352.8L296.3 355.1L302.3 356.6Z"/>
<path fill="#ff4c4c" d="M247.1 254.6L250.9 255L254.5 255.1L258.1 254.8L262.9 254L270 252.3L286.8 247.2L294.6 245.1L302.3 243.5L310.7 242.5L317.8 242.2L326.2 242.6L334.5 243.6L351.3 246L359.6 246.7L366.8 246.5L370.4 246L374 245.1L378.8 243.2L383 240.3L386.4 236.7L388.6 233.1L390.4 228.3L390.9 225.9L391.3 222.3L391.1 217.6L389.8 211.6L387.4 205.6L384.7 200.8L379.9 194.9L375.2 190.3L370 186.5L363.9 182.9L357.2 179.9L350.1 177.4L341.7 175.4L333.4 174.1L323.8 173.4L314.2 173.3L303.5 173.9L293.9 175L284.4 176.7L274.8 179.1L266.4 182L259.3 185.1L252.1 189.2L245.8 193.7L240.6 198.4L235.5 204.4L231.7 210.4L229.1 216.4L227.4 222.3L226.9 225.9L226.8 229.5L227.5 235.5L228.5 239.1L229.5 241.5L230.8 243.9L232.5 246.2L234.7 248.6L236.6 250.2L239 251.7L241.4 252.9L243.7 253.8Z"/>
<path fill="#4c4cff" d="M302.6 356.2L308.3 357.1L314.2 357.4L320.2 357.1L325 356.5L329.8 355.4L335.7 353.5L341.7 350.9L346.5 348.2L351.3 344.9L354.9 341.9L358.5 338.3L362.4 333.5L365.6 328.7L368.1 323.9L370 319.2L371.7 313.2L372.5 308.4L372.9 302.4L372.7 296.5L371.9 291.7L370.7 286.9L369 282.1L366.8 277.3L363.9 272.5L360.3 267.8L357 264.2L353.2 260.6L348.5 257L342.7 253.4L337.8 251L332.2 248.9L327.4 247.6L322.6 246.7L316.6 246.2L310.7 246.3L305.9 246.9L299.9 248.2L295.1 249.8L289.6 252.2L285.3 254.6L280.1 258.2L275.8 261.8L272.1 265.4L268.1 270.2L264.9 274.9L262.3 279.7L259.8 285.7L258.4 290.5L257.4 295.3L256.9 301.2L257.1 307.2L257.7 312L258.8 316.8L260.9 322.7L263.1 327.5L266 332.3L269.7 337.1L273.6 341.3L277.2 344.4L282 347.9L286.8 350.6L291.5 352.9L296.3 354.6Z"/>
<path fill="#ff4a4a" d="M248.6 254.6L252.1 254.9L255.7 254.9L262.9 253.9L270 252.2L286.8 247.1L294.4 245.1L302.3 243.4L310.7 242.5L317.8 242.2L326.2 242.6L333.4 243.4L351.3 245.9L358.4 246.6L363.2 246.6L366.8 246.4L370.4 245.8L373.5 245.1L378.8 242.8L382.5 240.3L385.9 236.7L388.2 233.1L390 228.3L390.5 225.9L390.8 222.3L390.5 216.4L389.4 211.6L387 205.6L384.2 200.8L380.5 196L375.2 190.8L369.4 186.5L363.2 182.9L356.1 179.7L348.9 177.4L340.5 175.5L332.2 174.2L322.6 173.6L313 173.6L303.5 174.1L292.7 175.4L283.2 177.2L273.6 179.7L265.2 182.7L258.1 186.1L251.3 190.1L244.9 194.9L239.9 199.6L235.1 205.6L231.5 211.6L229.1 217.6L228.1 221.1L227.5 224.7L227.3 230.7L227.7 234.3L228.2 236.7L229.4 240.3L230.6 242.7L232.1 245.1L234.1 247.4L237.8 250.6L240.2 252L242.5 253.1L244.9 253.9Z"/>
<path fill="#4a4aff" d="M305.1 356.2L310.7 356.8L316.6 356.9L321.4 356.6L327.4 355.6L332.2 354.3L338.1 352.1L342.9 349.8L347.7 347L352.5 343.4L356.1 340.2L360.1 335.9L363.6 331.1L366.5 326.3L368.7 321.6L370.8 315.6L371.9 310.8L372.5 306L372.7 300L372.1 294.1L371.2 289.3L369.8 284.5L367.8 279.7L365.3 274.9L362.1 270.2L358.1 265.4L354.4 261.8L350.1 258.2L344.7 254.6L340.3 252.2L334.7 249.8L329.8 248.2L323.8 246.9L319 246.3L313 246.2L307.1 246.7L302.3 247.6L297.5 249L292.2 251L287.4 253.4L281.8 257L277.2 260.6L273.4 264.2L269.1 269L265.7 273.7L263 278.5L260.8 283.3L258.8 289.3L257.8 294.1L257.2 298.8L257.1 304.8L257.6 309.6L258.5 314.4L260.3 320.4L262.3 325.1L264.9 329.9L267.6 334L271.2 338.3L274.8 341.9L279.6 345.7L284.4 348.9L289.1 351.4L293.9 353.3L299.9 355.2Z"/>
<path fill="#ff4848" d="M250.5 254.6L256.9 254.6L264.1 253.6L271.2 251.8L286.8 247.1L295.1 244.9L303.5 243.2L310.7 242.4L317.8 242.2L326.2 242.6L333.4 243.3L351.3 245.8L358.4 246.4L366.5 246.2L372.8 245L377.6 243.2L382 240.3L385.4 236.7L387.7 233.1L389.5 228.3L390 225.9L390.4 222.3L390.2 217.6L388.9 211.6L386.5 205.6L382.8 199.6L378.9 194.9L374 190.3L368 186L362 182.7L354.9 179.6L347.7 177.3L339.3 175.5L331 174.4L321.4 173.8L311.8 173.9L301.1 174.6L291.5 175.9L282 177.7L273.6 180L265.2 183L258.1 186.4L250.9 190.7L245.5 194.9L240.4 199.6L235.6 205.6L232 211.6L229.5 217.6L228.5 221.1L227.9 224.7L227.7 230.7L228.7 236.7L229.9 240.3L231.1 242.7L232.6 245.1L234.6 247.4L236.6 249.3L239.1 251L241.4 252.3L244.4 253.4L247.3 254.2Z"/>
<path fill="#4848ff" d="M308.4 356.2L314.2 356.5L320.2 356.2L325 355.6L331 354.2L336.9 352.2L341.7 350L346.5 347.3L351.3 343.9L356.1 339.7L359.6 335.9L362.4 332.3L365.4 327.5L367.9 322.7L369.7 318L371.1 313.2L372.1 307.2L372.4 302.4L372.2 296.5L371.3 290.5L370 285.7L368.2 280.9L365.8 276.1L362.8 271.4L360.1 267.8L355.6 263L351.5 259.4L346.5 255.8L342.5 253.4L337.6 251L332.2 249L326.4 247.4L321.4 246.6L315.4 246.2L310.7 246.3L304.7 247.1L299.9 248.3L295.1 249.9L289.8 252.2L285.5 254.6L280.2 258.2L275.9 261.8L271.2 266.6L267.4 271.4L264.4 276.1L262 280.9L260.1 285.7L258.7 290.5L257.7 296.5L257.3 301.2L257.5 307.2L258.5 313.2L259.7 318L261.5 322.7L263.9 327.5L266.9 332.3L270 336.4L273.6 340.2L277.2 343.4L282 346.9L286.8 349.7L291.5 352L297.5 354.1L303.5 355.5Z"/>
<path fill="#ff4646" d="M245.3 253.4L249.7 254.3L253.3 254.6L256.9 254.5L261.7 253.9L270 252L287.9 246.7L295.1 244.8L303.5 243.2L311.8 242.3L319 242.2L326.2 242.5L333.4 243.3L350.1 245.6L358.4 246.3L365.6 246.2L372 245.1L375.2 244L377.6 242.9L381.5 240.3L385 236.7L387.3 233.1L389.1 228.3L389.9 223.5L389.9 218.8L388.8 212.8L386.6 206.8L384 202L379.9 196.6L375.2 191.8L369.9 187.7L364.1 184.1L357.2 180.9L350.1 178.3L342.9 176.5L334.5 175.1L325 174.2L315.4 174L305.9 174.4L296.3 175.4L285.6 177.2L277.2 179.2L268.8 181.9L261.7 184.9L254.5 188.8L248.5 192.8L242.5 198L237.8 203.2L234.5 208L231.3 214L230 217.6L229 221.1L228.1 227.1L228.4 233.1L229.1 236.7L229.9 239.1L232.3 243.9L234 246.2L236.4 248.6L240.2 251.3L242.5 252.5Z"/>
<path fill="#4646ff" d="M303.2 355L308.3 355.8L314.2 356.1L320.2 355.8L326.2 354.9L332.2 353.4L336.9 351.7L341.7 349.5L346.5 346.8L351.3 343.4L355.7 339.5L359.6 335.3L362.8 331.1L365.7 326.3L368 321.6L369.8 316.8L371.1 312L372 306L372.2 301.2L372 296.5L371.1 290.5L369.8 285.7L367.5 279.7L365 274.9L362.7 271.4L358.9 266.6L355.5 263L351.4 259.4L346.4 255.8L342.4 253.4L336.9 250.8L332.2 249L326.2 247.4L321.4 246.6L315.4 246.2L309.5 246.5L304.7 247.2L298.7 248.6L293.9 250.4L289.1 252.6L283.6 255.8L278.8 259.4L274.7 263L271.3 266.6L267.6 271.4L264.5 276.1L262.1 280.9L259.8 286.9L258.6 291.7L257.7 297.6L257.5 302.4L257.8 307.2L258.7 313.2L260 318L261.8 322.7L264.2 327.5L267.3 332.3L271.1 337.1L274.6 340.7L278.4 343.9L283.2 347.2L287.9 349.9L292.7 352L297.5 353.6Z"/>
<path fill="#ff4444" d="M246.2 253.4L249.7 254.1L253.3 254.4L258.1 254.2L262.9 253.6L271.2 251.6L287.9 246.7L295.1 244.8L303.5 243.2L310.7 242.4L317.8 242.1L326.2 242.5L333.4 243.2L350.1 245.6L357.2 246.2L364.4 246.1L368 245.7L371.6 244.9L376.4 243.2L378.8 241.8L381 240.3L384.5 236.7L386.8 233.1L388.7 228.3L389.5 223.5L389.5 218.8L388.4 212.8L386.2 206.8L383.5 202L380 197.2L375.2 192.3L370.4 188.4L364.4 184.7L357.2 181.2L350.1 178.6L341.7 176.5L333.4 175.2L325 174.4L315.4 174.2L304.7 174.7L295.1 175.8L285.6 177.4L277.2 179.5L268.8 182.2L261.7 185.3L254.5 189.2L248.5 193.2L242.6 198.4L238.3 203.2L234.9 208L231.8 214L229.7 220L228.9 223.5L228.6 227.1L228.8 233.1L229.5 236.7L230.3 239.1L232.7 243.9L234.5 246.2L236.6 248.3L238.5 249.8L241.4 251.6Z"/>
<path fill="#4444ff" d="M305.7 355L310.7 355.6L316.6 355.6L321.4 355.3L327.4 354.2L332.2 353L338.1 350.8L342.9 348.4L347.8 345.5L352.5 341.9L356.1 338.6L359.6 334.7L363.2 329.8L366 325.1L368.2 320.4L369.9 315.6L371.2 309.6L371.9 303.6L371.9 298.8L371.5 294.1L370.6 289.3L369.2 284.5L367.3 279.7L364.8 274.9L361.7 270.2L357.7 265.4L354.1 261.8L349.8 258.2L344.4 254.6L340 252.2L334.4 249.8L328.6 248L323.8 247L319 246.4L313 246.3L307.1 246.8L302.3 247.7L296.3 249.5L291.5 251.4L286.8 253.9L282 257L277.4 260.6L273.6 264.2L270.4 267.8L266.8 272.5L264 277.3L261.7 282.1L260 286.9L258.5 292.9L257.8 298.8L257.8 303.6L258.3 309.6L259.3 314.4L260.7 319.2L262.9 324.3L265.3 328.7L268.6 333.5L272.4 338L276 341.4L279.6 344.3L284.4 347.5L289.1 350L293.9 352L299.9 353.9Z"/>
<path fill="#ff4242" d="M247.2 253.4L250.9 254.1L254.5 254.2L258.1 254.1L262.9 253.5L271.2 251.6L287.9 246.6L295.1 244.8L303.5 243.2L310.7 242.4L317.8 242.1L326.2 242.5L333.4 243.2L350.1 245.5L357.2 246.1L364.4 246L368 245.5L371.6 244.7L376.4 242.9L380.5 240.3L384.1 236.7L386.4 233.1L388.2 228.3L389.1 223.5L389 218.8L387.9 212.8L385.7 206.8L383 202L378.8 196.4L374 191.7L368.7 187.7L362.7 184.1L356.1 181L348.9 178.6L340.5 176.5L332.2 175.3L323.8 174.6L314.2 174.5L304.7 175L295.1 176L285.6 177.7L277.2 179.8L268.8 182.5L261.7 185.6L254.5 189.5L248.5 193.7L243.1 198.4L238.7 203.2L234.6 209.2L231.7 215.2L229.8 221.1L229 227.1L229.2 233.1L230 236.7L230.8 239.1L233.2 243.9L235 246.2L237.5 248.6L240.2 250.6L242.5 251.8Z"/>
<path fill="#4242ff" d="M309.2 355L314.2 355.3L320.2 355L325 354.3L331 352.9L336.9 350.8L341.7 348.6L346.5 345.8L351.3 342.4L355.9 338.3L359.2 334.7L362 331L365 326.3L367.3 321.6L369.2 316.8L370.7 310.8L371.5 306L371.7 300L371.4 295.3L370.7 290.5L369.4 285.7L367.7 280.9L365.4 276.1L362.4 271.4L358.7 266.6L355.3 263L351.2 259.4L346.2 255.8L341.7 253.2L336.9 250.9L331 248.7L326.1 247.4L320.2 246.5L314.2 246.3L309.5 246.5L303.5 247.4L298.7 248.7L292.7 250.9L287.7 253.4L283.8 255.8L278.9 259.4L274.9 263L270.5 267.8L266.9 272.5L264.7 276.1L262.3 280.9L260.5 285.7L258.9 291.7L258.2 296.5L257.9 302.4L258.2 307.2L259 312L260.2 316.8L262 321.6L264.3 326.3L267.2 331.1L271 335.9L274.8 339.9L278.4 342.9L283.2 346.3L287.9 349L292.7 351.1L298.7 353.1L303.5 354.2Z"/>
<path fill="#ff4040" d="M248.3 253.4L250.9 253.8L254.5 254.1L258.1 253.9L262.9 253.3L271.2 251.5L287.9 246.6L295.1 244.7L303.5 243.1L310.7 242.3L317.8 242.1L326.2 242.4L333.4 243.2L350.1 245.4L357.2 246L364.4 245.8L368 245.4L371.6 244.5L376.2 242.7L380 240.3L383.6 236.7L385.9 233.1L387.8 228.3L388.6 223.5L388.6 218.8L387.5 212.8L385.3 206.8L382.6 202L379 197.2L374 192.2L369.2 188.4L363.2 184.7L356.1 181.4L348.9 178.9L340.5 176.8L332.2 175.5L323.8 174.9L314.2 174.7L304.7 175.2L295.1 176.3L285.6 177.9L277.2 180L268.8 182.8L261.7 185.9L254.5 189.9L249 193.7L243.5 198.4L239.2 203.2L235.1 209.2L232.1 215.2L230.9 218.8L230 222.3L229.4 228.3L229.9 234.3L230.8 237.9L231.7 240.3L232.9 242.7L234.5 245.1L238 248.6L240.2 250.2L242.5 251.5L244.9 252.5Z"/>
<path fill="#4040ff" d="M303.5 353.8L308.3 354.5L314.2 354.8L320.2 354.6L326.2 353.7L332.2 352.1L336.9 350.4L341.7 348.2L346.5 345.4L351.3 341.9L354.9 338.8L358.7 334.7L362 330.4L365.2 325.1L367.5 320.4L369.2 315.6L370.5 310.8L371.2 306L371.5 300L371.2 295.3L370.5 290.5L369.3 285.7L367.5 280.9L365.2 276.1L362.3 271.4L358.6 266.6L355.2 263L351.1 259.4L346.1 255.8L342.1 253.4L336.9 250.9L332.2 249.1L326.2 247.5L321.4 246.7L315.4 246.3L309.5 246.5L304.7 247.2L299 248.6L293.9 250.4L289.1 252.7L283.8 255.8L279 259.4L275 263L271.6 266.6L267.8 271.4L264.8 276.1L262.5 280.9L260.7 285.7L259.4 290.5L258.5 295.3L258.1 301.2L258.4 307.2L259.2 312L260.5 316.8L262.3 321.6L264.6 326.3L267.6 331.1L271.2 335.7L274.8 339.4L278.4 342.5L283.2 345.9L287.9 348.6L292.7 350.7L297.5 352.4Z"/>
<path fill="#ff3e3e" d="M249.4 253.4L255.7 253.9L259.3 253.7L264.1 253L272.4 251.1L287.9 246.6L295.1 244.7L303.5 243.1L310.7 242.3L317.8 242.1L326.2 242.4L350.1 245.3L357.2 245.9L364.4 245.7L368 245.2L371.6 244.3L376.4 242.3L378.8 240.8L380.9 239.1L384.1 235.5L386.1 231.9L387.7 227.1L388.3 222.3L388.1 217.6L386.7 211.6L384.2 205.6L381.3 200.8L377.4 196L372.8 191.6L367.5 187.7L361.3 184.1L354.9 181.2L347.7 178.8L339.3 176.9L331 175.6L322.6 175L313 175L303.5 175.5L293.9 176.7L284.4 178.4L276 180.6L267.6 183.5L260.5 186.8L253.3 191L248 194.9L242.8 199.6L238.7 204.4L234.8 210.4L232.1 216.4L230.4 222.3L229.8 228.3L230.3 234.3L231.2 237.9L232.1 240.3L233.4 242.7L235 245.1L237.2 247.4L239 249L241.4 250.5L243.7 251.7L246.1 252.6Z"/>
<path fill="#3e3eff" d="M305.9 353.8L310.7 354.3L316.6 354.4L321.4 354L327.4 353L333.4 351.3L338.1 349.5L342.9 347.1L347.7 344.1L352.2 340.7L356.1 337.1L359.6 333L362.7 328.7L365.5 323.9L367.7 319.2L369.6 313.2L370.6 308.4L371.2 303.6L371.2 297.6L370.7 292.9L369.8 288.1L368.3 283.3L366.3 278.5L363.7 273.7L360.4 269L356.3 264.2L352.4 260.6L347.8 257L344.1 254.6L339.7 252.2L334.1 249.8L328.6 248.1L323.8 247.1L319 246.5L313 246.3L307.1 246.8L302.3 247.8L296.3 249.5L291.5 251.5L286.8 254L282.2 257L277.6 260.6L273.9 264.2L270.7 267.8L267.1 272.5L264.3 277.3L262.1 282.1L260.1 288.1L259 292.9L258.5 297.6L258.4 303.6L258.8 308.4L259.7 313.2L261.2 318L263.1 322.7L265.6 327.5L268.9 332.3L272.4 336.5L276 340L280.8 343.8L285.6 346.9L290.3 349.3L295.1 351.2L301.1 352.9Z"/>
<path fill="#ff3c3c" d="M250.7 253.4L254.5 253.7L258.1 253.7L265.2 252.7L272.4 251L287.9 246.5L295.1 244.7L303.5 243.1L310.7 242.3L317.8 242L326.2 242.4L348.9 245.1L357.2 245.8L362 245.7L365.6 245.4L371.6 244.1L376.4 242L380.4 239.1L383.6 235.5L385.7 231.9L387.3 227.1L387.9 222.3L387.7 217.6L386.3 211.6L383.8 205.6L380.8 200.8L376.9 196L371.8 191.3L365.6 186.8L359.6 183.6L353.7 181L346.5 178.7L339.3 177.1L331 175.9L321.4 175.2L311.8 175.2L302.3 175.9L292.7 177.1L284.4 178.7L276 180.9L267.6 183.8L260.5 187.1L253.4 191.3L247.3 195.9L242.2 200.8L238.3 205.6L234.6 211.6L232.1 217.6L231.1 221.1L230.4 224.7L230.2 230.7L230.7 234.3L231.2 236.7L233.2 241.5L234.6 243.9L236.5 246.2L240.2 249.4L242.5 250.9L244.9 251.9L247.3 252.7Z"/>
<path fill="#3c3cff" d="M309.4 353.8L315.4 354L321.4 353.6L326.2 352.8L332.2 351.3L336.9 349.5L341.7 347.3L346.5 344.5L351.3 340.9L354.9 337.7L358.8 333.5L362 329.2L364.5 325.1L366.9 320.4L368.6 315.6L369.9 310.8L370.8 304.8L371 298.8L370.7 294.1L369.9 289.3L368.5 284.5L366.7 279.7L364.3 274.9L361.2 270.2L358.3 266.6L354.9 263L350.9 259.4L346 255.8L341.7 253.3L336.9 251L331 248.8L325.7 247.4L320.2 246.6L314.2 246.3L309.5 246.6L303.8 247.4L298.7 248.8L292.7 251L287.9 253.4L284 255.8L279.1 259.4L275.1 263L270.7 267.8L268 271.4L265.1 276.1L262.7 280.9L260.9 285.7L259.7 290.5L258.7 296.5L258.5 302.4L258.9 307.2L259.7 312L261 316.8L262.9 321.6L265.2 326.3L268.4 331.1L271.2 334.7L274.8 338.4L278.8 341.9L283.2 345L287.9 347.7L292.7 349.9L298.7 351.9L303.5 353Z"/>
<path fill="#ff3a3a" d="M252.4 253.4L258.1 253.5L265.2 252.6L272.4 250.9L287.9 246.5L295.1 244.7L302.3 243.3L309.5 242.4L316.6 242L325 242.3L333.4 243.1L348.9 245.1L357.2 245.7L362 245.6L365.6 245.3L371.6 243.9L376.4 241.7L380 239.1L383.2 235.5L385.3 231.9L386.9 227.1L387.5 222.3L387.3 217.6L385.9 211.6L383.4 205.6L380.4 200.8L376.5 196L371.6 191.5L366.3 187.7L360 184.1L353.7 181.3L346.5 179L339.3 177.4L331 176.1L322.6 175.5L313 175.4L303.5 176L293.9 177.1L284.4 178.9L276 181.1L267.6 184.1L260.5 187.4L253.3 191.7L247.6 196L242.6 200.8L238.7 205.6L235 211.6L232.5 217.6L231.5 221.1L230.8 224.7L230.6 230.7L231.1 234.3L231.7 236.7L233.6 241.5L235.1 243.9L237 246.2L239 248.1L241.3 249.8L243.7 251.1L246.5 252.2L249.7 253Z"/>
<path fill="#3a3aff" d="M303.5 352.6L308.3 353.3L314.2 353.6L320.2 353.3L325 352.7L331 351.2L335.7 349.6L340.5 347.5L345.3 344.8L350.1 341.4L353.8 338.3L357.3 334.7L361.1 329.9L364.2 325.1L366.5 320.4L368.4 315.6L369.6 310.8L370.6 304.8L370.8 300L370.6 295.3L369.9 290.5L368.7 285.7L367 280.9L364.8 276.1L361.9 271.4L358.2 266.6L354.8 263L350.8 259.4L345.9 255.8L341.9 253.4L336.9 251L332.2 249.2L326.2 247.6L321.4 246.8L315.4 246.3L309.5 246.6L304.7 247.3L299.2 248.6L293.9 250.5L289.1 252.8L284 255.8L279.2 259.4L275.2 263L271.8 266.6L268.1 271.4L265.9 274.9L263.4 279.7L261.1 285.7L259.8 290.5L258.9 296.5L258.7 301.2L259 306L259.7 310.8L260.9 315.6L262.6 320.4L264.9 325.1L267.9 329.9L271.2 334.2L274.8 338L278.4 341.1L283.2 344.6L287.9 347.3L292.7 349.5L297.5 351.2Z"/>
<path fill="#ff3838" d="M255.6 253.4L260.5 253.2L266.4 252.3L272.4 250.9L295.1 244.6L302.3 243.2L309.5 242.3L316.6 242L325 242.2L333.4 243L348.9 245L357.2 245.6L364.4 245.3L368 244.6L370.9 243.9L375.2 242.1L379.5 239.1L382.8 235.5L384.9 231.9L386.5 227.1L387.1 222.3L386.9 217.6L385.5 211.6L382.9 205.6L379.9 200.8L376 196L370.8 191.3L365.6 187.6L359.3 184.1L352.5 181.2L345.3 179L336.9 177.2L328.6 176.1L320.2 175.7L310.7 175.7L301.1 176.4L291.5 177.7L282 179.7L274.8 181.8L266.4 184.9L259.3 188.4L252.7 192.5L246.7 197.2L242 202L237.5 208L234.3 214L232.1 220L231.4 223.5L231 227.1L231.3 233.1L232.1 236.7L232.9 239.1L234 241.5L235.5 243.9L237.5 246.2L239 247.7L241.4 249.5L244.2 251L247.3 252.2L249.7 252.8Z"/>
<path fill="#3838ff" d="M305.9 352.6L310.7 353.1L316.6 353.2L321.4 352.8L327.4 351.8L333.4 350.1L338.1 348.2L342.9 345.8L347.7 342.8L352.5 339L356.1 335.5L359.6 331.4L362.3 327.5L365.1 322.7L367.2 318L368.8 313.2L369.9 308.4L370.5 302.4L370.6 297.6L370.1 292.9L369.2 288.1L367.8 283.3L365.8 278.5L363.3 273.7L360 269L355.9 264.2L352.1 260.6L347.5 257L343.9 254.6L339.5 252.2L333.9 249.8L328.6 248.2L323.8 247.1L319 246.5L313 246.4L307.1 246.9L302.3 247.8L296.3 249.6L291.5 251.6L286.8 254.2L282.4 257L277.8 260.6L274.1 264.2L270.9 267.8L267.4 272.5L264.7 277.3L262.5 282.1L260.9 286.9L259.5 292.9L258.9 298.8L259 303.6L259.5 308.4L260.5 313.2L262 318L264.1 322.8L266.7 327.5L270 332.2L273.6 336.3L277.2 339.7L280.8 342.5L285.6 345.6L290.3 348.1L295.1 350L301.1 351.7Z"/>
<path fill="#ff3636" d="M248.2 252.2L252.1 253L255.7 253.3L259.3 253.2L264.1 252.6L272.4 250.8L288.6 246.2L296.3 244.3L303.5 243L311.8 242.1L319 242L326.2 242.3L348.9 244.9L356.1 245.4L363.2 245.2L369.2 244.2L373.4 242.7L377.6 240.3L381.4 236.7L383.9 233.1L385.8 228.3L386.6 223.5L386.6 218.8L385.5 212.8L383.1 206.8L380.3 202L376.6 197.2L371.7 192.5L366.8 188.7L360.8 185.2L354.9 182.4L347.7 179.9L339.3 177.9L332.2 176.7L323.8 176L314.2 175.9L304.7 176.3L295.1 177.4L286.8 178.9L278.4 180.9L270 183.7L262.9 186.8L256.9 190.1L250.9 194.2L245.9 198.4L241.4 203.2L237.9 208L234.7 214L232.5 220L231.5 225.9L231.5 231.9L232.2 235.5L232.9 237.9L235.1 242.7L236.9 245.1L239 247.2L242.5 249.9L244.9 251.1Z"/>
<path fill="#3636ff" d="M309.2 352.6L314.2 352.9L320.2 352.6L325 351.9L331 350.4L336.9 348.3L341.7 346L346.5 343.1L350.1 340.5L354.9 336.3L358.4 332.3L361.2 328.7L364.1 323.9L366.4 319.2L368.1 314.4L369.4 309.6L370.1 304.8L370.4 298.8L370.1 294.1L369.3 289.3L368 284.5L366.2 279.7L363.8 274.9L361.6 271.4L358 266.6L354.6 263L350.6 259.4L345.7 255.8L340.5 252.8L335.7 250.6L330.2 248.6L325 247.4L320.2 246.7L314.2 246.4L309.5 246.6L304.1 247.4L298.7 248.8L292.9 251L288.1 253.4L284.2 255.8L279.3 259.4L275.3 263L272 266.6L268.3 271.4L265.4 276.1L263.1 280.9L261.4 285.7L260.1 290.5L259.4 295.3L259.1 300L259.4 306L260.2 310.8L261.4 315.6L263.2 320.4L265.6 325.1L268.7 329.9L271.5 333.5L274.8 337.1L279.6 341.2L283.2 343.7L287.9 346.5L292.7 348.7L298.7 350.7L303.5 351.8Z"/>
<path fill="#ff3434" d="M249 252.2L252.1 252.8L255.7 253.1L259.3 253L264.1 252.5L272.4 250.7L288.4 246.2L296.3 244.3L303.5 243L310.7 242.2L317.8 241.9L325 242.2L333.4 243L348.9 244.9L356.1 245.3L363.2 245.1L369.6 243.9L374 242.1L376.4 240.8L378.6 239.1L381.9 235.5L384.1 231.9L385.7 227.1L386.3 222.3L386.1 217.6L385.1 212.8L382.7 206.8L379.9 202L376.1 197.2L371.6 192.8L366.4 188.9L360.8 185.5L354.9 182.7L347.7 180.2L340.5 178.4L332.2 177L323.8 176.2L314.2 176.1L304.7 176.5L295.1 177.6L286.8 179.1L278.4 181.2L270 184L262.9 187.1L256.9 190.4L250.9 194.5L245.1 199.6L240.9 204.4L237.6 209.2L234.5 215.2L232.6 221.1L231.8 227.1L232.1 233.1L232.9 236.7L233.7 239.1L234.9 241.5L236.4 243.9L239.7 247.4L243.7 250.2L246.1 251.3Z"/>
<path fill="#3434ff" d="M303.4 351.4L308.3 352.2L314.2 352.5L320.2 352.2L325 351.5L331 350L335.7 348.4L340.5 346.2L345.3 343.5L350.1 340.1L353.7 337L357.2 333.2L360.8 328.7L363.2 324.9L365.6 320.4L367.5 315.6L368.8 310.8L369.7 306L370.1 301.2L370 295.3L369.4 290.5L368.2 285.7L366.6 280.9L364.4 276.1L361.5 271.4L357.9 266.6L354.5 263L350.5 259.4L345.6 255.8L341.6 253.4L336.7 251L331 248.9L326.2 247.6L321.4 246.8L315.4 246.4L310.7 246.6L305.9 247.1L301.1 248.2L295.9 249.8L290.4 252.2L286.1 254.6L280.9 258.2L276.7 261.8L273.1 265.4L269.3 270.2L266.2 274.9L263.7 279.7L261.9 284.5L260.5 289.3L259.7 294.1L259.3 298.8L259.5 304.8L260.2 309.6L261.3 314.4L263 319.2L265.3 323.9L268.2 328.7L271.2 332.7L274.8 336.6L278.4 339.8L283.2 343.3L287.9 346.1L292.7 348.3L297.5 350Z"/>
<path fill="#ff3232" d="M250 252.2L253.3 252.8L256.9 253L260.5 252.8L265.2 252.2L272.4 250.7L295.1 244.5L303.5 243L310.7 242.2L317.8 241.9L325 242.2L332.2 242.8L348.9 244.8L356.1 245.3L363.2 245L368.9 243.9L374 241.9L378.2 239.1L381.5 235.5L383.7 231.9L385.3 227.1L385.9 222.3L385.7 217.6L384.7 212.8L382.9 208L379.5 202L375.7 197.2L370.7 192.5L365.6 188.7L359.6 185.2L353.7 182.5L346.5 180.1L339.3 178.4L331 177.1L322.6 176.4L314.2 176.3L305.9 176.7L296.3 177.7L287.9 179.1L278.4 181.4L270 184.2L262.9 187.4L256.9 190.7L251 194.9L245.5 199.6L241.3 204.4L238 209.2L234.9 215.2L233 221.1L232.2 227.1L232.5 233.1L233.3 236.7L234.1 239.1L235.3 241.5L236.8 243.9L240.2 247.4L242.5 249.2L244.9 250.5Z"/>
<path fill="#3232ff" d="M305.5 351.4L310.7 352L316.6 352.1L321.4 351.7L327.4 350.6L332.2 349.3L336.9 347.5L341.7 345.2L346.5 342.3L351.3 338.6L354.9 335.3L358.4 331.3L361.2 327.5L364.1 322.7L366.3 318L368.3 312L369.3 307.2L369.8 302.4L369.9 296.5L369.4 291.7L368.4 286.9L366.9 282.1L364.8 277.3L362.1 272.5L359.7 269L355.6 264.2L351.8 260.6L347.3 257L343.6 254.6L339.2 252.2L333.6 249.8L328.6 248.3L323.8 247.2L319 246.6L313 246.4L307.1 247L302.3 247.9L297.5 249.3L292.7 251.2L288.2 253.4L282.6 257L278.1 260.6L274.3 264.2L270.3 269L267.7 272.5L265 277.3L262.9 282.1L261.3 286.9L260.2 291.7L259.6 296.5L259.5 302.4L260 307.2L260.9 312L262.4 316.8L264.4 321.6L267 326.3L270 330.8L273.6 334.9L277.2 338.4L280.8 341.2L285.6 344.4L290.3 346.9L295.1 348.8L299.9 350.3Z"/>
<path fill="#ff3030" d="M251 252.2L254.5 252.7L258.1 252.8L265.2 252.1L272.4 250.6L289.1 246L296.3 244.3L303.5 242.9L310.7 242.2L317.8 241.9L325 242.1L348.9 244.7L356.1 245.2L363.2 244.8L369.2 243.6L374 241.6L377.7 239.1L381.1 235.5L383.3 231.9L384.9 227.1L385.6 222.3L385.3 217.6L384.3 212.8L381.9 206.8L379.1 202L375.2 197.2L370.4 192.6L365.3 188.9L359.6 185.5L353.7 182.8L346.5 180.4L339.3 178.6L331 177.3L322.6 176.6L314.2 176.5L304.7 177L296.3 177.9L286.8 179.6L278.4 181.7L271.2 184.1L264.1 187.1L256.9 191.1L250.9 195.3L244.9 200.7L240.8 205.6L237.7 210.4L234.8 216.4L233.1 222.3L232.5 228.3L232.7 231.9L233.1 234.3L234.5 239.1L235.7 241.5L237.3 243.9L240.7 247.4L244.9 250.2L247.3 251.2Z"/>
<path fill="#3030ff" d="M308.5 351.4L314.2 351.7L319 351.5L325 350.7L329.8 349.6L334.5 348L339.3 346L344.1 343.4L348.9 340.1L353.7 336L357.2 332.3L360 328.7L363.1 323.9L365.5 319.2L367.3 314.4L368.6 309.6L369.4 304.8L369.7 298.8L369.5 294.1L368.8 289.3L367.5 284.5L365.8 279.7L363.4 274.9L360.4 270.2L357.6 266.6L354.3 263L350.3 259.4L345.4 255.8L341.4 253.4L336.5 251L332.2 249.4L327.4 248L321.4 246.9L315.4 246.4L310.7 246.6L304.7 247.4L299.9 248.6L295.1 250.2L290.5 252.2L286.2 254.6L281 258.2L276.8 261.8L273.3 265.4L270.3 269L267.1 273.7L264.5 278.5L262.5 283.3L261.1 288.1L260 294.1L259.7 298.8L259.9 304.8L260.6 309.6L261.8 314.4L263.6 319.2L265.9 323.9L268.8 328.6L271.7 332.3L275 335.9L279.6 339.9L283.2 342.5L287.9 345.3L292.7 347.5L297.5 349.2L303.5 350.7Z"/>
<path fill="#ff2e2e" d="M252.1 252.2L255.7 252.6L259.3 252.6L266.4 251.8L273.6 250.2L295.1 244.5L303.5 242.9L310.7 242.1L317.8 241.9L325 242.1L347.7 244.5L354.9 245L362 244.8L368 243.7L372.8 241.9L375.2 240.6L377.3 239.1L380.7 235.5L382.9 231.9L384.6 227.1L385.2 222.3L384.9 217.6L383.9 212.8L381.5 206.8L378.6 202L374.8 197.2L370.4 193L365.6 189.4L359.6 185.9L353.7 183.1L346.5 180.6L339.3 178.9L331 177.5L322.6 176.8L313 176.7L303.5 177.3L293.9 178.4L285.6 180L277.2 182.3L270 184.8L262.9 188L255.7 192.2L250.4 196L245.2 200.8L241.2 205.6L237.4 211.6L234.8 217.6L233.3 223.5L232.9 229.5L233.2 233.1L233.7 235.5L235.5 240.3L236.8 242.7L238.7 245.1L240.2 246.6L242.5 248.5L244.8 249.8L247.3 251Z"/>
<path fill="#2e2eff" d="M303 350.2L308.3 351L313 351.3L319 351.2L323.8 350.6L328.6 349.6L334.5 347.7L339.3 345.6L344.1 343L348.9 339.7L352.5 336.7L356.1 333.1L359.6 328.7L362.7 323.9L365.2 319.2L367 314.4L368.3 309.6L369.3 303.6L369.5 298.8L369.3 294.1L368.6 289.3L367.4 284.5L365.6 279.7L363.9 276.1L361.1 271.4L358.5 267.8L355.4 264.2L351.6 260.6L347.1 257L343.4 254.6L338.1 251.8L333.4 249.8L327.4 248L322.6 247.1L316.6 246.5L310.7 246.6L305.9 247.2L301.1 248.2L296.1 249.8L290.6 252.2L286.3 254.6L282.7 257L278.2 260.6L274.5 264.2L270.4 269L267.2 273.7L264.6 278.5L262.7 283.3L261.3 288.1L260.3 292.9L259.9 297.6L260 303.6L260.6 308.4L261.7 313.2L263.3 318L265.6 322.7L268.4 327.5L271.2 331.3L274.8 335.3L278.4 338.5L283.2 342.1L287.9 344.9L292.7 347.1L297.5 348.9Z"/>
<path fill="#ff2c2c" d="M253.3 252.2L259.3 252.5L266.4 251.7L273.6 250.1L289.1 245.9L296.3 244.2L303.5 242.9L310.7 242.1L317.8 241.9L325 242.1L347.7 244.5L354.9 244.9L362 244.7L368 243.5L372.8 241.7L376.8 239.1L380.3 235.5L382.5 231.9L384.2 227.1L384.8 222.3L384.6 217.6L383.5 212.8L381.7 208L378.2 202L374.3 197.2L370.4 193.4L365.6 189.8L359.6 186.2L353.7 183.4L346.5 180.9L339.3 179.1L331 177.7L322.6 177.1L314.2 176.9L304.7 177.4L295.1 178.5L286.8 180L278.4 182.1L270 185L262.9 188.3L256.9 191.7L250.9 196L245.7 200.8L241.6 205.6L237.8 211.6L235.2 217.6L233.7 223.5L233.3 229.5L233.6 233.1L234.1 235.5L235.9 240.3L237.2 242.7L239.1 245.1L241.4 247.2L243.3 248.6L245.4 249.8L248.2 251Z"/>
<path fill="#2c2cff" d="M305 350.2L310.7 350.9L315.4 351L320.2 350.7L326.2 349.7L331 348.5L335.7 346.8L340.5 344.6L345.3 341.8L350.1 338.3L353.7 335.1L357.2 331.2L360.1 327.5L363.1 322.7L365.4 318L367.1 313.2L368.3 308.4L369.1 303.6L369.3 297.6L369 292.9L368.2 288.1L366.8 283.3L365 278.5L362.5 273.7L360.2 270.2L356.4 265.4L352.9 261.8L348.6 258.2L345.2 255.8L341.3 253.4L335.7 250.8L331 249L325 247.5L320.2 246.8L314.2 246.5L309.5 246.7L304.7 247.4L299.8 248.6L293.9 250.7L289.1 253L284.5 255.8L279.7 259.4L275.7 263L272.4 266.6L268.8 271.4L265.9 276.1L263.7 280.9L262 285.7L260.9 290.5L260.1 296.5L260 301.2L260.4 306L261.3 310.8L262.7 315.6L264.7 320.4L267.2 325.1L270 329.3L273.6 333.6L277.2 337.1L280.8 340L285.6 343.2L290.3 345.7L295.1 347.7L299.9 349.2Z"/>
<path fill="#ff2a2a" d="M254.9 252.2L260.5 252.3L267.6 251.4L274.8 249.8L289.1 245.9L296.3 244.2L303.5 242.9L310.7 242.1L317.8 241.8L325 242.1L347.7 244.4L354.9 244.9L362 244.5L368 243.4L372.7 241.5L376.4 239.1L379.9 235.5L382.1 231.9L383.8 227.1L384.4 222.3L384.2 217.6L383.1 212.8L381.3 208L378.6 203.2L375 198.4L370.2 193.7L365.5 190.1L359.6 186.5L353.7 183.7L346.5 181.1L339.3 179.3L331 178L322.6 177.3L314.2 177.1L304.7 177.6L295.1 178.7L286.8 180.2L278.4 182.4L270 185.3L262.9 188.6L256.9 192L250.9 196.4L246.1 200.8L241.1 206.8L238.2 211.6L235.5 217.6L234.5 221.1L233.9 224.7L233.7 230.7L234.2 234.3L234.8 236.7L236.9 241.5L239.5 245.1L241.4 246.8L243.8 248.6L246.1 249.9L248.9 251L252.1 251.8Z"/>
<path fill="#2a2aff" d="M307.5 350.2L313 350.6L317.8 350.5L323.8 349.8L328.6 348.8L333.4 347.3L338.1 345.4L342.9 342.9L347.7 339.7L352.4 335.9L355.9 332.3L358.9 328.7L362 324L364.6 319.2L366.5 314.4L367.8 309.6L368.7 304.8L369.1 300L368.9 294.1L368.2 289.3L367.1 284.5L365.3 279.7L363 274.9L360.1 270.2L357.3 266.6L354 263L350 259.4L345.2 255.8L341.2 253.4L336.3 251L331 249.1L326.2 247.8L321.4 246.9L315.4 246.5L310.7 246.7L304.8 247.4L299.9 248.6L295.1 250.3L290.7 252.2L286.4 254.6L281.2 258.2L277 261.8L273.6 265.4L270.6 269L267.4 273.7L264.9 278.5L262.9 283.3L261.5 288.1L260.6 292.9L260.2 298.8L260.4 303.6L261 308.4L262.2 313.2L263.9 318L266.1 322.7L268.3 326.3L271.2 330.4L274.8 334.4L278.4 337.7L282 340.5L286.8 343.5L291.5 345.9L296.3 347.7L302.3 349.4Z"/>
<path fill="#ff2828" d="M257.8 252.2L262.9 252L268.8 251.1L295.1 244.4L302.3 243L309.5 242.2L316.6 241.8L325 242L347.7 244.3L354.9 244.8L362 244.4L368 243.2L372.2 241.5L376 239.1L379.5 235.5L381.8 231.9L383.5 227.1L384.1 222.3L383.8 217.6L382.8 212.8L380.9 208L378.2 203.2L374.6 198.4L369.7 193.7L364.4 189.7L358.4 186.2L352.5 183.5L345.3 181.1L336.9 179.1L329.8 178.1L321.4 177.4L311.8 177.4L303.5 177.9L293.9 179.1L285.6 180.7L277.2 183L268.8 186L261.7 189.5L255.7 193.1L249.7 197.8L244.9 202.5L240.7 208L237.3 214L235.2 220L234.1 225.9L234.2 231.9L234.8 235.5L235.6 237.9L236.7 240.3L238.1 242.7L241.4 246.4L243.7 248.3L246.5 249.8L249.6 251L252.1 251.6Z"/>
<path fill="#2828ff" d="M312 350.2L317.8 350.2L322.6 349.7L328.6 348.4L333.4 347L338.1 345L342.9 342.5L347.7 339.3L351.3 336.4L354.9 333L358.4 328.8L361 325.1L363.7 320.4L365.8 315.6L367.3 310.8L368.3 306L368.8 301.2L368.9 296.5L368.5 291.7L367.5 286.9L366.1 282.1L364.1 277.3L361.5 272.5L358.2 267.8L355.1 264.2L351.4 260.6L346.8 257L343.2 254.6L338.1 251.9L333.2 249.8L328.6 248.4L323.8 247.3L317.8 246.6L311.8 246.6L307.1 247.1L302.3 248L297.5 249.4L292.7 251.3L287.9 253.8L282.9 257L278.4 260.6L274.7 264.2L270.7 269L268.2 272.5L265.5 277.3L263.5 282.1L262 286.9L261 291.7L260.5 296.5L260.4 301.2L261 307.2L262.1 312L263.7 316.8L265.8 321.6L267.8 325.1L271.2 329.9L274.3 333.5L278.1 337.1L282 340.1L286.8 343.1L291.5 345.5L296.3 347.4L301.1 348.7L307.1 349.8Z"/>
<path fill="#ff2626" d="M250.4 251L253.3 251.7L256.9 252L260.5 252.1L265.2 251.6L273.6 249.9L296.3 244.1L303.5 242.8L311.8 242L317.8 241.8L325 242L346.5 244.2L353.7 244.6L360.8 244.4L366.8 243.3L371.6 241.5L375.2 239.4L378.1 236.7L380.8 233.1L381.9 230.7L382.8 228.3L383.7 223.5L383.6 218.8L382.7 214L381.1 209.2L378.6 204.4L375.1 199.6L370.6 194.9L365.6 190.8L359.6 187.1L353.7 184.2L347.7 182L340.5 180.1L332.2 178.6L323.8 177.8L315.4 177.5L307.1 177.8L297.5 178.8L289.1 180.2L280.8 182.1L272.4 184.9L265.8 187.7L259.3 191.2L253.3 195.2L248.1 199.6L243.7 204.4L240.3 209.2L237.2 215.2L235.2 221.1L234.4 227.1L234.4 230.7L234.7 233.1L236 237.9L237 240.3L238.5 242.7L241.6 246.2L243.7 247.9L246.1 249.4Z"/>
<path fill="#2626ff" d="M304.3 349L309.5 349.7L314.2 349.9L320.2 349.6L325 348.9L329.8 347.8L334.5 346.2L339.3 344.1L344.1 341.4L348.9 338L352.5 334.9L356.1 331.2L359 327.5L362 322.9L364.4 318.2L366.3 313.2L367.6 308.4L368.4 303.6L368.7 297.6L368.4 292.9L367.7 288.1L366.4 283.3L364.5 278.5L362.8 274.9L359.8 270.2L356.1 265.4L352.6 261.8L348.4 258.2L345 255.8L341 253.4L335.7 250.9L331 249.1L325 247.6L320.2 246.8L314.2 246.5L309.5 246.8L304.7 247.5L298.7 249L293.9 250.8L288.6 253.4L284.7 255.8L281.4 258.2L277.2 261.8L273.7 265.4L269.9 270.2L266.9 274.9L264.6 279.7L262.8 284.5L261.6 289.3L260.8 294.1L260.6 300L260.9 304.8L261.7 309.6L263.1 314.4L264.9 319.2L267.4 323.9L269.8 327.5L272.6 331.1L276 334.7L279.6 337.9L284.4 341.3L289.1 344L293.9 346.1L298.7 347.8Z"/>
<path fill="#ff2424" d="M251.2 251L254.5 251.7L258.1 251.9L261.7 251.9L266.4 251.3L273.6 249.9L296.3 244.1L303.5 242.8L310.7 242L317.8 241.8L325 242L346.5 244.1L353.7 244.6L360.8 244.3L366.8 243.2L371.3 241.5L375.1 239.1L378.8 235.5L381 231.9L382.7 227.1L383.4 222.3L383.1 217.6L382 212.8L379.6 206.8L376.6 202L372.8 197.4L368.8 193.7L364 190.1L358.4 186.8L352.5 184L345.3 181.6L338.1 179.8L331 178.6L322.6 177.9L314.2 177.7L304.7 178.2L296.3 179.1L287.9 180.6L279.6 182.7L272.4 185.1L265.2 188.2L259.3 191.5L253.3 195.5L248.5 199.6L244.1 204.4L240.7 209.2L237.5 215.2L235.6 221.1L234.7 227.1L234.8 230.7L235.1 233.1L236.3 237.9L237.4 240.3L238.9 242.7L242.1 246.2L246.1 249.1L248.5 250.2Z"/>
<path fill="#2424ff" d="M306.5 349L311.8 349.5L316.6 349.5L322.6 349L327.4 348L332.2 346.7L336.9 344.8L341.7 342.4L346.5 339.4L350.9 335.9L354.6 332.3L357.7 328.7L360.8 324.3L363.1 320.4L365.2 315.6L366.8 310.8L367.8 306L368.4 301.2L368.4 295.3L367.9 290.5L366.9 285.7L365.4 280.9L363.3 276.1L360.5 271.4L357.9 267.8L354.9 264.2L351.2 260.6L346.6 257L343 254.6L338.6 252.2L333 249.8L327.4 248.1L322.6 247.2L317.8 246.7L311.8 246.6L307.1 247.1L302.3 248.1L297.5 249.5L292.7 251.4L287.9 253.8L283 257L278.6 260.6L274.9 264.2L271.8 267.8L268.4 272.5L265.8 277.3L263.7 282.1L262.2 286.9L261.3 291.7L260.8 296.5L260.8 301.2L261.3 306L262.2 310.8L263.7 315.6L265.8 320.4L268.5 325.1L271.2 329L274.8 333.1L278.4 336.5L282 339.3L286.8 342.4L291.5 344.8L296.3 346.7L301.1 348Z"/>
<path fill="#ff2222" d="M252 251L255.7 251.6L259.3 251.8L266.4 251.2L273.6 249.8L296.3 244.1L303.5 242.8L310.7 242L317.8 241.7L325 241.9L346.5 244.1L353.7 244.5L360.8 244.2L366.8 243L370.8 241.5L374.7 239.1L378.4 235.5L380.7 231.9L381.7 229.5L382.4 227.1L383 222.3L382.8 217.6L381.7 212.8L379.8 208L377 203.2L373.3 198.4L368.3 193.7L363.5 190.1L358.4 187.1L352.5 184.3L345.3 181.8L338.1 180L331 178.8L322.6 178.1L314.2 177.9L304.7 178.4L296.3 179.3L287.9 180.8L279.6 182.9L272.4 185.3L265.2 188.5L259.3 191.7L253.1 196L247.7 200.8L243.5 205.6L240.3 210.4L237.4 216.4L235.7 222.3L235 228.3L235.2 231.9L235.6 234.3L237.2 239.1L239.3 242.7L242.5 246.3L244.9 248.1L247.3 249.4Z"/>
<path fill="#2222ff" d="M309.5 349L315.4 349.2L320.2 348.9L325 348.2L329.8 347L334.5 345.4L339.3 343.3L344.1 340.6L348.9 337.2L352.5 334.1L356.4 329.9L359.6 325.6L362.1 321.6L364.4 316.8L366.2 312L367.4 307.2L368.1 302.4L368.3 297.6L368.1 292.9L367.3 288.1L366.1 283.3L364.3 278.5L361.8 273.7L358.7 269L355.8 265.4L352.4 261.8L348.2 258.2L344.1 255.4L339.3 252.6L334.5 250.5L329.8 248.8L325 247.6L320.2 246.9L314.2 246.6L309.5 246.8L304.7 247.5L299.9 248.7L295.1 250.4L290.3 252.6L285.6 255.3L281.5 258.2L277.3 261.8L273.9 265.4L270.1 270.2L267.1 274.9L264.8 279.7L263 284.5L261.8 289.3L261.1 294.1L260.9 298.8L261.1 303.6L261.9 308.4L263.1 313.2L264.9 318L267.3 322.7L270 327L273.3 331.1L277.2 335.1L280.8 338.1L284.4 340.6L289.1 343.3L293.9 345.4L298.7 347.1L304.7 348.4Z"/>
<path fill="#ff2020" d="M252.9 251L255.7 251.5L259.3 251.7L262.9 251.5L267.6 250.9L274.8 249.5L296.3 244L303.5 242.8L310.7 242L317.8 241.7L325 241.9L346.5 244L353.7 244.4L360.8 244L366.8 242.8L371.6 240.8L375.2 238.4L378 235.5L380.3 231.9L381.7 228.3L382.6 223.5L382.6 218.8L381.7 214L380 209.2L377.4 204.4L373.9 199.6L369.2 194.9L364.4 191L359 187.7L352.5 184.6L346.5 182.4L339.3 180.5L332.2 179.2L323.8 178.4L315.4 178.1L305.9 178.5L297.5 179.4L289.1 180.8L280.8 182.8L273.6 185.1L266.4 188.1L260.5 191.3L254.5 195.3L249.3 199.6L244.9 204.4L241.4 209.2L238.2 215.2L236.3 221.1L235.4 227.1L235.5 230.7L235.8 233.1L237.1 237.9L238.2 240.3L239.7 242.7L242.9 246.2L244.9 247.8L247.3 249.1L249.7 250.1Z"/>
<path fill="#2020ff" d="M303.4 347.8L308.3 348.6L313 348.9L319 348.7L323.8 348.1L328.6 347L334.5 345.1L339.3 342.9L344.1 340.2L348.9 336.8L352.5 333.6L356 329.9L358.8 326.3L361.1 322.7L363.6 318L365.5 313.2L366.9 308.4L367.7 303.6L368.1 297.6L367.9 292.9L367.2 288.1L365.9 283.3L364.1 278.5L361.7 273.7L359.5 270.2L355.7 265.4L352.3 261.8L348.1 258.2L344.7 255.8L340.8 253.4L335.8 251L331 249.2L326.2 247.9L321.4 247.1L315.4 246.6L310.7 246.8L305.9 247.4L301.1 248.4L296.3 249.9L291.1 252.2L286.8 254.6L283.2 257L278.7 260.6L275 264.2L271 269L267.9 273.7L265.4 278.5L263.5 283.3L262.2 288.1L261.3 294.1L261.1 298.8L261.3 303.6L262.1 308.4L263.4 313.2L265.2 318L267.6 322.7L269.9 326.3L272.7 329.9L276 333.5L279.6 336.7L284.4 340.2L289.1 342.9L293.9 345.1L298.7 346.7Z"/>
<path fill="#ff1e1e" d="M253.9 251L256.9 251.4L260.5 251.5L267.6 250.9L274.8 249.4L296.3 244L303.5 242.7L310.7 241.9L317.8 241.7L325 241.9L346.5 243.9L353.7 244.3L360.8 243.9L366.7 242.7L371.6 240.6L375.2 238L377.6 235.5L380 231.9L381 229.5L381.7 227.1L382.3 222.3L382.1 217.6L381 212.8L379 208L376.3 203.2L372.5 198.4L368 194.2L363.2 190.6L357.2 187.1L351.3 184.4L345.3 182.3L336.9 180.2L329.8 179.1L321.4 178.5L313 178.4L304.7 178.8L295.1 179.9L287.9 181.2L279.6 183.4L272.4 185.8L265.2 189L259.1 192.5L253.3 196.6L248.5 200.8L244.3 205.6L241 210.4L238.1 216.4L236.3 222.3L235.7 228.3L235.9 231.9L236.3 234.3L238 239.1L240.2 242.8L242.1 245.1L243.7 246.5L246.1 248.2L248.5 249.4L250.9 250.3Z"/>
<path fill="#1e1eff" d="M305.3 347.8L310.7 348.5L315.4 348.6L320.2 348.2L326.2 347.3L331 346L335.7 344.2L340.5 341.9L344.6 339.5L348.9 336.4L352.5 333.2L356.1 329.4L359.3 325.1L361.5 321.6L363.9 316.8L365.7 312L366.9 307.2L367.7 302.4L367.9 297.6L367.7 292.9L367 288.1L365.8 283.3L364 278.5L361.6 273.7L359.4 270.2L355.6 265.4L352.2 261.8L348 258.2L344.6 255.8L340.7 253.4L335.7 251L331 249.2L325 247.7L320.2 246.9L314.2 246.6L309.5 246.9L304.7 247.6L298.7 249.1L293.9 250.9L288.9 253.4L284.9 255.8L281.6 258.2L277.5 261.8L274 265.4L270.3 270.2L267.3 274.9L265 279.7L263.3 284.5L262.1 289.3L261.3 295.3L261.3 300L261.7 304.8L262.6 309.6L264 314.4L266 319.2L268.6 323.9L271.1 327.5L274.8 331.9L278.4 335.3L282 338.2L286.8 341.3L291.5 343.7L295.1 345.2L299.9 346.7Z"/>
<path fill="#ff1c1c" d="M254.9 251L260.5 251.4L267.6 250.8L274.8 249.3L296.3 244L303.5 242.7L310.7 241.9L317.8 241.7L325 241.9L346.5 243.9L352.5 244.2L359.6 243.9L366.1 242.7L370.4 240.9L374 238.7L377.3 235.5L379.6 231.9L380.6 229.5L381.4 227.1L382 222.3L381.7 217.6L380.6 212.8L378.7 208L375.9 203.2L372.1 198.4L368 194.5L363.2 190.9L357.2 187.3L351.3 184.6L344.1 182.2L336.9 180.5L329.8 179.3L321.4 178.7L313 178.6L304.7 179L296.3 179.9L287.9 181.4L279.6 183.6L272.4 186.1L265.2 189.3L259.3 192.6L252.9 197.2L247.7 202L243.8 206.8L240.7 211.6L238 217.6L236.5 223.5L236.1 228.3L236.3 231.9L236.7 234.3L238.3 239.1L239.6 241.5L241.4 243.9L244.9 247.1L247.3 248.6L249.7 249.7Z"/>
<path fill="#1c1cff" d="M307.7 347.8L313 348.2L317.8 348.1L323.8 347.4L328.6 346.3L333.4 344.8L338.1 342.8L342.9 340.2L346.5 337.8L350.4 334.7L354.1 331.1L357.2 327.4L360.5 322.7L363.1 318L365 313.2L366.4 308.4L367.3 303.6L367.7 298.8L367.6 294.1L367 289.3L366 284.5L364.3 279.7L362.1 274.9L359.2 270.2L356.6 266.6L353.3 263L349.4 259.4L344.6 255.8L340.6 253.4L335.7 251L331 249.3L326.2 248L321.4 247.1L315.4 246.7L310.7 246.8L305.9 247.4L301.1 248.5L296.3 250L291.5 252.1L286.9 254.6L283.3 257L278.8 260.6L275.2 264.2L272.1 267.8L268.8 272.5L266.2 277.3L264.2 282.1L262.8 286.9L261.9 291.7L261.4 296.5L261.5 301.2L262 306L263.1 310.8L264.7 315.6L266.9 320.4L269.7 325.1L272.4 328.8L276 332.7L279.6 336L283.2 338.7L287.9 341.6L292.7 343.9L297.5 345.7L302.3 346.9Z"/>
<path fill="#ff1a1a" d="M256.1 251L261.7 251.3L268.8 250.5L276 249L296.3 244L303.5 242.7L310.7 241.9L317.8 241.6L325 241.8L345.3 243.7L352.5 244.1L359.6 243.8L365.6 242.6L370.4 240.7L374 238.4L376.9 235.5L379.3 231.9L380.3 229.5L381 227.1L381.7 222.3L381.4 217.6L380.3 212.8L378.3 208L375.5 203.2L371.6 198.4L366.8 193.9L362 190.4L356.1 187L350.1 184.4L344.1 182.4L336.9 180.7L329.8 179.5L321.4 178.9L313 178.7L304.7 179.2L296.3 180.1L287.9 181.7L279.6 183.8L272.4 186.3L265.2 189.5L259.3 192.9L253.3 197.2L248.1 202L244.1 206.8L241.1 211.6L238.3 217.6L236.8 223.5L236.4 229.5L236.8 233.1L237.3 235.5L239.3 240.3L241.8 243.9L243.7 245.8L245.9 247.4L248 248.6L250.8 249.8Z"/>
<path fill="#1a1aff" d="M311.8 347.8L317.8 347.8L322.6 347.3L327.4 346.3L332.2 344.9L336.9 343L341.7 340.5L346.5 337.4L350.1 334.6L353.7 331.2L356.8 327.5L359.6 323.6L362.2 319.2L364.3 314.4L365.9 309.6L366.9 304.8L367.5 300L367.5 295.3L367.1 290.5L366.1 285.7L364.7 280.9L362.6 276.1L360.7 272.5L357.4 267.8L354.4 264.2L350.7 260.6L346.2 257L342.6 254.6L338.2 252.2L333.4 250.1L328.6 248.6L323.5 247.4L317.8 246.8L311.8 246.7L307.1 247.2L302.3 248.2L297.5 249.6L293.8 251L289 253.4L285.1 255.8L280.3 259.4L276.4 263L273.2 266.6L269.6 271.4L266.9 276.1L264.8 280.9L263.2 285.7L262.2 290.5L261.7 295.3L261.6 300L262.1 304.8L263 309.6L264.5 314.4L266.5 319.2L268.8 323.3L271.8 327.5L274.8 331.1L278.4 334.6L282 337.5L286.8 340.6L291.5 343L296.3 344.9L301.1 346.3L305.9 347.3Z"/>
<path fill="#ff1818" d="M257.6 251L262.9 251.1L270 250.2L276 248.9L295.1 244.2L302.3 242.8L309.5 242L316.6 241.6L323.8 241.7L345.3 243.6L352.5 244L359.6 243.7L365.6 242.5L370.4 240.5L374 238L376.5 235.5L378.9 231.9L380 229.5L380.7 227.1L381.3 222.3L381 217.6L379.9 212.8L378 208L375.1 203.2L371.2 198.4L366.8 194.3L362 190.7L356.1 187.3L350.1 184.7L342.9 182.3L335.7 180.7L328.6 179.6L320.2 179L311.8 179L302.3 179.6L293.9 180.7L285.6 182.4L278.4 184.4L271.2 187L264.1 190.4L258.1 194L252.3 198.4L247.4 203.2L243.6 208L240.8 212.8L238.3 218.8L237 224.7L236.8 230.7L237.7 235.5L238.5 237.9L239.6 240.3L241.2 242.7L243.3 245.1L247.3 248L252.1 250Z"/>
<path fill="#1818ff" d="M304.1 346.7L309.5 347.4L314.2 347.6L320.2 347.2L325 346.5L329.8 345.3L334.5 343.7L339.3 341.5L344.1 338.7L348 335.9L352.1 332.3L355.5 328.7L358.4 324.9L360.8 321.1L363.1 316.8L364.9 312L366.2 307.2L367 302.4L367.4 297.6L367.2 292.9L366.5 288.1L365.3 283.3L363.6 278.5L361.2 273.7L359 270.2L355.3 265.4L351.9 261.8L347.7 258.2L344.4 255.8L340.4 253.4L335.5 251L331 249.3L326.2 248L321.4 247.1L315.4 246.7L310.7 246.8L305.9 247.4L301.1 248.5L296.3 250L291.3 252.2L287 254.6L283.4 257L279 260.6L275.3 264.2L271.4 269L268.3 273.7L265.8 278.5L264 283.3L262.8 288.1L262 292.9L261.7 297.6L261.9 302.4L262.7 307.2L263.9 312L265.7 316.8L267.6 320.8L270.3 325.1L273.1 328.7L276.4 332.3L280.4 335.9L284.4 338.8L289.1 341.5L293.9 343.7L298.7 345.4Z"/>
<path fill="#ff1616" d="M252.1 249.8L255.7 250.6L259.3 251L262.9 251L267.6 250.5L274.8 249.1L297.5 243.7L304.7 242.5L311.8 241.8L317.8 241.6L325 241.8L345.3 243.6L352.5 243.9L358.4 243.7L364.4 242.6L369.2 240.9L372.8 238.7L376.2 235.5L378.6 231.9L380 228.3L380.9 223.5L380.9 218.8L379.9 214L378.2 209.2L375.6 204.4L371.9 199.6L368 195.7L363.2 191.9L357.2 188.2L351.3 185.4L345.3 183.2L338.1 181.4L331 180.1L323.8 179.4L315.4 179.1L307.1 179.4L298.7 180.2L290.3 181.6L282 183.5L274.8 185.8L267.6 188.8L261.7 192L255.6 196L250.1 200.8L246.1 205.1L242.4 210.4L240 215.2L238.3 220L237.2 225.9L237.1 229.5L237.3 231.9L238.4 236.7L239.4 239.1L240.7 241.5L243.7 245.1L247.3 247.7L249.7 249Z"/>
<path fill="#1616ff" d="M306.1 346.7L311.8 347.2L316.6 347.2L321.4 346.8L326.2 345.9L331 344.6L335.7 342.8L340.5 340.5L345.3 337.5L349 334.7L352.9 331.1L356.1 327.5L359.5 322.7L361.6 319.2L363.8 314.4L365.4 309.6L366.5 304.8L367.1 300L367.1 295.3L366.7 290.5L365.8 285.7L364.8 282.1L362.9 277.3L360.4 272.5L358.1 269L354.2 264.2L350.5 260.6L346 257L342.4 254.6L338 252.2L333.4 250.2L328.6 248.6L323.8 247.5L319 246.9L313 246.7L308.3 247.1L303.5 247.9L298.7 249.2L294 251L289.1 253.4L285.2 255.8L281.9 258.2L277.8 261.8L274.3 265.4L270.6 270.2L267.7 274.9L265.4 279.7L263.8 284.5L262.7 289.3L262 294.1L261.9 298.8L262.3 303.6L263.1 308.4L264.5 313.2L266.5 318L268.8 322.4L271.5 326.3L274.8 330.3L278.4 333.8L282 336.7L286.8 339.9L291.5 342.4L296.3 344.3L301.1 345.7Z"/>
<path fill="#ff1414" d="M252.8 249.8L255.7 250.5L259.3 250.8L262.9 250.9L267.6 250.4L274.8 249.1L297.5 243.6L304.7 242.4L311.8 241.8L317.8 241.6L325 241.8L345.3 243.5L351.3 243.8L358.4 243.6L364.4 242.5L369.2 240.6L372.8 238.4L375.8 235.5L378.2 231.9L379.7 228.3L380.6 223.5L380.5 218.8L379.6 214L377.8 209.2L375.2 204.4L371.6 199.7L368 196L363.2 192.2L358 188.9L352.5 186.2L345.3 183.5L338.1 181.6L331 180.3L323.8 179.6L315.4 179.3L307.1 179.6L298.7 180.4L290.3 181.8L282 183.8L274.8 186.1L267.6 189.1L261.7 192.3L256.1 196L251.7 199.6L247.1 204.4L243.5 209.2L240.3 215.2L238.3 221.1L237.5 225.9L237.4 229.5L237.6 231.9L238.7 236.7L239.7 239.1L241.1 241.5L244.1 245.1L246.1 246.7L248.5 248.1Z"/>
<path fill="#1414ff" d="M308.6 346.7L314.2 346.9L319 346.7L323.8 346.1L328.6 345L333.4 343.5L338.1 341.4L342.9 338.8L347.1 335.9L351.3 332.3L354.7 328.7L357.6 325.1L360 321.6L362.5 316.8L364.4 312L365.8 307.2L366.6 302.4L367 297.6L366.8 292.9L366.2 288.1L365 283.3L363.3 278.5L361 273.7L358 269L355.1 265.4L351.7 261.8L347.6 258.2L344.2 255.8L339.3 252.9L334.5 250.7L329.8 249L325 247.8L320.2 247L314.2 246.7L309.5 247L304.7 247.7L299.9 248.9L295.1 250.6L290.3 252.8L285.3 255.8L282 258.2L277.8 261.8L274.4 265.4L271.6 269L268.5 273.7L266.1 278.5L264.7 282.1L263.3 286.9L262.4 291.7L262.1 296.5L262.2 301.2L262.8 306L264 310.8L265.7 315.6L268 320.4L271 325.1L273.6 328.5L277.2 332.3L280.8 335.5L284.4 338.1L289.1 340.9L293.9 343.1L298.7 344.7L303.5 345.9Z"/>
<path fill="#ff1212" d="M253.5 249.8L256.9 250.5L260.5 250.8L267.6 250.3L276 248.7L297.5 243.6L304.7 242.4L310.7 241.8L316.6 241.6L323.8 241.7L345.3 243.5L351.3 243.8L358.4 243.5L364.4 242.3L369.2 240.4L372.8 238.1L375.5 235.5L377.9 231.9L379.4 228.3L380.3 223.5L380.2 218.8L379.3 214L377.5 209.2L374.8 204.4L371.2 199.6L366.8 195.3L362 191.7L356.1 188.1L350.1 185.4L344.1 183.3L336.9 181.5L329.8 180.4L322.6 179.7L314.2 179.5L305.9 179.8L297.5 180.7L289.1 182.2L282 184L274.8 186.3L267.6 189.3L261.7 192.6L256.5 196L252.1 199.6L247.3 204.6L243.9 209.2L240.6 215.2L238.6 221.1L237.8 225.9L237.7 229.5L237.9 231.9L239.1 236.7L240.1 239.1L241.5 241.5L244.5 245.1L248.5 247.9L250.9 249Z"/>
<path fill="#1212ff" d="M302.9 345.5L308.3 346.3L313 346.6L317.8 346.5L322.6 346L327.4 345L332.2 343.6L336.9 341.6L341.7 339.1L346.5 336L350.1 333L353.7 329.5L356.4 326.3L358.9 322.7L361.7 318L363.8 313.2L365.3 308.4L366.3 303.6L366.7 298.8L366.7 294.1L366.2 289.3L365.2 284.5L363.7 279.7L361.5 274.9L359.5 271.4L357 267.8L354 264.2L350.3 260.6L345.9 257L342.3 254.6L336.9 251.8L332.2 249.8L327.4 248.4L322.6 247.4L317.8 246.9L311.8 246.8L307.1 247.3L302.3 248.3L297.1 249.8L292.7 251.6L287.9 254.2L283.6 257L279.2 260.6L275.6 264.2L272.5 267.8L269.3 272.5L267.3 276.1L265.2 280.9L263.7 285.7L262.7 290.5L262.3 295.3L262.3 300L262.8 304.8L263.8 309.6L265.4 314.4L267.6 319.2L270 323.3L273.1 327.5L276.3 331.1L280.3 334.7L284.4 337.7L287.9 339.9L292.7 342.2L297.5 344Z"/>
<path fill="#ff1010" d="M254.3 249.8L256.9 250.3L260.5 250.6L264.1 250.6L268.8 250.1L276 248.7L297.5 243.6L304.7 242.4L310.7 241.8L316.6 241.5L323.8 241.6L345.3 243.4L351.3 243.7L358.4 243.3L364.4 242.1L369 240.3L372.7 237.9L375.1 235.5L377.6 231.9L379 228.3L380 223.5L379.9 218.8L378.9 214L377.2 209.2L374.5 204.4L370.8 199.6L366.8 195.7L362 192L356.1 188.4L350.1 185.7L344.1 183.6L336.9 181.8L329.8 180.6L322.6 179.9L314.2 179.7L305.9 180L297.5 180.9L289.1 182.4L282 184.2L276 186.1L268.8 189L262.9 192.1L256.9 196L252.1 200L247.3 205L243.5 210.4L241 215.2L239.2 220L238.1 225.9L238.1 229.5L238.3 231.9L239.4 236.7L240.4 239.1L241.8 241.5L245 245.1L247.3 246.9L249.7 248.2Z"/>
<path fill="#1010ff" d="M304.6 345.5L309.5 346.1L314.2 346.3L320.2 346L325 345.2L329.8 344L334.5 342.3L339.3 340.1L342.9 338.1L347.6 334.7L351.3 331.5L354.9 327.7L357.8 323.9L360.1 320.4L362.5 315.6L364.3 310.8L365.6 306L366.4 301.2L366.6 296.5L366.4 291.7L365.6 286.9L364.4 282.1L362.5 277.3L360.1 272.5L357.7 269L354.9 265.4L351.5 261.8L347.4 258.2L344.1 255.8L340.1 253.4L335.2 251L329.8 249.1L325 247.8L320.2 247.1L314.2 246.8L309.5 247L304.7 247.7L299.9 248.9L294.1 251L289.3 253.4L285.4 255.8L282.1 258.2L278 261.8L274.6 265.4L270.9 270.2L268 274.9L266.3 278.5L264.5 283.3L263.3 288.1L262.6 292.9L262.4 297.6L262.7 302.4L263.4 307.2L264.8 312L266.4 316.3L268.5 320.4L271.2 324.7L274.4 328.7L277.9 332.3L282 335.7L285.6 338.1L290.3 340.8L295.1 342.9L299.9 344.4Z"/>
<path fill="#ff0e0e" d="M255.1 249.8L258.1 250.3L261.7 250.5L268.8 250L276 248.6L297.5 243.5L304.7 242.4L310.7 241.8L316.6 241.5L323.8 241.6L344.1 243.3L351.3 243.6L358.4 243.2L364.4 242L368.6 240.3L372.3 237.9L374.8 235.5L377.2 231.9L378.7 228.3L379.6 223.5L379.6 218.8L378.6 214L376.8 209.2L374.1 204.4L370.4 199.6L366.8 196L362 192.3L356.4 188.9L350.1 185.9L344.1 183.8L336.9 182L329.8 180.8L322.6 180.1L314.2 179.9L305.9 180.2L297.5 181.1L289.1 182.6L282 184.4L274.8 186.7L267.6 189.8L261.7 193.1L255.7 197.2L251.6 200.8L247.2 205.6L243.8 210.4L240.8 216.4L239.2 221.1L238.4 227.1L238.5 230.7L238.8 233.1L240.2 237.9L241.4 240.3L243.1 242.7L246.1 245.7L249.7 248L252.1 249Z"/>
<path fill="#0e0eff" d="M306.5 345.5L311.8 346L316.6 345.9L321.4 345.5L326.2 344.6L331 343.3L335.7 341.5L340.5 339.1L345.3 336.1L348.9 333.3L352.5 329.9L356.1 325.9L359.1 321.6L361.1 318L363.3 313.2L364.8 308.4L365.8 303.6L366.4 298.8L366.4 294.1L365.9 289.3L364.9 284.5L363.8 280.9L361.9 276.1L359.2 271.4L356.8 267.8L353.8 264.2L350.1 260.6L345.7 257L342.1 254.6L337.7 252.2L332.2 249.9L327.4 248.4L322.6 247.4L317.8 246.9L311.8 246.9L307.1 247.4L302.3 248.3L297.5 249.7L292.7 251.7L287.9 254.2L283.7 257L279.3 260.6L275.7 264.2L272.7 267.8L270.2 271.4L268.1 274.9L265.9 279.7L264.3 284.5L263.2 289.3L262.6 294.1L262.6 298.8L263 303.6L263.9 308.4L265.4 313.2L267.5 318L269.5 321.6L272.4 325.9L276 330L279.6 333.4L283.2 336.2L287.9 339.2L292.7 341.6L297.5 343.4L302.3 344.7Z"/>
<path fill="#ff0c0c" d="M255.9 249.8L261.7 250.4L268.8 249.9L276 248.6L297.5 243.5L304.7 242.4L310.7 241.7L316.6 241.5L323.8 241.6L344.1 243.2L351.3 243.5L357.2 243.3L363.2 242.2L368 240.4L371.6 238.1L374.4 235.5L376.9 231.9L378.4 228.3L379.3 223.5L379.2 218.8L378.3 214L376.5 209.2L373.8 204.4L370.4 200L366.4 196L361.8 192.5L356.1 189L350.1 186.2L344.1 184L336.9 182.2L329.8 181L322.6 180.3L314.2 180L305.9 180.4L297.5 181.3L290.3 182.5L282 184.6L274.8 187L267.6 190.1L261.7 193.4L256.1 197.2L250.9 201.8L247.3 205.8L244.1 210.4L241.1 216.4L239.5 221.1L238.7 227.1L238.8 230.7L239.1 233.1L240.5 237.9L242.5 241.5L244.5 243.9L246.1 245.4L248.5 247.1L250.9 248.3Z"/>
<path fill="#0c0cff" d="M309.1 345.5L314.2 345.7L319 345.5L323.8 344.8L328.6 343.7L333.4 342.1L338.1 340.1L342.9 337.4L346.7 334.7L350.1 331.9L353.7 328.3L357.2 323.9L359.6 320.1L362 315.6L363.9 310.8L365.2 306L366 301.2L366.3 296.5L366.1 291.7L365.3 286.9L364.1 282.1L362.3 277.3L360.5 273.7L357.5 269L354.7 265.4L351.3 261.8L347.2 258.2L343.9 255.8L339.3 253.1L335 251L329.8 249.1L325 247.9L320.2 247.1L314.2 246.8L309.5 247.1L304.7 247.8L299.9 249L295.1 250.7L290.3 252.9L285.5 255.8L282.2 258.2L278.1 261.8L274.7 265.4L271.9 269L269.5 272.5L267 277.3L265.1 282.1L263.8 286.9L263 291.7L262.7 296.5L262.9 301.2L263.6 306L264.8 310.8L266.4 315.2L268.3 319.2L271.2 323.8L274.1 327.5L277.5 331.1L282 335L285.6 337.5L290.3 340.2L295.1 342.2L299.9 343.8L304.7 344.9Z"/>
<path fill="#ff0a0a" d="M256.8 249.8L262.9 250.3L270 249.6L276 248.5L297.5 243.5L304.7 242.3L310.7 241.7L316.6 241.5L323.8 241.6L344.1 243.1L351.3 243.4L357.2 243.1L363.2 242L367.8 240.3L371.5 237.9L374.1 235.5L376.6 231.9L378.1 228.3L379 223.5L378.9 218.8L378 214L376.2 209.2L373.4 204.4L369.7 199.6L366 196L361.4 192.5L356.1 189.2L350.1 186.4L344.1 184.3L336.9 182.4L329.8 181.1L322.6 180.5L314.2 180.2L305.9 180.6L297.5 181.5L289.1 183L282 184.8L274.8 187.2L267.6 190.3L261.7 193.6L256.5 197.2L251.1 202L247.3 206.3L243.7 211.6L241.4 216.4L239.6 222.3L239 227.1L239.1 230.7L239.4 233.1L240.9 237.9L242.1 240.3L243.8 242.7L247.3 246L249.6 247.4L252.1 248.6Z"/>
<path fill="#0a0aff" d="M303.2 344.3L308.3 345.1L313 345.4L317.8 345.3L322.6 344.7L327.4 343.7L332.2 342.3L336.9 340.3L341.7 337.8L345.3 335.4L349.2 332.3L352.9 328.7L356.1 325L358.5 321.6L361.2 316.8L363.2 312L364.7 307.2L365.6 302.4L366.1 297.6L366 292.9L365.4 288.1L364.6 284.5L363.1 279.7L361.6 276.1L359 271.4L356.6 267.8L353.6 264.2L350 260.6L345.5 257L341.9 254.6L336.9 251.9L332.2 250L327.4 248.5L322.6 247.5L317.8 246.9L311.8 246.9L307.1 247.4L302.3 248.3L297.4 249.8L292.7 251.8L287.9 254.3L283.9 257L279.5 260.6L275.9 264.2L272.8 267.8L270.4 271.4L267.7 276.1L265.6 280.9L264.2 285.7L263.3 290.5L262.9 295.3L262.9 300L263.5 304.8L264.6 309.6L266.3 314.4L268.6 319.2L270.8 322.7L273.6 326.6L277.2 330.5L280.8 333.7L284.4 336.4L289.1 339.2L293.9 341.5L298.7 343.1Z"/>
<path fill="#ff0808" d="M257.8 249.8L264.1 250.1L270 249.5L277.2 248.2L297.5 243.5L304.7 242.3L310.7 241.7L316.6 241.4L323.8 241.5L344.1 243.1L351.3 243.4L357.2 243L363.2 241.9L367.3 240.3L371.2 237.9L373.7 235.5L376.3 231.9L377.8 228.3L378.7 223.5L378.6 218.8L377.7 214L375.8 209.2L373.1 204.4L369.3 199.6L365.6 196.1L360.9 192.5L356.1 189.5L350.1 186.6L344.1 184.5L336.9 182.6L329.8 181.3L322.6 180.6L314.2 180.4L305.9 180.8L297.5 181.7L289.1 183.2L282 185L274.8 187.4L267.6 190.5L261.7 193.9L255.7 198.2L251.4 202L247.3 206.8L244.1 211.6L241.3 217.6L239.7 223.5L239.3 227.1L239.3 229.5L240 234.3L240.7 236.7L241.8 239.1L244.2 242.7L246.1 244.7L248.1 246.2L250.1 247.4L252.9 248.6Z"/>
<path fill="#0808ff" d="M304.7 344.3L309.5 344.9L315.4 345.1L320.2 344.7L325 344L329.8 342.7L334.5 341L339.3 338.8L342.9 336.7L347.7 333.2L351.3 330L354.7 326.3L357.4 322.7L359.6 319.2L362 314.4L363.8 309.6L365 304.8L365.7 300L365.9 295.3L365.6 290.5L364.8 285.7L363.8 282.1L362 277.3L360.3 273.7L357.3 269L354.5 265.4L351.2 261.8L347 258.2L343.7 255.8L339.8 253.4L334.8 251L329.8 249.2L325 247.9L320.2 247.2L315.4 246.9L310.7 247L305.9 247.6L301.1 248.7L296.3 250.3L291.8 252.2L286.8 255.1L282.4 258.2L278.2 261.8L274.9 265.4L272 269L269.7 272.5L267.2 277.3L265.3 282.1L264 286.9L263.3 291.7L263 296.5L263.2 301.2L264 306L265.2 310.8L267.1 315.6L269.5 320.4L271.9 323.9L274.8 327.6L278.4 331.3L282 334.3L286.8 337.6L291.5 340.1L295.1 341.6L299.9 343.2Z"/>
<path fill="#ff0606" d="M259 249.8L265.2 250L271.2 249.3L277.2 248.1L297.5 243.4L303.5 242.4L309.5 241.8L316.6 241.4L323.8 241.5L344.1 243L351.3 243.3L357.2 242.9L363.2 241.7L366.9 240.3L370.8 237.9L373.4 235.5L375.9 231.9L377.5 228.3L378.4 223.5L378.3 218.8L377.3 214L375.5 209.2L372.7 204.4L369.2 199.9L365.2 196L360.5 192.5L354.9 189.1L348.9 186.4L342.9 184.3L335.7 182.5L328.6 181.4L321.4 180.8L313 180.6L304.7 181L296.3 182L287.9 183.6L280.8 185.5L273.6 188.1L267.6 190.8L261.7 194.2L255.7 198.5L250.6 203.2L246.7 208L243.1 214L241.2 218.8L239.8 224.7L239.6 228.3L239.7 230.7L240.6 235.5L241.5 237.9L242.8 240.3L245.6 243.9L247.3 245.4L249.7 247L252.1 248.1L254.5 249Z"/>
<path fill="#0606ff" d="M306.6 344.3L311.8 344.7L316.6 344.7L321.4 344.3L326.2 343.4L331 342.1L335.7 340.2L340.5 337.8L344.1 335.5L347.7 332.9L351.3 329.6L354.9 325.7L357.9 321.6L360 318L362.3 313.2L363.9 308.4L365 303.6L365.6 298.8L365.7 294.1L365.3 289.3L364.4 284.5L362.9 279.7L361.4 276.1L358.8 271.4L356.3 267.8L353.4 264.2L349.8 260.6L345.4 257L341.8 254.6L337.4 252.2L332.2 250L327.4 248.5L322.6 247.5L317.8 247L311.8 246.9L307.1 247.4L302.3 248.4L297.5 249.8L292.7 251.8L287.6 254.6L284 257L281 259.4L277.1 263L273.9 266.6L270.5 271.4L268.5 274.9L266.3 279.7L264.7 284.5L263.7 289.3L263.2 294.1L263.2 298.8L263.7 303.6L264.7 308.4L266.3 313.2L267.9 316.8L270 320.7L273.1 325.1L276 328.6L279.6 332L283.2 334.9L287.9 337.9L292.7 340.3L297.5 342.2L302.3 343.5Z"/>
<path fill="#ff0404" d="M260.5 249.8L265.2 249.9L271.2 249.2L277.2 248.1L297.5 243.4L303.5 242.4L309.5 241.7L315.4 241.4L322.6 241.4L344.1 243L351.3 243.2L358.3 242.7L363.2 241.5L368 239.5L371.6 236.9L374.1 234.3L376.2 230.7L377.5 227.1L378.2 222.3L378 218.8L377 214L375.2 209.2L372.4 204.4L368.6 199.6L364.8 196L360.1 192.5L354.9 189.4L348.9 186.6L342.9 184.5L335.7 182.7L328.6 181.6L321.4 180.9L313 180.8L304.7 181.2L296.3 182.2L287.9 183.8L280.8 185.7L273.6 188.3L267.2 191.3L261 194.9L255.7 198.8L251 203.2L247 208L244 212.8L241.5 218.8L240.1 224.7L239.9 228.3L240 230.7L241 235.5L241.9 237.9L243.1 240.3L246 243.9L249.7 246.7L252.1 247.9L254.5 248.8L256.9 249.4Z"/>
<path fill="#0404ff" d="M309.1 344.3L314.2 344.5L319 344.3L323.8 343.6L328.6 342.5L333.4 340.9L338.1 338.8L342.9 336L346.5 333.5L350.1 330.4L353.7 326.7L356.8 322.7L359.1 319.2L361 315.6L363 310.8L364.3 306L365.2 301.2L365.6 296.5L365.4 291.7L364.7 286.9L363.6 282.1L361.8 277.3L360.1 273.7L357.1 269L354.3 265.4L351 261.8L346.9 258.2L343.6 255.8L339.6 253.4L334.7 251L329.8 249.2L325 248L320.2 247.2L314.2 246.9L309.5 247.2L304.7 247.9L299.9 249.1L295.1 250.8L290.3 253.1L285.8 255.8L282.5 258.2L278.4 261.8L275 265.4L272.2 269L269.2 273.7L266.9 278.5L265.6 282.1L264.3 286.9L263.5 291.7L263.3 296.5L263.5 301.2L264.3 306L265.6 310.8L267.5 315.6L269.4 319.2L271.6 322.7L274.8 326.9L278.4 330.6L282 333.6L285.6 336.2L290.3 338.9L295.1 341L299.9 342.6L304.7 343.7Z"/>
<path fill="#ff0202" d="M254.7 248.6L258.1 249.4L261.7 249.8L268.8 249.5L276 248.3L298.7 243.2L305.9 242.1L311.8 241.5L317.8 241.3L323.8 241.5L342.9 242.8L350.1 243.1L356.1 242.8L362 241.7L366.1 240.3L370.1 237.9L372.7 235.5L375.3 231.9L376.9 228.3L377.8 223.5L377.7 218.8L376.7 214L374.9 209.2L372.1 204.4L368.2 199.6L364.4 196.1L359.6 192.5L354.9 189.6L348.9 186.9L342.9 184.8L336.9 183.2L329.8 181.9L322.6 181.2L314.2 180.9L307.1 181.2L298.7 182L290.3 183.5L283.2 185.2L276 187.6L268.8 190.7L263.3 193.7L258.1 197.2L253.3 201.2L249.2 205.6L245.7 210.4L243.2 215.2L241.1 221.1L240.3 225.9L240.3 230.7L241.3 235.5L242.2 237.9L243.5 240.3L246.4 243.9L249.7 246.4L252.1 247.7Z"/>
<path fill="#0202ff" d="M303.1 343.1L308.3 343.9L313 344.2L317.8 344.1L322.6 343.5L327.4 342.5L332.2 341L336.9 339L340.5 337.1L345.3 334L348.9 331.1L352.5 327.6L355.6 323.9L358.4 319.8L360.7 315.6L362.3 312L363.8 307.2L364.8 302.4L365.3 298.8L365.4 294.1L365 289.3L364.1 284.5L362.6 279.7L360.6 274.9L358.6 271.4L356.1 267.8L353.2 264.2L349.6 260.6L345.2 257L341.6 254.6L337.2 252.2L332.2 250.1L327.4 248.6L322.6 247.6L317.8 247L313 246.9L308.3 247.3L303.5 248.2L298.7 249.5L293.9 251.3L289.1 253.8L285.8 255.8L281.1 259.4L277.3 263L274.1 266.6L271.5 270.2L268.7 274.9L266.5 279.7L265 284.5L264 289.3L263.5 294.1L263.5 298.8L264 303.6L265.1 308.4L266.7 313.2L268.8 317.7L271.1 321.6L273.7 325.1L277.2 329.1L280.8 332.4L284.4 335.1L289.1 338L293.9 340.2L298.7 341.9Z"/>
</g>
<path fill="none" stroke="#000" stroke-width="1.5" stroke-linejoin="round" d="M310.7 296.6L308.3 296.2L305.9 295.6L302.3 294.1L300.3 292.9L298.7 291.7L296.2 289.3L295.1 287.9L293.7 285.7L292.2 282.1L291.4 278.5L291.2 276.1L291.4 273.7L291.8 271.4L292.6 269L294.4 265.4L296.2 263L297.3 261.8L300.2 259.4L302.3 258.1L304.6 257L308.3 255.9L311.8 255.4L314.2 255.4L316.6 255.7L320.2 256.5L324 258.2L325.9 259.4L327.5 260.6L328.8 261.8L330.8 264.2L332.9 267.8L334.1 271.4L334.6 274.9L334.4 278.5L333.6 282.1L332 285.7L331 287.3L329.4 289.3L328.2 290.5L326.2 292.2L322.6 294.4L319 295.8L315.4 296.5L313 296.7L310.7 296.6M307.1 319.3L303.5 318.5L299.8 317.4M276.9 289.4L276.6 284.5L276.8 280.9L277.2 278.5L277.8 276.1L279 272.5L280 270.2L281.3 267.8L282.9 265.4L284.7 263L288.2 259.4L290.3 257.6L292.9 255.8L297.5 253.2L302.3 251.4L304.7 250.7L308.3 250L310.7 249.7L314.2 249.6L317.8 249.8L320.2 250.1L323.8 250.9L326.2 251.6L331 253.6L333.4 254.9L336.5 257L340.6 260.6L343.7 264.2L345.4 266.6L346.8 269L347.9 271.4L348.8 273.7L349.5 276.1L350.2 279.7L350.5 284.5L350.4 286.9L350 290.5L349.4 292.9L348.3 296.5L347.2 298.8L346 301.2L344.5 303.6L342.9 305.8L339.3 309.6L336.9 311.7L334.5 313.4L332.2 314.9L329.8 316.1L325 318L322.6 318.7L319 319.4L316.6 319.7L313 319.8L309.5 319.6L307.1 319.3M305.9 343.2L302.3 342.5L297.5 341.2L293.9 339.9L289.1 337.6L285.6 335.5L282 332.9L278.5 329.9L276 327.4L273.1 323.9L270.7 320.4L268.6 316.8L267 313.2L265.7 309.6L264.7 306L263.9 301.2L263.6 297.6L263.7 292.9L264.1 289.3L264.8 285.7L266.2 280.9L267.6 277.3L269.4 273.7L271.6 270.2L274.2 266.6L277.3 263L279.8 260.6L284.2 257L287.8 254.6L291.5 252.5L295.1 250.8L298.7 249.5L303.5 248.2L307.5 247.4L311.8 247L315.4 247L320.2 247.3L325 248.1L328.6 248.9L333.4 250.6L337.1 252.2L340.5 254L344.1 256.3L348.2 259.4L350.8 261.8L354.1 265.4L356.9 269L359.1 272.5L361 276.1L362.5 279.7L363.6 283.3L364.6 288.1L365.1 291.7L365.2 296.5L364.9 300L364.4 303.6L363.6 307.2L362.4 310.8L360.4 315.6L358.5 319.2L356.1 322.7L353.7 325.8L351 328.7L347.7 331.7L344.4 334.2M308.5 343.5L305.9 343.2M305.9 370.6L301.1 369.8L296.3 368.6L291.5 367L286.8 365.1L282 362.6L278.4 360.4L273.6 357L270 354L266.4 350.4L263.2 346.7L260.5 342.9L257.7 338.3L255.7 334.4L253.9 329.9L252.3 325.1L251.3 320.4L250.6 315.6L250.4 310.8L250.5 306L251 301.2L252 296.5L253.3 291.7L255.1 286.9L257.3 282.1L260.1 277.3L262.5 273.7L266.4 269L269.7 265.4L273.6 261.8L276.5 259.4L281.6 255.8L285.6 253.4L290.3 251.1L293.9 249.6L298.7 248L303.5 246.8L308.3 246L311.8 245.7L316.6 245.6L321.4 246L326.2 246.7L331 247.8L335.7 249.3L340.2 251L345.1 253.4L349.3 255.8L352.9 258.2L357.6 261.8L361.6 265.4L365 269L367.9 272.5L370.5 276.1L373.4 280.9L375.2 284.5L376.7 288.1L378.3 292.9L379.5 297.6L380.2 302.4L380.5 307.2L380.5 312L380 316.8L379.2 321.6L377.9 326.3L376.5 330.4M353 359.5L347.7 362.8L342.9 365.2L336.9 367.6L331 369.3L325 370.4L319 371.1L311.8 371.1L305.9 370.6M305.9 402.9L299.9 401.9L293.9 400.6L287.9 398.7L283.2 396.8L277.2 394L272.4 391.3L267.6 388.1L262.9 384.4L258.2 380.1L254.5 376.2L250.9 371.8L247.5 367L244.7 362.2L242.3 357.4L240.2 352L238.5 346.7L237.3 341.9L236.4 335.9L236 331.1L235.9 325.1L236.4 319.2L237.4 313.2L238.5 308.4L240.3 302.4L242.2 297.6L245.1 291.7L247.8 286.9L251 282.1L254.6 277.3L258.7 272.5L263.5 267.8L267.5 264.2L272 260.6L277.2 257L281.1 254.6L286.8 251.6L291.5 249.6L296.3 247.9L301.1 246.6L305.9 245.6L310.7 245.1L315.4 244.9L321.4 245.2L326.2 245.9L331 246.8L335.7 248.2L340.6 249.8L346.3 252.2L351.1 254.6L357.2 258.2L362.5 261.8L367.1 265.4L371.2 269L376.1 273.7L380.2 278.5L383.8 283.3L387.6 289.3L390.1 294.1L392.3 298.8L394 303.6L395.7 309.6L396.7 314.4L397.4 320.4L397.7 325.9M388.2 362.2L385.3 367L381.9 371.8L377.9 376.5L374 380.6L369.2 384.8L364.4 388.4L359.6 391.5L353.7 394.8L347.7 397.4L342.9 399.2L336.9 400.9L331 402.2L325 403.1L319 403.5L311.8 403.4L305.9 402.9M311.8 442.3L304.7 441.7L297.5 440.5L291.5 439.2L284.4 437L278.4 434.8L272.4 432.1L266.4 428.9L260.5 425.1L254.5 420.7L249.7 416.7L244.9 412L240.9 407.6L236.6 402L233 396.6L229.7 390.9L226.9 384.9L224.5 378.9L222.7 372.9L221.3 367L220.2 359.8L219.7 353.8L219.6 347.8L220 340.7L220.9 334.7L222.1 328.7L224 321.6L226.2 315.6L228.7 309.6L232.4 302.4L235.9 296.5L240 290.5L244.6 284.5L248.7 279.7L253.3 274.9L258.3 270.2L263.9 265.4L270.2 260.6L275.6 257L281.9 253.4L286.8 251L292.7 248.6L297.5 247.1L303.5 245.7L308.3 245L313 244.6L319 244.7L325 245.3L329.8 246.1L335.7 247.6L342.6 249.8L348.4 252.2L355.7 255.8L362 259.4L369.3 264.2L375.7 269L381.3 273.7L386.4 278.5L392 284.5L396 289.3L400.4 295.3L404.2 301.2L407.5 307.2L410.2 313.2L412.5 319.4M417.3 345.8L417.3 351.4L417 356.2L416.4 361L415.6 365.8L414.5 370.6L413.1 375.3L411.4 380.1L409.9 383.7L407.7 388.5L405.8 392.1L402.9 396.9L400.3 400.8L396.9 405.2L394.3 408.3L390.7 412.2L387.1 415.7L383.5 418.8L379.9 421.7L375.2 425.1L371.6 427.4L366.8 430.1L362 432.5L357.2 434.7L352.5 436.5L347.7 438.1L342.9 439.4L338.1 440.5L332.2 441.5L327.4 442L321.4 442.4L316.6 442.5L311.8 442.3M71.7 468.1L85 452.3M95.4 440.1L120 411.2L142.8 384.9L161.8 363.4L180.1 343.1L196.7 325.1L210.5 310.8L223.7 297.6L235.1 286.9L246 277.3L256.4 269L266.3 261.8L271.9 258.2L276 255.8L280.4 253.4L285.4 251L289.1 249.5L293.9 247.8L297.5 246.7L302.3 245.6L307.1 244.8L310.7 244.4L314.2 244.3L319 244.3L323.8 244.7L328.6 245.4L332.7 246.2L337.3 247.4L341.2 248.6L346.5 250.5L356.2 254.6L361.1 257L367.9 260.6L378.2 266.6L391.3 274.9L403.5 283.3L419.9 295.3L435.5 307.2L453.6 321.6L472.6 337.1L495.5 356.2L519.5 376.5L549.6 402.5M417.7 7.2L406.4 19.2L395.9 29.9L386.3 39.5L377.5 47.8L369.6 55L361.2 62.2L353.8 68.2L345.6 74.1L338.4 78.9L332.2 82.5L325.1 86.1L319 88.6L313 90.6L307 92.1L299.9 93.1L293.9 93.3L287.9 93.1L280.8 92.1L274.8 90.8L266.9 88.5L260.5 86.1L252.3 82.5L245.2 78.9L236.5 74.1L226.7 68.2L217.5 62.2L207.1 55L197.1 47.8L185.9 39.5L173.4 29.9L159.8 19.2L145.1 7.2M183.9 290.5L187.6 291.1L191.2 291.4L194.8 291.5L199.5 291.3L203.1 290.9L207.9 290L212.7 288.8L217.5 287.2L225.8 283.7L235.4 278.9L243.7 274L267.7 259.4L274.1 255.8L281.3 252.2L289.1 248.9L296.3 246.6L303.5 245L310.7 244.1L317.8 243.9L325 244.4L332.2 245.6L340.5 247.7L347.2 249.8L356.8 253.4L379.9 263.2L389.5 266.9L397.9 269.8L406.2 272L411 273L414.6 273.5L419.4 274L423 274.1L426.5 274L430.1 273.7L433.7 273.2L437.3 272.4L442.1 271L445.7 269.5L449.2 267.7L453.1 265.4L456.4 262.9L460.2 259.4L463.4 255.8L466.1 252.2L468.3 248.6L470.8 243.9L472.2 240.3L473.8 235.5L474.9 230.7L475.6 225.9L476 221.1L476 215.4M473.6 199.7L471.7 193.7L469.9 188.9L467.6 184.1L465 179.3L461.9 174.5L458.3 169.8L454.2 165L450.4 161.1L445.7 156.8L440.9 153.1L436.1 149.8L431.3 146.9L426.5 144.4L420.6 141.6L414.6 139.3L408.6 137.4L403.8 136.1L399.1 135.1L394.3 134.2L388.3 133.4L377.6 132.5L366.8 132.3L358.4 132.6L347.7 133.4L315.4 136.9L302.3 138.1L289.1 138.9L269.1 139.7M253.2 140.6L242.5 141.6L234.2 142.7L225.8 144.2L217.5 146.2L210.3 148.4L203.1 151L196 154.2L189 157.8L182.8 161.6L176.5 166.2L170.9 170.9L166 175.7L161.8 180.5L157.2 186.5L153.4 192.5L149.6 199.6L146.7 206.8L144.5 214L143 221.1L142.2 228.3L142.1 235.5L142.8 242.7L144.2 249.8L145.2 253.4L146.4 257L149.1 263L151.1 266.6L152.6 269L156.5 274.1L158.9 276.7L161.3 279L163.7 281L166.8 283.3L172.1 286.3L174.4 287.5L178 288.9L183.9 290.5M212.4 273.7L217.5 274.4L223.4 274.4L229.4 273.6L233 272.8L236.6 271.9L242.5 269.8L249.7 266.8L256.9 263.4L274.5 254.6L280.8 251.7L286.8 249.3L292.7 247.2L298.7 245.6L304.7 244.4L310.7 243.7L316.6 243.5L322.6 243.8L328.6 244.5L335.7 245.9L342.2 247.4L347.7 249L372.8 257L378.8 258.6L384.7 259.9L390.7 260.7L395.5 261L400.3 260.9L405 260.3L409.8 259.2L414.6 257.5L419.4 254.9L423.1 252.2L426.8 248.6L429.7 245.1L432.6 240.3L434.7 235.3M436.1 208.7L435.1 204.4L433.5 199.6L431.4 194.9L428.8 190.1L425.7 185.3L422.9 181.7L419.8 178.1L415.8 174.1L412.1 170.9L407.4 167.5L402.6 164.4L397.9 161.8L393.1 159.5L387.1 157.1L381.1 155.2L376.4 153.9L370.4 152.6L365.6 151.8L359.6 151L353.7 150.5L347.7 150.2L340.5 150.1L325 150.6L313 151.3L296.3 152.6L284.4 153.6L273.6 154.8L265.2 156L258.1 157.2L250.9 158.8L243.7 160.7L239 162.2L233 164.4L227 167L222.2 169.4L217.4 172.1L212.7 175.2L208.8 178.1L204.5 181.7L200.8 185.3L197.5 188.9L194.6 192.5L191.2 197.2L189.1 200.8L186.7 205.6L184.7 210.4L183.1 215.2L182 220L181.1 225.9L180.8 230.7L181 235.5L181.6 240.3L182.7 245.1L184.3 249.8L186 253.4L188 257L190.6 260.6L193.6 263.9L196.6 266.6L200.1 269L204.3 271.2L207.9 272.6L212.4 273.7M239 260.6L242.5 260.8L246.1 260.6L249.7 260.2L254.5 259.3L259.3 258L264.1 256.4L283.2 249.3L291.5 246.6L296.3 245.3L301.1 244.3L305.9 243.5L310.7 243L314.2 242.9L319 242.9L327.4 243.4L336.9 244.9L356.1 248.9L363.2 250.1L368 250.6L371.6 250.8L375.2 250.8L378.5 250.5M400.8 237.1L402.3 234.3L403.7 230.7L404.6 227.1L405.1 222.3L405.1 218.8L404.7 215.2L403.7 210.4L402.6 206.8L400.5 202L398.5 198.4L396.1 194.9L393.2 191.3L389.8 187.7L387.1 185.2L383.5 182.3L378.8 179.1L375 176.9L370.4 174.6L366.8 173.1L362 171.4L357.2 170L352.5 168.8L347.7 167.8L341.7 167L335.7 166.4L329.8 166L323.8 165.9L316.6 165.9L309.5 166.2L302.3 166.7L289.1 168.2L283.2 169.2L277.2 170.3L271.2 171.7L265.2 173.4L260.5 174.9L255.7 176.8L250.9 178.9L246.1 181.3L241.4 184.1L237.9 186.5L234.2 189.3L230.6 192.5L227.1 196L224.1 199.6L221.5 203.2L219.3 206.8L216.9 211.6L215.5 215.2L214.1 220L213.3 224.7L213 229.5L213.1 233.1L213.9 237.9L214.9 241.5L216.4 245.1L218.5 248.6L221.4 252.2L224 254.6L227 256.7L230.6 258.5L234.2 259.7L239 260.6M255.5 248.6L258.1 249.2L261.7 249.6L265.2 249.6L268.8 249.3L276 248.2L292.7 244.3L301.1 242.7L309.5 241.7L314.2 241.4L319.3 241.3M346.2 243L351.3 243L356.1 242.7L359.6 242.1L363.2 241.2L366.8 239.7L369.6 237.9L372.3 235.5L374.2 233.1L375.5 230.7L376.8 227.1L377.4 223.5L377.4 220L376.9 216.4L376 212.8L374.5 209.2L372.4 205.6L370.4 202.7L367.7 199.6L365.3 197.2L362 194.5L358.4 192.1L354.9 190L351.3 188.2L346.5 186.2L342.9 185L338.1 183.7L333.4 182.7L328.6 182L322.6 181.4L317.8 181.2L313 181.2L307.1 181.4L297.5 182.4L289.1 183.9L280.8 186.2L277.2 187.4L272.4 189.3L268.8 190.9L265.2 192.8L261.7 195L258.5 197.2L255.5 199.6L252.9 202L250.6 204.4L248.6 206.8L246.9 209.2L244.7 212.8L243 216.4L242.1 218.8L241.2 222.3L240.7 225.9L240.6 229.5L240.8 231.9L241.7 235.5L242.6 237.9L243.9 240.3L245.7 242.7L247.3 244.3L249.9 246.2L252.2 247.4L255.5 248.6M283.8 240.3L287.9 240.3L291.5 240.1L309.5 238.5L329.8 237.2L335.7 236.4L340.5 235.2L344.1 233.7L346.5 232.2L348.3 230.7L350.1 228.3L351.1 225.9L351.6 223.5L351.6 221.1L350.9 217.6L349.9 215.2L348.5 212.8L346.7 210.4L345.3 208.9L343 206.8L340.5 205L337.6 203.2L334.5 201.7L331 200.3L327.4 199.2L323.8 198.3L320.2 197.8L316.6 197.4L313 197.2L308.3 197.3L304.7 197.6L301.1 198.1L296.3 199.1L292.7 200.1L289.1 201.4L285.6 202.9L282.6 204.4L279.6 206.3L277.2 208L274.4 210.4L272.2 212.8L270.3 215.2L268.8 217.6L267.7 220L266.9 222.3L266.5 224.7L266.3 226.9M308.2 224.7L309.5 224.7L310.9 223.5L310.7 223.2L309.5 222.7L308.3 222.9L307 223.5L308.2 224.7"/>
<g font-size="18.3" text-anchor="middle" letter-spacing="0.8">
<text transform="translate(261.2 140.1) rotate(-3.1)" x="0.4" y="6.6">5</text>
<text transform="translate(475.2 207.5) rotate(81.3)" x="0.4" y="6.6">5</text>
<text transform="translate(437.2 222.1) rotate(-74)" x="0.4" y="6.6">10</text>
<text transform="translate(391.3 246.5) rotate(-31)" x="0.4" y="6.6">20</text>
<text transform="translate(332.7 242) rotate(3.5)" x="0.4" y="6.6">40</text>
<text transform="translate(273.1 237.8) rotate(37.3)" x="0.4" y="6.6">80</text>
<text transform="translate(284.5 306.5) rotate(50.6)" x="0.4" y="6.6">–80</text>
<text transform="translate(327.3 342.2) rotate(-14.5)" x="0.4" y="6.6">–40</text>
<text transform="translate(366.9 346.8) rotate(-51.1)" x="0.4" y="6.6">–20</text>
<text transform="translate(395.3 344.6) rotate(-75.4)" x="0.4" y="6.6">–10</text>
<text transform="translate(415.9 332.4) rotate(79.8)" x="0.4" y="6.6">–5</text>
<text transform="translate(90.2 446.2) rotate(-49.7)" x="0.4" y="6.6">0</text>
</g>
<path stroke="#00ff00" stroke-width="5.9" fill="none" d="M228.5 188L249.4 208.9M228.5 208.9L249.4 188"/>
<path stroke="#00ff00" stroke-width="5.9" fill="none" d="M228.5 307.5L249.4 328.4M228.5 328.4L249.4 307.5"/>
<path stroke="#00ff00" stroke-width="5.9" fill="none" d="M228.5 403.1L249.4 424M228.5 424L249.4 403.1"/>
<path stroke="#a020f0" stroke-width="3" fill="none" d="M137.2 48.8L149.6 61.2M137.2 61.2L149.6 48.8"/>
<path stroke="#a020f0" stroke-width="3" fill="none" d="M328.3 120.5L340.7 132.9M328.3 132.9L340.7 120.5"/>
<path stroke="#a020f0" stroke-width="3" fill="none" d="M519.5 168.3L531.9 180.7M519.5 180.7L531.9 168.3"/>
<path stroke="#a020f0" stroke-width="3" fill="none" d="M232.8 192.2L245.2 204.6M232.8 204.6L245.2 192.2"/>
<path stroke="#a020f0" stroke-width="3" fill="none" d="M232.8 311.8L245.2 324.2M232.8 324.2L245.2 311.8"/>
<path stroke="#a020f0" stroke-width="3" fill="none" d="M400 407.4L412.4 419.8M400 419.8L412.4 407.4"/>
<circle cx="310.7" cy="246.2" r="9.1" fill="#ffa500" stroke="#fff" stroke-width="1.8"/>
<path fill="none" stroke="#000" stroke-width="1.5" d="M501 137V37.8L493 49.3L507 64.8M464.5 96H537.5"/>
<text x="500.7" y="29.6" font-size="21.5" text-anchor="middle">N</text>
</g>
<path fill="none" stroke="#000" stroke-width="1.15" d="M71.7 485.3v7.2M71.7 7.2v-7.2M71.7 485.3h-7.2M549.6 485.3h7.2M95.6 485.3v3.6M95.6 7.2v-3.6M71.7 461.4h-3.6M549.6 461.4h3.6M119.5 485.3v3.6M119.5 7.2v-3.6M71.7 437.5h-3.6M549.6 437.5h3.6M143.4 485.3v3.6M143.4 7.2v-3.6M71.7 413.6h-3.6M549.6 413.6h3.6M167.3 485.3v3.6M167.3 7.2v-3.6M71.7 389.7h-3.6M549.6 389.7h3.6M191.2 485.3v7.2M191.2 7.2v-7.2M71.7 365.8h-7.2M549.6 365.8h7.2M215.1 485.3v3.6M215.1 7.2v-3.6M71.7 341.9h-3.6M549.6 341.9h3.6M239 485.3v3.6M239 7.2v-3.6M71.7 318h-3.6M549.6 318h3.6M262.9 485.3v3.6M262.9 7.2v-3.6M71.7 294.1h-3.6M549.6 294.1h3.6M286.8 485.3v3.6M286.8 7.2v-3.6M71.7 270.2h-3.6M549.6 270.2h3.6M310.7 485.3v7.2M310.7 7.2v-7.2M71.7 246.2h-7.2M549.6 246.2h7.2M334.5 485.3v3.6M334.5 7.2v-3.6M71.7 222.3h-3.6M549.6 222.3h3.6M358.4 485.3v3.6M358.4 7.2v-3.6M71.7 198.4h-3.6M549.6 198.4h3.6M382.3 485.3v3.6M382.3 7.2v-3.6M71.7 174.5h-3.6M549.6 174.5h3.6M406.2 485.3v3.6M406.2 7.2v-3.6M71.7 150.6h-3.6M549.6 150.6h3.6M430.1 485.3v7.2M430.1 7.2v-7.2M71.7 126.7h-7.2M549.6 126.7h7.2M454 485.3v3.6M454 7.2v-3.6M71.7 102.8h-3.6M549.6 102.8h3.6M477.9 485.3v3.6M477.9 7.2v-3.6M71.7 78.9h-3.6M549.6 78.9h3.6M501.8 485.3v3.6M501.8 7.2v-3.6M71.7 55h-3.6M549.6 55h3.6M525.7 485.3v3.6M525.7 7.2v-3.6M71.7 31.1h-3.6M549.6 31.1h3.6M549.6 485.3v7.2M549.6 7.2v-7.2M71.7 7.2h-7.2M549.6 7.2h7.2"/>
<rect x="71.7" y="7.2" width="477.9" height="478.1" fill="none" stroke="#000" stroke-width="1.4"/>
<g font-size="17.3" letter-spacing="1">
<text x="73.7" y="510.4" text-anchor="middle">–10</text>
<text x="61.4" y="490.1" text-anchor="end">–10</text>
<text x="192.5" y="510.4" text-anchor="middle">–5</text>
<text x="61.4" y="371.4" text-anchor="end">–5</text>
<text x="311.9" y="510.4" text-anchor="middle">0</text>
<text x="61.4" y="253.2" text-anchor="end">0</text>
<text x="430.2" y="510.4" text-anchor="middle">5</text>
<text x="61.4" y="134.4" text-anchor="end">5</text>
<text x="549.7" y="510.4" text-anchor="middle">10</text>
<text x="61.4" y="15.2" text-anchor="end">10</text>
</g>
<text x="311.4" y="539.4" font-size="26.1" text-anchor="middle">Y (km)</text>
<text transform="translate(18.8 246.8) rotate(-90)" font-size="26.1" text-anchor="middle">X (km)</text>
<path d="M620.6 67.5L627.8 59.5L635 67.5Z" fill="#f00" stroke="#000" stroke-width="2.8" stroke-linejoin="miter"/>
<path d="M620.6 424.6L627.8 432.6L635 424.6Z" fill="#00f" stroke="#000" stroke-width="2.8" stroke-linejoin="miter"/>
<rect x="620.6" y="67.5" width="14.4" height="357.1" fill="url(#cb)" stroke="#000" stroke-width="2.8"/>
<path fill="none" stroke="#000" stroke-width="1.4" d="M636.4 67.5h8M636.4 156.8h8M636.4 246.1h8M636.4 335.3h8M636.4 424.6h8"/>
<g font-size="20.5" text-anchor="end">
<text x="685.1" y="74.7">40</text>
<text x="685.1" y="164">20</text>
<text x="685.1" y="253.2">0</text>
<text x="685.1" y="342.5">–20</text>
<text x="685.1" y="431.8">–40</text>
</g>
<text transform="translate(607.6 246.6) rotate(-90)" font-size="29.7" text-anchor="middle">Total magnetic anomaly (nT)</text>
</svg></body></html>
